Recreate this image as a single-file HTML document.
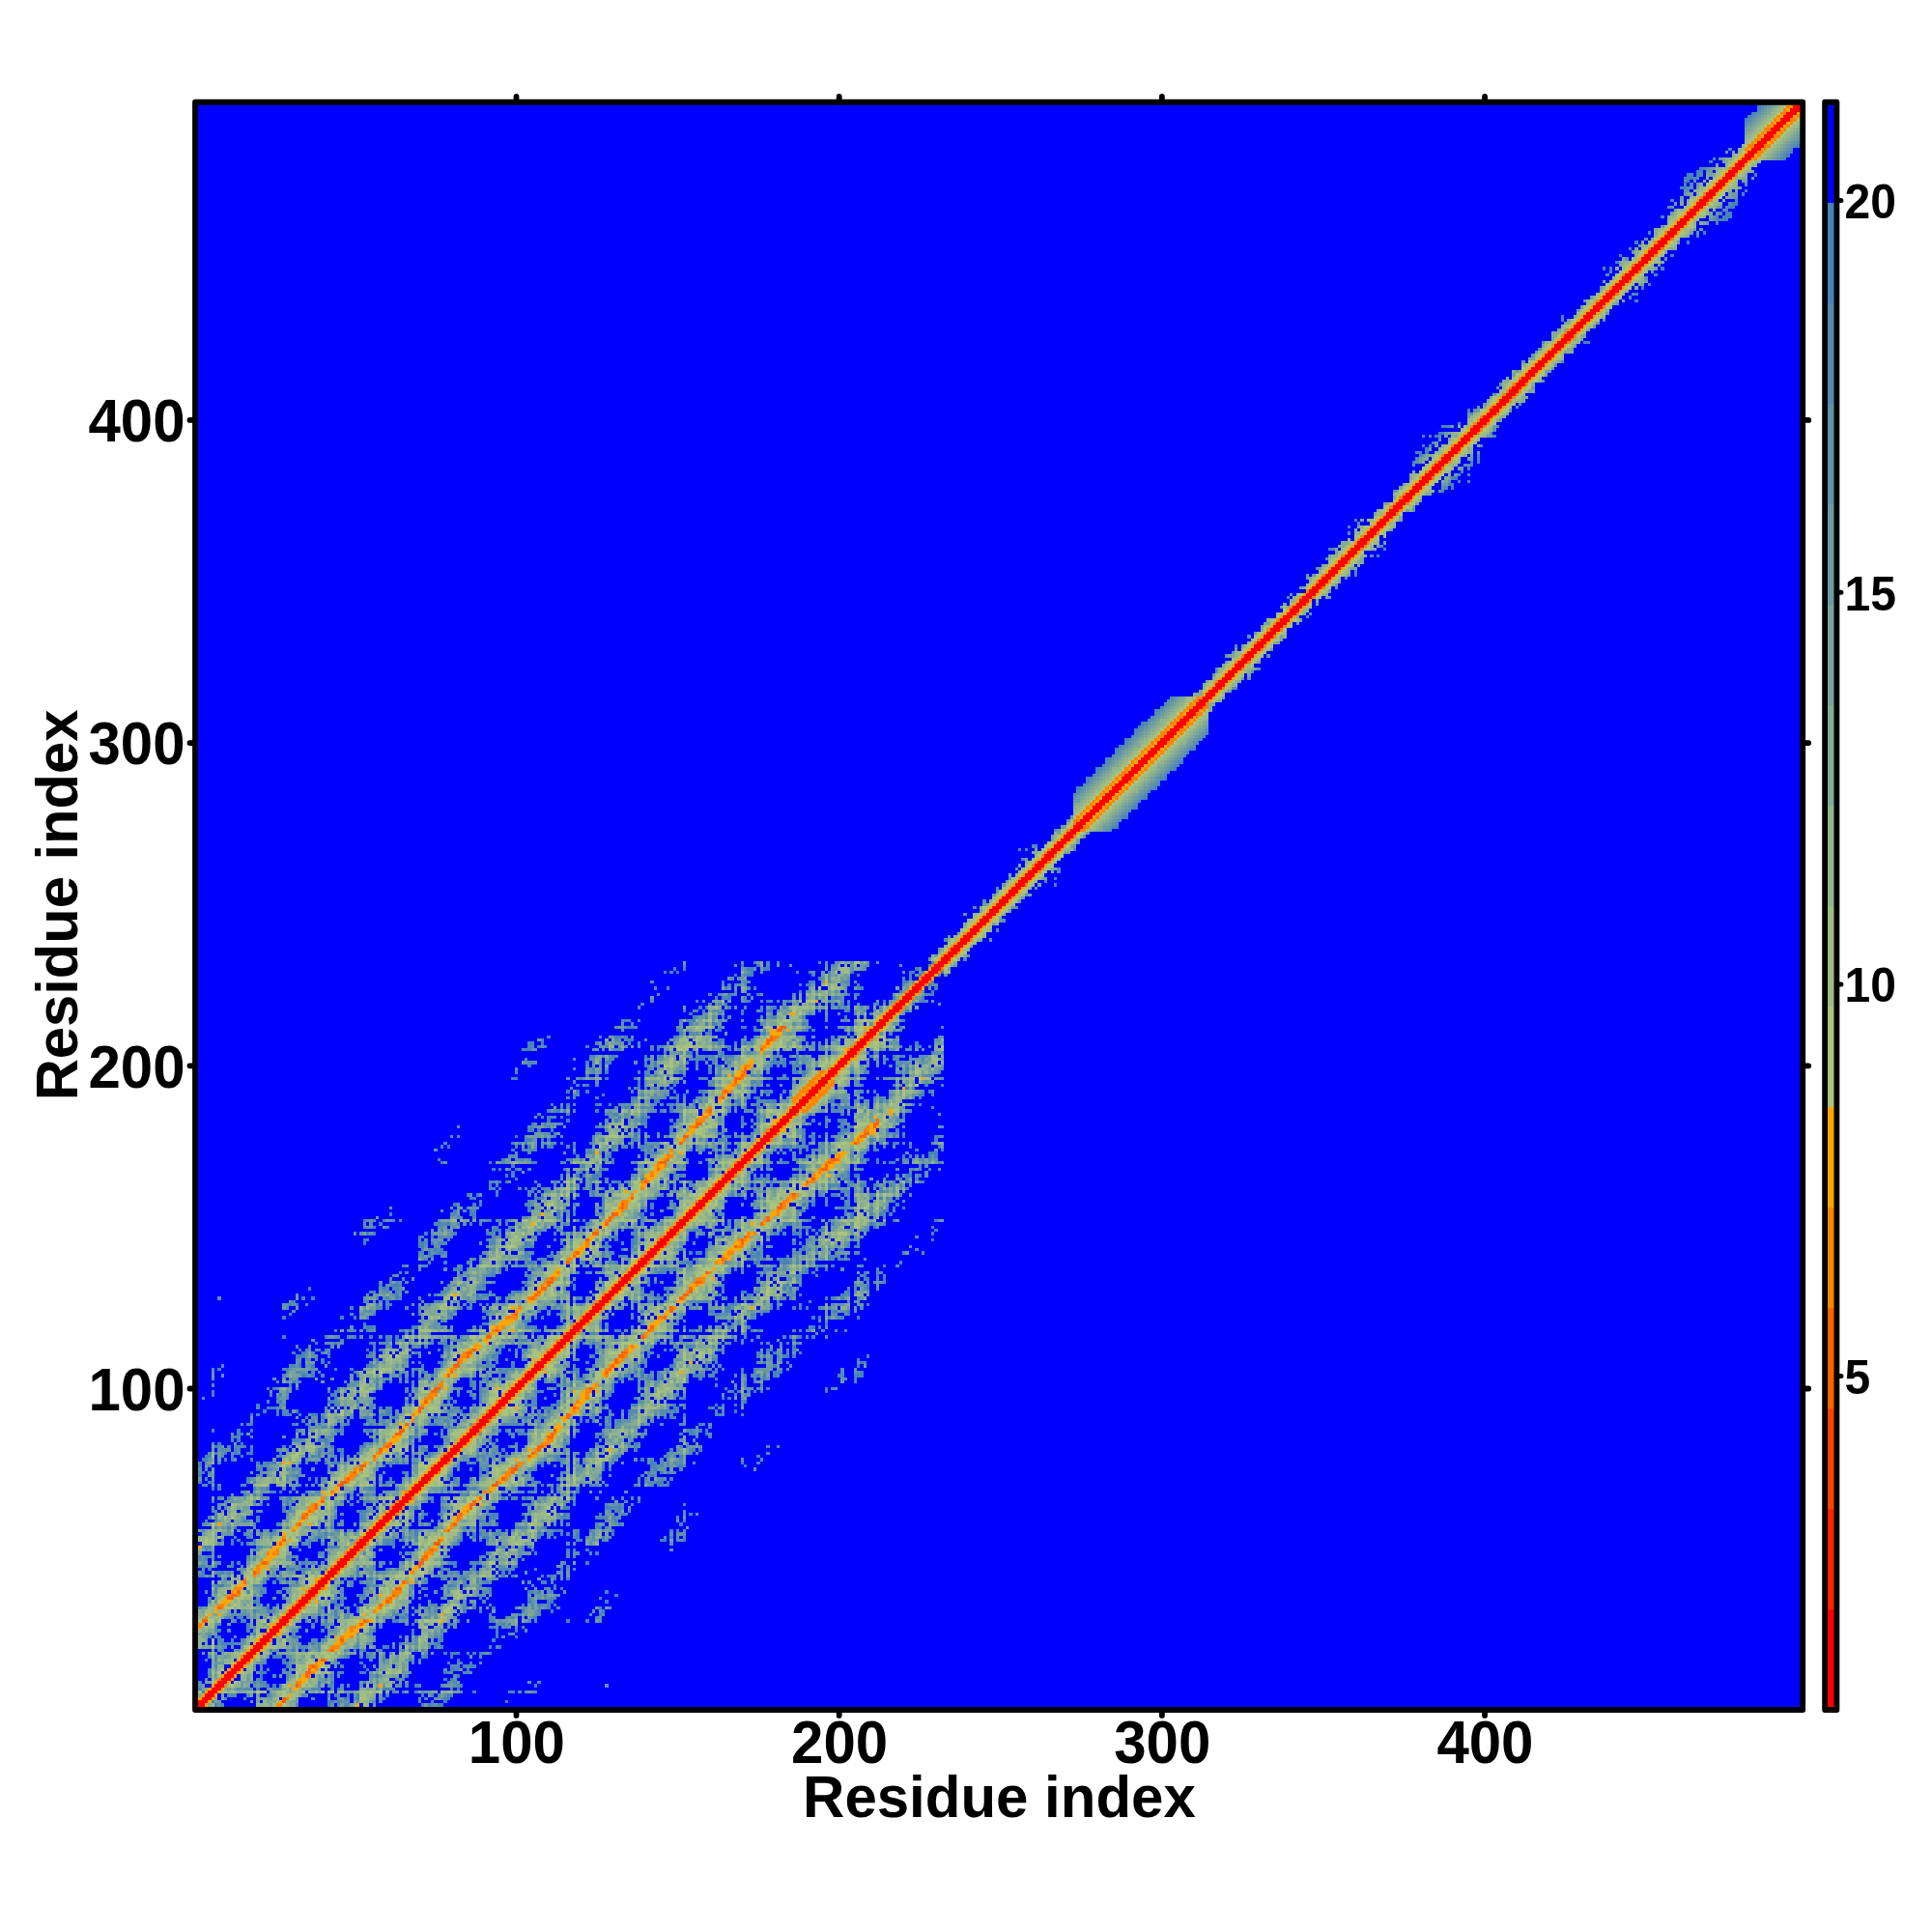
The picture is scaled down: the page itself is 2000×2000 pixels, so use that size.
<!DOCTYPE html><html><head><meta charset="utf-8"><title>Residue contact map</title>
<style>html,body{margin:0;padding:0;background:#fff;width:2000px;height:2000px;overflow:hidden}svg{display:block}text{font-family:"Liberation Sans",sans-serif;font-weight:bold;fill:#000}</style></head><body>
<svg width="2000" height="2000" viewBox="0 0 2000 2000">
<rect x="0" y="0" width="2000" height="2000" fill="#fff"/>
<rect x="202.0" y="105.75" width="1664.20" height="1664.25" fill="#0000ff"/>
<g transform="translate(202.0 1770.0) scale(3.341767 -3.341867)" shape-rendering="crispEdges">
<path fill="#ff0000" d="M0 0h2v1h-2zM0 1h3v1h-3zM1 2h3v1h-3zM2 3h3v1h-3zM3 4h3v1h-3zM4 5h3v1h-3zM5 6h3v1h-3zM6 7h3v1h-3zM7 8h3v1h-3zM8 9h3v1h-3zM9 10h3v1h-3zM10 11h3v1h-3zM11 12h3v1h-3zM12 13h3v1h-3zM13 14h3v1h-3zM14 15h3v1h-3zM15 16h3v1h-3zM16 17h3v1h-3zM17 18h3v1h-3zM18 19h3v1h-3zM19 20h3v1h-3zM20 21h3v1h-3zM21 22h3v1h-3zM22 23h3v1h-3zM23 24h3v1h-3zM24 25h3v1h-3zM25 26h3v1h-3zM26 27h3v1h-3zM27 28h3v1h-3zM28 29h3v1h-3zM29 30h3v1h-3zM30 31h3v1h-3zM31 32h3v1h-3zM32 33h3v1h-3zM33 34h3v1h-3zM34 35h3v1h-3zM35 36h3v1h-3zM36 37h3v1h-3zM37 38h3v1h-3zM38 39h3v1h-3zM39 40h3v1h-3zM40 41h3v1h-3zM41 42h3v1h-3zM42 43h3v1h-3zM43 44h3v1h-3zM44 45h3v1h-3zM45 46h3v1h-3zM46 47h3v1h-3zM47 48h3v1h-3zM48 49h3v1h-3zM49 50h3v1h-3zM50 51h3v1h-3zM51 52h3v1h-3zM52 53h3v1h-3zM53 54h3v1h-3zM54 55h3v1h-3zM55 56h3v1h-3zM56 57h3v1h-3zM57 58h3v1h-3zM58 59h3v1h-3zM59 60h3v1h-3zM60 61h3v1h-3zM61 62h3v1h-3zM62 63h3v1h-3zM63 64h3v1h-3zM64 65h3v1h-3zM65 66h3v1h-3zM66 67h3v1h-3zM67 68h3v1h-3zM68 69h3v1h-3zM69 70h3v1h-3zM70 71h3v1h-3zM71 72h3v1h-3zM72 73h3v1h-3zM73 74h3v1h-3zM74 75h3v1h-3zM75 76h3v1h-3zM76 77h3v1h-3zM77 78h3v1h-3zM78 79h3v1h-3zM79 80h3v1h-3zM80 81h3v1h-3zM81 82h3v1h-3zM82 83h3v1h-3zM83 84h3v1h-3zM84 85h3v1h-3zM85 86h3v1h-3zM86 87h3v1h-3zM87 88h3v1h-3zM88 89h3v1h-3zM89 90h3v1h-3zM90 91h3v1h-3zM91 92h3v1h-3zM92 93h3v1h-3zM93 94h3v1h-3zM94 95h3v1h-3zM95 96h3v1h-3zM96 97h3v1h-3zM97 98h3v1h-3zM98 99h3v1h-3zM99 100h3v1h-3zM100 101h3v1h-3zM101 102h3v1h-3zM102 103h3v1h-3zM103 104h3v1h-3zM104 105h3v1h-3zM105 106h3v1h-3zM106 107h3v1h-3zM107 108h3v1h-3zM108 109h3v1h-3zM109 110h3v1h-3zM110 111h3v1h-3zM111 112h3v1h-3zM112 113h3v1h-3zM113 114h3v1h-3zM114 115h3v1h-3zM115 116h3v1h-3zM116 117h3v1h-3zM117 118h3v1h-3zM118 119h3v1h-3zM119 120h3v1h-3zM120 121h3v1h-3zM121 122h3v1h-3zM122 123h3v1h-3zM123 124h3v1h-3zM124 125h3v1h-3zM125 126h3v1h-3zM126 127h3v1h-3zM127 128h3v1h-3zM128 129h3v1h-3zM129 130h3v1h-3zM130 131h3v1h-3zM131 132h3v1h-3zM132 133h3v1h-3zM133 134h3v1h-3zM134 135h3v1h-3zM135 136h3v1h-3zM136 137h3v1h-3zM137 138h3v1h-3zM138 139h3v1h-3zM139 140h3v1h-3zM140 141h3v1h-3zM141 142h3v1h-3zM142 143h3v1h-3zM143 144h3v1h-3zM144 145h3v1h-3zM145 146h3v1h-3zM146 147h3v1h-3zM147 148h3v1h-3zM148 149h3v1h-3zM149 150h3v1h-3zM150 151h3v1h-3zM151 152h3v1h-3zM152 153h3v1h-3zM153 154h3v1h-3zM154 155h3v1h-3zM155 156h3v1h-3zM156 157h3v1h-3zM157 158h3v1h-3zM158 159h3v1h-3zM159 160h3v1h-3zM160 161h3v1h-3zM161 162h3v1h-3zM162 163h3v1h-3zM163 164h3v1h-3zM164 165h3v1h-3zM165 166h3v1h-3zM166 167h3v1h-3zM167 168h3v1h-3zM168 169h3v1h-3zM169 170h3v1h-3zM170 171h3v1h-3zM171 172h3v1h-3zM172 173h3v1h-3zM173 174h3v1h-3zM174 175h3v1h-3zM175 176h3v1h-3zM176 177h3v1h-3zM177 178h3v1h-3zM178 179h3v1h-3zM179 180h3v1h-3zM180 181h3v1h-3zM181 182h3v1h-3zM182 183h3v1h-3zM183 184h3v1h-3zM184 185h3v1h-3zM185 186h3v1h-3zM186 187h3v1h-3zM187 188h3v1h-3zM188 189h3v1h-3zM189 190h3v1h-3zM190 191h3v1h-3zM191 192h3v1h-3zM192 193h3v1h-3zM193 194h3v1h-3zM194 195h3v1h-3zM195 196h3v1h-3zM196 197h3v1h-3zM197 198h3v1h-3zM198 199h3v1h-3zM199 200h3v1h-3zM200 201h3v1h-3zM201 202h3v1h-3zM202 203h3v1h-3zM203 204h3v1h-3zM204 205h3v1h-3zM205 206h3v1h-3zM206 207h3v1h-3zM207 208h3v1h-3zM208 209h3v1h-3zM209 210h3v1h-3zM210 211h3v1h-3zM211 212h3v1h-3zM212 213h3v1h-3zM213 214h3v1h-3zM214 215h3v1h-3zM215 216h3v1h-3zM216 217h3v1h-3zM217 218h3v1h-3zM218 219h3v1h-3zM219 220h3v1h-3zM220 221h3v1h-3zM221 222h3v1h-3zM222 223h3v1h-3zM223 224h3v1h-3zM224 225h3v1h-3zM225 226h3v1h-3zM226 227h3v1h-3zM227 228h3v1h-3zM228 229h3v1h-3zM229 230h3v1h-3zM230 231h3v1h-3zM231 232h3v1h-3zM232 233h3v1h-3zM233 234h3v1h-3zM234 235h3v1h-3zM235 236h3v1h-3zM236 237h3v1h-3zM237 238h3v1h-3zM238 239h3v1h-3zM239 240h3v1h-3zM240 241h3v1h-3zM241 242h3v1h-3zM242 243h3v1h-3zM243 244h3v1h-3zM244 245h3v1h-3zM245 246h3v1h-3zM246 247h3v1h-3zM247 248h3v1h-3zM248 249h3v1h-3zM249 250h3v1h-3zM250 251h3v1h-3zM251 252h3v1h-3zM252 253h3v1h-3zM253 254h3v1h-3zM254 255h3v1h-3zM255 256h3v1h-3zM256 257h3v1h-3zM257 258h3v1h-3zM258 259h3v1h-3zM259 260h3v1h-3zM260 261h3v1h-3zM261 262h3v1h-3zM262 263h3v1h-3zM263 264h3v1h-3zM264 265h3v1h-3zM265 266h3v1h-3zM266 267h3v1h-3zM267 268h3v1h-3zM268 269h3v1h-3zM269 270h3v1h-3zM270 271h3v1h-3zM271 272h3v1h-3zM272 273h3v1h-3zM273 274h3v1h-3zM274 275h3v1h-3zM275 276h3v1h-3zM276 277h3v1h-3zM277 278h3v1h-3zM278 279h3v1h-3zM279 280h3v1h-3zM280 281h3v1h-3zM281 282h3v1h-3zM282 283h3v1h-3zM283 284h3v1h-3zM284 285h3v1h-3zM285 286h3v1h-3zM286 287h3v1h-3zM287 288h3v1h-3zM288 289h3v1h-3zM289 290h3v1h-3zM290 291h3v1h-3zM291 292h3v1h-3zM292 293h3v1h-3zM293 294h3v1h-3zM294 295h3v1h-3zM295 296h3v1h-3zM296 297h3v1h-3zM297 298h3v1h-3zM298 299h3v1h-3zM299 300h3v1h-3zM300 301h3v1h-3zM301 302h3v1h-3zM302 303h3v1h-3zM303 304h3v1h-3zM304 305h3v1h-3zM305 306h3v1h-3zM306 307h3v1h-3zM307 308h3v1h-3zM308 309h3v1h-3zM309 310h3v1h-3zM310 311h3v1h-3zM311 312h3v1h-3zM312 313h3v1h-3zM313 314h3v1h-3zM314 315h3v1h-3zM315 316h3v1h-3zM316 317h3v1h-3zM317 318h3v1h-3zM318 319h3v1h-3zM319 320h3v1h-3zM320 321h3v1h-3zM321 322h3v1h-3zM322 323h3v1h-3zM323 324h3v1h-3zM324 325h3v1h-3zM325 326h3v1h-3zM326 327h3v1h-3zM327 328h3v1h-3zM328 329h3v1h-3zM329 330h3v1h-3zM330 331h3v1h-3zM331 332h3v1h-3zM332 333h3v1h-3zM333 334h3v1h-3zM334 335h3v1h-3zM335 336h3v1h-3zM336 337h3v1h-3zM337 338h3v1h-3zM338 339h3v1h-3zM339 340h3v1h-3zM340 341h3v1h-3zM341 342h3v1h-3zM342 343h3v1h-3zM343 344h3v1h-3zM344 345h3v1h-3zM345 346h3v1h-3zM346 347h3v1h-3zM347 348h3v1h-3zM348 349h3v1h-3zM349 350h3v1h-3zM350 351h3v1h-3zM351 352h3v1h-3zM352 353h3v1h-3zM353 354h3v1h-3zM354 355h3v1h-3zM355 356h3v1h-3zM356 357h3v1h-3zM357 358h3v1h-3zM358 359h3v1h-3zM359 360h3v1h-3zM360 361h3v1h-3zM361 362h3v1h-3zM362 363h3v1h-3zM363 364h3v1h-3zM364 365h3v1h-3zM365 366h3v1h-3zM366 367h3v1h-3zM367 368h3v1h-3zM368 369h3v1h-3zM369 370h3v1h-3zM370 371h3v1h-3zM371 372h3v1h-3zM372 373h3v1h-3zM373 374h3v1h-3zM374 375h3v1h-3zM375 376h3v1h-3zM376 377h3v1h-3zM377 378h3v1h-3zM378 379h3v1h-3zM379 380h3v1h-3zM380 381h3v1h-3zM381 382h3v1h-3zM382 383h3v1h-3zM383 384h3v1h-3zM384 385h3v1h-3zM385 386h3v1h-3zM386 387h3v1h-3zM387 388h3v1h-3zM388 389h3v1h-3zM389 390h3v1h-3zM390 391h3v1h-3zM391 392h3v1h-3zM392 393h3v1h-3zM393 394h3v1h-3zM394 395h3v1h-3zM395 396h3v1h-3zM396 397h3v1h-3zM397 398h3v1h-3zM398 399h3v1h-3zM399 400h3v1h-3zM400 401h3v1h-3zM401 402h3v1h-3zM402 403h3v1h-3zM403 404h3v1h-3zM404 405h3v1h-3zM405 406h3v1h-3zM406 407h3v1h-3zM407 408h3v1h-3zM408 409h3v1h-3zM409 410h3v1h-3zM410 411h3v1h-3zM411 412h3v1h-3zM412 413h3v1h-3zM413 414h3v1h-3zM414 415h3v1h-3zM415 416h3v1h-3zM416 417h3v1h-3zM417 418h3v1h-3zM418 419h3v1h-3zM419 420h3v1h-3zM420 421h3v1h-3zM421 422h3v1h-3zM422 423h3v1h-3zM423 424h3v1h-3zM424 425h3v1h-3zM425 426h3v1h-3zM426 427h3v1h-3zM427 428h3v1h-3zM428 429h3v1h-3zM429 430h3v1h-3zM430 431h3v1h-3zM431 432h3v1h-3zM432 433h3v1h-3zM433 434h3v1h-3zM434 435h3v1h-3zM435 436h3v1h-3zM436 437h3v1h-3zM437 438h3v1h-3zM438 439h3v1h-3zM439 440h3v1h-3zM440 441h3v1h-3zM441 442h3v1h-3zM442 443h3v1h-3zM443 444h3v1h-3zM444 445h3v1h-3zM445 446h3v1h-3zM446 447h3v1h-3zM447 448h3v1h-3zM448 449h3v1h-3zM449 450h3v1h-3zM450 451h3v1h-3zM451 452h3v1h-3zM452 453h3v1h-3zM453 454h3v1h-3zM454 455h3v1h-3zM455 456h3v1h-3zM456 457h3v1h-3zM457 458h3v1h-3zM458 459h3v1h-3zM459 460h3v1h-3zM460 461h3v1h-3zM461 462h3v1h-3zM462 463h3v1h-3zM463 464h3v1h-3zM464 465h3v1h-3zM465 466h3v1h-3zM466 467h3v1h-3zM467 468h3v1h-3zM468 469h3v1h-3zM469 470h3v1h-3zM470 471h3v1h-3zM471 472h3v1h-3zM472 473h3v1h-3zM473 474h3v1h-3zM474 475h3v1h-3zM475 476h3v1h-3zM476 477h3v1h-3zM477 478h3v1h-3zM478 479h3v1h-3zM479 480h3v1h-3zM480 481h3v1h-3zM481 482h3v1h-3zM482 483h3v1h-3zM483 484h3v1h-3zM484 485h3v1h-3zM485 486h3v1h-3zM486 487h3v1h-3zM487 488h3v1h-3zM488 489h3v1h-3zM489 490h3v1h-3zM490 491h3v1h-3zM491 492h3v1h-3zM492 493h3v1h-3zM493 494h3v1h-3zM494 495h3v1h-3zM495 496h3v1h-3zM496 497h2v1h-2z"/>
<path fill="#ff6300" d="M27 2h1v2h-1zM31 7h1v1h-1zM34 10h1v1h-1zM34 11h2v1h-2zM35 12h1v1h-1zM36 13h1v1h-1zM39 15h1v1h-1zM42 18h1v1h-1zM45 21h1v1h-1zM51 26h1v1h-1zM2 27h2v1h-2zM52 27h1v1h-1zM7 31h1v1h-1zM57 32h1v1h-1zM59 33h1v1h-1zM10 34h2v1h-2zM60 34h1v1h-1zM11 35h2v1h-2zM61 35h1v1h-1zM13 36h1v1h-1zM62 37h2v1h-2zM15 39h1v1h-1zM64 39h1v1h-1zM18 42h1v1h-1zM69 44h1v1h-1zM21 45h1v1h-1zM69 45h2v1h-2zM70 46h1v1h-1zM71 47h1v1h-1zM73 49h1v1h-1zM26 51h1v1h-1zM74 51h2v1h-2zM27 52h1v1h-1zM75 52h1v1h-1zM78 55h1v1h-1zM32 57h1v1h-1zM80 57h1v1h-1zM33 59h1v1h-1zM81 59h1v1h-1zM34 60h1v1h-1zM82 60h1v1h-1zM35 61h1v1h-1zM37 62h1v2h-1zM85 62h1v1h-1zM85 63h2v1h-2zM39 64h1v1h-1zM86 64h1v1h-1zM88 65h1v1h-1zM44 69h2v1h-2zM92 69h2v1h-2zM45 70h2v1h-2zM93 70h1v1h-1zM47 71h1v1h-1zM95 71h1v1h-1zM49 73h1v1h-1zM98 73h1v1h-1zM51 74h1v1h-1zM98 74h2v1h-2zM51 75h2v1h-2zM99 75h1v1h-1zM55 78h1v1h-1zM103 78h1v1h-1zM104 79h1v1h-1zM57 80h1v1h-1zM106 80h1v1h-1zM59 81h1v1h-1zM106 81h2v1h-2zM60 82h1v1h-1zM109 84h2v1h-2zM62 85h2v1h-2zM110 85h1v1h-1zM63 86h2v1h-2zM111 86h1v1h-1zM65 88h1v1h-1zM115 90h1v2h-1zM69 92h1v1h-1zM69 93h2v1h-2zM117 93h1v1h-1zM71 95h1v1h-1zM73 98h2v1h-2zM74 99h2v1h-2zM122 99h1v1h-1zM78 103h1v1h-1zM79 104h1v1h-1zM127 104h1v1h-1zM128 105h1v1h-1zM80 106h2v1h-2zM129 106h1v1h-1zM81 107h1v1h-1zM130 107h1v2h-1zM84 109h1v1h-1zM131 109h2v1h-2zM84 110h2v1h-2zM132 110h2v1h-2zM86 111h1v1h-1zM90 115h2v1h-2zM138 115h1v1h-1zM93 117h1v1h-1zM140 117h1v1h-1zM141 118h1v1h-1zM145 121h1v1h-1zM99 122h1v1h-1zM147 123h1v2h-1zM104 127h1v1h-1zM150 127h1v1h-1zM105 128h1v1h-1zM151 128h2v1h-2zM106 129h1v1h-1zM153 129h1v2h-1zM107 130h2v1h-2zM109 131h1v1h-1zM109 132h2v1h-2zM155 132h2v1h-2zM110 133h1v1h-1zM158 135h1v1h-1zM115 138h1v1h-1zM163 139h1v1h-1zM117 140h1v1h-1zM118 141h1v1h-1zM167 143h1v1h-1zM169 144h1v2h-1zM121 145h1v1h-1zM170 146h1v1h-1zM123 147h2v1h-2zM127 150h1v1h-1zM175 150h1v1h-1zM128 151h1v2h-1zM177 151h1v2h-1zM129 153h2v1h-2zM132 155h1v2h-1zM180 155h2v1h-2zM181 156h1v1h-1zM135 158h1v1h-1zM185 159h1v1h-1zM139 163h1v1h-1zM189 163h1v1h-1zM191 164h1v1h-1zM143 167h1v1h-1zM194 167h2v1h-2zM195 168h1v1h-1zM144 169h2v1h-2zM196 169h1v1h-1zM146 170h1v1h-1zM197 170h2v1h-2zM150 175h1v1h-1zM204 175h1v1h-1zM151 177h2v1h-2zM206 177h2v1h-2zM207 178h2v1h-2zM155 180h1v1h-1zM210 180h1v1h-1zM155 181h2v1h-2zM210 181h2v1h-2zM211 182h1v1h-1zM159 185h1v1h-1zM163 189h1v1h-1zM164 191h1v1h-1zM167 194h1v1h-1zM167 195h2v1h-2zM169 196h1v1h-1zM170 197h1v2h-1zM175 204h1v1h-1zM177 206h1v1h-1zM177 207h2v1h-2zM178 208h1v1h-1zM180 210h2v1h-2zM181 211h2v1h-2z"/>
<path fill="#ff8400" d="M25 0h1v1h-1zM25 1h2v1h-2zM28 3h1v1h-1zM9 7h1v1h-1zM32 7h1v1h-1zM31 8h2v1h-2zM7 9h1v1h-1zM35 10h1v1h-1zM36 11h1v1h-1zM37 12h1v3h-1zM35 13h1v1h-1zM16 14h1v1h-1zM40 15h1v1h-1zM14 16h1v1h-1zM41 18h1v1h-1zM42 19h3v1h-3zM45 20h1v1h-1zM23 21h1v1h-1zM45 22h1v1h-1zM48 22h1v1h-1zM21 23h1v1h-1zM48 24h1v1h-1zM0 25h2v1h-2zM48 25h2v1h-2zM1 26h1v1h-1zM28 26h1v1h-1zM53 27h1v1h-1zM3 28h1v1h-1zM26 28h1v1h-1zM30 28h1v1h-1zM28 30h1v1h-1zM32 30h1v1h-1zM55 30h1v1h-1zM8 31h1v1h-1zM33 31h1v1h-1zM57 31h1v1h-1zM7 32h2v1h-2zM30 32h1v1h-1zM31 33h1v1h-1zM35 33h1v1h-1zM60 33h1v1h-1zM36 34h1v1h-1zM59 34h1v1h-1zM10 35h1v1h-1zM13 35h1v1h-1zM33 35h1v1h-1zM37 35h1v1h-1zM62 35h1v1h-1zM11 36h1v1h-1zM34 36h1v1h-1zM61 36h3v1h-3zM12 37h3v1h-3zM35 37h1v1h-1zM39 37h1v1h-1zM37 39h1v1h-1zM65 39h1v1h-1zM15 40h1v1h-1zM18 41h1v1h-1zM19 42h1v3h-1zM44 42h1v1h-1zM67 42h1v1h-1zM42 44h1v1h-1zM46 44h1v1h-1zM20 45h1v1h-1zM22 45h1v1h-1zM44 46h1v1h-1zM48 46h1v1h-1zM71 46h1v1h-1zM70 47h1v1h-1zM22 48h1v1h-1zM24 48h2v1h-2zM46 48h1v1h-1zM71 48h3v1h-3zM25 49h1v1h-1zM51 49h1v1h-1zM72 49h1v1h-1zM74 49h1v1h-1zM52 50h1v1h-1zM49 51h1v1h-1zM53 51h1v1h-1zM50 52h1v1h-1zM76 52h1v1h-1zM27 53h1v1h-1zM51 53h1v1h-1zM30 55h1v1h-1zM77 55h1v1h-1zM79 56h1v2h-1zM31 57h1v1h-1zM81 58h1v1h-1zM34 59h1v1h-1zM82 59h1v1h-1zM33 60h1v1h-1zM62 60h1v1h-1zM81 60h1v1h-1zM36 61h1v1h-1zM63 61h1v1h-1zM84 61h1v1h-1zM35 62h2v1h-2zM60 62h1v1h-1zM64 62h1v1h-1zM36 63h1v1h-1zM61 63h1v1h-1zM62 64h1v1h-1zM39 65h1v1h-1zM67 65h1v1h-1zM42 67h1v1h-1zM65 67h1v1h-1zM89 67h1v1h-1zM91 67h1v1h-1zM47 70h1v1h-1zM94 70h1v1h-1zM46 71h1v1h-1zM48 71h1v1h-1zM96 71h1v1h-1zM48 72h2v1h-2zM96 72h2v2h-2zM48 73h1v1h-1zM75 73h1v1h-1zM49 74h1v1h-1zM97 74h1v1h-1zM73 75h1v1h-1zM100 75h1v1h-1zM52 76h1v1h-1zM78 76h1v1h-1zM100 76h2v1h-2zM55 77h1v1h-1zM79 77h1v1h-1zM76 78h1v1h-1zM56 79h2v1h-2zM77 79h1v1h-1zM105 79h1v2h-1zM58 81h1v1h-1zM60 81h1v1h-1zM108 81h1v1h-1zM59 82h1v1h-1zM107 82h3v1h-3zM109 83h2v1h-2zM61 84h1v1h-1zM87 85h1v1h-1zM111 85h1v1h-1zM88 86h1v1h-1zM85 87h1v1h-1zM89 87h1v1h-1zM86 88h1v1h-1zM67 89h1v1h-1zM87 89h1v1h-1zM91 89h1v1h-1zM92 90h1v1h-1zM67 91h1v1h-1zM89 91h1v1h-1zM116 91h1v1h-1zM90 92h1v1h-1zM117 92h1v1h-1zM95 93h1v1h-1zM118 93h1v1h-1zM70 94h1v1h-1zM117 94h1v1h-1zM93 95h1v1h-1zM118 95h1v1h-1zM71 96h3v1h-3zM121 96h1v2h-1zM72 97h3v1h-3zM121 98h2v1h-2zM121 99h1v1h-1zM123 99h1v1h-1zM75 100h2v1h-2zM124 100h1v1h-1zM76 101h1v1h-1zM104 102h1v1h-1zM127 103h1v1h-1zM102 104h1v1h-1zM79 105h2v1h-2zM107 105h1v1h-1zM127 105h1v1h-1zM128 106h1v1h-1zM82 107h1v1h-1zM105 107h1v1h-1zM131 107h1v1h-1zM81 108h2v1h-2zM132 108h1v1h-1zM82 109h2v1h-2zM111 109h1v1h-1zM133 109h1v1h-1zM83 110h1v1h-1zM85 111h1v1h-1zM109 111h1v1h-1zM133 111h1v1h-1zM114 112h1v1h-1zM135 112h1v1h-1zM112 114h1v1h-1zM116 114h1v1h-1zM139 115h1v2h-1zM91 116h1v1h-1zM114 116h1v1h-1zM118 116h1v1h-1zM92 117h1v1h-1zM94 117h1v1h-1zM119 117h1v1h-1zM141 117h1v1h-1zM93 118h1v1h-1zM95 118h1v1h-1zM116 118h1v1h-1zM117 119h1v1h-1zM121 119h1v1h-1zM96 121h4v1h-4zM119 121h1v1h-1zM143 121h2v1h-2zM98 122h1v1h-1zM99 123h1v1h-1zM125 123h1v1h-1zM100 124h1v1h-1zM126 124h1v1h-1zM148 124h1v1h-1zM123 125h1v1h-1zM124 126h1v1h-1zM128 126h1v1h-1zM103 127h1v1h-1zM105 127h1v1h-1zM151 127h1v1h-1zM106 128h1v1h-1zM126 128h1v1h-1zM152 129h1v1h-1zM107 131h1v1h-1zM133 131h1v1h-1zM155 131h1v1h-1zM108 132h1v1h-1zM154 132h1v1h-1zM157 132h1v1h-1zM109 133h1v1h-1zM111 133h1v1h-1zM131 133h1v1h-1zM155 133h3v1h-3zM112 135h1v1h-1zM159 135h1v1h-1zM139 137h1v1h-1zM140 138h1v1h-1zM161 138h1v1h-1zM163 138h1v1h-1zM115 139h2v1h-2zM137 139h1v1h-1zM141 139h1v1h-1zM164 139h1v1h-1zM138 140h1v1h-1zM163 140h1v1h-1zM117 141h1v1h-1zM139 141h1v1h-1zM165 141h2v1h-2zM121 143h1v2h-1zM145 143h1v1h-1zM168 143h2v1h-2zM146 144h1v1h-1zM143 145h1v1h-1zM168 145h1v1h-1zM170 145h1v1h-1zM144 146h1v1h-1zM171 146h1v2h-1zM149 147h1v1h-1zM173 147h1v1h-1zM124 148h1v1h-1zM147 149h1v1h-1zM127 151h1v1h-1zM176 151h1v1h-1zM129 152h1v1h-1zM180 153h1v2h-1zM132 154h1v1h-1zM131 155h1v1h-1zM133 155h1v2h-1zM157 155h1v1h-1zM182 155h1v2h-1zM132 157h2v1h-2zM155 157h1v1h-1zM182 157h2v1h-2zM183 158h1v1h-1zM185 158h1v1h-1zM135 159h1v1h-1zM161 159h1v1h-1zM184 159h1v1h-1zM186 159h1v1h-1zM162 160h1v1h-1zM138 161h1v1h-1zM159 161h1v1h-1zM160 162h1v1h-1zM189 162h1v1h-1zM138 163h1v1h-1zM140 163h1v1h-1zM165 163h1v1h-1zM190 163h2v1h-2zM139 164h1v1h-1zM141 165h1v2h-1zM163 165h1v1h-1zM167 165h1v1h-1zM191 165h1v1h-1zM193 166h1v2h-1zM165 167h1v1h-1zM169 167h1v1h-1zM143 168h1v2h-1zM145 168h1v1h-1zM167 169h1v1h-1zM171 169h1v1h-1zM195 169h1v1h-1zM197 169h1v1h-1zM145 170h1v1h-1zM196 170h1v1h-1zM199 170h1v2h-1zM146 171h2v1h-2zM169 171h1v1h-1zM147 173h1v1h-1zM205 175h1v2h-1zM151 176h1v1h-1zM178 176h1v1h-1zM179 177h1v1h-1zM176 178h1v1h-1zM180 178h1v1h-1zM177 179h1v1h-1zM207 179h2v1h-2zM153 180h2v1h-2zM178 180h1v1h-1zM208 180h1v1h-1zM155 182h3v1h-3zM157 183h2v1h-2zM159 184h1v1h-1zM186 184h1v1h-1zM158 185h1v1h-1zM188 185h2v1h-2zM159 186h1v1h-1zM184 186h1v1h-1zM189 186h2v1h-2zM190 187h2v1h-2zM185 188h1v1h-1zM191 188h2v1h-2zM162 189h1v1h-1zM185 189h2v1h-2zM191 189h3v1h-3zM163 190h1v2h-1zM186 190h2v1h-2zM193 190h2v1h-2zM165 191h1v1h-1zM187 191h3v1h-3zM193 191h3v1h-3zM188 192h2v1h-2zM195 192h2v1h-2zM166 193h2v1h-2zM189 193h3v1h-3zM196 193h2v1h-2zM190 194h2v1h-2zM197 194h1v1h-1zM169 195h1v1h-1zM191 195h2v1h-2zM170 196h1v1h-1zM192 196h2v1h-2zM198 196h1v1h-1zM169 197h1v1h-1zM193 197h2v1h-2zM196 198h1v1h-1zM170 199h2v1h-2zM204 202h1v1h-1zM205 203h1v1h-1zM202 204h1v1h-1zM206 204h1v1h-1zM175 205h2v1h-2zM203 205h1v1h-1zM204 206h1v1h-1zM179 207h1v1h-1zM209 207h1v1h-1zM179 208h2v1h-2zM207 209h1v1h-1zM218 216h1v1h-1zM219 217h1v1h-1zM216 218h1v1h-1zM217 219h1v1h-1zM222 220h1v1h-1zM220 222h1v1h-1zM224 222h1v1h-1zM222 224h1v1h-1zM226 224h1v1h-1zM227 225h1v1h-1zM224 226h1v1h-1zM225 227h1v1h-1zM230 228h1v1h-1zM231 229h1v1h-1zM228 230h1v1h-1zM229 231h1v1h-1zM233 231h1v1h-1zM231 233h1v1h-1zM235 233h1v1h-1zM236 234h1v1h-1zM233 235h1v1h-1zM234 236h1v1h-1zM240 238h1v1h-1zM238 240h1v1h-1zM257 255h1v1h-1zM255 257h1v1h-1zM261 259h1v1h-1zM262 260h1v1h-1zM259 261h1v1h-1zM260 262h1v1h-1zM264 262h1v1h-1zM265 263h1v1h-1zM262 264h1v1h-1zM266 264h1v1h-1zM263 265h1v1h-1zM264 266h1v1h-1zM272 270h1v1h-1zM270 272h1v1h-1zM274 272h2v1h-2zM275 273h2v1h-2zM272 274h1v1h-1zM277 274h1v1h-1zM272 275h2v1h-2zM278 275h1v1h-1zM273 276h1v1h-1zM279 276h1v1h-1zM274 277h1v1h-1zM280 277h1v1h-1zM275 278h1v1h-1zM281 278h1v1h-1zM276 279h1v1h-1zM282 279h1v1h-1zM277 280h1v1h-1zM283 280h1v1h-1zM278 281h1v1h-1zM284 281h1v1h-1zM279 282h1v1h-1zM285 282h1v1h-1zM280 283h1v1h-1zM286 283h1v1h-1zM281 284h1v1h-1zM287 284h1v1h-1zM282 285h1v1h-1zM288 285h1v1h-1zM283 286h1v1h-1zM289 286h1v1h-1zM284 287h1v1h-1zM289 287h2v1h-2zM285 288h1v1h-1zM290 288h2v1h-2zM286 289h2v1h-2zM292 289h1v1h-1zM287 290h2v1h-2zM293 290h1v1h-1zM288 291h1v1h-1zM294 291h1v1h-1zM289 292h1v1h-1zM295 292h1v1h-1zM290 293h1v1h-1zM296 293h1v1h-1zM291 294h1v1h-1zM297 294h1v1h-1zM292 295h1v1h-1zM298 295h1v1h-1zM293 296h1v1h-1zM299 296h1v1h-1zM294 297h1v1h-1zM300 297h1v1h-1zM295 298h1v1h-1zM301 298h1v1h-1zM296 299h1v1h-1zM301 299h2v1h-2zM297 300h1v1h-1zM302 300h2v1h-2zM298 301h2v1h-2zM304 301h1v1h-1zM299 302h2v1h-2zM305 302h1v1h-1zM300 303h1v1h-1zM305 303h2v1h-2zM301 304h1v1h-1zM307 304h1v1h-1zM302 305h2v1h-2zM307 305h2v1h-2zM303 306h1v1h-1zM309 306h1v1h-1zM304 307h2v1h-2zM310 307h1v1h-1zM305 308h1v1h-1zM310 308h2v1h-2zM306 309h1v1h-1zM312 309h1v1h-1zM307 310h2v1h-2zM312 310h2v1h-2zM308 311h1v1h-1zM313 311h1v1h-1zM309 312h2v1h-2zM310 313h2v1h-2zM318 316h1v1h-1zM316 318h1v1h-1zM324 322h1v1h-1zM322 324h1v1h-1zM326 324h1v1h-1zM324 326h1v1h-1zM330 328h1v1h-1zM331 329h1v1h-1zM328 330h1v1h-1zM329 331h1v1h-1zM334 332h1v1h-1zM332 334h1v1h-1zM336 334h1v1h-1zM337 335h1v1h-1zM334 336h1v1h-1zM335 337h1v1h-1zM341 339h1v1h-1zM339 341h1v1h-1zM344 342h1v1h-1zM342 344h1v1h-1zM346 344h1v1h-1zM344 346h1v1h-1zM349 347h1v1h-1zM347 349h1v1h-1zM351 349h1v1h-1zM349 351h1v1h-1zM357 355h1v1h-1zM355 357h1v1h-1zM361 359h1v1h-1zM362 360h1v1h-1zM359 361h1v1h-1zM363 361h1v1h-1zM360 362h1v1h-1zM361 363h1v1h-1zM366 364h1v1h-1zM364 366h1v1h-1zM372 370h1v1h-1zM373 371h1v1h-1zM370 372h1v1h-1zM371 373h1v1h-1zM375 373h1v1h-1zM376 374h1v1h-1zM373 375h1v1h-1zM374 376h1v1h-1zM381 379h1v1h-1zM379 381h1v1h-1zM383 381h1v1h-1zM381 383h1v1h-1zM385 383h1v1h-1zM386 384h1v1h-1zM383 385h1v1h-1zM384 386h1v1h-1zM388 386h1v1h-1zM386 388h1v1h-1zM391 389h1v1h-1zM389 391h1v1h-1zM397 395h1v1h-1zM398 396h1v1h-1zM395 397h1v1h-1zM399 397h1v1h-1zM396 398h1v1h-1zM400 398h1v1h-1zM397 399h1v1h-1zM398 400h1v1h-1zM403 401h1v1h-1zM401 403h1v1h-1zM407 405h1v1h-1zM408 406h1v1h-1zM405 407h1v1h-1zM409 407h1v1h-1zM406 408h1v1h-1zM410 408h1v1h-1zM407 409h1v1h-1zM408 410h1v1h-1zM412 410h1v1h-1zM410 412h1v1h-1zM425 423h1v1h-1zM426 424h1v1h-1zM423 425h1v1h-1zM427 425h1v1h-1zM424 426h1v1h-1zM425 427h1v1h-1zM436 434h1v1h-1zM434 436h1v1h-1zM439 437h1v1h-1zM440 438h1v1h-1zM437 439h1v1h-1zM438 440h1v1h-1zM444 442h1v1h-1zM442 444h1v1h-1zM447 445h1v1h-1zM445 447h1v1h-1zM452 450h1v1h-1zM450 452h1v1h-1zM454 452h1v1h-1zM452 454h1v1h-1zM457 455h1v1h-1zM455 457h1v1h-1zM468 466h1v1h-1zM469 467h1v1h-1zM466 468h1v1h-1zM467 469h1v1h-1zM477 475h1v1h-1zM475 477h1v1h-1zM483 480h1v1h-1zM484 481h1v1h-1zM484 482h2v1h-2zM480 483h1v1h-1zM486 483h1v1h-1zM481 484h2v1h-2zM486 484h2v1h-2zM482 485h1v1h-1zM488 485h1v1h-1zM483 486h2v1h-2zM489 486h1v1h-1zM484 487h1v1h-1zM489 487h2v1h-2zM485 488h1v1h-1zM491 488h1v1h-1zM486 489h2v1h-2zM492 489h1v1h-1zM487 490h1v1h-1zM493 490h1v1h-1zM488 491h1v1h-1zM494 491h1v1h-1zM489 492h1v1h-1zM494 492h2v1h-2zM490 493h1v1h-1zM496 493h1v1h-1zM491 494h2v1h-2zM497 494h1v1h-1zM492 495h1v1h-1zM493 496h1v1h-1zM494 497h1v1h-1z"/>
<path fill="#ffa500" d="M2 0h1v1h-1zM24 0h1v1h-1zM3 1h1v1h-1zM50 1h1v1h-1zM0 2h1v1h-1zM4 2h1v1h-1zM26 2h1v1h-1zM1 3h1v1h-1zM5 3h1v1h-1zM2 4h1v1h-1zM6 4h1v1h-1zM29 4h1v1h-1zM3 5h1v1h-1zM7 5h1v1h-1zM4 6h1v1h-1zM8 6h1v1h-1zM30 6h2v1h-2zM5 7h1v1h-1zM29 7h1v1h-1zM57 7h1v1h-1zM6 8h1v1h-1zM10 8h1v1h-1zM33 8h1v1h-1zM11 9h1v1h-1zM32 9h3v1h-3zM8 10h1v1h-1zM12 10h1v1h-1zM33 10h1v1h-1zM9 11h1v1h-1zM13 11h1v1h-1zM10 12h1v1h-1zM14 12h1v1h-1zM36 12h1v1h-1zM11 13h1v1h-1zM15 13h1v1h-1zM38 13h1v1h-1zM12 14h1v1h-1zM38 14h2v1h-2zM13 15h1v1h-1zM17 15h1v1h-1zM38 15h1v1h-1zM18 16h1v1h-1zM15 17h1v1h-1zM19 17h1v1h-1zM16 18h1v1h-1zM20 18h1v1h-1zM43 18h1v1h-1zM17 19h1v1h-1zM21 19h1v1h-1zM18 20h1v1h-1zM22 20h1v1h-1zM43 20h2v1h-2zM19 21h1v1h-1zM44 21h1v1h-1zM46 21h1v1h-1zM20 22h1v1h-1zM24 22h1v1h-1zM43 22h1v1h-1zM46 22h2v1h-2zM25 23h2v1h-2zM46 23h4v1h-4zM0 24h1v1h-1zM22 24h1v1h-1zM26 24h1v1h-1zM47 24h1v1h-1zM49 24h2v1h-2zM23 25h1v1h-1zM27 25h1v1h-1zM50 25h2v1h-2zM2 26h1v1h-1zM23 26h2v1h-2zM50 26h1v1h-1zM52 26h1v1h-1zM25 27h1v1h-1zM29 27h1v1h-1zM51 27h1v1h-1zM54 27h1v1h-1zM76 27h1v1h-1zM4 29h1v1h-1zM7 29h1v1h-1zM27 29h1v1h-1zM31 29h1v1h-1zM52 29h1v1h-1zM76 29h1v1h-1zM6 30h1v2h-1zM56 30h1v2h-1zM29 31h1v1h-1zM9 32h1v1h-1zM34 32h1v1h-1zM58 32h1v2h-1zM8 33h3v1h-3zM37 33h1v1h-1zM9 34h1v1h-1zM32 34h1v1h-1zM61 34h1v1h-1zM57 35h1v1h-1zM60 35h1v1h-1zM12 36h1v1h-1zM38 36h1v1h-1zM33 37h1v1h-1zM40 37h1v2h-1zM13 38h3v1h-3zM36 38h1v1h-1zM63 38h2v1h-2zM14 39h1v1h-1zM41 39h1v1h-1zM67 39h1v1h-1zM37 40h2v1h-2zM42 40h1v1h-1zM66 40h1v1h-1zM39 41h1v1h-1zM43 41h1v1h-1zM40 42h1v1h-1zM66 42h1v1h-1zM18 43h1v1h-1zM20 43h1v1h-1zM22 43h1v1h-1zM41 43h1v1h-1zM45 43h1v1h-1zM67 43h2v1h-2zM20 44h2v1h-2zM68 44h1v1h-1zM43 45h1v1h-1zM47 45h1v1h-1zM21 46h3v1h-3zM22 47h3v1h-3zM45 47h1v1h-1zM49 47h1v1h-1zM72 47h1v1h-1zM23 48h1v1h-1zM50 48h1v1h-1zM23 49h2v1h-2zM47 49h1v1h-1zM1 50h1v1h-1zM24 50h3v1h-3zM48 50h1v1h-1zM73 50h2v1h-2zM25 51h1v1h-1zM27 51h1v1h-1zM26 52h1v1h-1zM29 52h1v1h-1zM54 52h1v1h-1zM55 53h1v1h-1zM76 53h1v1h-1zM27 54h1v1h-1zM52 54h1v1h-1zM56 54h1v1h-1zM53 55h1v1h-1zM57 55h1v1h-1zM30 56h2v1h-2zM54 56h1v1h-1zM58 56h1v1h-1zM78 56h1v1h-1zM7 57h1v1h-1zM35 57h1v1h-1zM55 57h1v1h-1zM59 57h1v1h-1zM32 58h2v1h-2zM56 58h1v1h-1zM60 58h1v1h-1zM80 58h1v2h-1zM57 59h1v1h-1zM61 59h1v1h-1zM35 60h1v1h-1zM58 60h1v1h-1zM83 60h1v1h-1zM34 61h1v1h-1zM59 61h1v1h-1zM82 61h2v1h-2zM83 62h2v1h-2zM38 63h1v2h-1zM65 63h1v1h-1zM84 63h1v1h-1zM88 63h1v1h-1zM66 64h2v1h-2zM87 64h1v2h-1zM63 65h1v1h-1zM40 66h1v1h-1zM42 66h1v1h-1zM64 66h1v2h-1zM68 66h1v1h-1zM39 67h1v1h-1zM43 67h1v1h-1zM69 67h1v1h-1zM90 67h1v1h-1zM43 68h2v1h-2zM66 68h1v1h-1zM70 68h1v1h-1zM91 68h2v1h-2zM67 69h1v1h-1zM71 69h1v1h-1zM68 70h1v1h-1zM72 70h1v1h-1zM95 70h1v1h-1zM69 71h1v1h-1zM73 71h1v1h-1zM94 71h1v1h-1zM47 72h1v1h-1zM70 72h1v1h-1zM74 72h1v1h-1zM95 72h1v1h-1zM50 73h1v2h-1zM71 73h1v1h-1zM72 74h1v1h-1zM76 74h1v1h-1zM77 75h1v1h-1zM27 76h1v1h-1zM29 76h1v1h-1zM53 76h1v1h-1zM74 76h1v1h-1zM75 77h1v1h-1zM99 77h1v1h-1zM103 77h1v1h-1zM56 78h1v1h-1zM80 78h1v1h-1zM104 78h2v1h-2zM81 79h1v1h-1zM58 80h2v1h-2zM78 80h1v1h-1zM82 80h1v1h-1zM103 80h1v1h-1zM128 80h1v1h-1zM79 81h1v1h-1zM83 81h1v1h-1zM61 82h1v1h-1zM80 82h1v1h-1zM84 82h1v1h-1zM60 83h3v1h-3zM81 83h1v1h-1zM85 83h1v1h-1zM108 83h1v1h-1zM62 84h2v1h-2zM82 84h1v1h-1zM86 84h1v1h-1zM111 84h1v1h-1zM83 85h1v1h-1zM109 85h1v1h-1zM84 86h1v1h-1zM112 86h1v1h-1zM64 87h2v1h-2zM111 87h3v1h-3zM63 88h1v1h-1zM90 88h1v1h-1zM112 88h1v1h-1zM114 89h1v1h-1zM67 90h1v1h-1zM88 90h1v1h-1zM113 90h2v1h-2zM68 91h1v2h-1zM93 91h1v1h-1zM94 92h1v1h-1zM116 92h1v2h-1zM118 92h1v1h-1zM91 93h1v1h-1zM99 93h1v1h-1zM71 94h1v1h-1zM92 94h1v1h-1zM96 94h1v1h-1zM118 94h2v1h-2zM70 95h1v1h-1zM72 95h1v1h-1zM97 95h1v1h-1zM119 95h2v3h-2zM94 96h1v1h-1zM98 96h1v1h-1zM95 97h1v1h-1zM99 97h1v1h-1zM96 98h1v1h-1zM100 98h1v1h-1zM117 98h1v1h-1zM120 98h1v1h-1zM124 98h1v1h-1zM77 99h1v1h-1zM93 99h1v1h-1zM97 99h1v1h-1zM101 99h1v1h-1zM98 100h1v1h-1zM102 100h1v1h-1zM123 100h1v1h-1zM99 101h1v1h-1zM103 101h1v1h-1zM100 102h1v1h-1zM77 103h1v1h-1zM80 103h1v1h-1zM101 103h1v1h-1zM105 103h1v1h-1zM126 103h1v2h-1zM78 104h1v2h-1zM106 104h1v1h-1zM108 104h1v1h-1zM128 104h1v1h-1zM150 104h1v1h-1zM103 105h1v1h-1zM129 105h1v1h-1zM104 106h1v1h-1zM108 106h1v1h-1zM130 106h1v1h-1zM109 107h1v1h-1zM129 107h1v1h-1zM153 107h1v1h-1zM83 108h1v1h-1zM104 108h1v1h-1zM106 108h1v1h-1zM110 108h1v1h-1zM131 108h1v1h-1zM85 109h1v1h-1zM107 109h1v1h-1zM108 110h1v1h-1zM112 110h1v1h-1zM134 110h1v1h-1zM84 111h1v1h-1zM87 111h1v1h-1zM113 111h1v1h-1zM134 111h2v1h-2zM86 112h3v1h-3zM110 112h1v1h-1zM134 112h1v1h-1zM136 112h1v1h-1zM87 113h1v1h-1zM90 113h1v1h-1zM111 113h1v1h-1zM115 113h1v1h-1zM89 114h2v1h-2zM113 115h1v1h-1zM117 115h1v1h-1zM92 116h2v1h-2zM140 116h1v1h-1zM98 117h1v1h-1zM115 117h1v1h-1zM92 118h1v1h-1zM94 118h1v1h-1zM120 118h1v1h-1zM140 118h1v1h-1zM142 118h1v1h-1zM94 119h4v1h-4zM141 119h3v1h-3zM95 120h4v1h-4zM118 120h1v1h-1zM122 120h1v1h-1zM142 120h3v1h-3zM123 121h1v1h-1zM120 122h1v1h-1zM124 122h1v1h-1zM145 122h2v1h-2zM100 123h1v1h-1zM121 123h1v1h-1zM146 123h1v1h-1zM98 124h1v1h-1zM122 124h1v1h-1zM172 124h1v1h-1zM127 125h1v1h-1zM103 126h2v1h-2zM149 126h2v1h-2zM125 127h1v1h-1zM129 127h1v1h-1zM80 128h1v1h-1zM104 128h1v1h-1zM130 128h1v1h-1zM105 129h1v1h-1zM107 129h1v1h-1zM127 129h1v1h-1zM131 129h1v1h-1zM106 130h1v1h-1zM128 130h1v1h-1zM132 130h1v1h-1zM154 130h1v1h-1zM108 131h1v1h-1zM129 131h1v1h-1zM153 131h2v1h-2zM156 131h1v1h-1zM130 132h1v1h-1zM134 132h1v1h-1zM135 133h1v1h-1zM160 133h1v1h-1zM110 134h3v1h-3zM132 134h1v1h-1zM136 134h1v1h-1zM157 134h2v1h-2zM111 135h1v1h-1zM133 135h1v1h-1zM137 135h1v1h-1zM112 136h1v1h-1zM134 136h1v1h-1zM138 136h1v1h-1zM160 136h1v1h-1zM135 137h1v1h-1zM136 138h1v1h-1zM162 138h1v2h-1zM165 139h1v1h-1zM116 140h1v1h-1zM118 140h1v1h-1zM142 140h1v1h-1zM164 140h2v1h-2zM119 141h1v1h-1zM143 141h1v1h-1zM164 141h1v1h-1zM118 142h3v1h-3zM140 142h1v1h-1zM144 142h1v1h-1zM165 142h4v1h-4zM119 143h2v1h-2zM141 143h1v1h-1zM166 143h1v1h-1zM120 144h1v1h-1zM142 144h1v1h-1zM167 144h2v1h-2zM170 144h1v1h-1zM122 145h1v1h-1zM147 145h1v1h-1zM171 145h1v1h-1zM122 146h2v1h-2zM148 146h1v1h-1zM145 147h1v1h-1zM172 147h1v1h-1zM146 148h1v1h-1zM150 148h1v1h-1zM126 149h1v2h-1zM151 149h1v1h-1zM104 150h1v1h-1zM148 150h1v1h-1zM152 150h1v1h-1zM172 150h1v1h-1zM176 150h1v1h-1zM149 151h1v1h-1zM153 151h1v1h-1zM150 152h1v1h-1zM154 152h1v1h-1zM178 152h1v1h-1zM107 153h1v1h-1zM131 153h1v1h-1zM151 153h1v1h-1zM155 153h1v1h-1zM178 153h2v1h-2zM130 154h2v1h-2zM152 154h1v1h-1zM156 154h1v1h-1zM179 154h1v1h-1zM181 154h1v1h-1zM153 155h1v1h-1zM131 156h1v1h-1zM154 156h1v1h-1zM158 156h1v1h-1zM183 156h1v1h-1zM134 157h1v2h-1zM159 157h1v1h-1zM184 157h1v2h-1zM156 158h1v1h-1zM160 158h1v1h-1zM157 159h1v1h-1zM133 160h1v1h-1zM136 160h1v1h-1zM158 160h1v1h-1zM163 161h1v1h-1zM138 162h2v1h-2zM164 162h1v1h-1zM188 162h1v1h-1zM161 163h1v1h-1zM140 164h2v1h-2zM162 164h1v1h-1zM166 164h1v1h-1zM190 164h1v1h-1zM192 164h1v1h-1zM139 165h2v1h-2zM142 165h1v1h-1zM192 165h2v1h-2zM196 165h1v1h-1zM142 166h2v1h-2zM164 166h1v1h-1zM168 166h1v1h-1zM192 166h1v1h-1zM194 166h1v1h-1zM142 167h1v2h-1zM144 167h1v2h-1zM196 167h1v1h-1zM166 168h1v1h-1zM170 168h1v1h-1zM194 168h1v1h-1zM196 168h2v1h-2zM198 169h2v1h-2zM144 170h1v1h-1zM168 170h1v1h-1zM172 170h1v1h-1zM145 171h1v1h-1zM173 171h1v1h-1zM198 171h1v1h-1zM200 171h1v1h-1zM124 172h1v1h-1zM147 172h1v1h-1zM150 172h1v1h-1zM170 172h1v1h-1zM174 172h1v1h-1zM199 172h3v1h-3zM171 173h1v1h-1zM175 173h1v1h-1zM172 174h1v1h-1zM176 174h1v1h-1zM173 175h1v1h-1zM177 175h1v1h-1zM203 175h1v1h-1zM150 176h1v1h-1zM174 176h1v1h-1zM204 176h1v1h-1zM206 176h1v1h-1zM175 177h1v1h-1zM205 177h1v1h-1zM152 178h2v1h-2zM206 178h1v1h-1zM209 178h2v2h-2zM153 179h2v1h-2zM181 179h2v1h-2zM182 180h1v1h-1zM209 180h1v2h-1zM211 180h1v1h-1zM154 181h1v1h-1zM179 181h1v1h-1zM183 181h1v1h-1zM179 182h2v1h-2zM184 182h1v1h-1zM156 183h1v1h-1zM181 183h1v1h-1zM185 183h1v1h-1zM210 183h1v1h-1zM157 184h2v1h-2zM182 184h1v1h-1zM215 184h1v2h-1zM183 185h1v1h-1zM187 185h1v1h-1zM188 186h1v1h-1zM185 187h1v1h-1zM189 187h1v1h-1zM162 188h1v1h-1zM186 188h1v1h-1zM190 188h1v1h-1zM187 189h1v1h-1zM164 190h1v1h-1zM188 190h1v1h-1zM192 190h1v1h-1zM164 192h3v1h-3zM190 192h1v1h-1zM194 192h1v1h-1zM219 192h1v1h-1zM165 193h1v1h-1zM195 193h1v1h-1zM166 194h1v1h-1zM168 194h1v1h-1zM192 194h1v1h-1zM196 194h1v1h-1zM193 195h1v1h-1zM197 195h1v1h-1zM225 195h1v1h-1zM165 196h1v1h-1zM167 196h2v1h-2zM194 196h1v1h-1zM168 197h1v1h-1zM195 197h1v1h-1zM199 197h1v1h-1zM169 198h1v2h-1zM171 198h1v1h-1zM200 198h1v1h-1zM172 199h1v1h-1zM197 199h1v1h-1zM201 199h1v1h-1zM171 200h2v1h-2zM198 200h1v1h-1zM202 200h1v1h-1zM172 201h1v1h-1zM199 201h1v1h-1zM203 201h2v1h-2zM200 202h1v1h-1zM175 203h1v1h-1zM201 203h1v2h-1zM176 204h1v1h-1zM177 205h1v1h-1zM207 205h1v1h-1zM176 206h1v1h-1zM178 206h1v1h-1zM208 206h1v1h-1zM205 207h1v1h-1zM211 207h1v1h-1zM206 208h1v1h-1zM210 208h1v1h-1zM178 209h4v1h-4zM211 209h1v1h-1zM178 210h2v1h-2zM183 210h1v1h-1zM208 210h1v1h-1zM212 210h1v1h-1zM180 211h1v1h-1zM207 211h1v1h-1zM209 211h1v1h-1zM213 211h1v1h-1zM210 212h1v1h-1zM214 212h1v1h-1zM211 213h1v1h-1zM215 213h1v1h-1zM212 214h1v1h-1zM216 214h1v1h-1zM184 215h2v1h-2zM213 215h1v1h-1zM217 215h1v1h-1zM214 216h1v1h-1zM215 217h1v1h-1zM220 218h1v1h-1zM192 219h1v1h-1zM221 219h1v1h-1zM218 220h1v1h-1zM219 221h1v1h-1zM223 221h1v1h-1zM221 223h1v1h-1zM225 223h1v1h-1zM195 225h1v1h-1zM223 225h1v1h-1zM228 226h1v1h-1zM229 227h1v1h-1zM226 228h1v1h-1zM227 229h1v1h-1zM232 230h1v1h-1zM230 232h1v1h-1zM234 232h1v1h-1zM232 234h1v1h-1zM237 235h1v1h-1zM238 236h1v1h-1zM235 237h1v1h-1zM239 237h1v1h-1zM236 238h1v1h-1zM237 239h1v1h-1zM241 239h1v1h-1zM242 240h1v1h-1zM239 241h1v1h-1zM243 241h1v1h-1zM240 242h1v1h-1zM244 242h1v1h-1zM241 243h1v1h-1zM245 243h1v1h-1zM242 244h1v1h-1zM246 244h1v1h-1zM243 245h1v1h-1zM247 245h1v1h-1zM244 246h1v1h-1zM248 246h1v1h-1zM245 247h1v1h-1zM249 247h1v1h-1zM246 248h1v1h-1zM250 248h1v1h-1zM247 249h1v1h-1zM251 249h1v1h-1zM248 250h1v1h-1zM252 250h1v1h-1zM249 251h1v1h-1zM253 251h1v1h-1zM250 252h1v1h-1zM254 252h1v1h-1zM251 253h1v1h-1zM255 253h1v1h-1zM252 254h1v1h-1zM256 254h1v1h-1zM253 255h1v1h-1zM254 256h1v1h-1zM258 256h1v1h-1zM259 257h1v1h-1zM256 258h1v1h-1zM260 258h1v1h-1zM257 259h1v1h-1zM258 260h1v1h-1zM263 261h1v1h-1zM261 263h1v1h-1zM267 265h1v1h-1zM268 266h1v1h-1zM265 267h1v1h-1zM269 267h1v1h-1zM266 268h1v1h-1zM270 268h1v1h-1zM267 269h1v1h-1zM271 269h1v1h-1zM268 270h1v1h-1zM269 271h1v1h-1zM273 271h1v1h-1zM271 273h1v1h-1zM276 274h1v1h-1zM277 275h1v1h-1zM274 276h1v1h-1zM278 276h1v1h-1zM275 277h1v1h-1zM279 277h1v1h-1zM276 278h1v1h-1zM280 278h1v1h-1zM277 279h1v1h-1zM281 279h1v1h-1zM278 280h1v1h-1zM282 280h1v1h-1zM279 281h1v1h-1zM283 281h1v1h-1zM280 282h1v1h-1zM284 282h1v1h-1zM281 283h1v1h-1zM285 283h1v1h-1zM282 284h1v1h-1zM286 284h1v1h-1zM283 285h1v1h-1zM287 285h1v1h-1zM284 286h1v1h-1zM288 286h1v1h-1zM285 287h1v1h-1zM286 288h1v1h-1zM291 289h1v1h-1zM292 290h1v1h-1zM289 291h1v1h-1zM293 291h1v1h-1zM290 292h1v1h-1zM294 292h1v1h-1zM291 293h1v1h-1zM295 293h1v1h-1zM292 294h1v1h-1zM296 294h1v1h-1zM293 295h1v1h-1zM297 295h1v1h-1zM294 296h1v1h-1zM298 296h1v1h-1zM295 297h1v1h-1zM299 297h1v1h-1zM296 298h1v1h-1zM300 298h1v1h-1zM297 299h1v1h-1zM298 300h1v1h-1zM303 301h1v1h-1zM304 302h1v1h-1zM301 303h1v1h-1zM302 304h1v1h-1zM306 304h1v1h-1zM304 306h1v1h-1zM308 306h1v1h-1zM309 307h1v1h-1zM306 308h1v1h-1zM307 309h1v1h-1zM311 309h1v1h-1zM309 311h1v1h-1zM314 312h1v1h-1zM315 313h1v1h-1zM312 314h1v1h-1zM316 314h1v1h-1zM313 315h1v1h-1zM317 315h1v1h-1zM314 316h1v1h-1zM315 317h1v1h-1zM319 317h1v1h-1zM320 318h1v1h-1zM317 319h1v1h-1zM321 319h1v1h-1zM318 320h1v1h-1zM322 320h1v1h-1zM319 321h1v1h-1zM323 321h1v1h-1zM320 322h1v1h-1zM321 323h1v1h-1zM325 323h1v1h-1zM323 325h1v1h-1zM327 325h1v1h-1zM328 326h1v1h-1zM325 327h1v1h-1zM329 327h1v1h-1zM326 328h1v1h-1zM327 329h1v1h-1zM332 330h1v1h-1zM333 331h1v1h-1zM330 332h1v1h-1zM331 333h1v1h-1zM335 333h1v1h-1zM333 335h1v1h-1zM338 336h1v1h-1zM339 337h1v1h-1zM336 338h1v1h-1zM340 338h1v1h-1zM337 339h1v1h-1zM338 340h1v1h-1zM342 340h1v1h-1zM343 341h1v1h-1zM340 342h1v1h-1zM341 343h1v1h-1zM345 343h1v1h-1zM343 345h1v1h-1zM347 345h1v1h-1zM348 346h1v1h-1zM345 347h1v1h-1zM346 348h1v1h-1zM350 348h1v1h-1zM348 350h1v1h-1zM352 350h1v1h-1zM353 351h1v1h-1zM350 352h1v1h-1zM354 352h1v1h-1zM351 353h1v1h-1zM355 353h1v1h-1zM352 354h1v1h-1zM356 354h1v1h-1zM353 355h1v1h-1zM354 356h1v1h-1zM358 356h1v1h-1zM359 357h1v1h-1zM356 358h1v1h-1zM360 358h1v1h-1zM357 359h1v1h-1zM358 360h1v1h-1zM364 362h1v1h-1zM365 363h1v1h-1zM362 364h1v1h-1zM363 365h1v1h-1zM367 365h1v1h-1zM368 366h1v1h-1zM365 367h1v1h-1zM369 367h1v1h-1zM366 368h1v1h-1zM370 368h1v1h-1zM367 369h1v1h-1zM371 369h1v1h-1zM368 370h1v1h-1zM369 371h1v1h-1zM374 372h1v1h-1zM372 374h1v1h-1zM377 375h1v1h-1zM378 376h1v1h-1zM375 377h1v1h-1zM379 377h1v1h-1zM376 378h1v1h-1zM380 378h1v1h-1zM377 379h1v1h-1zM378 380h1v1h-1zM382 380h1v1h-1zM380 382h1v1h-1zM384 382h1v1h-1zM382 384h1v1h-1zM387 385h1v1h-1zM385 387h1v1h-1zM389 387h1v1h-1zM390 388h1v1h-1zM387 389h1v1h-1zM388 390h1v1h-1zM392 390h1v1h-1zM393 391h1v1h-1zM390 392h1v1h-1zM394 392h1v1h-1zM391 393h1v1h-1zM395 393h1v1h-1zM392 394h1v1h-1zM396 394h1v1h-1zM393 395h1v1h-1zM394 396h1v1h-1zM401 399h1v1h-1zM402 400h1v1h-1zM399 401h1v1h-1zM400 402h1v1h-1zM404 402h1v1h-1zM405 403h1v1h-1zM402 404h1v1h-1zM406 404h1v1h-1zM403 405h1v1h-1zM404 406h1v1h-1zM411 409h1v1h-1zM409 411h1v1h-1zM413 411h1v1h-1zM414 412h1v1h-1zM411 413h1v1h-1zM415 413h1v1h-1zM412 414h1v1h-1zM416 414h1v1h-1zM413 415h1v1h-1zM417 415h1v1h-1zM414 416h1v1h-1zM418 416h1v1h-1zM415 417h1v1h-1zM419 417h1v1h-1zM416 418h1v1h-1zM420 418h1v1h-1zM417 419h1v1h-1zM421 419h1v1h-1zM418 420h1v1h-1zM422 420h1v1h-1zM419 421h1v1h-1zM423 421h1v1h-1zM420 422h1v1h-1zM424 422h1v1h-1zM421 423h1v1h-1zM422 424h1v1h-1zM428 426h1v1h-1zM429 427h1v1h-1zM426 428h1v1h-1zM430 428h1v1h-1zM427 429h1v1h-1zM431 429h1v1h-1zM428 430h1v1h-1zM432 430h1v1h-1zM429 431h1v1h-1zM433 431h1v1h-1zM430 432h1v1h-1zM434 432h1v1h-1zM431 433h1v1h-1zM435 433h1v1h-1zM432 434h1v1h-1zM433 435h1v1h-1zM437 435h1v1h-1zM438 436h1v1h-1zM435 437h1v1h-1zM436 438h1v1h-1zM441 439h1v1h-1zM442 440h1v1h-1zM439 441h1v1h-1zM443 441h1v1h-1zM440 442h1v1h-1zM441 443h1v1h-1zM445 443h1v1h-1zM446 444h1v1h-1zM443 445h1v1h-1zM444 446h1v1h-1zM448 446h1v1h-1zM449 447h1v1h-1zM446 448h1v1h-1zM450 448h1v1h-1zM447 449h1v1h-1zM451 449h1v1h-1zM448 450h1v1h-1zM449 451h1v1h-1zM453 451h1v1h-1zM451 453h1v1h-1zM455 453h1v1h-1zM456 454h1v1h-1zM453 455h1v1h-1zM454 456h1v1h-1zM458 456h1v1h-1zM459 457h1v1h-1zM456 458h1v1h-1zM460 458h1v1h-1zM457 459h1v1h-1zM461 459h1v1h-1zM458 460h1v1h-1zM462 460h1v1h-1zM459 461h1v1h-1zM463 461h1v1h-1zM460 462h1v1h-1zM464 462h1v1h-1zM461 463h1v1h-1zM465 463h1v1h-1zM462 464h1v1h-1zM466 464h1v1h-1zM463 465h1v1h-1zM467 465h1v1h-1zM464 466h1v1h-1zM465 467h1v1h-1zM470 468h1v1h-1zM471 469h1v1h-1zM468 470h1v1h-1zM472 470h1v1h-1zM469 471h1v1h-1zM473 471h1v1h-1zM470 472h1v1h-1zM474 472h1v1h-1zM471 473h1v1h-1zM475 473h1v1h-1zM472 474h1v1h-1zM476 474h1v1h-1zM473 475h1v1h-1zM474 476h1v1h-1zM478 476h1v1h-1zM479 477h1v1h-1zM476 478h1v1h-1zM480 478h1v1h-1zM477 479h1v1h-1zM481 479h1v1h-1zM478 480h1v1h-1zM482 480h1v1h-1zM479 481h1v1h-1zM483 481h1v1h-1zM480 482h1v1h-1zM481 483h1v1h-1zM485 483h1v1h-1zM483 485h1v1h-1zM487 485h1v1h-1zM488 486h1v1h-1zM485 487h1v1h-1zM486 488h1v1h-1zM490 488h1v1h-1zM491 489h1v1h-1zM488 490h1v1h-1zM492 490h1v1h-1zM489 491h1v1h-1zM493 491h1v1h-1zM490 492h1v1h-1zM491 493h1v1h-1zM495 493h1v1h-1zM496 494h1v1h-1zM493 495h1v1h-1zM497 495h1v1h-1zM494 496h1v1h-1zM495 497h1v1h-1z"/>
<path fill="#aac47d" d="M27 1h1v1h-1zM29 3h1v1h-1zM51 3h2v1h-2zM27 4h1v2h-1zM19 5h1v1h-1zM54 5h1v1h-1zM57 5h1v1h-1zM11 7h1v1h-1zM33 7h1v1h-1zM12 8h1v1h-1zM34 8h1v1h-1zM31 9h1v3h-1zM7 11h1v1h-1zM14 11h1v1h-1zM37 11h2v1h-2zM59 11h1v1h-1zM8 12h1v1h-1zM32 12h1v1h-1zM34 13h1v1h-1zM39 13h1v1h-1zM11 14h1v1h-1zM17 14h1v1h-1zM34 14h3v1h-3zM35 15h1v1h-1zM19 16h1v1h-1zM40 16h2v1h-2zM14 17h1v1h-1zM35 17h2v1h-2zM39 17h2v1h-2zM42 17h1v1h-1zM44 17h1v1h-1zM65 17h1v1h-1zM5 19h1v1h-1zM16 19h1v1h-1zM22 19h1v1h-1zM40 19h1v1h-1zM27 21h1v1h-1zM69 21h1v1h-1zM19 22h1v1h-1zM45 23h1v2h-1zM27 24h1v1h-1zM52 25h1v1h-1zM71 25h1v1h-1zM29 26h1v1h-1zM1 27h1v1h-1zM4 27h2v1h-2zM21 27h1v1h-1zM24 27h1v1h-1zM49 27h2v1h-2zM55 27h1v2h-1zM71 27h1v1h-1zM75 27h1v1h-1zM31 28h1v1h-1zM53 28h1v1h-1zM76 28h1v1h-1zM3 29h1v1h-1zM26 29h1v1h-1zM51 29h1v1h-1zM54 29h2v1h-2zM33 30h1v1h-1zM52 30h2v1h-2zM58 30h1v1h-1zM77 30h2v1h-2zM9 31h3v1h-3zM28 31h1v1h-1zM52 31h1v1h-1zM54 31h2v1h-2zM58 31h3v1h-3zM78 31h2v1h-2zM12 32h1v1h-1zM35 32h1v1h-1zM37 32h1v1h-1zM60 32h2v1h-2zM7 33h1v1h-1zM30 33h1v1h-1zM61 33h1v1h-1zM8 34h1v1h-1zM13 34h2v1h-2zM38 34h1v1h-1zM63 34h1v1h-1zM81 34h1v1h-1zM14 35h2v1h-2zM17 35h1v2h-1zM32 35h1v1h-1zM38 35h4v1h-4zM58 35h2v1h-2zM14 36h1v1h-1zM39 36h3v1h-3zM59 36h1v2h-1zM81 36h1v1h-1zM11 37h1v2h-1zM32 37h1v1h-1zM57 37h1v1h-1zM61 37h1v1h-1zM64 37h1v1h-1zM34 38h2v1h-2zM41 38h1v1h-1zM65 38h1v1h-1zM13 39h1v1h-1zM17 39h1v1h-1zM35 39h2v3h-2zM63 39h1v1h-1zM16 40h2v1h-2zM19 40h1v1h-1zM67 40h1v1h-1zM16 41h1v1h-1zM38 41h1v1h-1zM62 41h3v1h-3zM66 41h2v1h-2zM17 42h1v1h-1zM45 42h1v1h-1zM69 42h2v1h-2zM17 44h1v1h-1zM48 44h1v1h-1zM67 44h1v1h-1zM71 44h1v1h-1zM23 45h2v1h-2zM42 45h1v1h-1zM71 45h2v1h-2zM91 45h2v1h-2zM51 47h1v1h-1zM69 47h1v1h-1zM44 48h1v1h-1zM69 48h2v1h-2zM27 49h1v2h-1zM53 49h1v1h-1zM70 49h1v1h-1zM3 51h1v2h-1zM29 51h1v1h-1zM47 51h1v1h-1zM54 51h1v1h-1zM69 51h1v1h-1zM72 51h1v1h-1zM76 51h1v1h-1zM99 51h1v1h-1zM25 52h1v1h-1zM30 52h2v1h-2zM72 52h3v1h-3zM77 52h1v3h-1zM28 53h1v1h-1zM30 53h1v1h-1zM49 53h1v1h-1zM69 53h1v1h-1zM72 53h1v1h-1zM74 53h2v1h-2zM98 53h1v1h-1zM5 54h1v1h-1zM29 54h1v1h-1zM31 54h1v2h-1zM51 54h1v1h-1zM27 55h3v1h-3zM76 55h1v1h-1zM79 55h2v1h-2zM104 55h1v1h-1zM5 57h1v1h-1zM37 57h1v1h-1zM77 57h2v1h-2zM104 57h1v1h-1zM30 58h2v1h-2zM35 58h1v1h-1zM79 58h1v1h-1zM105 58h1v1h-1zM11 59h1v1h-1zM31 59h1v1h-1zM35 59h3v1h-3zM83 59h1v1h-1zM31 60h2v1h-2zM65 60h1v1h-1zM79 60h1v1h-1zM85 60h1v1h-1zM109 60h1v1h-1zM32 61h2v1h-2zM37 61h1v1h-1zM85 61h2v1h-2zM41 62h1v3h-1zM82 62h1v1h-1zM86 62h1v1h-1zM109 62h1v1h-1zM34 63h1v1h-1zM39 63h1v1h-1zM80 63h1v1h-1zM83 63h1v1h-1zM37 64h1v1h-1zM84 64h2v1h-2zM88 64h1v1h-1zM17 65h1v1h-1zM38 65h1v1h-1zM60 65h1v1h-1zM69 65h1v1h-1zM84 65h1v1h-1zM86 65h1v1h-1zM89 65h1v1h-1zM91 65h1v1h-1zM115 65h1v1h-1zM41 66h1v1h-1zM40 67h2v1h-2zM44 67h1v1h-1zM70 67h2v1h-2zM93 68h1v1h-1zM21 69h1v1h-1zM42 69h1v2h-1zM47 69h2v1h-2zM51 69h1v1h-1zM53 69h1v1h-1zM65 69h1v1h-1zM72 69h2v1h-2zM75 69h1v2h-1zM95 69h2v1h-2zM115 69h1v1h-1zM48 70h2v1h-2zM67 70h1v2h-1zM73 70h1v1h-1zM91 70h1v1h-1zM98 70h1v2h-1zM25 71h1v1h-1zM27 71h1v1h-1zM44 71h2v1h-2zM74 71h2v1h-2zM117 71h1v2h-1zM45 72h1v1h-1zM51 72h3v1h-3zM69 72h1v1h-1zM75 72h2v1h-2zM93 72h1v3h-1zM52 73h1v1h-1zM69 73h2v1h-2zM76 73h2v1h-2zM99 73h1v1h-1zM52 74h2v1h-2zM71 74h1v1h-1zM77 74h1v1h-1zM96 74h1v1h-1zM27 75h1v1h-1zM53 75h1v1h-1zM69 75h4v1h-4zM97 75h1v1h-1zM28 76h1v1h-1zM51 76h1v1h-1zM55 76h1v1h-1zM72 76h2v1h-2zM98 76h1v1h-1zM103 76h1v1h-1zM124 76h1v1h-1zM30 77h1v1h-1zM52 77h3v1h-3zM57 77h1v2h-1zM73 77h2v1h-2zM100 77h1v1h-1zM104 77h1v1h-1zM125 77h1v1h-1zM30 78h2v1h-2zM81 78h1v1h-1zM31 79h1v1h-1zM55 79h1v2h-1zM58 79h1v1h-1zM60 79h1v1h-1zM103 79h1v1h-1zM107 79h1v1h-1zM128 79h1v1h-1zM63 80h1v1h-1zM85 80h1v2h-1zM109 80h1v1h-1zM127 80h1v1h-1zM34 81h1v1h-1zM36 81h1v1h-1zM78 81h1v1h-1zM104 81h2v1h-2zM129 81h1v1h-1zM62 82h1v1h-1zM86 82h1v2h-1zM110 82h1v1h-1zM59 83h1v1h-1zM63 83h1v1h-1zM111 83h1v1h-1zM64 84h2v1h-2zM107 84h1v1h-1zM60 85h2v1h-2zM64 85h1v1h-1zM80 85h2v1h-2zM105 85h1v1h-1zM107 85h2v1h-2zM112 85h1v1h-1zM115 85h1v2h-1zM61 86h2v1h-2zM65 86h1v1h-1zM82 86h2v1h-2zM89 86h1v1h-1zM64 88h1v1h-1zM110 88h1v1h-1zM113 88h1v2h-1zM115 88h1v2h-1zM65 89h1v1h-1zM86 89h1v1h-1zM92 89h2v1h-2zM111 89h1v1h-1zM137 89h1v1h-1zM45 91h1v2h-1zM65 91h1v1h-1zM70 91h1v1h-1zM95 91h2v2h-2zM114 91h1v1h-1zM118 91h1v1h-1zM89 92h1v2h-1zM98 92h1v1h-1zM115 92h1v1h-1zM68 93h1v1h-1zM72 93h3v1h-3zM96 93h3v1h-3zM113 93h1v1h-1zM99 94h1v1h-1zM69 95h1v2h-1zM91 95h2v1h-2zM98 95h1v1h-1zM115 95h1v1h-1zM74 96h1v1h-1zM91 96h3v1h-3zM99 96h2v1h-2zM75 97h1v1h-1zM93 97h1v1h-1zM115 97h1v1h-1zM117 97h1v1h-1zM122 97h1v1h-1zM124 97h1v1h-1zM143 97h1v2h-1zM53 98h1v1h-1zM70 98h2v1h-2zM76 98h1v1h-1zM92 98h2v1h-2zM95 98h1v1h-1zM101 98h1v1h-1zM118 98h1v1h-1zM51 99h1v1h-1zM73 99h1v1h-1zM94 99h1v1h-1zM96 99h1v2h-1zM102 99h1v1h-1zM125 99h1v1h-1zM146 99h1v1h-1zM77 100h1v1h-1zM117 100h1v1h-1zM121 100h1v1h-1zM98 101h1v1h-1zM125 101h1v1h-1zM147 101h1v1h-1zM99 102h1v1h-1zM124 102h1v1h-1zM151 102h1v1h-1zM76 103h1v1h-1zM79 103h1v1h-1zM106 103h1v1h-1zM124 103h2v1h-2zM128 103h1v1h-1zM149 103h1v1h-1zM55 104h1v1h-1zM57 104h1v1h-1zM77 104h1v1h-1zM81 104h1v2h-1zM107 104h1v1h-1zM124 104h1v1h-1zM129 104h1v1h-1zM58 105h1v1h-1zM85 105h1v1h-1zM109 105h3v1h-3zM126 105h1v1h-1zM131 105h1v1h-1zM150 105h1v1h-1zM103 106h1v1h-1zM109 106h2v1h-2zM151 106h1v1h-1zM79 107h1v1h-1zM84 107h2v1h-2zM104 107h1v1h-1zM111 107h1v1h-1zM128 107h1v1h-1zM85 108h1v1h-1zM151 108h1v3h-1zM60 109h1v1h-1zM62 109h1v1h-1zM80 109h1v1h-1zM105 109h2v2h-2zM135 109h1v1h-1zM156 109h1v2h-1zM82 110h1v1h-1zM88 110h1v1h-1zM113 110h1v1h-1zM115 110h1v3h-1zM128 110h4v1h-4zM83 111h1v1h-1zM89 111h1v1h-1zM105 111h1v1h-1zM107 111h1v1h-1zM131 111h1v1h-1zM85 112h1v1h-1zM132 112h1v1h-1zM137 112h1v1h-1zM88 113h2v1h-2zM93 113h1v1h-1zM110 113h1v1h-1zM132 113h3v1h-3zM136 113h1v1h-1zM139 113h1v2h-1zM159 113h1v1h-1zM91 114h1v1h-1zM117 114h1v1h-1zM137 114h1v1h-1zM65 115h1v1h-1zM69 115h1v1h-1zM85 115h2v1h-2zM88 115h2v1h-2zM92 115h1v1h-1zM95 115h1v1h-1zM97 115h1v1h-1zM110 115h3v1h-3zM118 115h1v1h-1zM132 115h1v1h-1zM136 115h1v1h-1zM159 115h1v1h-1zM161 115h1v1h-1zM163 115h1v1h-1zM71 117h2v1h-2zM97 117h1v1h-1zM100 117h1v1h-1zM114 117h1v1h-1zM124 117h1v1h-1zM137 117h3v1h-3zM143 117h2v1h-2zM161 117h1v1h-1zM163 117h1v1h-1zM91 118h1v1h-1zM98 118h1v1h-1zM115 118h1v1h-1zM143 118h1v1h-1zM100 121h1v1h-1zM97 122h1v1h-1zM143 122h1v1h-1zM147 122h1v1h-1zM145 123h1v1h-1zM76 124h1v1h-1zM97 124h1v1h-1zM102 124h3v1h-3zM117 124h1v1h-1zM127 124h2v1h-2zM143 124h1v1h-1zM77 125h1v1h-1zM99 125h1v1h-1zM101 125h1v1h-1zM103 125h1v1h-1zM128 125h1v1h-1zM145 125h1v1h-1zM147 125h1v1h-1zM169 125h1v1h-1zM105 126h1v1h-1zM80 127h1v1h-1zM124 127h1v1h-1zM131 127h2v1h-2zM147 127h1v1h-1zM149 127h1v1h-1zM152 127h2v1h-2zM175 127h1v1h-1zM79 128h1v1h-1zM103 128h1v1h-1zM107 128h1v1h-1zM110 128h1v3h-1zM124 128h2v1h-2zM131 128h1v1h-1zM177 128h1v3h-1zM81 129h1v1h-1zM104 129h1v1h-1zM132 129h1v1h-1zM155 129h1v2h-1zM133 130h1v1h-1zM151 130h1v1h-1zM105 131h1v1h-1zM110 131h2v1h-2zM127 131h2v1h-2zM112 132h2v1h-2zM115 132h1v1h-1zM127 132h1v1h-1zM129 132h1v1h-1zM137 132h1v1h-1zM151 132h2v1h-2zM180 132h1v1h-1zM113 133h1v2h-1zM130 133h1v1h-1zM159 133h1v1h-1zM155 134h1v1h-1zM109 135h1v1h-1zM138 135h2v1h-2zM151 135h1v1h-1zM156 135h2v1h-2zM185 135h1v1h-1zM113 136h1v1h-1zM115 136h1v1h-1zM139 136h1v1h-1zM157 136h3v1h-3zM163 136h1v1h-1zM89 137h1v1h-1zM112 137h1v1h-1zM114 137h1v1h-1zM117 137h1v3h-1zM132 137h1v1h-1zM140 137h2v1h-2zM156 137h1v1h-1zM160 137h3v1h-3zM164 137h1v1h-1zM185 137h1v1h-1zM135 138h1v1h-1zM113 139h2v1h-2zM135 139h2v1h-2zM142 139h1v1h-1zM159 139h1v1h-1zM161 139h1v1h-1zM169 139h1v2h-1zM137 140h1v2h-1zM163 141h1v1h-1zM167 141h1v1h-1zM139 142h1v1h-1zM145 142h1v1h-1zM97 143h2v1h-2zM117 143h2v1h-2zM122 143h1v1h-1zM124 143h1v1h-1zM164 143h1v1h-1zM170 143h1v1h-1zM117 144h1v1h-1zM123 145h1v1h-1zM125 145h1v1h-1zM142 145h1v1h-1zM148 145h2v1h-2zM195 145h1v1h-1zM199 145h1v1h-1zM99 146h1v1h-1zM167 146h1v1h-1zM101 147h1v1h-1zM122 147h1v1h-1zM125 147h1v1h-1zM127 147h1v1h-1zM151 147h1v1h-1zM170 147h1v1h-1zM195 147h1v1h-1zM199 147h3v1h-3zM145 148h1v2h-1zM103 149h1v1h-1zM127 149h1v1h-1zM169 149h1v1h-1zM174 149h1v1h-1zM177 149h1v1h-1zM204 149h2v1h-2zM105 150h1v1h-1zM173 150h1v2h-1zM204 150h1v1h-1zM102 151h1v1h-1zM106 151h1v1h-1zM108 151h3v1h-3zM130 151h1v1h-1zM132 151h1v2h-1zM135 151h1v1h-1zM147 151h1v1h-1zM154 151h1v1h-1zM156 151h1v1h-1zM160 151h1v1h-1zM179 151h1v1h-1zM184 151h2v1h-2zM201 151h1v1h-1zM205 151h1v3h-1zM127 152h1v2h-1zM155 152h1v1h-1zM181 153h1v1h-1zM151 154h1v1h-1zM159 154h1v1h-1zM129 155h2v1h-2zM134 155h1v1h-1zM152 155h1v1h-1zM158 155h1v1h-1zM178 155h2v2h-2zM207 155h1v1h-1zM211 155h1v1h-1zM109 156h2v1h-2zM135 156h1v1h-1zM137 156h1v1h-1zM151 156h1v1h-1zM159 156h1v1h-1zM161 156h1v2h-1zM135 157h2v1h-2zM177 157h1v1h-1zM181 157h1v1h-1zM136 158h1v2h-1zM155 158h1v1h-1zM180 158h1v2h-1zM187 158h1v1h-1zM113 159h1v1h-1zM115 159h1v1h-1zM133 159h1v1h-1zM139 159h1v1h-1zM154 159h1v1h-1zM156 159h1v1h-1zM162 159h1v1h-1zM188 159h1v1h-1zM211 159h1v1h-1zM213 159h1v1h-1zM137 160h1v3h-1zM151 160h1v1h-1zM163 160h1v1h-1zM184 160h4v1h-4zM115 161h1v1h-1zM117 161h1v1h-1zM139 161h1v1h-1zM156 161h2v1h-2zM164 161h1v1h-1zM191 161h1v1h-1zM159 162h1v1h-1zM185 162h1v2h-1zM115 163h1v1h-1zM117 163h1v1h-1zM136 163h1v1h-1zM141 163h1v1h-1zM160 163h1v1h-1zM169 163h1v1h-1zM188 163h1v1h-1zM193 163h1v1h-1zM195 163h1v1h-1zM137 164h1v1h-1zM143 164h1v1h-1zM161 164h1v1h-1zM169 165h1v1h-1zM195 165h1v1h-1zM141 167h1v1h-1zM146 167h1v1h-1zM191 167h1v1h-1zM197 167h2v1h-2zM125 169h1v1h-1zM139 169h2v1h-2zM149 169h1v1h-1zM163 169h1v1h-1zM165 169h1v1h-1zM172 169h1v1h-1zM175 169h1v1h-1zM190 169h1v1h-1zM193 169h1v2h-1zM202 169h1v1h-1zM143 170h1v1h-1zM147 170h1v1h-1zM195 170h1v1h-1zM201 170h1v2h-1zM169 172h1v1h-1zM150 173h2v1h-2zM205 173h1v1h-1zM149 174h1v1h-1zM199 174h1v1h-1zM204 174h1v1h-1zM127 175h1v1h-1zM169 175h1v1h-1zM180 175h1v1h-1zM200 175h2v1h-2zM207 176h1v1h-1zM128 177h3v1h-3zM149 177h1v1h-1zM157 177h1v1h-1zM181 177h1v2h-1zM185 177h1v2h-1zM202 177h1v1h-1zM204 177h1v1h-1zM208 177h1v1h-1zM211 177h1v1h-1zM155 178h2v2h-2zM205 178h1v1h-1zM151 179h1v1h-1zM132 180h1v1h-1zM158 180h2v1h-2zM175 180h1v1h-1zM183 180h2v1h-2zM204 180h2v1h-2zM153 181h1v1h-1zM157 181h1v1h-1zM177 181h2v1h-2zM205 181h3v1h-3zM212 181h1v1h-1zM213 182h1v2h-1zM180 183h1v2h-1zM151 184h1v2h-1zM160 184h1v4h-1zM187 184h1v1h-1zM211 184h1v1h-1zM135 185h1v1h-1zM137 185h1v1h-1zM162 185h2v1h-2zM177 185h2v1h-2zM205 185h1v1h-1zM216 185h2v1h-2zM158 187h1v1h-1zM184 187h1v1h-1zM215 187h1v1h-1zM219 187h1v1h-1zM159 188h1v1h-1zM163 188h1v1h-1zM169 190h1v1h-1zM195 190h1v1h-1zM219 190h1v2h-1zM161 191h1v1h-1zM167 191h1v1h-1zM163 193h1v1h-1zM169 193h2v1h-2zM221 193h1v1h-1zM223 193h1v1h-1zM199 194h1v1h-1zM145 195h1v1h-1zM147 195h1v1h-1zM163 195h1v1h-1zM165 195h1v1h-1zM170 195h1v1h-1zM190 195h1v1h-1zM200 195h2v1h-2zM224 195h1v1h-1zM167 197h1v2h-1zM200 197h2v1h-2zM223 197h1v1h-1zM145 199h1v1h-1zM147 199h1v3h-1zM174 199h1v1h-1zM194 199h1v1h-1zM202 199h1v1h-1zM204 199h1v2h-1zM175 200h1v2h-1zM195 200h1v2h-1zM197 200h1v2h-1zM151 201h1v1h-1zM170 201h2v1h-2zM169 202h1v1h-1zM177 202h1v1h-1zM199 202h1v1h-1zM149 204h2v1h-2zM174 204h1v1h-1zM177 204h1v1h-1zM180 204h1v1h-1zM199 204h2v1h-2zM207 204h1v1h-1zM211 204h1v1h-1zM231 204h1v2h-1zM149 205h1v1h-1zM151 205h3v1h-3zM173 205h1v1h-1zM178 205h1v1h-1zM180 205h2v1h-2zM185 205h1v1h-1zM208 205h1v1h-1zM210 205h1v1h-1zM181 206h1v2h-1zM210 206h2v1h-2zM155 207h1v1h-1zM176 207h1v1h-1zM204 207h1v1h-1zM213 207h1v1h-1zM177 208h1v1h-1zM205 208h1v1h-1zM205 210h2v1h-2zM213 210h1v1h-1zM155 211h1v1h-1zM159 211h1v1h-1zM177 211h1v1h-1zM184 211h1v1h-1zM204 211h1v1h-1zM206 211h1v1h-1zM214 211h1v1h-1zM181 212h1v1h-1zM159 213h1v1h-1zM182 213h2v1h-2zM207 213h1v1h-1zM210 213h1v1h-1zM211 214h1v1h-1zM187 215h1v1h-1zM185 216h1v2h-1zM187 219h1v1h-1zM190 219h2v1h-2zM193 221h1v1h-1zM193 223h1v1h-1zM197 223h1v1h-1zM195 224h1v1h-1zM232 229h1v1h-1zM233 230h1v1h-1zM204 231h2v1h-2zM229 232h1v1h-1zM235 232h1v1h-1zM230 233h1v1h-1zM236 233h1v1h-1zM237 234h2v1h-2zM232 235h1v1h-1zM233 236h1v1h-1zM239 236h1v1h-1zM234 237h1v2h-1zM240 237h1v1h-1zM241 238h1v1h-1zM236 239h1v1h-1zM242 239h2v1h-2zM237 240h1v1h-1zM243 240h1v1h-1zM238 241h1v1h-1zM244 241h1v1h-1zM239 242h1v1h-1zM245 242h1v1h-1zM239 243h2v1h-2zM246 243h1v1h-1zM241 244h1v1h-1zM247 244h2v1h-2zM242 245h1v1h-1zM248 245h1v1h-1zM243 246h1v1h-1zM249 246h1v1h-1zM244 247h1v1h-1zM250 247h1v1h-1zM244 248h2v1h-2zM251 248h1v1h-1zM246 249h1v1h-1zM252 249h1v1h-1zM247 250h1v1h-1zM253 250h1v1h-1zM248 251h1v1h-1zM254 251h1v1h-1zM249 252h1v1h-1zM250 253h1v1h-1zM256 253h1v1h-1zM251 254h1v1h-1zM257 254h1v1h-1zM258 255h1v1h-1zM253 256h1v1h-1zM259 256h1v1h-1zM254 257h1v1h-1zM260 257h1v1h-1zM255 258h1v1h-1zM261 258h1v1h-1zM256 259h1v1h-1zM262 259h1v1h-1zM257 260h1v1h-1zM263 260h1v1h-1zM258 261h1v1h-1zM264 261h1v1h-1zM259 262h1v1h-1zM265 262h1v1h-1zM260 263h1v1h-1zM266 263h1v1h-1zM261 264h1v1h-1zM267 264h2v1h-2zM262 265h1v1h-1zM268 265h1v1h-1zM263 266h1v1h-1zM264 267h1v1h-1zM270 267h1v1h-1zM264 268h2v1h-2zM271 268h1v1h-1zM272 269h1v1h-1zM267 270h1v1h-1zM273 270h1v1h-1zM268 271h1v1h-1zM274 271h1v1h-1zM269 272h1v1h-1zM276 272h1v1h-1zM270 273h1v1h-1zM277 273h1v1h-1zM271 274h1v1h-1zM278 274h1v1h-1zM279 275h1v1h-1zM272 276h1v1h-1zM280 276h1v1h-1zM273 277h1v1h-1zM281 277h1v1h-1zM274 278h1v1h-1zM282 278h1v1h-1zM275 279h1v1h-1zM283 279h1v1h-1zM276 280h1v1h-1zM284 280h1v1h-1zM277 281h1v1h-1zM285 281h1v1h-1zM278 282h1v1h-1zM286 282h1v1h-1zM279 283h1v1h-1zM287 283h1v1h-1zM280 284h1v1h-1zM288 284h1v1h-1zM281 285h1v1h-1zM289 285h1v1h-1zM282 286h1v1h-1zM290 286h1v1h-1zM283 287h1v1h-1zM291 287h1v1h-1zM284 288h1v1h-1zM292 288h1v1h-1zM285 289h1v1h-1zM293 289h1v1h-1zM286 290h1v1h-1zM294 290h1v1h-1zM287 291h1v1h-1zM295 291h1v1h-1zM288 292h1v1h-1zM296 292h1v1h-1zM289 293h1v1h-1zM297 293h1v1h-1zM290 294h1v1h-1zM298 294h1v1h-1zM291 295h1v1h-1zM299 295h1v1h-1zM292 296h1v1h-1zM300 296h1v1h-1zM293 297h1v1h-1zM301 297h1v1h-1zM294 298h1v1h-1zM302 298h1v1h-1zM295 299h1v1h-1zM303 299h1v1h-1zM296 300h1v1h-1zM304 300h1v1h-1zM297 301h1v1h-1zM305 301h1v1h-1zM298 302h1v1h-1zM306 302h1v1h-1zM299 303h1v1h-1zM307 303h1v1h-1zM300 304h1v1h-1zM308 304h1v1h-1zM301 305h1v1h-1zM309 305h1v1h-1zM302 306h1v1h-1zM310 306h1v1h-1zM303 307h1v1h-1zM311 307h1v1h-1zM304 308h1v1h-1zM312 308h1v1h-1zM305 309h1v1h-1zM313 309h1v1h-1zM306 310h1v1h-1zM307 311h1v1h-1zM308 312h1v1h-1zM315 312h1v1h-1zM309 313h1v1h-1zM316 313h1v1h-1zM317 314h1v1h-1zM312 315h1v1h-1zM313 316h1v1h-1zM319 316h1v1h-1zM314 317h1v1h-1zM320 317h1v1h-1zM321 318h1v1h-1zM316 319h1v1h-1zM322 319h1v1h-1zM317 320h1v1h-1zM323 320h1v1h-1zM318 321h1v1h-1zM324 321h1v1h-1zM319 322h1v1h-1zM320 323h1v1h-1zM321 324h1v1h-1zM327 324h1v1h-1zM328 325h1v1h-1zM329 326h1v1h-1zM324 327h1v1h-1zM330 327h1v1h-1zM325 328h1v1h-1zM331 328h1v1h-1zM326 329h1v1h-1zM332 329h1v1h-1zM327 330h1v1h-1zM333 330h1v1h-1zM328 331h1v1h-1zM334 331h1v1h-1zM329 332h1v1h-1zM330 333h1v1h-1zM336 333h1v1h-1zM331 334h1v1h-1zM337 334h1v1h-1zM338 335h1v1h-1zM333 336h1v1h-1zM334 337h1v1h-1zM340 337h1v1h-1zM335 338h1v1h-1zM342 339h1v1h-1zM337 340h1v1h-1zM339 342h1v1h-1zM345 342h1v1h-1zM347 344h1v1h-1zM342 345h1v1h-1zM348 345h1v1h-1zM349 346h1v1h-1zM344 347h1v1h-1zM350 347h2v1h-2zM345 348h1v1h-1zM351 348h1v1h-1zM346 349h1v1h-1zM352 349h1v1h-1zM347 350h1v1h-1zM353 350h1v1h-1zM347 351h2v1h-2zM354 351h1v1h-1zM349 352h1v1h-1zM355 352h1v1h-1zM350 353h1v1h-1zM356 353h1v1h-1zM351 354h1v1h-1zM357 354h1v1h-1zM352 355h1v1h-1zM358 355h1v1h-1zM353 356h1v1h-1zM359 356h1v1h-1zM354 357h1v1h-1zM360 357h1v1h-1zM355 358h1v1h-1zM361 358h1v1h-1zM356 359h1v1h-1zM362 359h2v1h-2zM357 360h1v1h-1zM363 360h1v1h-1zM358 361h1v1h-1zM364 361h1v1h-1zM359 362h1v1h-1zM365 362h2v1h-2zM359 363h2v1h-2zM366 363h1v1h-1zM361 364h1v1h-1zM367 364h1v1h-1zM362 365h1v1h-1zM368 365h1v1h-1zM362 366h2v1h-2zM369 366h1v1h-1zM364 367h1v1h-1zM365 368h1v1h-1zM371 368h1v1h-1zM366 369h1v1h-1zM372 369h1v1h-1zM373 370h1v1h-1zM368 371h1v1h-1zM374 371h1v1h-1zM369 372h1v1h-1zM375 372h1v1h-1zM370 373h1v1h-1zM376 373h2v1h-2zM371 374h1v1h-1zM377 374h1v1h-1zM372 375h1v1h-1zM378 375h1v1h-1zM373 376h1v1h-1zM379 376h1v1h-1zM373 377h2v1h-2zM380 377h1v1h-1zM375 378h1v1h-1zM381 378h1v1h-1zM376 379h1v1h-1zM382 379h2v1h-2zM377 380h1v1h-1zM383 380h2v1h-2zM378 381h1v1h-1zM384 381h1v1h-1zM379 382h1v1h-1zM385 382h2v1h-2zM379 383h2v1h-2zM386 383h1v1h-1zM380 384h2v1h-2zM387 384h2v1h-2zM382 385h1v1h-1zM382 386h2v1h-2zM384 387h1v2h-1zM390 387h1v1h-1zM391 388h1v1h-1zM392 389h1v1h-1zM387 390h1v1h-1zM393 390h1v1h-1zM388 391h1v1h-1zM389 392h1v1h-1zM395 392h1v1h-1zM390 393h1v1h-1zM396 393h1v1h-1zM392 395h1v1h-1zM398 395h1v1h-1zM393 396h1v1h-1zM399 396h1v1h-1zM400 397h1v1h-1zM395 398h1v1h-1zM401 398h2v1h-2zM396 399h1v1h-1zM402 399h1v1h-1zM397 400h1v1h-1zM403 400h1v1h-1zM398 401h1v1h-1zM404 401h1v1h-1zM398 402h2v1h-2zM405 402h2v1h-2zM400 403h1v1h-1zM406 403h1v1h-1zM401 404h1v1h-1zM402 405h1v1h-1zM402 406h2v1h-2zM409 406h1v1h-1zM410 407h1v1h-1zM411 408h1v1h-1zM406 409h1v1h-1zM412 409h2v1h-2zM407 410h1v1h-1zM413 410h1v1h-1zM408 411h1v1h-1zM414 411h2v1h-2zM409 412h1v1h-1zM415 412h1v1h-1zM409 413h2v1h-2zM416 413h2v1h-2zM411 414h1v1h-1zM417 414h1v1h-1zM411 415h2v1h-2zM418 415h1v1h-1zM413 416h1v1h-1zM419 416h1v1h-1zM413 417h2v1h-2zM415 418h1v1h-1zM421 418h1v1h-1zM416 419h1v1h-1zM422 419h1v1h-1zM418 421h1v1h-1zM424 421h1v1h-1zM419 422h1v1h-1zM425 422h1v1h-1zM421 424h1v1h-1zM422 425h1v1h-1zM428 425h1v1h-1zM429 426h1v1h-1zM430 427h1v1h-1zM425 428h1v1h-1zM426 429h1v1h-1zM432 429h1v1h-1zM427 430h1v1h-1zM433 430h2v1h-2zM434 431h1v1h-1zM429 432h1v1h-1zM436 432h1v1h-1zM430 433h1v1h-1zM430 434h2v1h-2zM437 434h1v1h-1zM438 435h1v1h-1zM432 436h1v1h-1zM439 436h1v1h-1zM434 437h1v1h-1zM440 437h2v1h-2zM435 438h1v1h-1zM441 438h1v1h-1zM436 439h1v1h-1zM442 439h1v1h-1zM437 440h1v1h-1zM443 440h2v1h-2zM437 441h2v1h-2zM444 441h1v1h-1zM439 442h1v1h-1zM445 442h1v1h-1zM440 443h1v1h-1zM446 443h1v1h-1zM440 444h2v1h-2zM447 444h1v1h-1zM442 445h1v1h-1zM448 445h1v1h-1zM443 446h1v1h-1zM444 447h1v1h-1zM450 447h1v1h-1zM445 448h1v1h-1zM451 448h1v1h-1zM452 449h1v1h-1zM447 450h1v1h-1zM453 450h1v1h-1zM448 451h1v1h-1zM454 451h1v1h-1zM449 452h1v1h-1zM455 452h1v1h-1zM450 453h1v1h-1zM456 453h1v1h-1zM451 454h1v1h-1zM457 454h1v1h-1zM452 455h1v1h-1zM458 455h1v1h-1zM453 456h1v1h-1zM459 456h1v1h-1zM454 457h1v1h-1zM460 457h1v1h-1zM455 458h1v1h-1zM456 459h1v1h-1zM462 459h2v1h-2zM457 460h1v1h-1zM463 460h1v1h-1zM459 462h1v1h-1zM459 463h2v1h-2zM466 463h2v1h-2zM468 465h1v1h-1zM463 466h1v2h-1zM469 466h1v1h-1zM470 467h1v1h-1zM465 468h1v1h-1zM471 468h2v1h-2zM466 469h1v1h-1zM472 469h2v1h-2zM467 470h1v1h-1zM473 470h1v1h-1zM468 471h1v1h-1zM474 471h1v1h-1zM468 472h2v1h-2zM475 472h1v1h-1zM469 473h2v1h-2zM476 473h1v1h-1zM471 474h1v1h-1zM472 475h1v1h-1zM478 475h1v1h-1zM473 476h1v1h-1zM479 476h1v1h-1zM480 477h1v1h-1zM475 478h1v1h-1zM481 478h1v1h-1zM476 479h1v1h-1zM482 479h1v1h-1zM477 480h1v1h-1zM484 480h1v1h-1zM478 481h1v1h-1zM485 481h1v1h-1zM479 482h1v1h-1zM486 482h1v1h-1zM487 483h1v1h-1zM480 484h1v1h-1zM488 484h1v1h-1zM481 485h1v1h-1zM489 485h1v1h-1zM482 486h1v1h-1zM490 486h1v1h-1zM483 487h1v1h-1zM491 487h1v1h-1zM484 488h1v1h-1zM492 488h1v1h-1zM485 489h1v1h-1zM493 489h1v1h-1zM486 490h1v1h-1zM494 490h1v1h-1zM487 491h1v1h-1zM495 491h1v1h-1zM488 492h1v1h-1zM496 492h1v1h-1zM489 493h1v1h-1zM497 493h1v1h-1zM490 494h1v1h-1zM491 495h1v1h-1zM492 496h1v1h-1zM493 497h1v1h-1z"/>
<path fill="#9ebc84" d="M5 0h1v2h-1zM26 0h1v1h-1zM24 1h1v1h-1zM52 1h1v1h-1zM25 2h1v2h-1zM51 2h1v1h-1zM30 3h1v1h-1zM53 3h1v1h-1zM26 4h1v1h-1zM28 4h1v1h-1zM30 4h2v1h-2zM51 4h2v1h-2zM0 5h2v1h-2zM8 5h2v1h-2zM11 5h1v1h-1zM17 5h1v1h-1zM20 5h2v1h-2zM25 5h2v1h-2zM31 5h1v1h-1zM33 5h1v1h-1zM51 5h3v1h-3zM56 5h1v1h-1zM78 5h1v1h-1zM28 6h1v1h-1zM10 7h1v1h-1zM27 7h2v1h-2zM35 7h1v1h-1zM53 7h1v1h-1zM5 8h1v2h-1zM30 8h1v1h-1zM36 9h1v1h-1zM59 9h1v1h-1zM7 10h1v1h-1zM5 11h1v1h-1zM15 11h1v1h-1zM32 11h2v1h-2zM40 11h2v1h-2zM57 11h1v1h-1zM60 11h1v2h-1zM62 11h2v1h-2zM17 12h1v1h-1zM34 12h1v1h-1zM63 12h1v1h-1zM16 13h2v1h-2zM31 13h3v1h-3zM11 15h1v1h-1zM19 15h1v1h-1zM36 15h1v1h-1zM41 15h1v1h-1zM13 16h1v1h-1zM34 16h2v1h-2zM37 16h2v1h-2zM42 16h2v1h-2zM5 17h1v1h-1zM12 17h2v1h-2zM21 17h2v1h-2zM31 17h1v1h-1zM37 17h1v1h-1zM41 17h1v1h-1zM63 17h1v1h-1zM21 18h1v1h-1zM44 18h1v1h-1zM15 19h1v1h-1zM23 19h2v1h-2zM39 19h1v1h-1zM45 19h1v1h-1zM65 19h1v1h-1zM69 19h1v2h-1zM5 20h1v2h-1zM27 20h1v1h-1zM41 20h2v1h-2zM48 20h1v1h-1zM17 21h2v1h-2zM41 21h3v1h-3zM49 21h1v2h-1zM17 22h1v1h-1zM26 22h1v1h-1zM44 22h1v1h-1zM52 22h1v1h-1zM71 22h1v1h-1zM19 23h1v2h-1zM51 23h1v1h-1zM1 24h1v1h-1zM28 24h1v1h-1zM52 24h1v1h-1zM2 25h2v1h-2zM5 25h1v1h-1zM47 25h1v1h-1zM53 25h1v2h-1zM70 25h1v1h-1zM0 26h1v1h-1zM4 26h2v1h-2zM22 26h1v1h-1zM45 26h1v1h-1zM47 26h3v1h-3zM73 26h1v1h-1zM7 27h1v1h-1zM20 27h1v1h-1zM47 27h2v1h-2zM69 27h1v1h-1zM72 27h3v1h-3zM4 28h1v1h-1zM6 28h2v1h-2zM24 28h1v1h-1zM52 28h1v1h-1zM54 28h1v1h-1zM77 28h1v1h-1zM32 29h1v1h-1zM3 30h2v1h-2zM8 30h1v1h-1zM34 30h2v1h-2zM54 30h1v1h-1zM57 30h1v1h-1zM4 31h2v1h-2zM13 31h1v3h-1zM17 31h1v1h-1zM37 31h1v1h-1zM41 31h1v1h-1zM61 31h1v1h-1zM11 32h1v2h-1zM29 32h1v1h-1zM36 32h1v2h-1zM56 32h1v1h-1zM79 32h2v1h-2zM5 33h1v1h-1zM57 33h1v1h-1zM12 34h1v1h-1zM16 34h1v2h-1zM30 34h1v2h-1zM37 34h1v1h-1zM40 34h1v1h-1zM57 34h2v1h-2zM65 34h1v1h-1zM7 35h1v1h-1zM42 35h1v1h-1zM63 35h2v1h-2zM80 35h3v1h-3zM85 35h1v1h-1zM9 36h1v1h-1zM15 36h1v1h-1zM32 36h2v1h-2zM58 36h1v2h-1zM64 36h2v1h-2zM80 36h1v1h-1zM16 37h2v1h-2zM31 37h1v1h-1zM34 37h1v1h-1zM65 37h1v1h-1zM84 37h1v1h-1zM86 37h1v1h-1zM16 38h1v1h-1zM60 38h1v1h-1zM62 38h1v1h-1zM19 39h1v1h-1zM59 39h1v1h-1zM61 39h1v1h-1zM11 40h1v2h-1zM34 40h1v1h-1zM60 40h1v1h-1zM62 40h1v1h-1zM64 40h1v1h-1zM15 41h1v1h-1zM17 41h1v1h-1zM20 41h2v2h-2zM31 41h1v1h-1zM53 41h1v1h-1zM61 41h1v1h-1zM65 41h1v1h-1zM68 41h1v2h-1zM70 41h1v1h-1zM88 41h2v1h-2zM91 41h1v1h-1zM16 42h1v2h-1zM35 42h1v1h-1zM63 42h2v1h-2zM71 42h1v2h-1zM21 43h1v1h-1zM47 43h1v2h-1zM69 43h1v1h-1zM18 44h1v1h-1zM22 44h1v1h-1zM65 44h1v2h-1zM70 44h1v1h-1zM19 45h1v1h-1zM26 45h1v1h-1zM48 45h1v1h-1zM52 45h1v1h-1zM54 45h1v1h-1zM67 45h1v1h-1zM73 45h3v1h-3zM96 45h1v1h-1zM72 46h2v1h-2zM25 47h3v1h-3zM43 47h2v1h-2zM73 47h2v1h-2zM20 48h1v1h-1zM26 48h2v1h-2zM45 48h1v1h-1zM53 48h1v1h-1zM74 48h2v1h-2zM96 48h1v1h-1zM21 49h2v1h-2zM26 49h1v1h-1zM75 49h2v1h-2zM98 49h1v1h-1zM71 50h1v1h-1zM2 51h1v1h-1zM4 51h2v2h-2zM23 51h1v1h-1zM55 51h1v1h-1zM70 51h2v1h-2zM77 51h2v1h-2zM98 51h1v1h-1zM100 51h1v1h-1zM1 52h1v1h-1zM22 52h1v1h-1zM24 52h1v1h-1zM28 52h1v1h-1zM45 52h1v1h-1zM69 52h2v1h-2zM97 52h2v1h-2zM100 52h3v1h-3zM3 53h1v1h-1zM5 53h1v1h-1zM7 53h1v1h-1zM25 53h2v1h-2zM41 53h1v1h-1zM48 53h1v1h-1zM57 53h1v1h-1zM70 53h1v1h-1zM73 53h1v2h-1zM78 53h2v1h-2zM104 53h1v2h-1zM28 54h1v1h-1zM30 54h1v1h-1zM45 54h1v1h-1zM75 54h1v2h-1zM78 54h3v1h-3zM99 54h1v1h-1zM51 55h1v1h-1zM58 55h2v1h-2zM81 55h1v1h-1zM103 55h1v1h-1zM105 55h1v1h-1zM5 56h1v1h-1zM32 56h1v1h-1zM11 57h1v1h-1zM30 57h1v1h-1zM33 57h2v1h-2zM53 57h1v1h-1zM60 57h4v1h-4zM65 57h1v1h-1zM86 57h1v1h-1zM103 57h1v1h-1zM105 57h1v1h-1zM34 58h1v1h-1zM36 58h2v1h-2zM55 58h1v2h-1zM62 58h1v1h-1zM9 59h1v1h-1zM39 59h1v1h-1zM65 59h1v1h-1zM79 59h1v1h-1zM85 59h1v1h-1zM105 59h1v2h-1zM108 59h1v1h-1zM11 60h2v1h-2zM38 60h1v1h-1zM40 60h1v1h-1zM57 60h1v2h-1zM63 60h1v1h-1zM84 60h1v1h-1zM86 60h1v1h-1zM107 60h2v1h-2zM31 61h1v1h-1zM39 61h1v1h-1zM41 61h1v1h-1zM65 61h1v1h-1zM80 61h1v1h-1zM11 62h1v1h-1zM38 62h1v1h-1zM40 62h1v1h-1zM57 62h2v1h-2zM80 62h2v1h-2zM11 63h2v1h-2zM17 63h1v1h-1zM35 63h1v1h-1zM42 63h1v2h-1zM57 63h1v1h-1zM60 63h1v1h-1zM81 63h2v1h-2zM89 63h1v1h-1zM108 63h1v1h-1zM113 63h1v1h-1zM35 64h2v1h-2zM40 64h1v1h-1zM110 64h1v1h-1zM19 65h1v1h-1zM34 65h1v1h-1zM36 65h2v1h-2zM41 65h1v1h-1zM44 65h2v1h-2zM57 65h1v1h-1zM59 65h1v1h-1zM61 65h1v1h-1zM81 65h1v1h-1zM85 65h1v1h-1zM110 65h2v1h-2zM113 65h1v1h-1zM69 66h1v1h-1zM89 66h1v1h-1zM91 66h1v1h-1zM45 67h1v1h-1zM86 67h1v1h-1zM92 67h2v1h-2zM115 67h1v1h-1zM41 68h2v1h-2zM71 68h1v1h-1zM19 69h2v1h-2zM27 69h1v1h-1zM43 69h1v1h-1zM52 69h1v1h-1zM66 69h1v1h-1zM74 69h1v2h-1zM76 69h1v2h-1zM88 69h4v1h-4zM99 69h1v2h-1zM113 69h1v1h-1zM117 69h1v2h-1zM25 70h1v1h-1zM41 70h1v1h-1zM44 70h1v1h-1zM51 70h3v1h-3zM90 70h1v1h-1zM92 70h1v1h-1zM96 70h1v1h-1zM22 71h1v1h-1zM42 71h2v1h-2zM50 71h2v1h-2zM68 71h1v1h-1zM91 71h1v1h-1zM93 71h1v1h-1zM101 71h1v1h-1zM115 71h1v1h-1zM27 72h1v1h-1zM46 72h1v1h-1zM92 72h1v4h-1zM94 72h1v2h-1zM98 72h1v1h-1zM26 73h2v1h-2zM45 73h3v1h-3zM53 73h2v1h-2zM121 73h1v1h-1zM27 74h1v1h-1zM45 74h1v2h-1zM47 74h2v1h-2zM69 74h2v1h-2zM94 74h2v1h-2zM48 75h2v1h-2zM54 75h2v1h-2zM78 75h1v1h-1zM95 75h2v1h-2zM103 75h1v1h-1zM121 75h1v1h-1zM49 76h1v1h-1zM69 76h2v1h-2zM79 76h1v1h-1zM97 76h1v1h-1zM104 76h1v1h-1zM125 76h1v1h-1zM28 77h1v1h-1zM51 77h1v2h-1zM97 77h2v1h-2zM101 77h2v1h-2zM105 77h1v1h-1zM124 77h1v1h-1zM127 77h1v1h-1zM5 78h1v1h-1zM53 78h2v2h-2zM75 78h1v1h-1zM127 78h2v1h-2zM32 79h1v2h-1zM59 79h1v1h-1zM76 79h1v1h-1zM83 79h1v1h-1zM85 79h1v1h-1zM101 79h2v1h-2zM106 79h1v1h-1zM124 79h1v1h-1zM35 80h2v1h-2zM54 80h1v1h-1zM61 80h2v1h-2zM84 80h1v2h-1zM86 80h1v2h-1zM104 80h1v1h-1zM107 80h1v1h-1zM110 80h1v1h-1zM151 80h1v1h-1zM35 81h1v2h-1zM55 81h1v1h-1zM62 81h2v1h-2zM65 81h1v1h-1zM103 81h1v1h-1zM111 81h1v2h-1zM128 81h1v1h-1zM132 81h1v2h-1zM63 82h1v1h-1zM85 82h1v1h-1zM104 82h1v1h-1zM79 83h1v1h-1zM105 83h1v2h-1zM107 83h1v1h-1zM113 83h1v1h-1zM37 84h1v1h-1zM60 84h1v1h-1zM80 84h2v1h-2zM87 84h1v1h-1zM108 84h1v1h-1zM35 85h1v1h-1zM59 85h1v1h-1zM65 85h1v1h-1zM79 85h1v1h-1zM82 85h1v1h-1zM89 85h1v1h-1zM37 86h1v1h-1zM57 86h1v1h-1zM60 86h1v1h-1zM67 86h1v1h-1zM80 86h2v1h-2zM105 86h1v1h-1zM108 86h3v1h-3zM113 86h2v1h-2zM132 86h1v1h-1zM135 86h1v1h-1zM84 87h1v1h-1zM41 88h1v2h-1zM69 88h1v2h-1zM91 88h2v1h-2zM109 88h1v1h-1zM117 88h1v2h-1zM137 88h1v1h-1zM63 89h1v1h-1zM66 89h1v1h-1zM85 89h1v1h-1zM112 89h1v1h-1zM69 90h2v1h-2zM93 90h2v1h-2zM137 90h1v1h-1zM41 91h1v1h-1zM66 91h1v1h-1zM69 91h1v1h-1zM71 91h1v1h-1zM88 91h1v2h-1zM98 91h1v1h-1zM117 91h1v1h-1zM139 91h1v2h-1zM67 92h1v2h-1zM70 92h1v1h-1zM72 92h4v1h-4zM97 92h1v1h-1zM99 92h1v1h-1zM114 92h1v1h-1zM71 93h1v1h-1zM90 93h1v2h-1zM100 93h1v1h-1zM115 93h1v2h-1zM119 93h1v1h-1zM121 93h2v1h-2zM137 93h1v1h-1zM139 93h4v1h-4zM72 94h3v1h-3zM140 94h1v1h-1zM74 95h2v1h-2zM99 95h1v1h-1zM117 95h1v2h-1zM121 95h1v1h-1zM141 95h1v1h-1zM45 96h1v1h-1zM48 96h1v1h-1zM70 96h1v1h-1zM75 96h1v1h-1zM101 96h1v2h-1zM122 96h2v1h-2zM143 96h1v1h-1zM52 97h1v1h-1zM76 97h2v1h-2zM92 97h1v1h-1zM118 97h1v1h-1zM125 97h1v2h-1zM142 97h1v1h-1zM145 97h1v1h-1zM49 98h1v1h-1zM51 98h2v1h-2zM72 98h1v1h-1zM77 98h1v1h-1zM91 98h1v1h-1zM103 98h1v1h-1zM119 98h1v1h-1zM144 98h2v1h-2zM147 98h1v1h-1zM54 99h1v1h-1zM69 99h2v1h-2zM92 99h1v1h-1zM95 99h1v1h-1zM103 99h2v1h-2zM124 99h1v1h-1zM143 99h1v1h-1zM145 99h1v2h-1zM51 100h2v1h-2zM93 100h1v1h-1zM103 100h1v1h-1zM122 100h1v1h-1zM52 101h1v2h-1zM71 101h1v1h-1zM77 101h1v2h-1zM79 101h1v2h-1zM96 101h2v1h-2zM104 101h1v1h-1zM123 101h1v1h-1zM127 101h1v2h-1zM149 101h1v1h-1zM151 101h1v1h-1zM105 102h1v1h-1zM125 102h1v1h-1zM55 103h1v1h-1zM57 103h1v1h-1zM75 103h1v1h-1zM81 103h1v1h-1zM98 103h3v1h-3zM109 103h1v1h-1zM53 104h2v1h-2zM76 104h1v1h-1zM80 104h1v1h-1zM82 104h1v1h-1zM99 104h1v1h-1zM101 104h1v1h-1zM109 104h3v1h-3zM125 104h1v2h-1zM149 104h1v1h-1zM151 104h2v2h-2zM55 105h1v1h-1zM57 105h1v1h-1zM59 105h2v1h-2zM77 105h1v1h-1zM83 105h2v1h-2zM86 105h1v1h-1zM102 105h1v1h-1zM108 105h1v1h-1zM79 106h1v1h-1zM127 106h1v3h-1zM131 106h2v1h-2zM60 107h1v1h-1zM80 107h1v1h-1zM83 107h1v1h-1zM110 107h1v1h-1zM132 107h1v1h-1zM155 107h1v1h-1zM59 108h2v1h-2zM63 108h1v1h-1zM84 108h1v1h-1zM86 108h1v3h-1zM105 108h1v1h-1zM135 108h1v1h-1zM88 109h1v1h-1zM103 109h2v1h-2zM112 109h2v1h-2zM115 109h1v1h-1zM128 109h3v1h-3zM134 109h1v1h-1zM137 109h1v1h-1zM155 109h1v1h-1zM64 110h2v1h-2zM80 110h1v1h-1zM104 110h1v2h-1zM107 110h1v1h-1zM114 110h1v1h-1zM135 110h3v1h-3zM154 110h1v1h-1zM157 110h1v1h-1zM159 110h1v2h-1zM65 111h1v1h-1zM81 111h2v1h-2zM128 111h1v1h-1zM132 111h1v1h-1zM136 111h2v1h-2zM151 111h1v1h-1zM155 111h1v1h-1zM89 112h1v1h-1zM109 112h1v2h-1zM63 113h1v1h-1zM65 113h1v1h-1zM69 113h1v1h-1zM83 113h1v1h-1zM86 113h1v2h-1zM117 113h1v1h-1zM129 113h1v1h-1zM135 113h1v2h-1zM137 113h1v1h-1zM141 113h1v1h-1zM155 113h1v1h-1zM92 114h1v1h-1zM110 114h1v1h-1zM140 114h1v1h-1zM161 114h1v1h-1zM67 115h1v1h-1zM71 115h1v1h-1zM93 115h2v1h-2zM109 115h1v1h-1zM119 115h1v1h-1zM121 115h1v1h-1zM124 115h2v1h-2zM134 115h2v1h-2zM141 115h1v2h-1zM143 115h1v1h-1zM160 115h1v1h-1zM162 115h1v1h-1zM137 116h1v1h-1zM69 117h2v1h-2zM88 117h2v1h-2zM91 117h1v1h-1zM95 117h2v1h-2zM113 117h1v1h-1zM121 117h1v2h-1zM136 117h1v1h-1zM142 117h1v1h-1zM145 117h1v1h-1zM159 117h1v1h-1zM164 117h1v1h-1zM169 117h1v1h-1zM97 118h1v1h-1zM124 118h1v1h-1zM144 118h2v1h-2zM93 119h1v1h-1zM98 119h1v1h-1zM115 119h1v1h-1zM140 119h1v1h-1zM145 119h1v1h-1zM169 120h1v4h-1zM73 121h1v1h-1zM75 121h1v1h-1zM93 121h1v2h-1zM95 121h1v1h-1zM115 121h1v1h-1zM117 121h2v1h-2zM124 121h2v1h-2zM139 121h1v1h-1zM141 121h1v1h-1zM146 121h2v1h-2zM167 121h1v1h-1zM96 122h1v2h-1zM100 122h1v1h-1zM140 122h1v1h-1zM142 122h1v1h-1zM144 122h1v1h-1zM101 123h1v1h-1zM141 123h1v1h-1zM77 124h1v1h-1zM79 124h1v1h-1zM99 124h1v1h-1zM115 124h1v2h-1zM118 124h1v1h-1zM121 124h1v2h-1zM144 124h1v1h-1zM146 124h1v2h-1zM149 124h3v1h-3zM171 124h1v1h-1zM173 124h1v1h-1zM76 125h1v1h-1zM97 125h2v1h-2zM102 125h1v1h-1zM104 125h2v1h-2zM129 125h1v1h-1zM148 125h1v1h-1zM150 125h1v1h-1zM170 125h1v1h-1zM174 125h2v1h-2zM151 126h1v1h-1zM77 127h2v1h-2zM101 127h2v1h-2zM106 127h3v1h-3zM130 127h1v1h-1zM137 127h1v1h-1zM148 127h1v2h-1zM155 127h2v1h-2zM176 127h2v1h-2zM78 128h1v1h-1zM81 128h1v1h-1zM109 128h1v3h-1zM111 128h1v1h-1zM132 128h1v1h-1zM135 128h1v1h-1zM150 128h1v1h-1zM153 128h2v1h-2zM156 128h1v1h-1zM180 128h1v1h-1zM113 129h1v1h-1zM125 129h1v1h-1zM150 129h2v1h-2zM154 129h1v1h-1zM175 129h1v1h-1zM178 129h1v1h-1zM127 130h1v1h-1zM134 130h1v1h-1zM157 130h1v2h-1zM159 130h1v2h-1zM180 130h1v1h-1zM106 131h1v1h-1zM135 131h1v1h-1zM151 131h1v1h-1zM181 131h1v1h-1zM81 132h2v1h-2zM86 132h1v1h-1zM106 132h2v1h-2zM111 132h1v1h-1zM128 132h1v1h-1zM136 132h1v1h-1zM158 132h4v1h-4zM177 132h2v1h-2zM181 132h2v1h-2zM185 132h1v1h-1zM137 133h1v2h-1zM151 133h1v2h-1zM153 133h1v1h-1zM158 133h1v1h-1zM109 134h1v1h-1zM115 134h1v1h-1zM130 134h1v1h-1zM156 134h1v1h-1zM159 134h2v1h-2zM86 135h1v1h-1zM108 135h1v1h-1zM110 135h1v1h-1zM113 135h3v1h-3zM128 135h1v1h-1zM131 135h1v1h-1zM155 135h1v1h-1zM160 135h2v1h-2zM184 135h1v1h-1zM110 136h2v1h-2zM117 136h1v1h-1zM132 136h1v1h-1zM151 136h1v1h-1zM156 136h1v1h-1zM161 136h2v1h-2zM88 137h1v1h-1zM90 137h1v1h-1zM93 137h1v1h-1zM109 137h3v1h-3zM113 137h1v1h-1zM116 137h1v1h-1zM127 137h1v1h-1zM133 137h2v1h-2zM142 137h1v1h-1zM155 137h1v1h-1zM158 137h2v1h-2zM163 137h1v1h-1zM187 137h1v1h-1zM189 137h1v1h-1zM160 138h1v2h-1zM169 138h1v1h-1zM91 139h3v1h-3zM121 139h1v1h-1zM143 139h2v1h-2zM146 139h1v1h-1zM167 139h1v2h-1zM93 140h2v1h-2zM114 140h1v1h-1zM119 140h1v1h-1zM122 140h1v1h-1zM143 140h3v1h-3zM195 140h1v1h-1zM93 141h1v2h-1zM95 141h1v1h-1zM113 141h1v1h-1zM115 141h2v1h-2zM121 141h1v1h-1zM123 141h1v1h-1zM144 141h1v1h-1zM146 141h2v1h-2zM162 141h1v1h-1zM168 141h2v1h-2zM97 142h1v1h-1zM117 142h1v1h-1zM122 142h1v1h-1zM137 142h1v1h-1zM146 142h1v1h-1zM164 142h1v1h-1zM169 142h2v1h-2zM96 143h1v1h-1zM99 143h1v1h-1zM115 143h1v1h-1zM139 143h2v1h-2zM147 143h1v1h-1zM163 143h1v1h-1zM165 143h1v2h-1zM195 143h1v1h-1zM98 144h1v1h-1zM118 144h1v1h-1zM122 144h1v1h-1zM124 144h1v1h-1zM139 144h3v1h-3zM171 144h1v1h-1zM197 144h1v1h-1zM97 145h4v1h-4zM117 145h3v1h-3zM140 145h1v1h-1zM151 145h1v2h-1zM163 145h2v1h-2zM167 145h1v1h-1zM172 145h1v1h-1zM175 145h1v1h-1zM198 145h1v1h-1zM121 146h1v2h-1zM124 146h2v1h-2zM139 146h1v1h-1zM141 146h2v1h-2zM149 146h1v1h-1zM199 146h1v1h-1zM98 147h1v1h-1zM141 147h1v1h-1zM143 147h1v1h-1zM174 147h1v1h-1zM197 147h1v1h-1zM125 148h1v1h-1zM127 148h2v1h-2zM169 148h1v1h-1zM171 148h1v1h-1zM175 148h1v2h-1zM195 148h1v1h-1zM101 149h1v1h-1zM104 149h1v1h-1zM124 149h1v1h-1zM146 149h1v1h-1zM172 149h2v1h-2zM200 149h1v1h-1zM124 150h2v1h-2zM128 150h2v1h-2zM153 150h1v1h-1zM155 150h1v2h-1zM169 150h1v2h-1zM177 150h2v1h-2zM202 150h1v1h-1zM205 150h1v1h-1zM207 150h1v1h-1zM80 151h1v1h-1zM101 151h1v1h-1zM104 151h2v2h-2zM111 151h1v1h-1zM124 151h1v1h-1zM126 151h1v1h-1zM129 151h1v1h-1zM131 151h1v1h-1zM133 151h2v1h-2zM136 151h1v1h-1zM145 151h2v1h-2zM157 151h1v2h-1zM163 151h1v1h-1zM172 151h1v1h-1zM174 151h2v1h-2zM181 151h3v1h-3zM200 151h1v1h-1zM203 151h2v1h-2zM207 151h2v1h-2zM180 152h2v1h-2zM204 152h1v1h-1zM206 152h2v1h-2zM128 153h1v1h-1zM133 153h1v1h-1zM150 153h1v1h-1zM156 153h2v1h-2zM159 153h1v1h-1zM175 153h1v1h-1zM177 153h1v1h-1zM185 153h1v3h-1zM206 153h1v1h-1zM208 153h1v1h-1zM110 154h1v1h-1zM128 154h2v1h-2zM158 154h1v1h-1zM182 154h1v1h-1zM205 154h1v3h-1zM107 155h1v1h-1zM109 155h1v1h-1zM111 155h1v1h-1zM113 155h1v1h-1zM127 155h1v1h-1zM135 155h1v1h-1zM137 155h1v1h-1zM150 155h2v1h-2zM159 155h2v1h-2zM175 155h1v1h-1zM183 155h1v1h-1zM208 155h1v2h-1zM127 156h2v1h-2zM134 156h1v1h-1zM136 156h1v1h-1zM153 156h1v1h-1zM160 156h1v1h-1zM180 156h1v1h-1zM211 156h1v3h-1zM110 157h1v1h-1zM130 157h2v1h-2zM151 157h3v1h-3zM178 157h3v1h-3zM185 157h1v1h-1zM213 157h1v1h-1zM132 158h2v1h-2zM137 158h1v2h-1zM154 158h1v1h-1zM161 158h1v1h-1zM163 158h1v1h-1zM177 158h1v2h-1zM182 158h1v1h-1zM186 158h1v1h-1zM110 159h2v1h-2zM117 159h1v1h-1zM130 159h3v1h-3zM134 159h1v1h-1zM153 159h1v1h-1zM155 159h1v1h-1zM163 159h2v1h-2zM181 159h3v1h-3zM189 159h1v1h-1zM205 159h1v1h-1zM215 159h1v1h-1zM115 160h1v1h-1zM132 160h1v2h-1zM134 160h2v1h-2zM138 160h2v1h-2zM155 160h2v1h-2zM181 160h2v1h-2zM188 160h1v1h-1zM114 161h1v1h-1zM135 161h2v1h-2zM158 161h1v1h-1zM165 161h1v2h-1zM167 161h1v1h-1zM181 161h1v1h-1zM184 161h1v1h-1zM187 161h1v2h-1zM193 161h1v1h-1zM195 161h1v2h-1zM217 161h1v1h-1zM115 162h1v1h-1zM136 162h1v1h-1zM141 162h1v1h-1zM169 162h1v1h-1zM191 162h1v1h-1zM137 163h1v1h-1zM143 163h1v1h-1zM145 163h1v2h-1zM151 163h1v1h-1zM158 163h2v1h-2zM167 163h2v1h-2zM186 163h2v1h-2zM194 163h1v1h-1zM219 163h1v1h-1zM117 164h1v1h-1zM142 164h1v1h-1zM159 164h1v1h-1zM167 164h1v1h-1zM169 164h1v1h-1zM189 164h1v1h-1zM193 164h1v1h-1zM195 164h1v1h-1zM143 165h2v1h-2zM161 165h2v1h-2zM169 166h2v1h-2zM195 166h1v1h-1zM121 167h1v1h-1zM139 167h2v1h-2zM145 167h1v1h-1zM161 167h1v1h-1zM163 167h2v1h-2zM170 167h1v1h-1zM200 167h1v1h-1zM141 168h1v1h-1zM163 168h1v1h-1zM191 168h1v1h-1zM117 169h1v1h-1zM120 169h4v1h-4zM138 169h1v1h-1zM141 169h2v1h-2zM148 169h1v1h-1zM150 169h2v1h-2zM162 169h1v1h-1zM164 169h1v1h-1zM166 169h1v1h-1zM173 169h2v1h-2zM189 169h1v1h-1zM192 169h1v1h-1zM194 169h1v1h-1zM201 169h1v1h-1zM204 169h2v1h-2zM125 170h1v1h-1zM142 170h1v1h-1zM166 170h2v1h-2zM174 170h2v1h-2zM191 170h1v1h-1zM200 170h1v1h-1zM202 170h1v1h-1zM205 170h1v1h-1zM124 171h1v1h-1zM144 171h1v1h-1zM148 171h1v1h-1zM175 171h1v1h-1zM195 171h1v3h-1zM145 172h1v1h-1zM149 172h1v2h-1zM151 172h1v1h-1zM202 172h1v1h-1zM124 173h1v1h-1zM169 173h1v1h-1zM201 173h1v1h-1zM125 174h1v2h-1zM147 174h1v1h-1zM151 174h1v2h-1zM169 174h2v1h-2zM200 174h3v1h-3zM205 174h3v1h-3zM129 175h1v1h-1zM145 175h1v1h-1zM148 175h2v1h-2zM153 175h1v1h-1zM155 175h1v1h-1zM170 175h2v1h-2zM178 175h2v1h-2zM181 175h1v2h-1zM185 175h1v1h-1zM195 175h1v1h-1zM198 175h2v1h-2zM202 175h1v1h-1zM206 175h1v1h-1zM208 175h1v1h-1zM127 176h1v2h-1zM132 177h1v2h-1zM150 177h1v2h-1zM153 177h1v1h-1zM158 177h2v1h-2zM180 177h1v1h-1zM183 177h2v1h-2zM129 178h1v1h-1zM157 178h1v2h-1zM175 178h1v2h-1zM182 178h1v1h-1zM204 178h1v1h-1zM211 178h1v1h-1zM185 179h1v2h-1zM205 179h2v1h-2zM128 180h1v1h-1zM130 180h1v1h-1zM152 180h1v1h-1zM156 180h2v1h-2zM177 180h1v1h-1zM187 180h1v1h-1zM206 180h1v1h-1zM213 180h1v1h-1zM131 181h2v1h-2zM151 181h2v1h-2zM159 181h3v1h-3zM175 181h2v1h-2zM184 181h4v1h-4zM208 181h1v2h-1zM132 182h1v1h-1zM151 182h1v2h-1zM154 182h1v1h-1zM158 182h3v1h-3zM178 182h1v1h-1zM205 182h1v1h-1zM155 183h1v1h-1zM159 183h1v1h-1zM177 183h1v2h-1zM187 183h1v1h-1zM207 183h1v1h-1zM135 184h1v1h-1zM161 184h1v1h-1zM181 184h1v1h-1zM208 184h1v2h-1zM213 184h1v1h-1zM217 184h1v1h-1zM132 185h1v1h-1zM153 185h3v1h-3zM157 185h1v1h-1zM175 185h1v1h-1zM179 185h3v1h-3zM190 185h1v1h-1zM206 185h1v1h-1zM214 185h1v1h-1zM158 186h1v1h-1zM163 186h1v1h-1zM181 186h1v1h-1zM191 186h1v1h-1zM211 186h1v2h-1zM217 186h1v1h-1zM137 187h1v1h-1zM161 187h3v1h-3zM180 187h2v1h-2zM183 187h1v1h-1zM192 187h1v1h-1zM205 187h1v1h-1zM213 187h1v1h-1zM216 187h1v1h-1zM160 188h1v1h-1zM193 188h1v1h-1zM195 188h1v1h-1zM217 188h1v2h-1zM137 189h1v1h-1zM159 189h1v1h-1zM164 189h1v1h-1zM169 189h1v1h-1zM194 189h2v1h-2zM219 189h1v1h-1zM185 190h1v1h-1zM162 191h1v1h-1zM168 191h1v1h-1zM170 191h1v1h-1zM186 191h1v1h-1zM196 191h2v1h-2zM217 191h1v1h-1zM221 191h1v1h-1zM169 192h1v1h-1zM187 192h1v1h-1zM197 192h1v1h-1zM161 193h1v1h-1zM164 193h1v1h-1zM188 193h1v1h-1zM199 193h1v1h-1zM163 194h1v1h-1zM169 194h1v1h-1zM189 194h1v1h-1zM200 194h1v1h-1zM140 195h1v1h-1zM143 195h1v1h-1zM148 195h1v1h-1zM161 195h2v1h-2zM164 195h1v1h-1zM166 195h1v1h-1zM171 195h3v1h-3zM175 195h1v1h-1zM188 195h2v1h-2zM198 195h2v1h-2zM205 195h1v1h-1zM222 195h1v1h-1zM226 195h2v1h-2zM191 196h1v1h-1zM200 196h1v1h-1zM144 197h1v1h-1zM147 197h1v1h-1zM191 197h2v1h-2zM202 197h1v1h-1zM224 197h1v1h-1zM145 198h1v1h-1zM175 198h1v2h-1zM195 198h1v2h-1zM201 198h1v1h-1zM223 198h1v2h-1zM228 198h1v1h-1zM146 199h1v1h-1zM193 199h1v1h-1zM205 199h1v2h-1zM149 200h1v1h-1zM151 200h1v1h-1zM167 200h1v1h-1zM170 200h1v1h-1zM174 200h1v1h-1zM194 200h1v1h-1zM196 200h1v1h-1zM229 200h1v1h-1zM169 201h1v1h-1zM173 201h2v1h-2zM198 201h1v1h-1zM205 201h2v1h-2zM228 201h2v1h-2zM150 202h1v1h-1zM170 202h1v1h-1zM172 202h1v1h-1zM174 202h2v1h-2zM197 202h1v1h-1zM205 202h3v1h-3zM228 202h1v1h-1zM151 203h1v1h-1zM151 204h2v1h-2zM169 204h1v1h-1zM178 204h1v1h-1zM210 204h1v1h-1zM150 205h1v1h-1zM154 205h3v1h-3zM159 205h1v1h-1zM169 205h2v1h-2zM174 205h1v1h-1zM179 205h1v1h-1zM182 205h1v1h-1zM187 205h1v1h-1zM195 205h1v1h-1zM199 205h4v1h-4zM209 205h1v2h-1zM211 205h1v1h-1zM213 205h1v2h-1zM152 206h2v1h-2zM174 206h2v1h-2zM179 206h2v1h-2zM185 206h1v1h-1zM201 206h2v1h-2zM150 207h3v1h-3zM174 207h1v1h-1zM183 207h1v1h-1zM202 207h1v1h-1zM151 208h1v1h-1zM153 208h1v1h-1zM155 208h2v1h-2zM175 208h1v1h-1zM181 208h2v1h-2zM184 208h2v1h-2zM211 208h3v1h-3zM205 209h2v1h-2zM204 210h1v1h-1zM156 211h3v1h-3zM178 211h1v1h-1zM186 211h2v1h-2zM205 211h1v1h-1zM208 211h1v3h-1zM216 211h1v1h-1zM157 213h1v1h-1zM180 213h1v1h-1zM184 213h1v1h-1zM187 213h1v1h-1zM205 213h2v1h-2zM216 213h2v1h-2zM185 214h1v1h-1zM159 215h1v1h-1zM187 216h1v1h-1zM211 216h1v1h-1zM213 216h1v2h-1zM161 217h1v1h-1zM184 217h1v1h-1zM186 217h1v1h-1zM188 217h2v1h-2zM191 217h1v1h-1zM163 219h1v1h-1zM189 219h1v1h-1zM191 221h1v1h-1zM195 222h1v1h-1zM198 223h2v1h-2zM197 224h1v1h-1zM195 226h1v2h-1zM198 228h1v1h-1zM201 228h2v1h-2zM232 228h1v1h-1zM200 229h2v1h-2zM234 231h1v1h-1zM228 232h1v1h-1zM237 233h1v1h-1zM231 234h1v1h-1zM238 235h1v1h-1zM233 237h1v1h-1zM241 237h1v1h-1zM235 238h1v1h-1zM244 240h1v1h-1zM237 241h1v1h-1zM245 241h1v1h-1zM246 242h1v1h-1zM240 244h1v1h-1zM241 245h1v1h-1zM242 246h1v1h-1zM251 247h1v1h-1zM252 248h1v1h-1zM253 249h1v1h-1zM254 250h1v1h-1zM247 251h1v1h-1zM255 251h1v1h-1zM248 252h1v1h-1zM255 252h2v1h-2zM249 253h1v1h-1zM257 253h1v1h-1zM250 254h1v1h-1zM251 255h2v1h-2zM259 255h1v1h-1zM252 256h1v1h-1zM260 256h1v1h-1zM253 257h1v1h-1zM261 257h1v1h-1zM262 258h1v1h-1zM255 259h1v1h-1zM263 259h1v1h-1zM256 260h1v1h-1zM264 260h1v1h-1zM257 261h1v1h-1zM265 261h1v1h-1zM258 262h1v1h-1zM266 262h1v1h-1zM259 263h1v1h-1zM267 263h1v1h-1zM260 264h1v1h-1zM261 265h1v1h-1zM262 266h1v1h-1zM269 266h1v1h-1zM263 267h1v1h-1zM272 268h1v1h-1zM266 269h1v1h-1zM275 271h1v1h-1zM268 272h1v1h-1zM278 273h1v1h-1zM279 274h1v1h-1zM271 275h1v1h-1zM280 275h1v1h-1zM281 276h1v1h-1zM282 277h1v1h-1zM273 278h1v1h-1zM283 278h1v1h-1zM274 279h1v1h-1zM284 279h1v1h-1zM275 280h1v1h-1zM285 280h1v1h-1zM276 281h1v1h-1zM286 281h1v1h-1zM277 282h1v1h-1zM287 282h1v1h-1zM278 283h1v1h-1zM288 283h1v1h-1zM279 284h1v1h-1zM289 284h1v1h-1zM280 285h1v1h-1zM290 285h1v1h-1zM281 286h1v1h-1zM291 286h1v1h-1zM282 287h1v1h-1zM292 287h1v1h-1zM283 288h1v1h-1zM293 288h1v1h-1zM284 289h1v1h-1zM294 289h1v1h-1zM285 290h1v1h-1zM295 290h1v1h-1zM286 291h1v1h-1zM296 291h1v1h-1zM287 292h1v1h-1zM297 292h1v1h-1zM288 293h1v1h-1zM298 293h1v1h-1zM289 294h1v1h-1zM299 294h1v1h-1zM290 295h1v1h-1zM300 295h1v1h-1zM291 296h1v1h-1zM301 296h1v1h-1zM292 297h1v1h-1zM302 297h1v1h-1zM293 298h1v1h-1zM303 298h1v1h-1zM294 299h1v1h-1zM304 299h1v1h-1zM295 300h1v1h-1zM305 300h1v1h-1zM296 301h1v1h-1zM306 301h1v1h-1zM297 302h1v1h-1zM307 302h1v1h-1zM298 303h1v1h-1zM308 303h1v1h-1zM299 304h1v1h-1zM309 304h1v1h-1zM300 305h1v1h-1zM310 305h1v1h-1zM301 306h1v1h-1zM311 306h1v1h-1zM302 307h1v1h-1zM312 307h2v1h-2zM303 308h1v1h-1zM313 308h1v1h-1zM304 309h1v1h-1zM305 310h1v1h-1zM306 311h1v1h-1zM307 312h1v1h-1zM307 313h2v1h-2zM317 313h1v1h-1zM318 314h1v2h-1zM320 316h1v1h-1zM313 317h1v1h-1zM314 318h2v1h-2zM323 319h1v1h-1zM316 320h1v1h-1zM324 320h1v1h-1zM325 321h1v2h-1zM319 323h1v1h-1zM326 323h2v1h-2zM320 324h1v1h-1zM328 324h1v1h-1zM321 325h2v1h-2zM329 325h1v1h-1zM323 326h1v2h-1zM330 326h1v1h-1zM331 327h1v1h-1zM324 328h1v1h-1zM332 328h1v1h-1zM325 329h1v1h-1zM333 329h1v1h-1zM326 330h1v1h-1zM327 331h1v1h-1zM335 331h1v2h-1zM328 332h1v1h-1zM329 333h1v1h-1zM337 333h1v1h-1zM331 335h2v1h-2zM339 335h1v2h-1zM333 337h1v1h-1zM341 337h1v1h-1zM335 339h2v1h-2zM337 341h1v1h-1zM344 341h2v1h-2zM341 344h1v2h-1zM348 344h1v1h-1zM350 346h1v1h-1zM344 348h1v1h-1zM353 349h1v1h-1zM346 350h1v1h-1zM355 351h1v1h-1zM356 352h1v1h-1zM349 353h1v1h-1zM358 354h1v1h-1zM351 355h1v1h-1zM359 355h1v1h-1zM352 356h1v1h-1zM360 356h1v1h-1zM354 358h1v1h-1zM355 359h1v1h-1zM356 360h1v1h-1zM365 361h1v1h-1zM368 363h1v2h-1zM361 365h1v1h-1zM369 365h1v1h-1zM370 366h1v1h-1zM371 367h1v1h-1zM363 368h2v1h-2zM372 368h1v1h-1zM365 369h1v1h-1zM366 370h1v1h-1zM367 371h1v1h-1zM368 372h1v1h-1zM376 372h1v1h-1zM378 374h1v1h-1zM379 375h1v1h-1zM372 376h1v1h-1zM380 376h1v1h-1zM381 377h1v1h-1zM374 378h1v1h-1zM382 378h1v1h-1zM375 379h1v1h-1zM376 380h1v1h-1zM377 381h1v1h-1zM385 381h1v1h-1zM378 382h1v1h-1zM387 383h1v1h-1zM381 385h1v1h-1zM388 385h1v1h-1zM389 386h2v1h-2zM383 387h1v1h-1zM391 387h1v1h-1zM385 388h1v1h-1zM392 388h1v1h-1zM386 389h1v2h-1zM393 389h1v1h-1zM387 391h1v1h-1zM394 391h2v1h-2zM388 392h1v1h-1zM396 392h1v1h-1zM389 393h1v1h-1zM397 393h1v1h-1zM391 394h1v2h-1zM397 394h2v1h-2zM399 395h1v1h-1zM392 396h1v1h-1zM400 396h1v1h-1zM393 397h2v1h-2zM401 397h1v1h-1zM394 398h1v1h-1zM395 399h1v1h-1zM396 400h1v1h-1zM397 401h1v1h-1zM405 401h1v1h-1zM407 403h1v1h-1zM407 404h2v1h-2zM401 405h1v1h-1zM408 405h1v1h-1zM410 406h1v1h-1zM403 407h2v1h-2zM411 407h1v1h-1zM404 408h2v1h-2zM412 408h1v1h-1zM406 410h1v1h-1zM407 411h1v1h-1zM408 412h1v1h-1zM416 412h1v1h-1zM419 415h1v1h-1zM412 416h1v1h-1zM420 416h1v1h-1zM420 417h2v1h-2zM422 418h1v1h-1zM415 419h1v1h-1zM423 419h1v2h-1zM416 420h2v1h-2zM417 421h1v1h-1zM418 422h1v1h-1zM419 423h2v1h-2zM426 423h2v1h-2zM428 424h1v1h-1zM423 426h1v2h-1zM430 426h1v1h-1zM424 428h1v1h-1zM431 428h2v1h-2zM433 429h1v1h-1zM426 430h1v1h-1zM428 431h1v2h-1zM435 431h1v2h-1zM429 433h1v1h-1zM436 433h1v1h-1zM438 434h1v1h-1zM431 435h2v1h-2zM433 436h1v1h-1zM434 438h1v1h-1zM442 438h1v1h-1zM445 441h1v1h-1zM438 442h1v1h-1zM446 442h1v1h-1zM447 443h1v1h-1zM448 444h1v1h-1zM441 445h1v1h-1zM449 445h1v2h-1zM442 446h1v1h-1zM443 447h1v1h-1zM451 447h1v1h-1zM444 448h1v1h-1zM452 448h1v1h-1zM445 449h2v1h-2zM454 450h1v1h-1zM447 451h1v1h-1zM448 452h1v1h-1zM457 453h1v1h-1zM450 454h1v1h-1zM458 454h1v1h-1zM459 455h1v1h-1zM460 456h1v1h-1zM453 457h1v1h-1zM461 457h1v1h-1zM454 458h1v1h-1zM461 458h2v1h-2zM455 459h1v1h-1zM464 459h1v1h-1zM456 460h1v1h-1zM457 461h2v1h-2zM464 461h2v1h-2zM458 462h1v1h-1zM465 462h2v1h-2zM459 464h1v1h-1zM461 464h1v1h-1zM467 464h2v1h-2zM461 465h2v1h-2zM462 466h1v1h-1zM470 466h1v1h-1zM464 467h1v2h-1zM471 467h1v1h-1zM466 470h1v1h-1zM474 470h1v1h-1zM467 471h1v1h-1zM475 471h1v1h-1zM476 472h1v1h-1zM477 473h1v1h-1zM470 474h1v1h-1zM471 475h1v1h-1zM479 475h1v1h-1zM472 476h1v1h-1zM480 476h1v1h-1zM473 477h1v1h-1zM481 477h1v1h-1zM475 479h1v1h-1zM483 479h1v1h-1zM476 480h1v1h-1zM485 480h1v1h-1zM477 481h1v1h-1zM486 481h1v1h-1zM487 482h1v1h-1zM479 483h1v1h-1zM488 483h1v1h-1zM489 484h1v1h-1zM480 485h1v1h-1zM490 485h1v1h-1zM481 486h1v1h-1zM491 486h1v1h-1zM482 487h1v1h-1zM492 487h1v1h-1zM483 488h1v1h-1zM493 488h1v1h-1zM484 489h1v1h-1zM494 489h1v1h-1zM485 490h1v1h-1zM495 490h1v1h-1zM486 491h1v1h-1zM496 491h1v1h-1zM487 492h1v1h-1zM497 492h1v1h-1zM488 493h1v1h-1zM489 494h1v1h-1zM490 495h1v1h-1zM491 496h1v1h-1zM492 497h1v1h-1z"/>
<path fill="#92b48c" d="M3 0h1v1h-1zM19 0h1v1h-1zM21 0h3v1h-3zM19 1h4v1h-4zM28 1h1v2h-1zM49 1h1v1h-1zM53 1h1v1h-1zM21 2h1v1h-1zM52 2h2v1h-2zM0 3h1v1h-1zM24 3h1v1h-1zM25 4h1v1h-1zM53 4h2v1h-2zM10 5h1v1h-1zM12 5h1v1h-1zM16 5h1v1h-1zM28 5h1v1h-1zM30 5h1v1h-1zM32 5h1v2h-1zM37 5h1v1h-1zM39 5h1v1h-1zM41 5h2v1h-2zM45 5h1v1h-1zM55 5h1v3h-1zM59 5h1v1h-1zM76 5h1v1h-1zM79 5h1v1h-1zM12 7h2v1h-2zM15 7h1v1h-1zM30 7h1v1h-1zM34 7h1v1h-1zM36 7h1v1h-1zM59 7h2v1h-2zM13 8h1v1h-1zM29 8h1v1h-1zM35 8h3v1h-3zM60 8h1v1h-1zM14 9h2v2h-2zM17 9h1v1h-1zM30 9h1v1h-1zM37 9h1v2h-1zM58 9h1v1h-1zM5 10h1v1h-1zM16 11h2v1h-2zM39 11h1v1h-1zM55 11h1v1h-1zM61 11h1v1h-1zM5 12h1v1h-1zM7 12h1v1h-1zM16 12h1v1h-1zM31 12h1v1h-1zM33 12h1v1h-1zM38 12h1v1h-1zM59 12h1v1h-1zM61 12h2v1h-2zM7 13h2v1h-2zM40 13h2v1h-2zM63 13h1v2h-1zM9 14h2v2h-2zM31 14h1v2h-1zM60 14h1v2h-1zM7 15h1v1h-1zM34 15h1v1h-1zM42 15h1v1h-1zM63 15h2v1h-2zM5 16h1v1h-1zM11 16h2v1h-2zM21 16h1v1h-1zM31 16h2v1h-2zM39 16h1v1h-1zM63 16h3v1h-3zM9 17h1v1h-1zM11 17h1v1h-1zM32 17h3v1h-3zM38 17h1v1h-1zM45 17h1v2h-1zM64 17h1v1h-1zM66 17h1v1h-1zM39 18h2v1h-2zM69 18h1v1h-1zM0 19h2v1h-2zM25 19h3v1h-3zM41 19h1v1h-1zM46 19h1v1h-1zM48 19h1v1h-1zM67 19h1v1h-1zM71 19h1v1h-1zM1 20h1v1h-1zM23 20h1v1h-1zM25 20h2v1h-2zM40 20h1v1h-1zM47 20h1v1h-1zM51 20h1v1h-1zM70 20h1v1h-1zM0 21h3v1h-3zM16 21h1v1h-1zM25 21h1v1h-1zM47 21h2v1h-2zM51 21h2v1h-2zM70 21h2v1h-2zM0 22h2v1h-2zM28 22h1v1h-1zM51 22h1v1h-1zM69 22h2v1h-2zM0 23h1v1h-1zM20 23h1v1h-1zM44 23h1v1h-1zM70 23h2v1h-2zM3 24h1v1h-1zM46 24h1v1h-1zM53 24h1v1h-1zM73 24h1v1h-1zM4 25h1v1h-1zM19 25h3v1h-3zM44 25h3v1h-3zM69 25h1v1h-1zM19 26h2v1h-2zM30 26h1v1h-1zM69 26h2v1h-2zM75 26h1v1h-1zM19 27h1v1h-1zM30 27h2v1h-2zM44 27h3v1h-3zM57 27h1v1h-1zM70 27h1v1h-1zM77 27h1v1h-1zM99 27h1v1h-1zM1 28h2v1h-2zM5 28h1v1h-1zM22 28h1v1h-1zM32 28h1v1h-1zM45 28h1v2h-1zM49 28h3v1h-3zM73 28h1v1h-1zM8 29h1v1h-1zM53 29h1v1h-1zM57 29h2v1h-2zM75 29h1v1h-1zM78 29h1v1h-1zM5 30h1v1h-1zM7 30h1v1h-1zM9 30h1v1h-1zM26 30h2v1h-2zM36 30h2v1h-2zM41 30h1v1h-1zM51 30h1v2h-1zM59 30h1v1h-1zM79 30h1v1h-1zM12 31h1v1h-1zM14 31h3v1h-3zM27 31h1v1h-1zM34 31h3v1h-3zM63 31h1v1h-1zM77 31h1v2h-1zM81 31h1v2h-1zM5 32h2v1h-2zM16 32h2v1h-2zM28 32h1v1h-1zM41 32h1v1h-1zM54 32h2v1h-2zM59 32h1v1h-1zM62 32h2v1h-2zM12 33h1v1h-1zM17 33h1v2h-1zM39 33h1v1h-1zM62 33h1v2h-1zM79 33h1v1h-1zM7 34h1v1h-1zM15 34h1v1h-1zM31 34h1v2h-1zM55 34h1v1h-1zM64 34h1v1h-1zM80 34h1v1h-1zM82 34h1v1h-1zM8 35h1v1h-1zM65 35h1v1h-1zM83 35h1v1h-1zM7 36h2v1h-2zM30 36h2v1h-2zM57 36h1v1h-1zM60 36h1v2h-1zM79 36h1v1h-1zM84 36h1v1h-1zM5 37h1v1h-1zM8 37h3v1h-3zM30 37h1v1h-1zM41 37h2v1h-2zM81 37h1v1h-1zM85 37h1v1h-1zM12 38h1v1h-1zM17 38h1v1h-1zM59 38h1v1h-1zM61 38h1v1h-1zM5 39h1v1h-1zM11 39h1v1h-1zM16 39h1v1h-1zM18 39h1v2h-1zM33 39h1v1h-1zM58 39h1v1h-1zM60 39h1v1h-1zM66 39h1v1h-1zM69 39h1v1h-1zM86 39h1v2h-1zM13 40h1v2h-1zM20 40h1v1h-1zM57 40h1v2h-1zM63 40h1v1h-1zM5 41h1v2h-1zM19 41h1v1h-1zM30 41h1v1h-1zM32 41h1v1h-1zM37 41h1v2h-1zM44 41h3v1h-3zM55 41h1v1h-1zM59 41h2v1h-2zM69 41h1v1h-1zM90 41h1v1h-1zM15 42h1v1h-1zM46 42h2v1h-2zM89 42h3v1h-3zM46 43h1v1h-1zM65 43h1v1h-1zM73 43h1v1h-1zM23 44h1v1h-1zM25 44h1v2h-1zM27 44h1v1h-1zM41 44h1v2h-1zM51 44h1v1h-1zM72 44h2v1h-2zM91 44h1v1h-1zM5 45h1v1h-1zM17 45h2v1h-2zM27 45h3v1h-3zM49 45h3v1h-3zM53 45h1v1h-1zM98 45h1v1h-1zM19 46h1v1h-1zM24 46h2v1h-2zM27 46h1v1h-1zM41 46h3v1h-3zM51 46h2v1h-2zM69 46h1v1h-1zM20 47h2v1h-2zM42 47h1v1h-1zM52 47h1v1h-1zM75 47h1v1h-1zM97 47h1v1h-1zM19 48h1v1h-1zM21 48h1v1h-1zM54 48h1v1h-1zM92 48h2v1h-2zM1 49h1v1h-1zM28 49h1v3h-1zM45 49h1v2h-1zM71 49h1v1h-1zM93 49h2v1h-2zM99 49h1v1h-1zM53 50h1v1h-1zM69 50h1v1h-1zM20 51h3v1h-3zM30 51h2v1h-2zM44 51h3v1h-3zM73 51h1v1h-1zM93 51h1v2h-1zM97 51h1v1h-1zM101 51h1v1h-1zM124 51h1v1h-1zM2 52h1v1h-1zM21 52h1v1h-1zM46 52h2v1h-2zM57 52h1v1h-1zM67 52h1v1h-1zM71 52h1v1h-1zM78 52h2v1h-2zM99 52h1v1h-1zM103 52h1v1h-1zM1 53h2v1h-2zM4 53h1v2h-1zM24 53h1v1h-1zM29 53h1v1h-1zM45 53h1v1h-1zM50 53h1v1h-1zM100 53h1v1h-1zM124 53h1v1h-1zM32 54h1v2h-1zM48 54h1v1h-1zM57 54h1v1h-1zM60 54h1v1h-1zM69 54h1v1h-1zM71 54h1v1h-1zM74 54h1v1h-1zM101 54h1v1h-1zM125 54h1v1h-1zM5 55h3v1h-3zM11 55h1v1h-1zM34 55h1v1h-1zM41 55h1v1h-1zM99 55h1v1h-1zM77 56h1v1h-1zM80 56h2v1h-2zM27 57h1v1h-1zM29 57h1v2h-1zM36 57h1v1h-1zM40 57h2v1h-2zM52 57h1v1h-1zM54 57h1v1h-1zM81 57h5v1h-5zM106 57h1v1h-1zM109 57h1v2h-1zM9 58h1v1h-1zM39 58h1v1h-1zM64 58h2v1h-2zM78 58h1v1h-1zM85 58h2v1h-2zM104 58h1v1h-1zM5 59h1v1h-1zM7 59h1v1h-1zM12 59h1v1h-1zM30 59h1v1h-1zM32 59h1v1h-1zM38 59h1v1h-1zM41 59h1v2h-1zM63 59h1v1h-1zM77 59h1v1h-1zM84 59h1v1h-1zM86 59h1v1h-1zM106 59h2v1h-2zM109 59h3v1h-3zM7 60h2v1h-2zM14 60h2v1h-2zM36 60h2v1h-2zM39 60h1v1h-1zM54 60h1v1h-1zM78 60h1v1h-1zM88 60h1v1h-1zM104 60h1v1h-1zM106 60h1v1h-1zM111 60h1v1h-1zM11 61h2v1h-2zM38 61h1v1h-1zM107 61h2v1h-2zM110 61h2v1h-2zM12 62h1v1h-1zM32 62h3v1h-3zM87 62h1v1h-1zM108 62h1v1h-1zM13 63h4v1h-4zM31 63h2v1h-2zM40 63h1v1h-1zM59 63h1v1h-1zM66 63h2v1h-2zM79 63h1v1h-1zM90 63h1v2h-1zM105 63h1v1h-1zM107 63h1v1h-1zM109 63h2v1h-2zM15 64h3v1h-3zM34 64h1v1h-1zM58 64h1v2h-1zM81 64h1v1h-1zM16 65h1v1h-1zM35 65h1v1h-1zM43 65h1v1h-1zM68 65h1v1h-1zM70 65h1v1h-1zM80 65h1v1h-1zM82 65h1v1h-1zM93 65h1v1h-1zM17 66h1v1h-1zM39 66h1v1h-1zM63 66h1v2h-1zM85 66h1v2h-1zM88 66h1v1h-1zM19 67h1v1h-1zM52 67h1v1h-1zM94 67h1v1h-1zM65 68h1v1h-1zM18 69h1v1h-1zM22 69h1v1h-1zM25 69h2v1h-2zM39 69h1v1h-1zM41 69h1v1h-1zM46 69h1v1h-1zM50 69h1v1h-1zM54 69h1v1h-1zM94 69h1v1h-1zM97 69h1v3h-1zM101 69h1v2h-1zM118 69h1v1h-1zM20 70h4v1h-4zM26 70h2v1h-2zM65 70h1v1h-1zM88 70h2v1h-2zM115 70h1v1h-1zM19 71h1v1h-1zM21 71h1v1h-1zM23 71h1v1h-1zM49 71h1v1h-1zM52 71h1v1h-1zM54 71h1v1h-1zM90 71h1v1h-1zM92 71h1v1h-1zM100 71h1v1h-1zM118 71h1v1h-1zM122 71h1v1h-1zM44 72h1v1h-1zM77 72h1v1h-1zM115 72h1v1h-1zM121 72h1v1h-1zM24 73h1v1h-1zM28 73h1v1h-1zM43 73h2v1h-2zM51 73h1v1h-1zM91 73h1v1h-1zM100 73h1v1h-1zM117 73h1v2h-1zM54 74h1v1h-1zM101 74h1v1h-1zM121 74h1v1h-1zM26 75h1v1h-1zM29 75h1v1h-1zM47 75h1v1h-1zM93 75h2v1h-2zM101 75h2v1h-2zM124 75h2v1h-2zM5 76h1v1h-1zM102 76h1v1h-1zM117 76h1v1h-1zM122 76h1v2h-1zM27 77h1v1h-1zM31 77h2v1h-2zM56 77h1v1h-1zM59 77h1v1h-1zM72 77h1v1h-1zM96 77h1v1h-1zM126 77h1v1h-1zM29 78h1v1h-1zM52 78h1v2h-1zM58 78h1v1h-1zM60 78h1v1h-1zM100 78h1v1h-1zM102 78h1v1h-1zM106 78h2v1h-2zM124 78h1v1h-1zM5 79h1v1h-1zM30 79h1v1h-1zM33 79h1v1h-1zM36 79h1v1h-1zM63 79h1v1h-1zM84 79h1v1h-1zM110 79h1v1h-1zM129 79h1v1h-1zM151 79h1v1h-1zM34 80h1v1h-1zM56 80h1v1h-1zM65 80h1v1h-1zM83 80h1v1h-1zM129 80h2v1h-2zM31 81h2v1h-2zM37 81h1v1h-1zM56 81h2v1h-2zM64 81h1v1h-1zM110 81h1v1h-1zM112 81h1v1h-1zM131 81h1v1h-1zM34 82h1v1h-1zM57 82h1v3h-1zM65 82h1v1h-1zM105 82h2v1h-2zM151 82h1v1h-1zM35 83h1v1h-1zM80 83h1v1h-1zM88 83h1v1h-1zM106 83h1v1h-1zM130 83h1v1h-1zM36 84h1v1h-1zM59 84h1v1h-1zM79 84h1v1h-1zM88 84h2v1h-2zM104 84h1v2h-1zM112 84h2v1h-2zM128 84h1v1h-1zM131 84h2v1h-2zM37 85h1v1h-1zM57 85h2v1h-2zM66 85h2v1h-2zM113 85h1v1h-1zM128 85h4v1h-4zM133 85h1v2h-1zM39 86h2v1h-2zM58 86h2v1h-2zM90 86h2v1h-2zM131 86h1v1h-1zM62 87h1v1h-1zM90 87h1v1h-1zM114 87h2v1h-2zM132 87h1v1h-1zM60 88h1v1h-1zM66 88h1v1h-1zM70 88h1v2h-1zM83 88h2v1h-2zM111 88h1v1h-1zM42 89h1v1h-1zM84 89h1v1h-1zM110 89h1v2h-1zM41 90h2v1h-2zM63 90h2v1h-2zM71 90h1v1h-1zM86 90h2v1h-2zM112 90h1v2h-1zM42 91h1v1h-1zM44 91h1v1h-1zM73 91h1v1h-1zM86 91h1v1h-1zM94 91h1v1h-1zM97 91h1v1h-1zM137 91h2v1h-2zM141 91h1v1h-1zM48 92h1v1h-1zM71 92h1v1h-1zM124 92h1v2h-1zM137 92h1v1h-1zM48 93h2v1h-2zM51 93h2v1h-2zM65 93h1v1h-1zM75 93h1v2h-1zM143 93h1v3h-1zM49 94h1v1h-1zM67 94h1v1h-1zM69 94h1v1h-1zM91 94h1v1h-1zM113 94h2v1h-2zM120 94h1v1h-1zM122 94h1v1h-1zM139 94h1v1h-1zM145 94h1v1h-1zM100 95h1v1h-1zM124 95h1v2h-1zM77 96h1v1h-1zM115 96h1v1h-1zM118 96h1v1h-1zM144 96h1v1h-1zM47 97h1v1h-1zM51 97h1v1h-1zM69 97h3v1h-3zM91 97h1v1h-1zM100 97h1v1h-1zM141 97h1v1h-1zM45 98h1v1h-1zM115 98h1v2h-1zM146 98h1v1h-1zM169 98h1v2h-1zM27 99h1v1h-1zM49 99h1v1h-1zM52 99h1v1h-1zM55 99h1v1h-1zM119 99h2v1h-2zM139 99h1v1h-1zM144 99h1v2h-1zM147 99h3v1h-3zM53 100h1v1h-1zM71 100h1v1h-1zM73 100h1v1h-1zM78 100h1v1h-1zM95 100h1v1h-1zM97 100h1v1h-1zM141 100h1v1h-1zM146 100h2v1h-2zM51 101h1v1h-1zM54 101h1v1h-1zM69 101h2v1h-2zM74 101h2v1h-2zM117 101h1v1h-1zM124 101h1v1h-1zM128 101h1v1h-1zM75 102h2v1h-2zM78 102h1v1h-1zM123 102h1v1h-1zM149 102h2v1h-2zM52 103h1v1h-1zM107 103h1v1h-1zM117 103h1v1h-1zM129 103h2v1h-2zM145 103h1v1h-1zM147 103h2v2h-2zM150 103h2v1h-2zM58 104h1v1h-1zM60 104h1v1h-1zM84 104h2v1h-2zM130 104h1v1h-1zM63 105h1v1h-1zM82 105h1v1h-1zM57 106h1v1h-1zM59 106h2v1h-2zM78 106h1v2h-1zM82 106h2v1h-2zM149 106h1v1h-1zM59 107h1v1h-1zM61 107h1v1h-1zM63 107h1v1h-1zM103 107h1v1h-1zM112 107h1v1h-1zM133 107h1v1h-1zM150 107h1v1h-1zM157 107h1v1h-1zM61 108h2v1h-2zM111 108h3v1h-3zM129 108h1v1h-1zM134 108h1v1h-1zM137 108h1v1h-1zM152 108h2v1h-2zM156 108h1v1h-1zM159 108h1v1h-1zM57 109h3v1h-3zM63 109h1v2h-1zM114 109h1v1h-1zM127 109h1v3h-1zM136 109h1v1h-1zM153 109h1v2h-1zM157 109h1v1h-1zM59 110h1v1h-1zM61 110h1v1h-1zM79 110h1v1h-1zM81 110h1v1h-1zM89 110h2v1h-2zM59 111h3v1h-3zM88 111h1v1h-1zM108 111h1v1h-1zM114 111h1v1h-1zM117 111h1v2h-1zM129 111h1v1h-1zM154 111h1v1h-1zM156 111h2v1h-2zM81 112h1v1h-1zM84 112h1v1h-1zM90 112h2v1h-2zM107 112h2v1h-2zM131 112h1v1h-1zM84 113h2v1h-2zM94 113h1v2h-1zM108 113h1v1h-1zM130 113h2v1h-2zM157 113h1v1h-1zM160 113h2v1h-2zM87 114h1v2h-1zM109 114h1v1h-1zM111 114h1v1h-1zM134 114h1v1h-1zM136 114h1v1h-1zM138 114h1v1h-1zM141 114h1v1h-1zM70 115h1v1h-1zM72 115h1v1h-1zM96 115h1v1h-1zM98 115h2v1h-2zM122 115h2v1h-2zM127 115h1v1h-1zM140 115h1v1h-1zM142 115h1v1h-1zM144 115h2v1h-2zM151 115h1v1h-1zM73 117h2v1h-2zM76 117h1v1h-1zM101 117h1v1h-1zM103 117h1v1h-1zM111 117h2v1h-2zM122 117h1v1h-1zM125 117h1v1h-1zM147 117h1v1h-1zM162 117h1v1h-1zM69 118h1v1h-1zM71 118h1v1h-1zM96 118h1v1h-1zM122 118h2v1h-2zM137 118h1v1h-1zM169 118h1v2h-1zM99 119h1v2h-1zM124 119h1v1h-1zM144 119h1v1h-1zM94 120h1v1h-1zM123 120h2v1h-2zM139 120h3v1h-3zM145 120h1v1h-1zM72 121h1v1h-1zM74 121h1v1h-1zM71 122h1v1h-1zM76 122h2v1h-2zM94 122h1v1h-1zM115 122h1v2h-1zM117 122h2v1h-2zM125 122h1v1h-1zM139 122h1v1h-1zM102 123h1v1h-1zM118 123h1v1h-1zM120 123h1v1h-1zM142 123h2v1h-2zM148 123h2v1h-2zM151 123h1v1h-1zM170 123h1v2h-1zM51 124h1v1h-1zM53 124h1v1h-1zM75 124h1v2h-1zM78 124h1v1h-1zM92 124h2v1h-2zM95 124h2v1h-2zM101 124h1v1h-1zM119 124h2v1h-2zM137 124h1v1h-1zM140 124h3v1h-3zM163 124h1v1h-1zM167 124h2v1h-2zM200 124h1v1h-1zM54 125h1v1h-1zM117 125h1v1h-1zM122 125h1v1h-1zM77 126h1v1h-1zM147 126h1v1h-1zM175 126h1v1h-1zM109 127h3v1h-3zM115 127h1v1h-1zM135 127h1v1h-1zM157 127h1v1h-1zM159 127h1v1h-1zM84 128h2v1h-2zM101 128h1v1h-1zM133 128h1v2h-1zM149 128h1v2h-1zM155 128h1v1h-1zM158 128h1v1h-1zM174 128h1v1h-1zM178 128h2v1h-2zM205 128h1v2h-1zM79 129h2v1h-2zM85 129h1v2h-1zM103 129h1v1h-1zM108 129h1v1h-1zM111 129h1v1h-1zM135 129h1v1h-1zM156 129h1v2h-1zM159 129h1v1h-1zM161 129h1v1h-1zM179 129h1v1h-1zM181 129h1v2h-1zM80 130h1v1h-1zM83 130h1v1h-1zM103 130h2v1h-2zM113 130h1v1h-1zM150 130h1v1h-1zM152 130h1v2h-1zM178 130h1v1h-1zM81 131h1v1h-1zM84 131h3v1h-3zM112 131h2v1h-2zM177 131h1v1h-1zM84 132h1v1h-1zM87 132h1v1h-1zM135 132h1v1h-1zM149 132h1v1h-1zM153 132h1v1h-1zM85 133h2v1h-2zM107 133h1v1h-1zM128 133h2v1h-2zM180 133h1v1h-1zM185 133h1v1h-1zM108 134h1v1h-1zM114 134h1v1h-1zM127 135h1v1h-1zM129 135h1v1h-1zM132 135h1v1h-1zM140 135h1v1h-1zM150 135h1v1h-1zM154 135h1v1h-1zM163 135h1v1h-1zM109 136h1v1h-1zM114 136h1v1h-1zM155 136h1v1h-1zM185 136h1v1h-1zM187 136h1v1h-1zM91 137h2v1h-2zM108 137h1v1h-1zM118 137h1v1h-1zM124 137h1v1h-1zM143 137h1v1h-1zM147 137h1v1h-1zM154 137h1v1h-1zM167 137h1v1h-1zM169 137h1v1h-1zM181 137h1v1h-1zM184 137h1v1h-1zM91 138h1v1h-1zM114 138h1v1h-1zM141 138h1v1h-1zM159 138h1v1h-1zM94 139h1v1h-1zM99 139h1v1h-1zM120 139h1v3h-1zM122 139h1v1h-1zM147 139h1v1h-1zM170 139h1v1h-1zM189 139h1v1h-1zM191 139h1v1h-1zM195 139h1v1h-1zM115 140h1v1h-1zM124 140h1v2h-1zM135 140h1v1h-1zM146 140h2v1h-2zM159 140h2v1h-2zM166 140h1v1h-1zM91 141h1v1h-1zM97 141h1v1h-1zM100 141h1v1h-1zM114 141h1v1h-1zM138 141h1v1h-1zM148 141h1v1h-1zM159 141h1v1h-1zM191 141h1v1h-1zM193 141h1v1h-1zM195 141h1v2h-1zM115 142h1v1h-1zM123 142h2v1h-2zM147 142h1v1h-1zM163 142h1v1h-1zM93 143h3v1h-3zM123 143h1v1h-1zM137 143h1v1h-1zM146 143h1v1h-1zM149 143h1v1h-1zM161 143h2v1h-2zM171 143h1v1h-1zM96 144h1v1h-1zM99 144h2v1h-2zM115 144h1v2h-1zM119 144h1v1h-1zM147 144h1v1h-1zM161 144h1v1h-1zM166 144h1v1h-1zM194 144h1v2h-1zM94 145h1v1h-1zM103 145h1v1h-1zM120 145h1v1h-1zM150 145h1v1h-1zM161 145h2v1h-2zM173 145h1v2h-1zM196 145h1v1h-1zM200 145h1v2h-1zM202 145h1v1h-1zM98 146h1v1h-1zM100 146h1v1h-1zM140 146h1v1h-1zM143 146h1v1h-1zM169 146h1v1h-1zM175 146h1v1h-1zM197 146h1v1h-1zM99 147h2v1h-2zM103 147h2v2h-2zM117 147h1v1h-1zM126 147h1v1h-1zM137 147h1v1h-1zM139 147h2v1h-2zM142 147h1v1h-1zM144 147h1v1h-1zM150 147h1v1h-1zM167 147h3v1h-3zM198 147h1v1h-1zM202 147h1v1h-1zM204 147h2v1h-2zM99 148h1v2h-1zM123 148h1v2h-1zM141 148h1v1h-1zM151 148h1v1h-1zM170 148h1v3h-1zM173 148h1v1h-1zM199 148h1v1h-1zM102 149h1v1h-1zM106 149h1v1h-1zM128 149h2v1h-2zM132 149h1v1h-1zM143 149h1v1h-1zM152 149h2v1h-2zM159 149h1v2h-1zM176 149h1v1h-1zM178 149h1v1h-1zM180 149h1v1h-1zM195 149h1v1h-1zM102 150h2v1h-2zM107 150h1v1h-1zM130 150h1v1h-1zM135 150h1v1h-1zM145 150h1v1h-1zM147 150h1v1h-1zM156 150h2v1h-2zM174 150h1v1h-1zM206 150h1v2h-1zM79 151h1v1h-1zM82 151h1v1h-1zM103 151h1v1h-1zM115 151h1v1h-1zM123 151h1v1h-1zM148 151h1v1h-1zM158 151h2v1h-2zM162 151h1v1h-1zM178 151h1v1h-1zM202 151h1v1h-1zM210 151h1v1h-1zM213 151h1v1h-1zM108 152h1v1h-1zM130 152h2v1h-2zM149 152h1v2h-1zM156 152h1v1h-1zM158 152h1v1h-1zM175 152h1v1h-1zM185 152h1v1h-1zM211 152h1v2h-1zM108 153h3v1h-3zM132 153h1v1h-1zM176 153h1v1h-1zM182 153h1v1h-1zM111 154h1v1h-1zM135 154h1v1h-1zM137 154h1v1h-1zM157 154h1v1h-1zM178 154h1v1h-1zM184 154h1v2h-1zM210 154h2v1h-2zM128 155h1v1h-1zM136 155h1v1h-1zM176 155h2v1h-2zM204 155h1v1h-1zM206 155h1v1h-1zM210 155h1v2h-1zM213 155h1v1h-1zM108 156h1v1h-1zM111 156h1v2h-1zM129 156h2v1h-2zM150 156h1v2h-1zM152 156h1v1h-1zM175 156h1v2h-1zM177 156h1v1h-1zM186 156h1v2h-1zM207 156h1v1h-1zM107 157h1v1h-1zM109 157h1v1h-1zM113 157h1v1h-1zM127 157h1v1h-1zM154 157h1v1h-1zM160 157h1v1h-1zM205 157h3v1h-3zM128 158h1v1h-1zM151 158h2v1h-2zM162 158h1v1h-1zM179 158h1v1h-1zM205 158h1v1h-1zM208 158h1v1h-1zM213 158h1v1h-1zM108 159h1v1h-1zM127 159h1v1h-1zM129 159h1v1h-1zM138 159h1v1h-1zM140 159h2v1h-2zM149 159h3v1h-3zM175 159h1v1h-1zM187 159h1v1h-1zM191 159h1v1h-1zM204 159h1v1h-1zM207 159h1v1h-1zM214 159h1v1h-1zM217 159h1v2h-1zM113 160h1v2h-1zM140 160h1v1h-1zM157 160h1v1h-1zM164 160h1v1h-1zM177 160h1v2h-1zM180 160h1v2h-1zM189 160h1v1h-1zM211 160h1v1h-1zM129 161h1v1h-1zM143 161h3v1h-3zM183 161h1v1h-1zM185 161h1v1h-1zM190 161h1v2h-1zM205 161h1v1h-1zM213 161h1v1h-1zM117 162h1v1h-1zM143 162h1v1h-1zM145 162h1v1h-1zM151 162h1v1h-1zM158 162h1v1h-1zM167 162h1v1h-1zM193 162h1v1h-1zM124 163h1v1h-1zM135 163h1v1h-1zM142 163h1v1h-1zM170 163h1v1h-1zM184 163h1v1h-1zM197 163h1v3h-1zM199 163h1v1h-1zM160 164h1v1h-1zM187 164h1v1h-1zM194 164h1v1h-1zM168 165h1v1h-1zM170 165h1v1h-1zM140 166h1v1h-1zM144 166h1v1h-1zM124 167h1v2h-1zM137 167h1v1h-1zM147 167h1v2h-1zM162 167h1v1h-1zM189 167h2v1h-2zM192 167h1v1h-1zM199 167h1v1h-1zM165 168h1v1h-1zM198 168h2v1h-2zM98 169h2v1h-2zM118 169h2v1h-2zM137 169h1v1h-1zM146 169h2v1h-2zM187 169h2v1h-2zM191 169h1v1h-1zM200 169h1v1h-1zM223 169h1v1h-1zM228 169h1v1h-1zM123 170h2v1h-2zM139 170h1v1h-1zM148 170h3v1h-3zM163 170h1v1h-1zM165 170h1v1h-1zM194 170h1v1h-1zM143 171h1v1h-1zM174 171h1v1h-1zM193 171h2v1h-2zM202 171h1v1h-1zM204 171h1v1h-1zM145 173h2v1h-2zM148 173h1v1h-1zM177 173h1v1h-1zM197 173h2v1h-2zM200 173h1v1h-1zM202 173h1v1h-1zM204 173h1v1h-1zM128 174h1v1h-1zM150 174h1v1h-1zM171 174h1v1h-1zM195 174h1v1h-1zM198 174h1v1h-1zM126 175h1v1h-1zM146 175h1v1h-1zM152 175h1v1h-1zM156 175h2v1h-2zM159 175h1v1h-1zM197 175h1v1h-1zM207 175h1v1h-1zM210 175h1v1h-1zM213 175h1v1h-1zM149 176h1v1h-1zM153 176h1v1h-1zM155 176h1v1h-1zM180 176h1v1h-1zM211 176h1v1h-1zM131 177h1v1h-1zM155 177h2v1h-2zM160 177h2v1h-2zM173 177h1v1h-1zM187 177h1v1h-1zM210 177h1v1h-1zM128 178h1v1h-1zM130 178h1v1h-1zM149 178h1v1h-1zM151 178h1v1h-1zM154 178h1v1h-1zM183 178h1v1h-1zM128 179h2v1h-2zM158 179h1v1h-1zM184 179h1v1h-1zM133 180h1v1h-1zM149 180h1v1h-1zM160 180h2v1h-2zM176 180h1v1h-1zM207 180h1v1h-1zM212 180h1v1h-1zM215 180h1v2h-1zM129 181h2v1h-2zM137 181h1v1h-1zM213 181h1v1h-1zM153 182h1v1h-1zM185 182h1v1h-1zM187 182h1v1h-1zM206 182h2v1h-2zM212 182h1v1h-1zM214 182h1v1h-1zM161 183h1v1h-1zM178 183h1v1h-1zM186 183h1v1h-1zM204 183h1v1h-1zM208 183h1v1h-1zM211 183h2v1h-2zM137 184h1v1h-1zM154 184h2v1h-2zM163 184h1v1h-1zM179 184h1v1h-1zM188 184h1v1h-1zM205 184h1v1h-1zM210 184h1v1h-1zM212 184h1v1h-1zM214 184h1v1h-1zM133 185h1v1h-1zM136 185h1v1h-1zM152 185h1v1h-1zM161 185h1v1h-1zM182 185h1v1h-1zM191 185h1v1h-1zM195 185h1v1h-1zM213 185h1v1h-1zM156 186h2v1h-2zM183 186h1v1h-1zM192 186h1v1h-1zM207 186h1v1h-1zM213 186h4v1h-4zM136 187h1v1h-1zM159 187h1v1h-1zM164 187h1v1h-1zM169 187h1v2h-1zM177 187h1v1h-1zM182 187h1v1h-1zM193 187h1v1h-1zM217 187h1v1h-1zM184 188h1v1h-1zM194 188h1v1h-1zM215 188h1v1h-1zM139 189h1v1h-1zM160 189h1v1h-1zM167 189h1v2h-1zM218 189h1v1h-1zM221 189h1v1h-1zM161 190h2v1h-2zM196 190h1v1h-1zM217 190h1v1h-1zM139 191h1v1h-1zM141 191h1v1h-1zM159 191h1v1h-1zM169 191h1v1h-1zM185 191h1v1h-1zM199 191h2v1h-2zM220 191h1v1h-1zM222 191h1v1h-1zM167 192h1v1h-1zM186 192h1v1h-1zM141 193h1v1h-1zM162 193h1v1h-1zM171 193h1v1h-1zM187 193h1v1h-1zM200 193h2v1h-2zM144 194h2v1h-2zM164 194h1v1h-1zM170 194h2v1h-2zM188 194h1v1h-1zM198 194h1v1h-1zM221 194h1v1h-1zM224 194h1v1h-1zM139 195h1v1h-1zM141 195h2v1h-2zM149 195h1v1h-1zM174 195h1v1h-1zM185 195h1v1h-1zM202 195h1v1h-1zM217 195h1v1h-1zM219 195h3v1h-3zM145 196h1v1h-1zM190 196h1v1h-1zM199 196h1v1h-1zM223 196h1v1h-1zM146 197h1v1h-1zM163 197h3v1h-3zM173 197h1v1h-1zM175 197h1v1h-1zM205 197h1v1h-1zM221 197h1v1h-1zM226 197h1v1h-1zM147 198h1v1h-1zM168 198h1v1h-1zM173 198h2v1h-2zM194 198h1v1h-1zM202 198h1v1h-1zM204 198h2v1h-2zM224 198h2v1h-2zM148 199h1v1h-1zM163 199h1v1h-1zM167 199h2v1h-2zM191 199h1v2h-1zM196 199h1v1h-1zM226 199h1v1h-1zM229 199h1v1h-1zM124 200h1v1h-1zM145 200h2v1h-2zM169 200h1v1h-1zM173 200h1v1h-1zM193 200h1v2h-1zM203 200h1v1h-1zM228 200h1v1h-1zM231 200h1v1h-1zM207 201h1v1h-1zM145 202h1v1h-1zM147 202h1v1h-1zM151 202h1v1h-1zM171 202h1v1h-1zM173 202h1v1h-1zM195 202h1v1h-1zM198 202h1v1h-1zM229 202h1v1h-1zM200 203h1v1h-1zM206 203h1v1h-1zM147 204h1v2h-1zM155 204h1v1h-1zM159 204h1v1h-1zM171 204h1v1h-1zM173 204h1v1h-1zM183 204h1v1h-1zM198 204h1v1h-1zM230 204h1v1h-1zM128 205h2v1h-2zM157 205h2v1h-2zM161 205h1v1h-1zM184 205h1v1h-1zM197 205h2v1h-2zM215 205h1v1h-1zM150 206h2v1h-2zM155 206h1v1h-1zM157 206h1v1h-1zM182 206h1v2h-1zM203 206h1v1h-1zM212 206h1v1h-1zM156 207h2v1h-2zM159 207h1v1h-1zM175 207h1v1h-1zM180 207h1v1h-1zM186 207h1v1h-1zM201 207h1v1h-1zM210 207h1v1h-1zM215 207h1v1h-1zM231 207h1v1h-1zM158 208h1v1h-1zM183 208h1v1h-1zM213 209h1v1h-1zM151 210h1v1h-1zM154 210h3v1h-3zM175 210h1v1h-1zM177 210h1v1h-1zM184 210h1v1h-1zM207 210h1v1h-1zM215 210h1v1h-1zM152 211h3v1h-3zM160 211h1v1h-1zM176 211h1v1h-1zM183 211h1v1h-1zM180 212h1v1h-1zM182 212h3v1h-3zM206 212h1v1h-1zM215 212h1v1h-1zM151 213h1v1h-1zM155 213h1v1h-1zM158 213h1v1h-1zM161 213h1v1h-1zM175 213h1v1h-1zM181 213h1v1h-1zM185 213h2v1h-2zM209 213h1v1h-1zM159 214h1v1h-1zM182 214h1v1h-1zM184 214h1v1h-1zM186 214h1v3h-1zM180 215h2v1h-2zM188 215h1v1h-1zM205 215h1v1h-1zM207 215h1v1h-1zM210 215h1v1h-1zM212 215h1v1h-1zM159 217h2v1h-2zM187 217h1v1h-1zM190 217h1v1h-1zM195 217h1v1h-1zM221 217h1v1h-1zM189 218h1v1h-1zM195 219h1v2h-1zM191 220h1v1h-1zM189 221h1v1h-1zM194 221h2v1h-2zM197 221h1v1h-1zM217 221h1v1h-1zM191 222h1v1h-1zM169 223h1v1h-1zM196 223h1v1h-1zM194 224h1v1h-1zM198 224h1v2h-1zM197 226h1v1h-1zM199 226h1v1h-1zM169 228h1v1h-1zM200 228h1v1h-1zM233 228h1v1h-1zM199 229h1v1h-1zM202 229h1v1h-1zM204 230h1v1h-1zM200 231h1v1h-1zM207 231h1v1h-1zM228 233h1v1h-1zM239 235h1v1h-1zM242 238h1v1h-1zM235 239h1v1h-1zM244 239h1v1h-1zM246 241h1v1h-1zM238 242h1v1h-1zM248 243h1v1h-1zM239 244h1v1h-1zM241 246h1v1h-1zM250 246h1v1h-1zM243 248h1v1h-1zM246 250h1v1h-1zM258 254h1v1h-1zM254 258h1v1h-1zM270 266h2v1h-2zM266 270h1v2h-1zM274 270h1v1h-1zM277 272h2v1h-2zM279 273h1v1h-1zM270 274h1v1h-1zM280 274h1v1h-1zM281 275h1v1h-1zM282 276h1v1h-1zM272 277h1v2h-1zM283 277h1v1h-1zM284 278h1v1h-1zM273 279h1v1h-1zM285 279h1v1h-1zM274 280h1v1h-1zM286 280h1v1h-1zM275 281h1v1h-1zM287 281h1v1h-1zM276 282h1v1h-1zM288 282h1v1h-1zM277 283h1v1h-1zM289 283h1v1h-1zM278 284h1v1h-1zM290 284h2v1h-2zM279 285h1v1h-1zM291 285h1v1h-1zM280 286h1v1h-1zM292 286h1v1h-1zM281 287h1v1h-1zM293 287h1v1h-1zM282 288h1v1h-1zM294 288h1v1h-1zM283 289h1v1h-1zM295 289h1v1h-1zM284 290h1v1h-1zM296 290h1v1h-1zM284 291h2v1h-2zM297 291h1v1h-1zM286 292h1v1h-1zM287 293h1v1h-1zM299 293h1v1h-1zM288 294h1v1h-1zM300 294h1v1h-1zM289 295h1v1h-1zM301 295h1v1h-1zM290 296h1v1h-1zM302 296h1v1h-1zM291 297h1v1h-1zM303 297h1v1h-1zM304 298h1v1h-1zM293 299h1v1h-1zM305 299h2v1h-2zM294 300h1v1h-1zM306 300h1v1h-1zM295 301h1v1h-1zM307 301h1v1h-1zM296 302h1v1h-1zM308 302h1v1h-1zM297 303h1v1h-1zM309 303h1v1h-1zM298 304h1v1h-1zM310 304h1v1h-1zM299 305h1v1h-1zM311 305h1v1h-1zM299 306h2v1h-2zM312 306h1v1h-1zM301 307h1v1h-1zM302 308h1v1h-1zM303 309h1v1h-1zM304 310h1v1h-1zM305 311h1v1h-1zM306 312h1v1h-1zM316 312h1v1h-1zM319 315h1v1h-1zM312 316h1v1h-1zM321 317h2v1h-2zM322 318h1v1h-1zM315 319h1v1h-1zM317 321h1v1h-1zM317 322h2v1h-2zM326 322h2v1h-2zM322 326h1v2h-1zM337 332h1v1h-1zM332 337h1v1h-1zM343 340h2v1h-2zM340 343h1v2h-1zM349 345h1v1h-1zM352 348h1v1h-1zM345 349h1v1h-1zM354 350h1v1h-1zM356 351h1v1h-1zM348 352h1v1h-1zM357 352h1v2h-1zM350 354h1v1h-1zM351 356h1v1h-1zM352 357h2v1h-2zM361 357h2v1h-2zM364 359h1v2h-1zM357 361h1v2h-1zM366 361h1v1h-1zM359 364h2v1h-2zM361 366h1v1h-1zM370 367h1v1h-1zM367 370h1v1h-1zM376 371h1v1h-1zM371 376h1v1h-1zM382 377h1v1h-1zM377 382h1v1h-1zM388 383h1v1h-1zM389 384h1v1h-1zM389 385h2v1h-2zM391 386h1v1h-1zM383 388h1v1h-1zM384 389h2v1h-2zM394 389h1v1h-1zM385 390h1v1h-1zM395 390h1v1h-1zM386 391h1v1h-1zM389 394h1v1h-1zM399 394h1v1h-1zM390 395h1v1h-1zM400 395h1v1h-1zM401 396h1v1h-1zM394 399h1v1h-1zM395 400h1v1h-1zM404 400h1v1h-1zM396 401h1v1h-1zM400 404h1v1h-1zM409 405h2v1h-2zM405 409h1v2h-1zM416 411h1v1h-1zM411 416h1v1h-1zM423 418h1v1h-1zM426 422h1v1h-1zM418 423h1v1h-1zM428 423h1v1h-1zM422 426h1v1h-1zM423 428h1v1h-1zM436 431h1v1h-1zM437 433h1v1h-1zM431 436h1v1h-1zM440 436h1v1h-1zM433 437h1v1h-1zM443 439h1v1h-1zM436 440h1v1h-1zM447 442h2v1h-2zM439 443h1v1h-1zM448 443h1v1h-1zM450 446h2v1h-2zM442 447h1v1h-1zM442 448h2v1h-2zM453 448h1v2h-1zM446 450h1v2h-1zM456 452h1v1h-1zM448 453h2v1h-2zM458 453h1v1h-1zM452 456h1v1h-1zM461 456h1v1h-1zM462 457h1v1h-1zM453 458h1v1h-1zM463 458h1v1h-1zM464 460h1v1h-1zM456 461h1v1h-1zM457 462h1v1h-1zM458 463h1v1h-1zM468 463h1v1h-1zM460 464h1v1h-1zM469 465h2v1h-2zM471 466h1v1h-1zM463 468h1v1h-1zM465 469h1v2h-1zM466 471h1v1h-1zM476 471h2v1h-2zM477 472h1v1h-1zM477 474h2v1h-2zM471 476h1v1h-1zM481 476h1v1h-1zM471 477h2v1h-2zM474 477h1v2h-1zM482 478h2v1h-2zM484 479h1v1h-1zM486 480h1v1h-1zM476 481h1v1h-1zM487 481h1v1h-1zM478 482h1v2h-1zM488 482h1v1h-1zM489 483h1v1h-1zM479 484h1v1h-1zM490 484h1v1h-1zM491 485h1v1h-1zM480 486h1v1h-1zM492 486h1v1h-1zM481 487h1v1h-1zM493 487h1v1h-1zM482 488h1v1h-1zM494 488h1v1h-1zM483 489h1v1h-1zM495 489h1v1h-1zM484 490h1v1h-1zM496 490h1v1h-1zM485 491h1v1h-1zM497 491h1v1h-1zM486 492h1v1h-1zM487 493h1v1h-1zM488 494h1v1h-1zM489 495h1v1h-1zM490 496h1v1h-1zM491 497h1v1h-1z"/>
<path fill="#85ab94" d="M4 0h1v2h-1zM51 0h1v1h-1zM29 1h2v1h-2zM23 2h2v1h-2zM29 2h1v1h-1zM6 3h1v1h-1zM19 3h1v1h-1zM54 3h1v1h-1zM0 4h2v1h-2zM32 4h1v1h-1zM55 4h1v1h-1zM13 5h3v1h-3zM24 5h1v1h-1zM29 5h1v1h-1zM35 5h1v1h-1zM44 5h1v1h-1zM50 5h1v1h-1zM77 5h1v1h-1zM3 6h1v1h-1zM9 6h1v1h-1zM11 6h1v1h-1zM27 6h1v1h-1zM51 6h2v1h-2zM57 6h1v1h-1zM37 7h1v1h-1zM39 7h1v1h-1zM28 8h1v1h-1zM41 8h1v1h-1zM53 8h1v1h-1zM55 8h1v2h-1zM57 8h3v1h-3zM6 9h1v1h-1zM29 9h1v1h-1zM35 9h1v1h-1zM57 9h1v1h-1zM17 10h1v1h-1zM32 10h1v1h-1zM39 10h1v1h-1zM58 10h3v1h-3zM6 11h1v1h-1zM40 12h1v1h-1zM65 12h1v1h-1zM5 13h1v3h-1zM59 13h2v1h-2zM18 14h1v2h-1zM32 14h2v1h-2zM62 14h1v1h-1zM65 14h1v1h-1zM33 15h1v1h-1zM20 16h1v1h-1zM44 16h1v1h-1zM60 16h2v1h-2zM10 17h1v1h-1zM27 17h1v1h-1zM29 17h2v1h-2zM43 17h1v1h-1zM47 17h1v1h-1zM57 17h1v1h-1zM61 17h1v1h-1zM70 17h1v1h-1zM14 18h2v1h-2zM22 18h1v1h-1zM31 18h1v1h-1zM65 18h1v1h-1zM3 19h1v1h-1zM29 19h1v1h-1zM47 19h1v1h-1zM51 19h2v1h-2zM70 19h1v1h-1zM16 20h1v1h-1zM49 20h1v1h-1zM52 20h1v1h-1zM71 20h1v1h-1zM53 21h1v2h-1zM18 22h1v1h-1zM25 22h1v1h-1zM2 23h1v2h-1zM27 23h2v1h-2zM52 23h1v1h-1zM73 23h1v1h-1zM5 24h1v1h-1zM70 24h3v1h-3zM22 25h1v1h-1zM28 25h2v1h-2zM76 25h1v1h-1zM46 26h1v1h-1zM55 26h1v1h-1zM72 26h1v1h-1zM99 26h1v1h-1zM6 27h1v1h-1zM17 27h1v1h-1zM23 27h1v2h-1zM32 27h1v1h-1zM41 27h2v1h-2zM101 27h1v1h-1zM8 28h1v1h-1zM25 28h1v2h-1zM41 28h1v1h-1zM48 28h1v1h-1zM57 28h1v1h-1zM75 28h1v1h-1zM78 28h2v1h-2zM1 29h2v1h-2zM5 29h1v1h-1zM9 29h1v1h-1zM17 29h1v2h-1zM19 29h1v1h-1zM56 29h1v1h-1zM60 29h1v1h-1zM77 29h1v1h-1zM79 29h1v1h-1zM103 29h1v1h-1zM1 30h1v1h-1zM76 30h1v2h-1zM80 30h1v1h-1zM18 31h1v1h-1zM62 31h1v1h-1zM85 31h1v1h-1zM4 32h1v1h-1zM10 32h1v1h-1zM14 32h1v1h-1zM27 32h1v1h-1zM39 32h1v1h-1zM64 32h2v1h-2zM78 32h1v1h-1zM14 33h2v1h-2zM38 33h1v1h-1zM40 33h2v1h-2zM54 33h3v1h-3zM63 33h3v1h-3zM80 33h1v1h-1zM42 34h1v1h-1zM54 34h1v1h-1zM83 34h1v1h-1zM5 35h1v1h-1zM9 35h1v1h-1zM55 35h1v2h-1zM84 35h1v1h-1zM43 36h1v1h-1zM82 36h1v1h-1zM7 37h1v1h-1zM33 38h1v1h-1zM42 38h1v1h-1zM81 38h1v1h-1zM7 39h1v1h-1zM10 39h1v1h-1zM32 39h1v1h-1zM43 39h2v1h-2zM55 39h1v1h-1zM82 39h1v1h-1zM85 39h1v2h-1zM12 40h1v1h-1zM33 40h1v2h-1zM44 40h1v1h-1zM61 40h1v1h-1zM65 40h1v1h-1zM8 41h1v1h-1zM27 41h2v1h-2zM47 41h1v1h-1zM58 41h1v1h-1zM85 41h3v1h-3zM27 42h1v1h-1zM34 42h1v1h-1zM38 42h1v1h-1zM48 42h1v1h-1zM51 42h2v1h-2zM55 42h1v1h-1zM60 42h1v1h-1zM62 42h1v1h-1zM88 42h1v1h-1zM93 42h1v1h-1zM17 43h1v1h-1zM36 43h1v1h-1zM39 43h1v1h-1zM48 43h2v1h-2zM72 43h1v1h-1zM89 43h1v1h-1zM91 43h2v1h-2zM5 44h1v1h-1zM16 44h1v1h-1zM39 44h2v1h-2zM49 44h1v1h-1zM53 44h1v1h-1zM66 44h1v1h-1zM93 44h1v1h-1zM55 45h1v1h-1zM90 45h1v1h-1zM94 45h2v1h-2zM26 46h1v1h-1zM49 46h1v1h-1zM53 46h1v1h-1zM67 46h1v1h-1zM96 46h1v1h-1zM17 47h1v1h-1zM19 47h1v1h-1zM41 47h1v1h-1zM50 47h1v1h-1zM53 47h2v1h-2zM76 47h1v1h-1zM91 47h1v1h-1zM94 47h3v1h-3zM99 47h1v1h-1zM28 48h1v1h-1zM42 48h2v1h-2zM51 48h1v1h-1zM68 48h1v1h-1zM95 48h1v1h-1zM97 48h3v1h-3zM20 49h1v1h-1zM43 49h2v1h-2zM46 49h1v1h-1zM52 49h1v1h-1zM69 49h1v1h-1zM77 49h1v2h-1zM97 49h1v1h-1zM5 50h1v1h-1zM47 50h1v1h-1zM72 50h1v1h-1zM75 50h1v1h-1zM0 51h1v1h-1zM6 51h1v2h-1zM19 51h1v1h-1zM42 51h1v2h-1zM48 51h1v1h-1zM57 51h1v1h-1zM103 51h2v1h-2zM19 52h2v1h-2zM23 52h1v1h-1zM49 52h1v1h-1zM56 52h1v2h-1zM65 52h1v1h-1zM96 52h1v1h-1zM8 53h1v1h-1zM21 53h2v1h-2zM44 53h1v1h-1zM46 53h2v1h-2zM94 53h1v1h-1zM97 53h1v1h-1zM99 53h1v1h-1zM103 53h1v2h-1zM105 53h1v2h-1zM125 53h1v1h-1zM3 54h1v1h-1zM33 54h2v1h-2zM47 54h1v1h-1zM58 54h1v1h-1zM65 54h1v2h-1zM72 54h1v1h-1zM76 54h1v1h-1zM91 54h1v1h-1zM98 54h1v1h-1zM4 55h1v1h-1zM8 55h2v1h-2zM26 55h1v1h-1zM33 55h1v2h-1zM35 55h2v1h-2zM39 55h1v1h-1zM42 55h1v1h-1zM45 55h1v1h-1zM63 55h1v1h-1zM71 55h1v1h-1zM82 55h1v1h-1zM100 55h1v1h-1zM107 55h1v1h-1zM125 55h1v1h-1zM29 56h1v1h-1zM52 56h2v1h-2zM60 56h1v1h-1zM105 56h1v1h-1zM6 57h1v1h-1zM8 57h2v1h-2zM17 57h1v1h-1zM28 57h1v1h-1zM51 57h1v1h-1zM76 57h1v1h-1zM101 57h1v1h-1zM107 57h1v1h-1zM8 58h1v2h-1zM10 58h1v3h-1zM41 58h1v1h-1zM54 58h1v1h-1zM84 58h1v1h-1zM106 58h1v1h-1zM13 59h1v2h-1zM104 59h1v1h-1zM128 59h1v1h-1zM16 60h1v1h-1zM29 60h1v1h-1zM42 60h1v1h-1zM56 60h1v1h-1zM64 60h1v1h-1zM66 60h1v1h-1zM77 60h1v1h-1zM113 60h1v1h-1zM16 61h2v1h-2zM40 61h1v1h-1zM87 61h1v1h-1zM106 61h1v1h-1zM14 62h1v1h-1zM31 62h1v1h-1zM42 62h1v1h-1zM88 62h1v1h-1zM105 62h1v1h-1zM107 62h1v1h-1zM111 62h1v1h-1zM113 62h1v1h-1zM33 63h1v1h-1zM55 63h1v1h-1zM69 63h1v2h-1zM106 63h1v1h-1zM112 63h1v1h-1zM32 64h2v2h-2zM60 64h1v1h-1zM79 64h1v1h-1zM82 64h1v1h-1zM89 64h1v1h-1zM91 64h1v1h-1zM105 64h1v1h-1zM109 64h1v2h-1zM113 64h1v1h-1zM12 65h1v1h-1zM14 65h1v1h-1zM18 65h1v1h-1zM40 65h1v1h-1zM52 65h1v1h-1zM54 65h2v1h-2zM83 65h1v1h-1zM92 65h1v1h-1zM112 65h1v1h-1zM44 66h1v1h-1zM60 66h1v1h-1zM86 66h1v1h-1zM92 66h2v1h-2zM115 66h1v1h-1zM46 67h1v1h-1zM73 67h1v1h-1zM87 67h1v1h-1zM113 67h1v1h-1zM48 68h1v1h-1zM72 68h1v1h-1zM89 68h2v1h-2zM49 69h1v1h-1zM63 69h2v1h-2zM77 69h1v1h-1zM79 69h1v1h-1zM85 69h3v1h-3zM98 69h1v1h-1zM100 69h1v2h-1zM114 69h1v1h-1zM116 69h1v1h-1zM139 69h1v1h-1zM17 70h1v1h-1zM19 70h1v1h-1zM24 70h1v3h-1zM20 71h1v1h-1zM55 71h1v1h-1zM77 71h1v1h-1zM113 71h1v1h-1zM119 71h1v2h-1zM123 71h1v1h-1zM26 72h1v1h-1zM43 72h1v1h-1zM50 72h1v1h-1zM54 72h1v1h-1zM68 72h1v1h-1zM100 72h1v1h-1zM122 72h1v1h-1zM23 73h1v1h-1zM67 73h1v1h-1zM95 73h1v1h-1zM101 73h1v1h-1zM120 73h1v1h-1zM123 73h2v1h-2zM78 74h1v1h-1zM100 74h1v1h-1zM102 74h1v1h-1zM115 74h1v1h-1zM122 74h1v2h-1zM124 74h2v1h-2zM28 75h1v1h-1zM50 75h1v1h-1zM79 75h1v1h-1zM98 75h1v1h-1zM104 75h1v1h-1zM25 76h1v1h-1zM30 76h2v1h-2zM47 76h1v1h-1zM54 76h1v1h-1zM57 76h1v1h-1zM80 76h1v1h-1zM92 76h1v1h-1zM96 76h1v1h-1zM99 76h1v1h-1zM105 76h1v1h-1zM123 76h1v2h-1zM5 77h1v1h-1zM29 77h1v1h-1zM49 77h2v1h-2zM60 77h1v1h-1zM69 77h1v1h-1zM71 77h1v1h-1zM81 77h1v1h-1zM93 77h1v1h-1zM109 77h1v1h-1zM115 77h1v1h-1zM117 77h1v1h-1zM121 77h1v1h-1zM147 77h1v1h-1zM28 78h1v1h-1zM32 78h1v1h-1zM74 78h1v1h-1zM98 78h2v1h-2zM101 78h1v1h-1zM28 79h2v1h-2zM64 79h1v1h-1zM69 79h1v1h-1zM75 79h1v1h-1zM86 79h1v1h-1zM99 79h1v1h-1zM108 79h2v1h-2zM113 79h1v1h-1zM115 79h1v1h-1zM126 79h1v1h-1zM30 80h1v1h-1zM33 80h1v1h-1zM76 80h1v1h-1zM124 80h1v1h-1zM132 80h1v1h-1zM38 81h1v1h-1zM77 81h1v1h-1zM87 81h1v1h-1zM113 81h1v1h-1zM36 82h1v1h-1zM39 82h1v1h-1zM55 82h1v1h-1zM64 82h1v1h-1zM88 82h1v1h-1zM103 82h1v1h-1zM112 82h1v2h-1zM127 82h2v1h-2zM34 83h1v1h-1zM65 83h1v1h-1zM104 83h1v1h-1zM35 84h1v1h-1zM58 84h1v1h-1zM106 84h1v2h-1zM151 84h1v1h-1zM31 85h1v1h-1zM39 85h3v1h-3zM69 85h1v3h-1zM90 85h1v1h-1zM103 85h1v1h-1zM135 85h1v1h-1zM41 86h1v2h-1zM66 86h1v1h-1zM79 86h1v1h-1zM106 86h2v1h-2zM117 86h1v1h-1zM129 86h2v1h-2zM61 87h1v1h-1zM67 87h1v1h-1zM81 87h1v1h-1zM91 87h1v1h-1zM108 87h2v1h-2zM42 88h1v1h-1zM62 88h1v1h-1zM82 88h1v1h-1zM93 88h1v1h-1zM104 88h2v1h-2zM108 88h1v1h-1zM134 88h3v1h-3zM43 89h1v1h-1zM64 89h1v1h-1zM68 89h1v2h-1zM109 89h1v1h-1zM136 89h1v1h-1zM138 89h1v2h-1zM45 90h1v1h-1zM85 90h1v1h-1zM95 90h2v1h-2zM111 90h1v2h-1zM43 91h1v2h-1zM47 91h1v1h-1zM54 91h1v1h-1zM64 91h1v1h-1zM87 91h1v1h-1zM100 91h1v2h-1zM119 91h1v2h-1zM140 91h1v2h-1zM65 92h2v1h-2zM76 92h1v1h-1zM113 92h1v1h-1zM42 93h1v1h-1zM44 93h1v1h-1zM66 93h1v1h-1zM77 93h1v1h-1zM88 93h1v1h-1zM101 93h2v1h-2zM114 93h1v1h-1zM120 93h1v1h-1zM138 93h1v1h-1zM145 93h1v1h-1zM45 94h1v2h-1zM47 94h1v1h-1zM53 94h1v1h-1zM100 94h2v1h-2zM137 94h1v1h-1zM141 94h1v1h-1zM144 94h1v1h-1zM47 95h2v1h-2zM73 95h1v1h-1zM90 95h1v2h-1zM113 95h1v1h-1zM116 95h1v2h-1zM122 95h1v1h-1zM139 95h1v1h-1zM46 96h2v1h-2zM52 96h1v1h-1zM76 96h1v1h-1zM139 96h2v1h-2zM142 96h1v1h-1zM147 96h1v2h-1zM48 97h2v1h-2zM53 97h1v1h-1zM113 97h1v1h-1zM144 97h1v1h-1zM48 98h1v1h-1zM54 98h1v1h-1zM69 98h1v1h-1zM75 98h1v1h-1zM78 98h1v1h-1zM102 98h1v1h-1zM127 98h1v1h-1zM139 98h1v1h-1zM26 99h1v1h-1zM47 99h2v1h-2zM53 99h1v1h-1zM76 99h1v1h-1zM78 99h2v1h-2zM113 99h1v1h-1zM117 99h2v1h-2zM127 99h2v1h-2zM142 99h1v1h-1zM151 99h1v1h-1zM55 100h1v1h-1zM69 100h2v1h-2zM72 100h1v1h-1zM74 100h1v1h-1zM91 100h2v1h-2zM94 100h1v1h-1zM120 100h1v1h-1zM125 100h1v1h-1zM127 100h1v1h-1zM148 100h1v1h-1zM27 101h1v1h-1zM57 101h1v1h-1zM73 101h1v1h-1zM78 101h1v1h-1zM93 101h2v1h-2zM115 101h1v2h-1zM141 101h1v1h-1zM144 101h1v1h-1zM150 101h1v1h-1zM74 102h1v1h-1zM93 102h1v1h-1zM98 102h1v1h-1zM117 102h1v1h-1zM122 102h1v2h-1zM126 102h1v1h-1zM128 102h2v1h-2zM145 102h1v1h-1zM147 102h1v1h-1zM29 103h1v1h-1zM51 103h1v2h-1zM53 103h2v1h-2zM82 103h1v1h-1zM85 103h1v1h-1zM111 103h1v1h-1zM113 103h1v2h-1zM59 104h1v1h-1zM75 104h1v1h-1zM83 104h1v1h-1zM88 104h1v2h-1zM131 104h2v1h-2zM153 104h1v1h-1zM174 104h2v1h-2zM53 105h2v1h-2zM56 105h1v1h-1zM62 105h1v1h-1zM64 105h1v1h-1zM76 105h1v1h-1zM112 105h2v1h-2zM133 105h1v1h-1zM137 105h1v1h-1zM153 105h2v1h-2zM156 105h1v1h-1zM58 106h1v1h-1zM61 106h1v1h-1zM63 106h1v1h-1zM84 106h3v1h-3zM111 106h1v1h-1zM125 106h1v1h-1zM135 106h1v1h-1zM153 106h1v1h-1zM55 107h1v1h-1zM57 107h1v1h-1zM62 107h1v1h-1zM86 107h1v1h-1zM134 107h2v1h-2zM137 107h1v1h-1zM149 107h1v1h-1zM151 107h1v1h-1zM79 108h1v2h-1zM87 108h2v1h-2zM128 108h1v1h-1zM133 108h1v1h-1zM64 109h2v1h-2zM77 109h1v1h-1zM87 109h1v1h-1zM89 109h1v1h-1zM149 109h1v1h-1zM152 109h1v2h-1zM159 109h1v1h-1zM117 110h1v1h-1zM125 110h1v1h-1zM158 110h1v2h-1zM62 111h1v1h-1zM90 111h2v1h-2zM103 111h1v1h-1zM106 111h1v1h-1zM130 111h1v1h-1zM138 111h1v1h-1zM160 111h1v1h-1zM63 112h1v1h-1zM65 112h1v1h-1zM82 112h2v1h-2zM105 112h1v1h-1zM128 112h1v1h-1zM133 112h1v1h-1zM155 112h1v1h-1zM158 112h2v1h-2zM161 112h1v1h-1zM60 113h1v1h-1zM62 113h1v1h-1zM64 113h1v1h-1zM67 113h1v1h-1zM71 113h1v1h-1zM79 113h1v1h-1zM81 113h1v1h-1zM92 113h1v1h-1zM95 113h1v1h-1zM97 113h1v1h-1zM99 113h1v1h-1zM103 113h3v1h-3zM127 113h2v1h-2zM149 113h1v1h-1zM156 113h1v1h-1zM69 114h1v1h-1zM93 114h1v1h-1zM118 114h1v1h-1zM124 114h1v1h-1zM132 114h1v1h-1zM159 114h1v1h-1zM66 115h1v1h-1zM74 115h1v1h-1zM77 115h1v1h-1zM79 115h1v1h-1zM101 115h2v1h-2zM120 115h1v1h-1zM128 115h1v1h-1zM131 115h1v1h-1zM133 115h1v1h-1zM146 115h1v1h-1zM156 115h1v1h-1zM158 115h1v1h-1zM164 115h2v1h-2zM185 115h1v1h-1zM69 116h1v1h-1zM95 116h2v1h-2zM163 116h1v1h-1zM77 117h1v1h-1zM86 117h1v1h-1zM99 117h1v2h-1zM102 117h1v1h-1zM110 117h1v1h-1zM123 117h1v1h-1zM127 117h1v1h-1zM135 117h1v1h-1zM146 117h1v1h-1zM149 117h1v1h-1zM151 117h1v1h-1zM167 117h1v2h-1zM191 117h1v1h-1zM114 118h1v1h-1zM164 118h1v1h-1zM71 119h2v1h-2zM91 119h2v1h-2zM122 119h2v1h-2zM139 119h1v1h-1zM146 119h1v1h-1zM73 120h1v1h-1zM93 120h1v1h-1zM100 120h1v1h-1zM115 120h1v1h-1zM77 121h1v1h-1zM168 121h1v1h-1zM195 121h1v1h-1zM72 122h1v1h-1zM74 122h2v1h-2zM95 122h1v1h-1zM102 122h2v1h-2zM119 122h1v2h-1zM170 122h1v1h-1zM71 123h1v1h-1zM73 123h1v1h-1zM76 123h2v1h-2zM117 123h1v1h-1zM126 123h1v1h-1zM139 123h1v1h-1zM73 124h2v1h-2zM80 124h1v1h-1zM114 124h1v1h-1zM130 124h1v1h-1zM175 124h2v1h-2zM195 124h1v2h-1zM201 124h1v1h-1zM53 125h1v1h-1zM55 125h1v1h-1zM74 125h1v1h-1zM100 125h1v1h-1zM106 125h1v1h-1zM110 125h1v1h-1zM132 125h1v1h-1zM137 125h1v1h-1zM139 125h1v1h-1zM141 125h1v1h-1zM143 125h1v1h-1zM152 125h1v1h-1zM171 125h1v1h-1zM173 125h1v1h-1zM177 125h1v2h-1zM202 125h1v1h-1zM79 126h1v1h-1zM102 126h1v1h-1zM123 126h1v1h-1zM129 126h1v1h-1zM146 126h1v1h-1zM174 126h1v1h-1zM82 127h1v2h-1zM98 127h3v1h-3zM113 127h1v1h-1zM117 127h1v1h-1zM154 127h1v1h-1zM158 127h1v1h-1zM173 127h1v1h-1zM180 127h1v1h-1zM202 127h1v1h-1zM207 127h1v1h-1zM59 128h1v1h-1zM99 128h1v1h-1zM102 128h1v2h-1zM108 128h1v1h-1zM112 128h2v1h-2zM115 128h1v1h-1zM137 128h1v1h-1zM147 128h1v1h-1zM157 128h1v2h-1zM176 128h1v2h-1zM181 128h1v1h-1zM204 128h1v1h-1zM206 128h1v1h-1zM86 129h1v2h-1zM126 129h1v1h-1zM134 129h1v1h-1zM136 129h2v1h-2zM207 129h1v1h-1zM111 130h1v1h-1zM124 130h1v1h-1zM137 130h1v1h-1zM149 130h1v1h-1zM160 130h1v1h-1zM175 130h2v1h-2zM179 130h1v2h-1zM104 131h1v2h-1zM115 131h1v1h-1zM136 131h1v1h-1zM158 131h1v1h-1zM80 132h1v1h-1zM114 132h1v1h-1zM125 132h1v1h-1zM139 132h1v1h-1zM175 132h1v1h-1zM184 132h1v1h-1zM205 132h1v1h-1zM105 133h1v1h-1zM108 133h1v1h-1zM112 133h1v1h-1zM115 133h1v1h-1zM136 133h1v1h-1zM152 133h1v1h-1zM154 133h1v1h-1zM88 134h1v2h-1zM107 134h1v1h-1zM129 134h1v1h-1zM152 134h3v1h-3zM85 135h1v1h-1zM106 135h2v1h-2zM117 135h1v1h-1zM149 135h1v1h-1zM153 135h1v1h-1zM162 135h1v1h-1zM178 135h1v1h-1zM181 135h1v1h-1zM88 136h2v1h-2zM129 136h1v1h-1zM131 136h1v1h-1zM133 136h1v1h-1zM184 136h1v1h-1zM94 137h1v1h-1zM105 137h1v1h-1zM107 137h1v1h-1zM125 137h1v1h-1zM128 137h3v1h-3zM146 137h1v1h-1zM148 137h2v1h-2zM157 137h1v1h-1zM165 137h1v1h-1zM186 137h1v1h-1zM191 137h1v1h-1zM89 138h2v1h-2zM93 138h1v1h-1zM111 138h1v1h-1zM144 138h1v1h-1zM158 138h1v1h-1zM167 138h1v1h-1zM69 139h1v1h-1zM95 139h2v1h-2zM98 139h1v1h-1zM119 139h1v1h-1zM123 139h1v1h-1zM125 139h1v1h-1zM132 139h1v1h-1zM149 139h1v1h-1zM156 139h3v1h-3zM166 139h1v1h-1zM185 139h1v1h-1zM187 139h1v2h-1zM190 139h1v1h-1zM91 140h2v1h-2zM96 140h1v1h-1zM151 140h1v2h-1zM161 140h1v1h-1zM189 140h1v1h-1zM191 140h1v1h-1zM193 140h1v1h-1zM94 141h1v1h-1zM101 141h1v1h-1zM125 141h1v1h-1zM160 141h2v1h-2zM190 141h1v1h-1zM96 142h1v1h-1zM99 142h1v1h-1zM161 142h2v1h-2zM125 143h1v1h-1zM148 143h1v1h-1zM193 143h1v1h-1zM197 143h1v1h-1zM200 143h1v2h-1zM94 144h1v1h-1zM97 144h1v1h-1zM101 144h1v1h-1zM138 144h1v1h-1zM148 144h2v1h-2zM173 144h1v1h-1zM175 144h1v1h-1zM195 144h1v1h-1zM93 145h1v1h-1zM102 145h1v1h-1zM165 145h2v1h-2zM193 145h1v1h-1zM115 146h1v1h-1zM117 146h1v1h-1zM119 146h1v1h-1zM126 146h1v1h-1zM137 146h1v1h-1zM164 146h1v1h-1zM166 146h1v1h-1zM168 146h1v1h-1zM172 146h1v1h-1zM174 146h1v1h-1zM198 146h1v1h-1zM201 146h1v1h-1zM77 147h1v1h-1zM96 147h2v1h-2zM102 147h1v1h-1zM128 147h1v1h-1zM159 147h1v1h-1zM163 147h1v1h-1zM177 147h1v1h-1zM100 148h1v1h-1zM137 148h1v2h-1zM143 148h2v1h-2zM167 148h1v1h-1zM172 148h1v1h-1zM176 148h1v1h-1zM198 148h1v1h-1zM200 148h2v1h-2zM107 149h1v1h-1zM109 149h1v1h-1zM113 149h1v1h-1zM117 149h1v1h-1zM130 149h1v1h-1zM135 149h1v1h-1zM139 149h1v1h-1zM144 149h1v1h-1zM171 149h1v3h-1zM199 149h1v1h-1zM206 149h1v1h-1zM101 150h1v1h-1zM154 150h1v1h-1zM179 150h1v1h-1zM181 150h1v1h-1zM201 150h1v1h-1zM84 151h1v1h-1zM99 151h1v1h-1zM107 151h1v1h-1zM117 151h1v1h-1zM140 151h2v1h-2zM161 151h1v1h-1zM187 151h1v1h-1zM199 151h1v1h-1zM109 152h2v1h-2zM125 152h1v1h-1zM133 152h2v1h-2zM159 152h1v1h-1zM176 152h1v1h-1zM179 152h1v1h-1zM184 152h1v1h-1zM104 153h3v1h-3zM134 153h2v1h-2zM158 153h1v1h-1zM174 153h1v1h-1zM183 153h2v1h-2zM105 154h1v1h-1zM127 154h1v1h-1zM133 154h2v1h-2zM150 154h1v1h-1zM183 154h1v1h-1zM207 154h1v1h-1zM112 155h1v1h-1zM162 155h2v1h-2zM105 156h1v1h-1zM113 156h1v1h-1zM115 156h1v1h-1zM139 156h1v2h-1zM162 156h1v1h-1zM187 156h1v1h-1zM206 156h1v1h-1zM212 156h1v2h-1zM128 157h2v1h-2zM137 157h1v1h-1zM208 157h1v1h-1zM110 158h3v1h-3zM115 158h1v1h-1zM127 158h1v1h-1zM131 158h1v1h-1zM138 158h2v1h-2zM153 158h1v1h-1zM178 158h1v3h-1zM206 158h1v2h-1zM109 159h1v1h-1zM112 159h1v1h-1zM114 159h1v1h-1zM147 159h1v1h-1zM152 159h1v1h-1zM170 159h1v1h-1zM190 159h1v1h-1zM208 159h1v1h-1zM212 159h1v1h-1zM111 160h1v1h-1zM130 160h1v1h-1zM141 160h1v1h-1zM169 160h1v1h-1zM190 160h2v1h-2zM195 160h1v1h-1zM112 161h1v1h-1zM140 161h3v1h-3zM151 161h1v1h-1zM166 161h1v1h-1zM168 161h1v1h-1zM175 161h1v1h-1zM182 161h1v1h-1zM194 161h1v1h-1zM208 161h1v1h-1zM215 161h1v1h-1zM219 161h1v1h-1zM135 162h1v1h-1zM142 162h1v1h-1zM155 162h2v1h-2zM217 162h1v1h-1zM116 163h1v1h-1zM147 163h1v1h-1zM155 163h1v1h-1zM174 163h2v1h-2zM192 163h1v1h-1zM201 163h1v1h-1zM205 163h1v1h-1zM115 164h1v2h-1zM118 164h1v1h-1zM146 164h1v1h-1zM168 164h1v1h-1zM170 164h1v1h-1zM185 164h1v1h-1zM188 164h1v1h-1zM137 165h1v1h-1zM145 165h1v1h-1zM187 165h1v1h-1zM189 165h1v1h-1zM194 165h1v1h-1zM139 166h1v1h-1zM145 166h2v1h-2zM161 166h1v1h-1zM191 166h1v1h-1zM117 167h2v1h-2zM138 167h1v1h-1zM148 167h1v1h-1zM172 167h1v1h-1zM121 168h1v1h-1zM146 168h1v1h-1zM161 168h1v1h-1zM164 168h1v1h-1zM171 168h1v1h-1zM200 168h1v1h-1zM160 169h1v1h-1zM203 169h1v1h-1zM222 169h1v1h-1zM122 170h1v1h-1zM159 170h1v1h-1zM164 170h1v1h-1zM223 170h1v1h-1zM125 171h1v1h-1zM149 171h3v1h-3zM168 171h1v1h-1zM191 171h1v1h-1zM196 171h1v1h-1zM205 171h1v2h-1zM146 172h1v1h-1zM148 172h1v1h-1zM167 172h1v1h-1zM175 172h1v1h-1zM125 173h1v1h-1zM127 173h1v1h-1zM144 173h1v1h-1zM176 173h1v1h-1zM104 174h1v2h-1zM126 174h1v1h-1zM146 174h1v1h-1zM153 174h1v1h-1zM163 174h1v2h-1zM203 174h1v1h-1zM124 175h1v2h-1zM130 175h1v1h-1zM132 175h1v1h-1zM144 175h1v1h-1zM161 175h1v1h-1zM172 175h1v1h-1zM182 175h1v1h-1zM230 175h2v1h-2zM128 176h3v1h-3zM148 176h1v1h-1zM152 176h1v1h-1zM173 176h1v1h-1zM179 176h1v1h-1zM200 176h3v1h-3zM208 176h1v1h-1zM125 177h2v1h-2zM147 177h1v1h-1zM212 177h2v1h-2zM135 178h1v1h-1zM158 178h3v1h-3zM184 178h1v1h-1zM213 178h1v2h-1zM130 179h2v1h-2zM150 179h1v1h-1zM152 179h1v1h-1zM176 179h1v1h-1zM204 179h1v1h-1zM127 180h1v1h-1zM214 180h1v2h-1zM128 181h1v1h-1zM135 181h1v1h-1zM150 181h1v1h-1zM161 182h1v1h-1zM175 182h1v1h-1zM186 182h1v1h-1zM210 182h1v1h-1zM153 183h2v1h-2zM215 183h1v1h-1zM132 184h1v1h-1zM136 184h1v1h-1zM152 184h2v1h-2zM178 184h1v1h-1zM207 184h1v1h-1zM115 185h1v1h-1zM139 185h1v1h-1zM164 185h1v1h-1zM192 185h1v1h-1zM210 185h2v1h-2zM219 185h1v1h-1zM137 186h1v1h-1zM182 186h1v1h-1zM193 186h1v1h-1zM195 186h1v1h-1zM205 186h1v1h-1zM210 186h1v1h-1zM139 187h2v1h-2zM151 187h1v1h-1zM156 187h1v1h-1zM165 187h1v1h-1zM194 187h2v1h-2zM200 187h1v1h-1zM164 188h1v1h-1zM211 188h1v1h-1zM216 188h1v2h-1zM218 188h1v1h-1zM140 189h1v1h-1zM165 189h1v1h-1zM196 189h1v1h-1zM139 190h1v1h-1zM141 190h1v1h-1zM159 190h2v1h-2zM197 190h1v1h-1zM220 190h2v1h-2zM117 191h1v1h-1zM137 191h1v1h-1zM140 191h1v1h-1zM160 191h1v1h-1zM166 191h1v1h-1zM171 191h1v1h-1zM198 191h1v1h-1zM223 191h1v1h-1zM163 192h1v1h-1zM185 192h1v1h-1zM221 192h1v1h-1zM140 193h1v1h-1zM143 193h1v1h-1zM145 193h1v1h-1zM186 193h1v1h-1zM217 193h1v1h-1zM220 193h1v1h-1zM161 194h1v1h-1zM165 194h1v1h-1zM187 194h1v1h-1zM201 194h2v1h-2zM219 194h1v1h-1zM222 194h1v1h-1zM121 195h1v1h-1zM124 195h2v1h-2zM144 195h1v1h-1zM160 195h1v1h-1zM186 195h2v1h-2zM171 196h1v1h-1zM189 196h1v1h-1zM201 196h1v1h-1zM224 196h1v1h-1zM143 197h1v1h-1zM190 197h1v1h-1zM204 197h1v1h-1zM222 197h1v1h-1zM146 198h1v1h-1zM148 198h1v1h-1zM191 198h1v1h-1zM226 198h1v1h-1zM149 199h1v1h-1zM151 199h1v1h-1zM207 199h1v1h-1zM219 199h1v1h-1zM221 199h1v1h-1zM225 199h1v1h-1zM227 199h1v2h-1zM230 199h1v1h-1zM143 200h2v1h-2zM148 200h1v2h-1zM168 200h1v1h-1zM176 200h1v3h-1zM187 200h1v1h-1zM223 200h1v1h-1zM124 201h1v1h-1zM146 201h1v1h-1zM150 201h1v1h-1zM163 201h1v1h-1zM194 201h1v2h-1zM196 201h1v1h-1zM230 201h1v1h-1zM125 202h1v1h-1zM127 202h1v1h-1zM210 202h2v1h-2zM231 202h1v1h-1zM169 203h1v1h-1zM174 203h1v1h-1zM207 203h1v1h-1zM128 204h1v1h-1zM179 204h1v1h-1zM197 204h1v1h-1zM217 204h1v1h-1zM229 204h1v2h-1zM132 205h1v1h-1zM163 205h1v1h-1zM171 205h2v1h-2zM186 205h1v1h-1zM212 205h1v1h-1zM128 206h1v1h-1zM149 206h1v1h-1zM156 206h1v1h-1zM158 206h2v1h-2zM127 207h1v1h-1zM129 207h1v1h-1zM154 207h1v1h-1zM184 207h1v1h-1zM199 207h1v1h-1zM203 207h1v1h-1zM157 208h1v1h-1zM159 208h1v1h-1zM161 208h1v1h-1zM176 208h1v1h-1zM182 210h1v1h-1zM185 210h2v1h-2zM202 210h1v2h-1zM214 210h1v1h-1zM185 211h1v1h-1zM188 211h1v1h-1zM215 211h1v1h-1zM156 212h2v1h-2zM159 212h1v1h-1zM177 212h1v1h-1zM205 212h1v1h-1zM177 213h3v1h-3zM180 214h2v1h-2zM210 214h1v1h-1zM217 214h1v1h-1zM161 215h1v1h-1zM183 215h1v1h-1zM211 215h1v1h-1zM188 216h2v1h-2zM162 217h1v1h-1zM193 217h1v1h-1zM204 217h1v1h-1zM214 217h1v1h-1zM188 218h1v1h-1zM221 218h1v1h-1zM161 219h1v1h-1zM185 219h1v1h-1zM194 219h1v1h-1zM199 219h1v1h-1zM223 219h1v1h-1zM190 220h1v2h-1zM193 220h1v1h-1zM192 221h1v1h-1zM199 221h1v1h-1zM218 221h1v1h-1zM224 221h1v1h-1zM169 222h1v1h-1zM194 222h1v1h-1zM197 222h1v1h-1zM170 223h1v1h-1zM191 223h1v1h-1zM200 223h1v1h-1zM219 223h1v1h-1zM196 224h1v1h-1zM221 224h1v1h-1zM199 225h1v1h-1zM198 226h1v1h-1zM199 227h2v1h-2zM204 229h2v1h-2zM175 230h1v2h-1zM199 230h1v1h-1zM201 230h1v1h-1zM234 230h1v1h-1zM202 231h1v1h-1zM235 231h1v1h-1zM236 232h1v1h-1zM238 233h1v1h-1zM230 234h1v1h-1zM231 235h1v1h-1zM232 236h1v1h-1zM240 236h1v1h-1zM233 238h1v1h-1zM243 238h1v1h-1zM236 240h1v1h-1zM238 243h1v1h-1zM249 245h1v1h-1zM245 249h1v1h-1zM262 257h1v1h-1zM265 259h1v2h-1zM257 262h1v1h-1zM259 265h2v1h-2zM279 272h1v1h-1zM280 273h1v1h-1zM281 274h1v1h-1zM282 275h1v1h-1zM283 276h1v1h-1zM284 277h1v1h-1zM285 278h1v1h-1zM272 279h1v1h-1zM286 279h1v1h-1zM273 280h1v1h-1zM287 280h1v1h-1zM274 281h1v1h-1zM288 281h1v1h-1zM275 282h1v1h-1zM289 282h1v1h-1zM276 283h1v1h-1zM290 283h1v1h-1zM277 284h1v1h-1zM278 285h1v1h-1zM292 285h1v1h-1zM279 286h1v1h-1zM293 286h1v1h-1zM280 287h1v1h-1zM294 287h1v1h-1zM281 288h1v1h-1zM295 288h1v1h-1zM282 289h1v1h-1zM296 289h1v1h-1zM283 290h1v1h-1zM297 290h1v1h-1zM298 291h1v1h-1zM285 292h1v1h-1zM298 292h2v1h-2zM286 293h1v1h-1zM300 293h1v1h-1zM287 294h1v1h-1zM301 294h1v1h-1zM288 295h1v1h-1zM302 295h1v1h-1zM289 296h1v1h-1zM303 296h1v1h-1zM290 297h1v1h-1zM304 297h1v1h-1zM291 298h2v1h-2zM305 298h1v1h-1zM292 299h1v1h-1zM293 300h1v1h-1zM307 300h1v1h-1zM294 301h1v1h-1zM308 301h1v1h-1zM295 302h1v1h-1zM309 302h1v1h-1zM296 303h1v1h-1zM310 303h1v1h-1zM297 304h1v1h-1zM311 304h1v1h-1zM298 305h1v1h-1zM312 305h1v1h-1zM313 306h1v1h-1zM300 307h1v1h-1zM301 308h1v1h-1zM302 309h1v1h-1zM314 309h1v2h-1zM303 310h1v1h-1zM304 311h1v1h-1zM314 311h2v1h-2zM305 312h1v1h-1zM317 312h1v1h-1zM306 313h1v1h-1zM309 314h3v1h-3zM311 315h1v1h-1zM312 317h1v1h-1zM323 318h1v1h-1zM326 321h1v1h-1zM318 323h1v1h-1zM321 326h1v1h-1zM334 330h1v1h-1zM330 334h1v1h-1zM341 338h1v1h-1zM343 339h1v1h-1zM338 341h1v1h-1zM339 343h1v1h-1zM347 343h1v1h-1zM350 345h1v1h-1zM343 347h1v1h-1zM354 349h1v1h-1zM345 350h1v1h-1zM359 353h1v1h-1zM349 354h1v1h-1zM360 354h1v1h-1zM360 355h2v1h-2zM361 356h1v1h-1zM353 359h1v1h-1zM365 359h1v1h-1zM354 360h2v1h-2zM355 361h2v1h-2zM359 365h1v1h-1zM371 366h1v1h-1zM373 369h1v1h-1zM366 371h1v1h-1zM369 373h1v1h-1zM381 376h2v1h-2zM383 377h1v1h-1zM386 380h1v1h-1zM376 381h1v2h-1zM387 381h1v1h-1zM388 382h1v1h-1zM377 383h1v1h-1zM380 386h1v1h-1zM381 387h1v1h-1zM382 388h1v1h-1zM393 388h1v1h-1zM395 389h1v1h-1zM394 390h1v1h-1zM397 391h1v1h-1zM388 393h1v1h-1zM390 394h1v1h-1zM389 395h1v1h-1zM391 397h1v1h-1zM403 399h1v1h-1zM405 400h1v1h-1zM406 401h1v1h-1zM399 403h1v1h-1zM400 405h1v1h-1zM411 405h1v1h-1zM401 406h1v1h-1zM411 406h2v1h-2zM414 408h1v1h-1zM414 410h1v1h-1zM405 411h2v1h-2zM406 412h1v1h-1zM408 414h1v1h-1zM410 414h1v1h-1zM422 417h1v1h-1zM424 420h3v1h-3zM425 421h1v1h-1zM417 422h1v1h-1zM420 424h1v1h-1zM427 424h1v1h-1zM420 425h2v1h-2zM429 425h1v1h-1zM420 426h1v1h-1zM424 427h1v1h-1zM431 427h1v1h-1zM425 429h1v1h-1zM427 431h1v1h-1zM439 435h1v1h-1zM435 439h1v1h-1zM446 440h1v1h-1zM447 441h1v1h-1zM440 446h1v1h-1zM441 447h1v1h-1zM454 448h1v1h-1zM455 451h1v1h-1zM457 452h2v1h-2zM448 454h1v1h-1zM451 455h1v1h-1zM462 456h1v1h-1zM452 457h1v2h-1zM466 460h1v1h-1zM456 462h1v1h-1zM467 462h1v1h-1zM470 464h1v1h-1zM460 466h1v1h-1zM472 466h1v1h-1zM462 467h1v1h-1zM473 467h1v1h-1zM474 468h1v1h-1zM464 470h1v1h-1zM475 470h1v1h-1zM466 472h1v1h-1zM467 473h1v1h-1zM468 474h1v1h-1zM479 474h2v1h-2zM470 475h1v1h-1zM480 475h1v1h-1zM474 479h1v1h-1zM474 480h2v1h-2zM487 480h1v1h-1zM488 481h1v1h-1zM489 482h1v1h-1zM490 483h1v1h-1zM491 484h1v1h-1zM492 485h1v1h-1zM493 486h1v1h-1zM480 487h1v1h-1zM494 487h1v1h-1zM481 488h1v1h-1zM495 488h1v1h-1zM482 489h1v1h-1zM496 489h1v1h-1zM483 490h1v1h-1zM497 490h1v1h-1zM484 491h1v1h-1zM485 492h1v1h-1zM486 493h1v1h-1zM487 494h1v1h-1zM488 495h1v1h-1zM489 496h1v1h-1zM490 497h1v1h-1z"/>
<path fill="#79a39b" d="M20 0h1v1h-1zM45 0h1v2h-1zM47 0h1v1h-1zM23 1h1v1h-1zM48 1h1v1h-1zM6 2h1v1h-1zM19 2h1v1h-1zM22 2h1v1h-1zM30 2h1v1h-1zM49 2h1v1h-1zM8 3h1v2h-1zM20 3h3v1h-3zM55 3h1v1h-1zM17 4h1v1h-1zM19 4h1v1h-1zM24 4h1v1h-1zM76 4h1v1h-1zM23 5h1v1h-1zM36 5h1v1h-1zM49 5h1v1h-1zM69 5h1v1h-1zM73 5h2v1h-2zM81 5h1v1h-1zM2 6h1v1h-1zM29 6h1v1h-1zM34 6h1v1h-1zM53 6h2v1h-2zM16 7h1v1h-1zM56 7h1v1h-1zM3 8h2v1h-2zM15 8h2v1h-2zM61 8h1v1h-1zM41 9h1v1h-1zM16 10h1v1h-1zM30 10h1v1h-1zM61 10h2v1h-2zM56 11h1v1h-1zM57 12h2v2h-2zM62 13h1v1h-1zM65 13h1v1h-1zM57 14h1v3h-1zM64 14h1v1h-1zM8 15h1v1h-1zM61 15h1v1h-1zM7 16h2v1h-2zM10 16h1v1h-1zM30 16h1v1h-1zM33 16h1v1h-1zM67 16h1v1h-1zM4 17h1v1h-1zM25 17h2v1h-2zM28 17h1v1h-1zM46 17h1v1h-1zM48 17h2v1h-2zM55 17h1v1h-1zM36 18h1v1h-1zM67 18h1v1h-1zM2 19h1v1h-1zM4 19h1v1h-1zM28 19h1v1h-1zM31 19h1v1h-1zM35 19h1v1h-1zM54 19h1v1h-1zM63 19h1v1h-1zM0 20h1v1h-1zM3 20h1v2h-1zM39 20h1v1h-1zM46 20h1v1h-1zM26 21h1v1h-1zM29 21h1v1h-1zM54 21h1v1h-1zM2 22h2v1h-2zM50 22h1v1h-1zM67 22h1v1h-1zM1 23h1v1h-1zM5 23h1v1h-1zM42 23h1v1h-1zM4 24h1v1h-1zM29 24h1v1h-1zM44 24h1v1h-1zM75 24h1v1h-1zM17 25h1v2h-1zM30 25h2v1h-2zM41 25h1v1h-1zM54 25h2v1h-2zM74 25h2v1h-2zM21 26h1v1h-1zM76 26h1v1h-1zM98 26h1v1h-1zM35 27h1v1h-1zM39 27h1v1h-1zM56 27h1v1h-1zM78 27h1v1h-1zM80 27h1v1h-1zM93 27h1v1h-1zM97 27h2v1h-2zM17 28h1v1h-1zM19 28h1v1h-1zM34 28h1v1h-1zM42 28h1v1h-1zM6 29h1v1h-1zM21 29h1v1h-1zM24 29h1v1h-1zM33 29h3v1h-3zM39 29h1v1h-1zM41 29h1v1h-1zM48 29h1v1h-1zM59 29h1v1h-1zM69 29h3v1h-3zM101 29h1v1h-1zM104 29h1v1h-1zM2 30h1v1h-1zM10 30h1v1h-1zM16 30h1v1h-1zM25 30h1v2h-1zM45 30h1v1h-1zM60 30h1v1h-1zM62 30h1v1h-1zM65 30h1v2h-1zM82 30h1v2h-1zM103 30h2v1h-2zM19 31h1v1h-1zM53 31h1v2h-1zM73 31h1v1h-1zM100 31h1v1h-1zM103 31h1v1h-1zM105 31h1v2h-1zM40 32h1v1h-1zM16 33h1v1h-1zM29 33h1v1h-1zM81 33h1v1h-1zM6 34h1v1h-1zM28 34h2v1h-2zM105 34h1v1h-1zM107 34h1v1h-1zM19 35h1v1h-1zM27 35h1v1h-1zM29 35h1v1h-1zM53 35h1v1h-1zM56 35h1v1h-1zM78 35h2v1h-2zM86 35h1v2h-1zM109 35h2v1h-2zM5 36h1v1h-1zM18 36h1v1h-1zM42 36h1v1h-1zM44 36h1v1h-1zM67 36h1v1h-1zM77 36h1v1h-1zM107 36h1v1h-1zM43 37h1v2h-1zM54 37h2v1h-2zM80 37h1v1h-1zM83 37h1v1h-1zM57 38h1v1h-1zM85 38h2v1h-2zM20 39h1v1h-1zM27 39h1v1h-1zM29 39h1v1h-1zM78 39h1v1h-1zM81 39h1v1h-1zM32 40h1v1h-1zM91 40h1v1h-1zM9 41h1v1h-1zM25 41h1v1h-1zM29 41h1v1h-1zM49 41h1v2h-1zM56 41h1v1h-1zM73 41h1v1h-1zM92 41h1v1h-1zM23 42h1v1h-1zM28 42h1v1h-1zM36 42h1v1h-1zM53 42h1v1h-1zM61 42h1v1h-1zM72 42h1v1h-1zM75 42h1v1h-1zM86 42h1v1h-1zM37 43h2v1h-2zM24 44h1v1h-1zM36 44h1v1h-1zM64 44h1v1h-1zM75 44h1v1h-1zM90 44h1v1h-1zM96 44h1v1h-1zM0 45h2v1h-2zM30 45h1v1h-1zM66 45h1v1h-1zM76 45h2v1h-2zM89 45h1v1h-1zM97 45h1v1h-1zM99 45h1v1h-1zM117 45h1v1h-1zM17 46h1v1h-1zM20 46h1v1h-1zM50 46h1v1h-1zM68 46h1v1h-1zM74 46h2v1h-2zM92 46h1v2h-1zM95 46h1v1h-1zM0 47h1v1h-1zM67 47h2v1h-2zM1 48h1v1h-1zM17 48h1v2h-1zM29 48h1v1h-1zM77 48h1v1h-1zM94 48h1v1h-1zM2 49h1v1h-1zM5 49h1v1h-1zM41 49h2v1h-2zM95 49h1v1h-1zM22 50h1v1h-1zM46 50h1v1h-1zM54 50h1v1h-1zM70 50h1v1h-1zM67 51h2v1h-2zM91 51h2v1h-2zM95 51h2v1h-2zM102 51h1v1h-1zM121 51h1v2h-1zM123 51h1v1h-1zM80 52h1v1h-1zM91 52h1v1h-1zM95 52h1v1h-1zM105 52h1v1h-1zM147 52h1v1h-1zM6 53h1v2h-1zM31 53h2v1h-2zM35 53h1v1h-1zM42 53h1v1h-1zM58 53h3v1h-3zM80 53h2v1h-2zM95 53h2v1h-2zM122 53h1v1h-1zM19 54h1v1h-1zM21 54h1v1h-1zM25 54h1v2h-1zM37 54h1v2h-1zM50 54h1v1h-1zM81 54h1v1h-1zM100 54h1v1h-1zM102 54h1v2h-1zM124 54h1v2h-1zM127 54h1v2h-1zM3 55h1v1h-1zM17 55h1v1h-1zM70 55h1v1h-1zM72 55h2v1h-2zM84 55h1v1h-1zM86 55h1v1h-1zM7 56h1v1h-1zM11 56h1v1h-1zM27 56h1v1h-1zM35 56h1v1h-1zM41 56h1v1h-1zM59 56h1v1h-1zM103 56h1v1h-1zM12 57h5v1h-5zM38 57h1v1h-1zM75 57h1v1h-1zM100 57h1v1h-1zM128 57h1v1h-1zM12 58h2v1h-2zM53 58h1v3h-1zM61 58h1v1h-1zM77 58h1v1h-1zM82 58h1v1h-1zM108 58h1v1h-1zM29 59h1v1h-1zM56 59h1v1h-1zM30 60h1v1h-1zM67 60h1v2h-1zM69 60h1v1h-1zM87 60h1v1h-1zM8 61h1v1h-1zM10 61h1v2h-1zM15 61h1v1h-1zM42 61h1v1h-1zM58 61h1v1h-1zM79 61h1v1h-1zM88 61h1v1h-1zM105 61h1v1h-1zM132 61h1v1h-1zM13 62h1v1h-1zM30 62h1v1h-1zM69 62h1v1h-1zM78 62h1v1h-1zM89 62h1v1h-1zM19 63h1v1h-1zM68 63h1v2h-1zM77 63h2v1h-2zM91 63h1v1h-1zM14 64h1v1h-1zM44 64h1v1h-1zM83 64h1v1h-1zM93 64h1v1h-1zM107 64h1v1h-1zM111 64h2v1h-2zM13 65h1v1h-1zM30 65h2v1h-2zM71 65h1v1h-1zM77 65h2v1h-2zM45 66h1v1h-1zM87 66h1v1h-1zM16 67h1v1h-1zM18 67h1v1h-1zM22 67h1v1h-1zM36 67h1v1h-1zM47 67h1v1h-1zM51 67h1v2h-1zM60 67h2v1h-2zM75 67h1v1h-1zM80 67h1v1h-1zM83 67h1v1h-1zM96 67h1v1h-1zM98 67h1v1h-1zM114 67h1v1h-1zM117 67h1v1h-1zM46 68h2v1h-2zM63 68h2v1h-2zM88 68h1v1h-1zM97 68h1v1h-1zM113 68h1v1h-1zM115 68h1v1h-1zM5 69h1v1h-1zM29 69h1v3h-1zM60 69h1v1h-1zM62 69h1v1h-1zM104 69h1v1h-1zM50 70h1v1h-1zM55 70h1v1h-1zM86 70h1v2h-1zM116 70h1v2h-1zM118 70h1v1h-1zM121 70h2v1h-2zM124 70h1v1h-1zM65 71h1v1h-1zM88 71h2v1h-2zM120 71h1v2h-1zM142 71h1v1h-1zM42 72h1v1h-1zM55 72h1v2h-1zM123 72h2v1h-2zM5 73h1v2h-1zM31 73h1v1h-1zM41 73h1v1h-1zM115 73h1v1h-1zM122 73h1v1h-1zM125 73h1v1h-1zM25 74h1v1h-1zM46 74h1v2h-1zM123 74h1v1h-1zM24 75h2v1h-2zM42 75h1v1h-1zM44 75h1v1h-1zM57 75h1v1h-1zM67 75h1v1h-1zM91 75h1v1h-1zM115 75h1v2h-1zM117 75h1v1h-1zM4 76h1v1h-1zM26 76h1v1h-1zM45 76h1v2h-1zM95 76h1v1h-1zM147 76h1v1h-1zM151 76h1v3h-1zM36 77h1v1h-1zM48 77h1v1h-1zM58 77h1v1h-1zM63 77h1v1h-1zM65 77h1v2h-1zM88 77h1v1h-1zM106 77h1v1h-1zM110 77h1v1h-1zM128 77h1v1h-1zM148 77h1v1h-1zM27 78h1v1h-1zM35 78h1v2h-1zM39 78h1v1h-1zM62 78h2v1h-2zM85 78h2v1h-2zM108 78h1v1h-1zM61 79h1v1h-1zM88 79h1v1h-1zM91 79h1v2h-1zM100 79h1v1h-1zM111 79h2v1h-2zM125 79h1v1h-1zM130 79h1v1h-1zM132 79h1v1h-1zM27 80h1v1h-1zM37 80h1v1h-1zM52 80h2v1h-2zM67 80h1v1h-1zM101 80h2v1h-2zM115 80h1v1h-1zM5 81h1v1h-1zM33 81h1v1h-1zM39 81h1v1h-1zM53 81h2v1h-2zM133 81h1v1h-1zM149 81h1v1h-1zM30 82h2v1h-2zM58 82h1v1h-1zM87 82h1v2h-1zM89 82h1v1h-1zM113 82h1v1h-1zM129 82h2v1h-2zM37 83h1v1h-1zM64 83h1v1h-1zM67 83h1v1h-1zM129 83h1v1h-1zM132 83h1v1h-1zM151 83h1v1h-1zM55 84h1v1h-1zM91 84h1v2h-1zM114 84h1v2h-1zM129 84h2v1h-2zM135 84h1v1h-1zM38 85h1v2h-1zM78 85h1v2h-1zM93 85h1v1h-1zM117 85h1v1h-1zM127 85h1v2h-1zM136 85h2v1h-2zM35 86h2v1h-2zM42 86h1v1h-1zM55 86h1v1h-1zM70 86h2v1h-2zM134 86h1v1h-1zM136 86h1v1h-1zM151 86h1v1h-1zM60 87h1v1h-1zM66 87h1v1h-1zM82 87h2v1h-2zM92 87h2v1h-2zM135 87h1v1h-1zM137 87h1v1h-1zM61 88h1v1h-1zM68 88h1v1h-1zM71 88h1v2h-1zM77 88h1v1h-1zM79 88h1v1h-1zM94 88h1v1h-1zM103 88h1v2h-1zM107 88h1v1h-1zM133 88h1v1h-1zM45 89h1v1h-1zM62 89h1v1h-1zM82 89h1v1h-1zM95 89h2v1h-2zM124 89h1v1h-1zM135 89h1v1h-1zM139 89h1v2h-1zM44 90h1v1h-1zM97 90h1v1h-1zM116 90h1v1h-1zM40 91h1v1h-1zM51 91h2v1h-2zM63 91h1v1h-1zM75 91h1v1h-1zM79 91h2v1h-2zM84 91h2v1h-2zM101 91h1v1h-1zM103 91h1v1h-1zM105 91h1v1h-1zM108 91h1v1h-1zM121 91h1v1h-1zM124 91h1v1h-1zM143 91h1v1h-1zM41 92h1v1h-1zM46 92h2v1h-2zM51 92h1v1h-1zM87 92h1v2h-1zM111 92h2v1h-2zM120 92h1v1h-1zM125 92h1v2h-1zM141 92h1v1h-1zM27 93h1v1h-1zM64 93h1v1h-1zM85 93h1v1h-1zM105 93h1v1h-1zM112 93h1v1h-1zM135 93h2v1h-2zM144 93h1v1h-1zM169 93h1v1h-1zM48 94h1v1h-1zM88 94h1v1h-1zM123 94h1v2h-1zM138 94h1v1h-1zM46 95h1v1h-1zM49 95h1v1h-1zM51 95h3v1h-3zM76 95h1v1h-1zM89 95h1v2h-1zM140 95h1v1h-1zM145 95h1v1h-1zM44 96h1v1h-1zM51 96h1v1h-1zM53 96h1v1h-1zM67 96h1v1h-1zM113 96h1v1h-1zM146 96h1v2h-1zM167 96h1v1h-1zM170 96h1v1h-1zM27 97h1v1h-1zM45 97h1v1h-1zM68 97h1v1h-1zM90 97h1v1h-1zM139 97h2v1h-2zM169 97h1v1h-1zM26 98h2v1h-2zM67 98h1v1h-1zM140 98h1v2h-1zM142 98h1v1h-1zM151 98h1v1h-1zM45 99h1v1h-1zM105 99h1v1h-1zM116 99h1v1h-1zM126 99h1v1h-1zM150 99h1v2h-1zM31 100h1v1h-1zM54 100h1v1h-1zM57 100h1v1h-1zM79 100h1v1h-1zM104 100h1v1h-1zM119 100h1v1h-1zM128 100h1v1h-1zM143 100h1v1h-1zM169 100h1v3h-1zM29 101h1v1h-1zM80 101h1v2h-1zM91 101h1v1h-1zM105 101h1v1h-1zM113 101h1v2h-1zM118 101h2v1h-2zM146 101h1v2h-1zM148 101h1v2h-1zM175 101h1v1h-1zM51 102h1v1h-1zM54 102h2v1h-2zM106 102h1v1h-1zM109 102h2v1h-2zM121 102h1v1h-1zM30 103h2v1h-2zM56 103h1v1h-1zM88 103h2v1h-2zM91 103h1v1h-1zM110 103h1v1h-1zM132 103h1v1h-1zM137 103h1v1h-1zM175 103h1v1h-1zM177 103h1v1h-1zM29 104h2v1h-2zM69 104h1v1h-1zM100 104h1v1h-1zM112 104h1v1h-1zM115 104h1v1h-1zM122 104h1v1h-1zM133 104h1v1h-1zM135 104h1v2h-1zM145 104h1v1h-1zM154 104h1v1h-1zM31 105h2v1h-2zM34 105h1v1h-1zM52 105h1v1h-1zM61 105h1v1h-1zM91 105h1v1h-1zM93 105h1v1h-1zM99 105h1v1h-1zM101 105h1v1h-1zM114 105h1v1h-1zM122 105h2v1h-2zM148 105h2v1h-2zM155 105h1v1h-1zM77 106h1v1h-1zM102 106h1v1h-1zM112 106h2v1h-2zM134 106h1v1h-1zM150 106h1v1h-1zM154 106h3v1h-3zM34 107h1v1h-1zM36 107h1v1h-1zM64 107h1v1h-1zM88 107h1v1h-1zM114 107h1v1h-1zM125 107h2v1h-2zM177 107h1v1h-1zM180 107h1v1h-1zM58 108h1v1h-1zM78 108h1v1h-1zM91 108h1v1h-1zM126 108h1v2h-1zM154 108h1v1h-1zM157 108h2v1h-2zM35 109h1v2h-1zM102 109h1v1h-1zM117 109h1v1h-1zM138 109h1v1h-1zM150 109h1v3h-1zM175 109h1v1h-1zM177 109h1v1h-1zM77 110h1v1h-1zM102 110h2v1h-2zM160 110h1v1h-1zM64 111h1v2h-1zM79 111h1v2h-1zM92 111h1v1h-1zM152 111h1v1h-1zM161 111h1v1h-1zM92 112h2v1h-2zM104 112h1v1h-1zM106 112h1v2h-1zM129 112h1v1h-1zM138 112h1v1h-1zM140 112h1v2h-1zM151 112h1v1h-1zM156 112h2v1h-2zM68 113h1v1h-1zM82 113h1v1h-1zM96 113h1v1h-1zM101 113h2v1h-2zM121 113h1v1h-1zM147 113h1v1h-1zM153 113h2v1h-2zM185 113h1v1h-1zM67 114h1v1h-1zM84 114h2v1h-2zM105 114h1v1h-1zM107 114h1v1h-1zM125 114h1v1h-1zM127 114h2v1h-2zM131 114h1v1h-1zM145 114h1v1h-1zM163 114h1v1h-1zM68 115h1v1h-1zM73 115h1v1h-1zM75 115h2v1h-2zM80 115h1v1h-1zM104 115h1v1h-1zM126 115h1v1h-1zM147 115h1v1h-1zM157 115h1v1h-1zM167 115h1v1h-1zM70 116h2v1h-2zM90 116h1v1h-1zM99 116h1v1h-1zM119 116h1v1h-1zM136 116h1v1h-1zM138 116h1v1h-1zM161 116h1v1h-1zM45 117h1v1h-1zM67 117h1v1h-1zM75 117h1v1h-1zM85 117h1v1h-1zM109 117h1v1h-1zM165 117h1v1h-1zM170 117h1v2h-1zM70 118h1v1h-1zM101 118h1v1h-1zM146 118h2v1h-2zM100 119h2v1h-2zM116 119h1v1h-1zM147 119h1v2h-1zM167 119h1v2h-1zM71 120h2v1h-2zM92 120h1v1h-1zM170 120h1v1h-1zM51 121h2v1h-2zM70 121h1v2h-1zM91 121h1v1h-1zM102 121h1v1h-1zM113 121h1v1h-1zM137 121h1v1h-1zM148 121h2v1h-2zM165 121h1v1h-1zM171 121h1v2h-1zM197 121h1v1h-1zM53 122h1v1h-1zM73 122h1v1h-1zM104 122h2v1h-2zM127 122h1v1h-1zM138 122h1v1h-1zM149 122h1v1h-1zM168 122h1v1h-1zM51 123h1v1h-1zM72 123h1v2h-1zM74 123h1v1h-1zM94 123h2v1h-2zM105 123h1v1h-1zM137 123h1v1h-1zM150 123h1v1h-1zM163 123h1v1h-1zM167 123h1v1h-1zM54 124h2v1h-2zM70 124h1v1h-1zM89 124h1v1h-1zM91 124h1v1h-1zM138 124h1v1h-1zM156 124h1v1h-1zM161 124h1v2h-1zM177 124h1v1h-1zM198 124h1v1h-1zM73 125h1v1h-1zM79 125h1v1h-1zM92 125h2v1h-2zM107 125h1v1h-1zM114 125h1v1h-1zM130 125h1v2h-1zM140 125h1v1h-1zM144 125h1v1h-1zM163 125h1v1h-1zM201 125h1v1h-1zM99 126h1v1h-1zM107 126h3v1h-3zM115 126h1v1h-1zM148 126h1v1h-1zM54 127h2v1h-2zM85 127h2v1h-2zM114 127h1v2h-1zM122 127h1v1h-1zM136 127h1v1h-1zM160 127h1v2h-1zM174 127h1v1h-1zM199 127h1v1h-1zM57 128h1v1h-1zM77 128h1v1h-1zM100 128h1v1h-1zM134 128h1v1h-1zM169 128h1v1h-1zM82 129h3v1h-3zM112 129h1v1h-1zM158 129h1v2h-1zM182 129h1v1h-1zM206 129h1v1h-1zM79 130h1v1h-1zM82 130h1v1h-1zM84 130h1v1h-1zM125 130h2v1h-2zM136 130h1v1h-1zM148 130h1v1h-1zM185 130h1v1h-1zM114 131h1v1h-1zM137 131h1v1h-1zM161 131h1v1h-1zM176 131h1v1h-1zM184 131h1v1h-1zM61 132h1v1h-1zM79 132h1v1h-1zM83 132h1v1h-1zM103 132h1v1h-1zM138 132h1v1h-1zM162 132h1v1h-1zM183 132h1v1h-1zM81 133h1v1h-1zM88 133h1v1h-1zM104 133h1v1h-1zM150 133h1v1h-1zM161 133h1v1h-1zM177 133h1v1h-1zM179 133h1v1h-1zM86 134h1v1h-1zM106 134h1v1h-1zM128 134h1v1h-1zM178 134h1v1h-1zM180 134h1v1h-1zM84 135h1v1h-1zM87 135h1v1h-1zM89 135h1v1h-1zM93 135h1v2h-1zM104 135h2v1h-2zM152 135h1v1h-1zM164 135h1v1h-1zM177 135h1v1h-1zM179 135h2v1h-2zM182 135h1v1h-1zM85 136h2v1h-2zM116 136h1v1h-1zM127 136h1v1h-1zM130 136h1v1h-1zM141 136h1v1h-1zM154 136h1v1h-1zM186 136h1v1h-1zM85 137h1v1h-1zM87 137h1v1h-1zM103 137h1v1h-1zM121 137h1v1h-1zM123 137h1v1h-1zM131 137h1v1h-1zM144 137h2v1h-2zM152 137h1v1h-1zM166 137h1v2h-1zM175 137h1v1h-1zM177 137h1v1h-1zM183 137h1v1h-1zM188 137h1v1h-1zM195 137h1v1h-1zM94 138h1v1h-1zM109 138h1v1h-1zM112 138h1v1h-1zM116 138h1v1h-1zM122 138h1v1h-1zM124 138h1v1h-1zM132 138h1v1h-1zM149 138h1v1h-1zM185 138h1v1h-1zM187 138h1v1h-1zM189 138h1v1h-1zM89 139h2v1h-2zM97 139h1v1h-1zM145 139h1v1h-1zM148 139h1v1h-1zM151 139h1v1h-1zM177 139h1v1h-1zM188 139h1v1h-1zM95 140h1v1h-1zM97 140h3v1h-3zM112 140h2v1h-2zM125 140h1v1h-1zM168 140h1v1h-1zM170 140h1v1h-1zM194 140h1v2h-1zM92 141h1v1h-1zM136 141h1v1h-1zM149 141h1v1h-1zM71 142h1v1h-1zM98 142h1v1h-1zM160 142h1v1h-1zM171 142h1v1h-1zM191 142h1v1h-1zM91 143h1v1h-1zM100 143h1v1h-1zM173 143h1v1h-1zM190 143h2v1h-2zM194 143h1v1h-1zM93 144h1v1h-1zM125 144h1v1h-1zM137 144h1v2h-1zM172 144h1v1h-1zM193 144h1v1h-1zM196 144h1v1h-1zM198 144h1v1h-1zM95 145h1v1h-1zM104 145h1v1h-1zM114 145h1v1h-1zM139 145h1v1h-1zM174 145h1v1h-1zM201 145h1v1h-1zM96 146h2v1h-2zM101 146h2v1h-2zM118 146h1v1h-1zM150 146h1v1h-1zM165 146h1v1h-1zM193 146h2v1h-2zM205 146h1v1h-1zM52 147h1v1h-1zM76 147h1v1h-1zM113 147h1v1h-1zM115 147h1v1h-1zM118 147h3v1h-3zM166 147h1v1h-1zM194 147h1v1h-1zM196 147h1v1h-1zM77 148h1v1h-1zM101 148h2v1h-2zM105 148h1v2h-1zM121 148h1v1h-1zM126 148h1v1h-1zM130 148h1v1h-1zM139 148h1v1h-1zM163 148h1v1h-1zM177 148h1v1h-1zM202 148h1v1h-1zM205 148h1v1h-1zM81 149h1v1h-1zM121 149h2v1h-2zM138 149h1v1h-1zM141 149h1v1h-1zM154 149h2v1h-2zM167 149h1v1h-1zM99 150h2v1h-2zM106 150h1v1h-1zM109 150h3v1h-3zM123 150h1v1h-1zM133 150h1v1h-1zM146 150h1v1h-1zM160 150h2v1h-2zM200 150h1v1h-1zM208 150h1v1h-1zM76 151h3v1h-3zM83 151h1v1h-1zM86 151h1v1h-1zM98 151h1v1h-1zM112 151h1v1h-1zM139 151h1v1h-1zM167 151h1v1h-1zM186 151h1v1h-1zM198 151h1v1h-1zM209 151h1v1h-1zM111 152h1v1h-1zM135 152h1v1h-1zM137 152h1v1h-1zM182 152h2v1h-2zM202 152h1v1h-1zM208 152h1v1h-1zM113 153h1v2h-1zM160 153h1v1h-1zM187 153h1v1h-1zM210 153h1v1h-1zM104 154h1v1h-1zM106 154h1v1h-1zM108 154h1v1h-1zM136 154h1v1h-1zM149 154h1v2h-1zM175 154h1v1h-1zM177 154h1v1h-1zM208 154h1v1h-1zM105 155h2v1h-2zM161 155h1v1h-1zM188 155h1v1h-1zM106 156h1v1h-1zM112 156h1v2h-1zM124 156h1v1h-1zM163 156h1v1h-1zM213 156h1v1h-1zM108 157h1v2h-1zM115 157h1v1h-1zM162 157h2v1h-2zM174 157h1v1h-1zM176 157h1v1h-1zM187 157h1v1h-1zM210 157h1v1h-1zM129 158h2v1h-2zM175 158h1v1h-1zM181 158h1v1h-1zM207 158h1v1h-1zM167 159h1v2h-1zM174 159h1v1h-1zM179 159h1v1h-1zM216 159h1v1h-1zM110 160h1v1h-1zM127 160h2v1h-2zM142 160h1v1h-1zM150 160h1v2h-1zM153 160h1v1h-1zM165 160h1v1h-1zM205 160h1v1h-1zM215 160h1v1h-1zM111 161h1v1h-1zM116 161h1v1h-1zM124 161h2v1h-2zM131 161h1v1h-1zM133 161h1v1h-1zM155 161h1v1h-1zM170 161h2v1h-2zM197 161h2v1h-2zM202 161h1v1h-1zM132 162h1v1h-1zM157 162h1v1h-1zM175 162h1v1h-1zM205 162h1v1h-1zM114 163h1v1h-1zM123 163h1v1h-1zM125 163h1v1h-1zM148 163h1v1h-1zM156 163h2v1h-2zM171 163h1v2h-1zM173 163h1v1h-1zM177 163h1v1h-1zM181 163h1v1h-1zM183 163h1v1h-1zM196 163h1v1h-1zM213 163h1v1h-1zM218 163h1v1h-1zM223 163h1v1h-1zM135 164h1v1h-1zM221 164h1v1h-1zM117 165h1v1h-1zM121 165h1v1h-1zM146 165h1v1h-1zM160 165h1v1h-1zM137 166h2v1h-2zM147 166h1v1h-1zM189 166h1v1h-1zM197 166h1v1h-1zM199 166h2v1h-2zM96 167h1v1h-1zM115 167h1v1h-1zM119 167h2v1h-2zM123 167h1v1h-1zM149 167h1v1h-1zM151 167h1v1h-1zM159 167h2v1h-2zM173 167h1v1h-1zM175 167h1v1h-1zM201 167h1v1h-1zM204 167h1v1h-1zM122 168h1v1h-1zM140 168h1v1h-1zM190 168h1v1h-1zM193 168h1v1h-1zM201 168h2v1h-2zM93 169h1v1h-1zM97 169h1v1h-1zM100 169h3v1h-3zM128 169h1v1h-1zM177 169h1v1h-1zM224 169h1v1h-1zM96 170h1v1h-1zM117 170h2v1h-2zM120 170h1v1h-1zM140 170h1v1h-1zM161 170h1v2h-1zM187 170h1v1h-1zM204 170h1v1h-1zM226 170h1v1h-1zM121 171h2v1h-2zM142 171h1v1h-1zM163 171h2v1h-2zM144 172h1v1h-1zM197 172h2v1h-2zM143 173h1v1h-1zM163 173h1v1h-1zM167 173h1v1h-1zM178 173h1v1h-1zM206 173h1v1h-1zM127 174h1v1h-1zM145 174h1v1h-1zM157 174h1v1h-1zM159 174h1v1h-1zM180 174h1v1h-1zM197 174h1v1h-1zM101 175h1v1h-1zM103 175h1v1h-1zM109 175h1v1h-1zM137 175h1v1h-1zM154 175h1v1h-1zM158 175h1v1h-1zM162 175h1v1h-1zM167 175h1v1h-1zM184 175h1v1h-1zM191 175h1v1h-1zM131 176h1v1h-1zM157 176h1v1h-1zM185 176h1v1h-1zM195 176h1v1h-1zM203 176h1v2h-1zM103 177h1v1h-1zM107 177h1v1h-1zM109 177h1v1h-1zM124 177h1v1h-1zM133 177h1v1h-1zM135 177h1v1h-1zM137 177h1v1h-1zM139 177h1v1h-1zM148 177h1v1h-1zM154 177h1v1h-1zM163 177h1v1h-1zM169 177h1v1h-1zM186 177h1v1h-1zM200 177h1v1h-1zM209 177h1v1h-1zM215 177h1v1h-1zM134 178h1v1h-1zM173 178h1v1h-1zM201 178h3v1h-3zM212 178h1v2h-1zM133 179h1v1h-1zM135 179h1v1h-1zM159 179h1v1h-1zM107 180h1v1h-1zM134 180h2v1h-2zM174 180h1v1h-1zM158 181h1v1h-1zM163 181h1v1h-1zM189 181h1v1h-1zM217 181h1v1h-1zM129 182h1v1h-1zM135 182h1v1h-1zM152 182h1v2h-1zM204 182h1v1h-1zM209 182h1v1h-1zM216 182h1v1h-1zM132 183h1v1h-1zM137 183h1v1h-1zM163 183h1v1h-1zM205 183h2v1h-2zM131 184h1v1h-1zM175 184h1v1h-1zM189 184h1v1h-1zM204 184h1v1h-1zM206 184h1v1h-1zM216 184h1v1h-1zM113 185h1v1h-1zM130 185h1v1h-1zM138 185h1v1h-1zM176 185h1v1h-1zM193 185h1v1h-1zM202 185h1v1h-1zM209 185h1v1h-1zM136 186h1v1h-1zM151 186h1v1h-1zM177 186h1v1h-1zM204 186h1v2h-1zM206 186h1v1h-1zM212 186h1v2h-1zM218 186h1v1h-1zM138 187h1v1h-1zM153 187h1v1h-1zM157 187h1v1h-1zM170 187h1v1h-1zM202 187h1v1h-1zM207 187h1v1h-1zM210 187h1v1h-1zM214 187h1v1h-1zM220 187h2v1h-2zM137 188h1v1h-1zM139 188h1v1h-1zM155 188h1v1h-1zM138 189h1v1h-1zM166 189h1v1h-1zM181 189h1v1h-1zM184 189h1v1h-1zM199 189h1v2h-1zM202 189h1v1h-1zM205 189h1v1h-1zM143 190h1v1h-1zM168 190h1v1h-1zM218 190h1v2h-1zM142 191h2v1h-2zM175 191h1v1h-1zM201 191h1v1h-1zM216 191h1v1h-1zM144 193h1v1h-1zM146 193h1v1h-1zM168 193h1v1h-1zM185 193h1v1h-1zM222 193h1v1h-1zM140 194h2v1h-2zM143 194h1v1h-1zM146 194h2v1h-2zM137 195h1v1h-1zM176 195h1v1h-1zM203 195h2v1h-2zM144 196h1v1h-1zM147 196h1v1h-1zM163 196h1v1h-1zM121 197h1v1h-1zM161 197h1v2h-1zM166 197h1v1h-1zM172 197h1v2h-1zM174 197h1v1h-1zM206 197h1v1h-1zM225 197h1v1h-1zM227 197h2v1h-2zM124 198h1v1h-1zM144 198h1v1h-1zM151 198h1v1h-1zM219 198h1v1h-1zM221 198h1v1h-1zM127 199h1v1h-1zM166 199h1v2h-1zM189 199h2v1h-2zM203 199h1v1h-1zM150 200h1v1h-1zM177 200h1v1h-1zM125 201h1v1h-1zM145 201h1v1h-1zM167 201h2v1h-2zM178 201h1v2h-1zM191 201h1v1h-1zM226 201h1v1h-1zM231 201h1v1h-1zM148 202h1v1h-1zM152 202h1v1h-1zM161 202h1v1h-1zM168 202h1v1h-1zM185 202h1v1h-1zM187 202h1v1h-1zM189 202h1v1h-1zM227 202h1v1h-1zM176 203h3v1h-3zM195 203h1v2h-1zM199 203h1v1h-1zM167 204h1v1h-1zM170 204h1v1h-1zM182 204h1v1h-1zM184 204h1v1h-1zM186 204h2v1h-2zM213 204h1v1h-1zM146 205h1v1h-1zM148 205h1v1h-1zM160 205h1v1h-1zM162 205h1v1h-1zM183 205h1v1h-1zM189 205h1v1h-1zM214 205h1v1h-1zM216 205h2v1h-2zM129 206h1v1h-1zM173 206h1v1h-1zM183 206h2v1h-2zM186 206h1v1h-1zM197 206h1v1h-1zM231 206h1v1h-1zM158 207h1v1h-1zM187 207h1v1h-1zM214 207h1v1h-1zM217 207h1v1h-1zM150 208h1v1h-1zM152 208h1v1h-1zM154 208h1v1h-1zM151 209h1v1h-1zM177 209h1v1h-1zM182 209h1v1h-1zM185 209h1v1h-1zM153 210h1v1h-1zM157 210h1v1h-1zM187 210h1v1h-1zM217 210h1v1h-1zM178 212h2v1h-2zM186 212h2v1h-2zM156 213h1v1h-1zM163 213h1v1h-1zM204 213h1v1h-1zM187 214h1v1h-1zM205 214h1v1h-1zM207 214h1v1h-1zM160 215h1v1h-1zM177 215h1v1h-1zM218 215h1v1h-1zM159 216h1v1h-1zM182 216h1v1h-1zM184 216h1v1h-1zM191 216h1v1h-1zM205 216h1v2h-1zM219 216h1v1h-1zM181 217h1v1h-1zM207 217h1v1h-1zM210 217h1v1h-1zM220 217h1v1h-1zM223 217h1v1h-1zM163 218h1v1h-1zM186 218h1v1h-1zM190 218h2v1h-2zM215 218h1v1h-1zM198 219h1v1h-1zM216 219h1v1h-1zM187 220h1v2h-1zM217 220h1v1h-1zM164 221h1v1h-1zM198 221h1v1h-1zM225 221h1v1h-1zM193 222h1v1h-1zM163 223h1v1h-1zM217 223h1v1h-1zM169 224h1v1h-1zM197 225h1v1h-1zM221 225h1v1h-1zM170 226h1v1h-1zM201 226h1v1h-1zM197 227h1v2h-1zM202 227h1v1h-1zM233 229h1v1h-1zM201 231h1v1h-1zM206 231h1v1h-1zM229 233h1v1h-1zM247 243h1v1h-1zM243 247h1v1h-1zM258 252h1v1h-1zM261 255h1v1h-1zM263 257h1v1h-1zM252 258h1v1h-1zM266 260h1v1h-1zM255 261h1v1h-1zM257 263h1v1h-1zM269 265h2v1h-2zM260 266h1v1h-1zM271 267h1v1h-1zM265 269h1v2h-1zM273 269h1v1h-1zM267 271h1v1h-1zM280 272h1v1h-1zM269 273h1v1h-1zM282 274h1v1h-1zM283 275h1v1h-1zM284 276h1v1h-1zM285 277h1v1h-1zM286 278h1v1h-1zM287 279h1v1h-1zM272 280h1v1h-1zM288 280h1v1h-1zM289 281h1v1h-1zM274 282h1v1h-1zM290 282h1v1h-1zM275 283h1v1h-1zM291 283h1v1h-1zM276 284h1v1h-1zM292 284h1v1h-1zM277 285h1v1h-1zM293 285h1v1h-1zM278 286h1v1h-1zM294 286h1v1h-1zM279 287h1v1h-1zM295 287h1v1h-1zM280 288h1v1h-1zM296 288h1v1h-1zM281 289h1v1h-1zM297 289h1v1h-1zM282 290h1v1h-1zM298 290h1v1h-1zM283 291h1v1h-1zM299 291h1v1h-1zM284 292h1v1h-1zM300 292h1v1h-1zM285 293h1v1h-1zM301 293h1v1h-1zM286 294h1v1h-1zM302 294h1v1h-1zM287 295h1v1h-1zM303 295h1v1h-1zM288 296h1v1h-1zM304 296h1v1h-1zM289 297h1v1h-1zM305 297h1v1h-1zM290 298h1v1h-1zM306 298h1v1h-1zM291 299h1v1h-1zM307 299h1v1h-1zM292 300h1v1h-1zM308 300h1v1h-1zM293 301h1v1h-1zM309 301h1v1h-1zM294 302h1v1h-1zM310 302h1v1h-1zM295 303h1v1h-1zM311 303h1v1h-1zM296 304h1v1h-1zM312 304h1v1h-1zM297 305h1v1h-1zM313 305h1v1h-1zM298 306h1v1h-1zM299 307h1v1h-1zM300 308h1v1h-1zM301 309h1v1h-1zM302 310h1v1h-1zM303 311h1v1h-1zM304 312h1v1h-1zM305 313h1v1h-1zM318 313h1v1h-1zM313 318h1v1h-1zM326 320h1v1h-1zM328 322h1v1h-1zM329 324h1v1h-1zM320 326h1v1h-1zM322 328h1v1h-1zM324 329h1v1h-1zM335 330h1v1h-1zM336 331h1v2h-1zM330 335h1v1h-1zM331 336h2v1h-2zM342 337h1v1h-1zM337 342h1v1h-1zM350 344h1v1h-1zM344 350h1v1h-1zM357 351h1v1h-1zM358 353h1v1h-1zM351 357h1v1h-1zM353 358h1v1h-1zM366 360h1v1h-1zM368 361h1v1h-1zM370 365h1v1h-1zM360 366h1v1h-1zM361 368h1v1h-1zM373 368h1v1h-1zM365 370h1v1h-1zM375 371h1v1h-1zM377 372h1v1h-1zM368 373h1v1h-1zM378 373h1v1h-1zM379 374h1v1h-1zM371 375h1v1h-1zM372 377h1v1h-1zM373 378h1v1h-1zM374 379h1v1h-1zM387 380h1v1h-1zM388 381h1v1h-1zM391 384h1v1h-1zM380 387h1v1h-1zM381 388h1v1h-1zM395 388h1v1h-1zM384 391h1v1h-1zM388 395h1v1h-1zM413 408h1v1h-1zM408 413h1v1h-1zM418 413h1v2h-1zM413 418h2v1h-2zM426 421h1v1h-1zM427 422h1v1h-1zM429 424h1v1h-1zM430 425h1v1h-1zM421 426h1v1h-1zM422 427h1v1h-1zM424 429h1v1h-1zM425 430h1v1h-1zM442 436h1v1h-1zM448 441h1v1h-1zM436 442h1v1h-1zM449 442h1v1h-1zM452 446h1v1h-1zM441 448h1v1h-1zM442 449h1v1h-1zM446 452h1v1h-1zM463 457h1v1h-1zM464 458h1v1h-1zM467 460h1v1h-1zM469 462h1v2h-1zM457 463h1v1h-1zM458 464h1v1h-1zM471 465h1v1h-1zM460 467h1v1h-1zM475 468h1v2h-1zM462 469h2v1h-2zM477 470h1v1h-1zM465 471h1v1h-1zM478 471h1v1h-1zM479 473h2v1h-2zM468 475h2v1h-2zM482 476h1v1h-1zM470 477h1v1h-1zM471 478h1v1h-1zM473 479h1v2h-1zM488 480h1v1h-1zM489 481h1v1h-1zM476 482h1v1h-1zM490 482h1v1h-1zM491 483h1v1h-1zM492 484h1v1h-1zM493 485h1v1h-1zM494 486h1v1h-1zM495 487h1v1h-1zM480 488h1v1h-1zM496 488h1v1h-1zM481 489h1v1h-1zM497 489h1v1h-1zM482 490h1v1h-1zM483 491h1v1h-1zM484 492h1v1h-1zM485 493h1v1h-1zM486 494h1v1h-1zM487 495h1v1h-1zM488 496h1v1h-1zM489 497h1v1h-1z"/>
<path fill="#6d9ba2" d="M17 0h1v1h-1zM28 0h1v1h-1zM48 0h2v1h-2zM55 1h1v1h-1zM71 1h1v1h-1zM7 2h1v1h-1zM17 2h1v1h-1zM31 2h1v2h-1zM54 2h1v1h-1zM23 3h1v1h-1zM41 3h1v1h-1zM45 3h1v1h-1zM75 3h1v1h-1zM57 4h1v1h-1zM72 4h1v1h-1zM18 5h1v1h-1zM38 5h1v1h-1zM47 5h1v1h-1zM65 5h1v1h-1zM71 5h2v1h-2zM80 5h1v1h-1zM103 5h1v1h-1zM10 6h1v1h-1zM12 6h1v1h-1zM23 6h1v1h-1zM33 6h1v1h-1zM35 6h1v1h-1zM2 7h1v1h-1zM14 7h1v2h-1zM19 7h1v1h-1zM58 7h1v1h-1zM77 7h3v1h-3zM17 8h1v1h-1zM39 8h2v1h-2zM51 8h1v1h-1zM54 8h1v2h-1zM63 8h1v2h-1zM81 8h1v1h-1zM16 9h1v1h-1zM38 9h2v1h-2zM56 9h1v1h-1zM6 10h1v1h-1zM26 10h1v1h-1zM29 10h1v1h-1zM38 10h1v1h-1zM57 10h1v1h-1zM64 10h1v1h-1zM42 11h1v1h-1zM54 11h1v1h-1zM65 11h1v1h-1zM6 12h1v1h-1zM18 12h1v1h-1zM30 12h1v1h-1zM64 12h1v2h-1zM82 12h1v1h-1zM43 13h1v1h-1zM7 14h2v1h-2zM19 14h1v1h-1zM30 14h1v1h-1zM42 14h1v1h-1zM59 14h1v2h-1zM61 14h1v1h-1zM20 15h1v1h-1zM32 15h1v1h-1zM62 15h1v2h-1zM65 15h1v1h-1zM9 16h1v1h-1zM22 16h1v1h-1zM45 16h1v1h-1zM85 16h1v1h-1zM0 17h1v1h-1zM2 17h1v1h-1zM8 17h1v1h-1zM23 17h1v1h-1zM51 17h1v1h-1zM58 17h1v1h-1zM73 17h1v1h-1zM90 17h1v1h-1zM5 18h1v1h-1zM12 18h1v1h-1zM24 18h1v1h-1zM37 18h1v1h-1zM71 18h1v1h-1zM7 19h1v1h-1zM14 19h1v1h-1zM36 19h2v1h-2zM55 19h1v1h-1zM66 19h1v1h-1zM68 19h1v1h-1zM15 20h1v1h-1zM29 20h3v1h-3zM65 20h1v2h-1zM67 20h1v2h-1zM28 21h1v1h-1zM30 21h1v1h-1zM50 21h1v1h-1zM73 21h1v1h-1zM16 22h1v1h-1zM29 22h1v1h-1zM41 22h1v2h-1zM54 22h1v1h-1zM72 22h2v1h-2zM3 23h1v1h-1zM6 23h1v1h-1zM17 23h1v1h-1zM43 23h1v3h-1zM50 23h1v1h-1zM72 23h1v1h-1zM75 23h1v1h-1zM18 24h1v1h-1zM74 24h1v1h-1zM77 24h1v1h-1zM97 25h1v1h-1zM10 26h1v1h-1zM96 26h1v1h-1zM58 27h1v1h-1zM63 27h1v1h-1zM65 27h1v1h-1zM95 27h2v1h-2zM102 27h1v1h-1zM124 27h1v1h-1zM0 28h1v1h-1zM21 28h1v1h-1zM33 28h1v1h-1zM59 28h1v1h-1zM61 28h1v1h-1zM70 28h1v1h-1zM99 28h1v1h-1zM103 28h1v1h-1zM10 29h1v1h-1zM20 29h1v1h-1zM22 29h1v1h-1zM36 29h2v1h-2zM42 29h1v2h-1zM44 29h1v2h-1zM73 29h2v1h-2zM98 29h2v1h-2zM12 30h1v1h-1zM14 30h1v1h-1zM20 30h2v1h-2zM39 30h1v1h-1zM69 30h1v1h-1zM71 30h1v1h-1zM73 30h1v1h-1zM92 30h1v1h-1zM102 30h1v1h-1zM105 30h1v1h-1zM2 31h2v1h-2zM20 31h1v1h-1zM43 31h1v1h-1zM69 31h2v1h-2zM75 31h1v1h-1zM84 31h1v1h-1zM90 31h1v1h-1zM107 31h1v1h-1zM124 31h1v1h-1zM127 31h1v1h-1zM15 32h1v1h-1zM38 32h1v1h-1zM52 32h1v1h-1zM82 32h1v1h-1zM103 32h1v1h-1zM6 33h1v1h-1zM28 33h1v1h-1zM66 33h1v1h-1zM78 33h1v1h-1zM85 33h2v1h-2zM105 33h1v1h-1zM56 34h1v1h-1zM6 35h1v1h-1zM67 35h1v1h-1zM77 35h1v1h-1zM89 35h1v1h-1zM105 35h1v1h-1zM107 35h1v1h-1zM19 36h1v1h-1zM29 36h1v2h-1zM53 36h2v1h-2zM87 36h1v1h-1zM18 37h2v1h-2zM66 37h1v1h-1zM77 37h1v2h-1zM79 37h1v1h-1zM88 37h2v1h-2zM102 37h1v1h-1zM105 37h1v1h-1zM5 38h1v1h-1zM9 38h2v1h-2zM32 38h1v1h-1zM47 38h1v1h-1zM58 38h1v1h-1zM87 38h1v1h-1zM8 39h2v1h-2zM30 39h1v1h-1zM52 39h1v1h-1zM79 39h1v1h-1zM88 39h1v2h-1zM101 39h1v1h-1zM8 40h1v1h-1zM55 40h1v1h-1zM68 40h1v1h-1zM70 40h1v1h-1zM84 40h1v1h-1zM90 40h1v1h-1zM106 40h1v1h-1zM110 40h1v1h-1zM3 41h1v1h-1zM22 41h2v1h-2zM51 41h1v1h-1zM54 41h1v1h-1zM76 41h1v1h-1zM78 41h1v1h-1zM80 41h2v1h-2zM94 41h1v1h-1zM96 41h1v1h-1zM99 41h1v1h-1zM115 41h1v2h-1zM11 42h1v1h-1zM14 42h1v1h-1zM29 42h2v1h-2zM59 42h1v1h-1zM73 42h1v1h-1zM83 42h1v1h-1zM13 43h1v1h-1zM23 43h3v1h-3zM31 43h1v1h-1zM52 43h1v1h-1zM54 43h1v2h-1zM61 43h1v1h-1zM63 43h2v1h-2zM88 43h1v1h-1zM90 43h1v1h-1zM29 44h2v1h-2zM63 44h1v2h-1zM74 44h1v1h-1zM112 44h1v1h-1zM3 45h1v1h-1zM16 45h1v1h-1zM91 46h1v1h-1zM93 46h2v1h-2zM98 46h1v1h-1zM5 47h1v1h-1zM38 47h1v1h-1zM0 48h1v2h-1zM67 48h1v1h-1zM101 48h3v1h-3zM54 49h1v1h-1zM78 49h1v1h-1zM21 50h1v1h-1zM23 50h1v1h-1zM94 50h1v1h-1zM96 50h1v1h-1zM98 50h1v1h-1zM100 50h1v1h-1zM104 50h1v1h-1zM8 51h1v1h-1zM17 51h1v1h-1zM41 51h1v1h-1zM79 51h1v1h-1zM32 52h1v1h-1zM39 52h1v1h-1zM43 52h1v1h-1zM63 52h1v1h-1zM92 52h1v1h-1zM94 52h1v1h-1zM122 52h1v1h-1zM124 52h1v1h-1zM36 53h1v2h-1zM62 53h1v1h-1zM65 53h1v1h-1zM67 53h1v2h-1zM85 53h1v1h-1zM88 53h1v1h-1zM91 53h2v1h-2zM127 53h1v1h-1zM2 54h1v1h-1zM8 54h2v1h-2zM11 54h1v1h-1zM22 54h1v1h-1zM41 54h1v1h-1zM43 54h2v1h-2zM49 54h1v1h-1zM61 54h2v1h-2zM95 54h2v1h-2zM122 54h1v1h-1zM1 55h1v1h-1zM19 55h1v1h-1zM40 55h1v1h-1zM61 55h1v1h-1zM64 55h1v1h-1zM69 55h1v1h-1zM74 55h1v1h-1zM85 55h1v1h-1zM101 55h1v1h-1zM108 55h1v1h-1zM128 55h1v2h-1zM9 56h1v1h-1zM34 56h1v1h-1zM75 56h1v1h-1zM82 56h1v1h-1zM106 56h1v1h-1zM152 56h1v1h-1zM4 57h1v1h-1zM10 57h1v1h-1zM69 57h1v1h-1zM71 57h1v1h-1zM88 57h1v1h-1zM92 57h1v2h-1zM102 57h1v1h-1zM125 57h1v1h-1zM129 57h1v1h-1zM7 58h1v1h-1zM17 58h1v1h-1zM27 58h1v1h-1zM38 58h1v1h-1zM67 58h1v1h-1zM83 58h1v1h-1zM107 58h1v1h-1zM110 58h2v1h-2zM128 58h1v1h-1zM149 58h1v1h-1zM14 59h2v1h-2zM28 59h1v1h-1zM42 59h1v1h-1zM66 59h2v1h-2zM87 59h1v1h-1zM89 59h1v2h-1zM151 59h1v1h-1zM102 60h2v1h-2zM127 60h3v1h-3zM14 61h1v1h-1zM28 61h1v1h-1zM43 61h1v1h-1zM54 61h2v1h-2zM66 61h1v1h-1zM104 61h1v1h-1zM127 61h1v1h-1zM15 62h2v1h-2zM53 62h2v1h-2zM66 62h2v1h-2zM103 62h1v1h-1zM106 62h1v1h-1zM8 63h2v1h-2zM27 63h1v1h-1zM43 63h3v1h-3zM52 63h1v1h-1zM76 63h1v1h-1zM104 63h1v1h-1zM128 63h1v1h-1zM10 64h1v1h-1zM12 64h2v1h-2zM43 64h1v1h-1zM55 64h1v1h-1zM70 64h1v1h-1zM92 64h1v1h-1zM108 64h1v1h-1zM115 64h1v1h-1zM130 64h1v1h-1zM5 65h1v1h-1zM11 65h1v1h-1zM15 65h1v1h-1zM20 65h2v1h-2zM27 65h1v1h-1zM53 65h1v1h-1zM94 65h1v1h-1zM96 65h1v1h-1zM104 65h1v1h-1zM106 65h2v1h-2zM117 65h1v1h-1zM19 66h1v1h-1zM33 66h1v1h-1zM37 66h1v1h-1zM59 66h1v1h-1zM61 66h2v1h-2zM70 66h1v1h-1zM111 66h1v1h-1zM113 66h2v1h-2zM20 67h2v1h-2zM35 67h1v1h-1zM48 67h1v1h-1zM53 67h2v1h-2zM58 67h2v1h-2zM62 67h1v1h-1zM72 67h1v1h-1zM74 67h1v1h-1zM77 67h1v1h-1zM79 67h1v1h-1zM81 67h1v1h-1zM99 67h1v1h-1zM110 67h1v1h-1zM122 67h1v1h-1zM19 68h1v1h-1zM40 68h1v1h-1zM73 68h3v1h-3zM96 68h1v1h-1zM30 69h2v1h-2zM55 69h1v1h-1zM57 69h1v1h-1zM78 69h1v1h-1zM80 69h1v1h-1zM84 69h1v1h-1zM103 69h1v1h-1zM105 69h1v1h-1zM120 69h1v1h-1zM125 69h1v1h-1zM137 69h1v1h-1zM28 70h1v1h-1zM31 70h1v1h-1zM40 70h1v1h-1zM64 70h1v1h-1zM66 70h1v1h-1zM79 70h1v1h-1zM113 70h1v1h-1zM119 70h2v1h-2zM1 71h1v1h-1zM5 71h1v1h-1zM18 71h1v1h-1zM30 71h1v1h-1zM57 71h1v1h-1zM81 71h1v1h-1zM102 71h2v2h-2zM114 71h1v1h-1zM124 71h2v1h-2zM140 71h1v1h-1zM4 72h2v1h-2zM22 72h2v1h-2zM67 72h1v1h-1zM89 72h2v1h-2zM110 72h1v1h-1zM118 72h1v1h-1zM17 73h1v1h-1zM21 73h2v1h-2zM29 73h2v1h-2zM42 73h1v1h-1zM68 73h1v1h-1zM78 73h1v1h-1zM118 73h2v1h-2zM139 73h1v1h-1zM145 73h1v1h-1zM24 74h1v1h-1zM29 74h1v1h-1zM44 74h1v1h-1zM55 74h1v1h-1zM67 74h2v1h-2zM79 74h1v1h-1zM120 74h1v1h-1zM144 74h1v1h-1zM147 74h1v1h-1zM3 75h1v1h-1zM23 75h1v1h-1zM31 75h1v1h-1zM56 75h1v1h-1zM68 75h1v1h-1zM80 75h1v1h-1zM105 75h1v1h-1zM118 75h1v1h-1zM145 75h1v2h-1zM147 75h2v1h-2zM41 76h1v1h-1zM63 76h1v1h-1zM89 76h1v1h-1zM94 76h1v1h-1zM114 76h1v1h-1zM121 76h1v1h-1zM7 77h1v3h-1zM24 77h1v1h-1zM35 77h1v1h-1zM37 77h2v1h-2zM67 77h1v1h-1zM82 77h1v2h-1zM90 77h1v1h-1zM92 77h1v1h-1zM107 77h1v1h-1zM118 77h1v1h-1zM149 77h1v1h-1zM33 78h1v1h-1zM41 78h1v1h-1zM49 78h1v1h-1zM69 78h1v1h-1zM73 78h1v1h-1zM84 78h1v1h-1zM115 78h1v1h-1zM117 78h1v2h-1zM129 78h1v1h-1zM147 78h1v1h-1zM37 79h1v1h-1zM39 79h1v1h-1zM51 79h1v1h-1zM67 79h1v1h-1zM70 79h1v1h-1zM74 79h1v1h-1zM89 79h1v1h-1zM93 79h1v1h-1zM98 79h1v1h-1zM123 79h1v1h-1zM131 79h1v1h-1zM148 79h3v1h-3zM152 79h1v2h-1zM5 80h1v1h-1zM41 80h1v2h-1zM69 80h1v1h-1zM75 80h1v1h-1zM112 80h1v1h-1zM122 80h1v1h-1zM133 80h1v1h-1zM150 80h1v1h-1zM8 81h1v1h-1zM67 81h1v1h-1zM71 81h1v1h-1zM88 81h1v1h-1zM102 81h1v1h-1zM124 81h3v1h-3zM135 81h1v1h-1zM153 81h3v1h-3zM12 82h1v1h-1zM32 82h1v1h-1zM56 82h1v1h-1zM77 82h2v1h-2zM91 82h1v1h-1zM131 82h1v2h-1zM155 82h1v1h-1zM42 83h1v1h-1zM58 83h1v1h-1zM89 83h2v1h-2zM103 83h1v2h-1zM115 83h1v2h-1zM127 83h2v1h-2zM134 83h1v1h-1zM31 84h1v1h-1zM40 84h1v1h-1zM69 84h1v1h-1zM78 84h1v1h-1zM133 84h1v1h-1zM16 85h1v1h-1zM33 85h1v2h-1zM53 85h1v1h-1zM55 85h1v1h-1zM92 85h1v1h-1zM134 85h1v1h-1zM155 85h1v1h-1zM93 86h1v1h-1zM104 86h1v1h-1zM128 86h1v1h-1zM36 87h1v1h-1zM38 87h1v1h-1zM59 87h1v1h-1zM105 87h1v1h-1zM107 87h1v1h-1zM133 87h2v1h-2zM136 87h1v1h-1zM37 88h1v2h-1zM39 88h2v1h-2zM43 88h1v1h-1zM53 88h1v1h-1zM57 88h1v1h-1zM81 88h1v1h-1zM132 88h1v1h-1zM139 88h1v1h-1zM35 89h1v1h-1zM59 89h2v1h-2zM72 89h1v2h-1zM76 89h1v1h-1zM79 89h1v1h-1zM83 89h1v2h-1zM97 89h1v1h-1zM99 89h1v1h-1zM101 89h1v1h-1zM105 89h1v1h-1zM108 89h1v1h-1zM116 89h1v1h-1zM17 90h1v1h-1zM31 90h1v1h-1zM40 90h1v1h-1zM43 90h1v1h-1zM77 90h1v1h-1zM98 90h3v1h-3zM104 90h1v1h-1zM135 90h1v1h-1zM141 90h1v1h-1zM46 91h1v1h-1zM53 91h1v1h-1zM82 91h1v1h-1zM110 91h1v2h-1zM122 91h1v1h-1zM132 91h1v1h-1zM136 91h1v1h-1zM30 92h1v1h-1zM52 92h2v1h-2zM57 92h2v1h-2zM64 92h1v1h-1zM77 92h1v1h-1zM85 92h1v1h-1zM101 92h2v1h-2zM104 92h1v2h-1zM122 92h2v1h-2zM143 92h1v1h-1zM46 93h1v2h-1zM79 93h1v1h-1zM86 93h1v1h-1zM127 93h1v1h-1zM41 94h1v1h-1zM50 94h1v1h-1zM52 94h1v1h-1zM65 94h1v1h-1zM76 94h1v1h-1zM125 94h1v1h-1zM142 94h1v1h-1zM169 94h1v1h-1zM27 95h1v1h-1zM54 95h1v2h-1zM26 96h2v1h-2zM41 96h1v1h-1zM50 96h1v1h-1zM65 96h1v1h-1zM68 96h1v1h-1zM102 96h2v1h-2zM114 96h1v1h-1zM125 96h1v1h-1zM137 96h1v1h-1zM169 96h1v1h-1zM25 97h1v1h-1zM89 97h1v1h-1zM102 97h3v1h-3zM138 97h1v1h-1zM29 98h1v1h-1zM46 98h1v1h-1zM50 98h1v1h-1zM79 98h1v1h-1zM90 98h1v1h-1zM104 98h1v1h-1zM114 98h1v1h-1zM116 98h1v1h-1zM137 98h1v2h-1zM28 99h2v1h-2zM41 99h1v1h-1zM67 99h1v1h-1zM89 99h2v1h-2zM175 99h1v1h-1zM50 100h1v1h-1zM90 100h1v1h-1zM105 100h1v1h-1zM113 100h1v1h-1zM115 100h1v1h-1zM118 100h1v1h-1zM126 100h1v1h-1zM139 100h2v1h-2zM39 101h1v1h-1zM48 101h1v3h-1zM55 101h1v1h-1zM89 101h1v1h-1zM92 101h1v2h-1zM109 101h1v1h-1zM129 101h1v1h-1zM139 101h1v1h-1zM166 101h1v1h-1zM174 101h1v1h-1zM200 101h1v1h-1zM27 102h1v1h-1zM30 102h1v1h-1zM37 102h1v1h-1zM57 102h1v1h-1zM60 102h1v2h-1zM71 102h2v2h-2zM81 102h1v1h-1zM96 102h2v2h-2zM170 102h1v1h-1zM5 103h1v1h-1zM28 103h1v1h-1zM32 103h1v1h-1zM62 103h1v1h-1zM69 103h1v1h-1zM83 103h2v1h-2zM121 103h1v1h-1zM139 103h1v1h-1zM152 103h1v1h-1zM169 103h1v1h-1zM50 104h1v1h-1zM61 104h1v1h-1zM63 104h1v1h-1zM65 104h1v1h-1zM86 104h1v1h-1zM90 104h1v1h-1zM92 104h2v1h-2zM97 104h2v1h-2zM117 104h1v1h-1zM123 104h1v1h-1zM137 104h1v1h-1zM144 104h1v1h-1zM177 104h1v1h-1zM30 105h1v1h-1zM33 105h1v1h-1zM35 105h1v1h-1zM37 105h1v1h-1zM69 105h1v1h-1zM75 105h1v1h-1zM87 105h1v1h-1zM89 105h1v1h-1zM100 105h1v1h-1zM134 105h1v1h-1zM157 105h1v1h-1zM175 105h4v1h-4zM40 106h1v1h-1zM56 106h1v1h-1zM62 106h1v1h-1zM65 106h1v2h-1zM124 106h1v2h-1zM126 106h1v1h-1zM136 106h1v1h-1zM152 106h1v1h-1zM177 106h2v1h-2zM180 106h1v1h-1zM207 106h1v1h-1zM31 107h1v1h-1zM35 107h1v1h-1zM58 107h1v1h-1zM77 107h1v1h-1zM87 107h1v1h-1zM115 107h1v1h-1zM175 107h1v1h-1zM178 107h1v1h-1zM181 107h1v1h-1zM55 108h1v1h-1zM64 108h1v1h-1zM89 108h1v1h-1zM114 108h1v1h-1zM117 108h1v1h-1zM125 108h1v2h-1zM150 108h1v1h-1zM101 109h1v1h-1zM154 109h1v1h-1zM181 109h1v1h-1zM40 110h1v1h-1zM58 110h1v2h-1zM67 110h1v1h-1zM72 110h1v1h-1zM91 110h2v1h-2zM180 110h1v1h-1zM185 110h1v1h-1zM66 111h1v1h-1zM125 111h1v1h-1zM139 111h2v1h-2zM175 111h1v1h-1zM180 111h2v1h-2zM186 111h1v1h-1zM44 112h1v1h-1zM80 112h1v1h-1zM124 112h1v1h-1zM139 112h1v1h-1zM178 112h1v1h-1zM66 113h1v2h-1zM70 113h1v1h-1zM100 113h1v1h-1zM118 113h1v1h-1zM125 113h2v1h-2zM150 113h3v1h-3zM71 114h1v1h-1zM76 114h1v1h-1zM96 114h1v1h-1zM98 114h1v1h-1zM108 114h1v1h-1zM122 114h1v1h-1zM129 114h1v2h-1zM142 114h1v1h-1zM155 114h2v1h-2zM160 114h1v1h-1zM41 115h2v1h-2zM64 115h1v1h-1zM78 115h1v1h-1zM83 115h2v1h-2zM100 115h1v1h-1zM107 115h1v1h-1zM152 115h1v1h-1zM89 116h1v1h-1zM98 116h1v1h-1zM120 116h1v1h-1zM135 116h1v1h-1zM143 116h1v1h-1zM169 116h1v1h-1zM65 117h1v1h-1zM78 117h2v1h-2zM104 117h1v1h-1zM108 117h1v1h-1zM148 117h1v1h-1zM155 117h1v1h-1zM158 117h1v1h-1zM173 117h1v1h-1zM72 118h2v1h-2zM75 118h1v1h-1zM77 118h1v1h-1zM100 118h1v1h-1zM113 118h1v1h-1zM161 118h1v1h-1zM70 119h1v1h-1zM73 119h1v1h-1zM163 119h1v1h-1zM69 120h2v1h-2zM74 120h1v1h-1zM116 120h1v1h-1zM125 120h1v1h-1zM76 121h1v1h-1zM103 121h1v1h-1zM126 121h2v1h-2zM161 121h4v1h-4zM52 122h1v1h-1zM54 122h1v1h-1zM67 122h1v1h-1zM80 122h1v1h-1zM91 122h2v1h-2zM114 122h1v1h-1zM129 122h1v1h-1zM165 122h1v1h-1zM195 122h1v2h-1zM79 123h1v1h-1zM92 123h1v1h-1zM104 123h1v1h-1zM140 123h1v1h-1zM171 123h1v1h-1zM173 123h2v1h-2zM199 123h1v1h-1zM27 124h1v1h-1zM31 124h1v1h-1zM52 124h1v1h-1zM71 124h1v2h-1zM81 124h1v3h-1zM106 124h2v1h-2zM112 124h1v1h-1zM131 124h1v1h-1zM135 124h1v3h-1zM154 124h1v1h-1zM159 124h2v1h-2zM162 124h1v1h-1zM169 124h1v1h-1zM197 124h1v1h-1zM202 124h1v1h-1zM204 124h1v1h-1zM57 125h1v1h-1zM69 125h1v1h-1zM94 125h1v1h-1zM96 125h1v1h-1zM108 125h2v1h-2zM111 125h1v1h-1zM113 125h1v2h-1zM120 125h1v1h-1zM138 125h1v1h-1zM159 125h1v1h-1zM168 125h1v1h-1zM172 125h1v1h-1zM176 125h1v1h-1zM181 125h1v1h-1zM198 125h1v1h-1zM206 125h1v1h-1zM100 126h1v1h-1zM106 126h1v1h-1zM121 126h1v2h-1zM137 126h1v1h-1zM152 126h1v1h-1zM173 126h1v1h-1zM205 126h1v1h-1zM31 127h1v1h-1zM53 127h1v1h-1zM60 127h2v1h-2zM83 127h1v2h-1zM93 127h1v1h-1zM134 127h1v1h-1zM138 127h1v1h-1zM140 127h2v1h-2zM146 127h1v1h-1zM169 127h2v1h-2zM172 127h1v1h-1zM185 127h1v1h-1zM201 127h1v1h-1zM206 127h1v1h-1zM55 128h2v1h-2zM58 128h1v1h-1zM60 128h1v2h-1zM63 128h1v1h-1zM86 128h1v1h-1zM136 128h1v1h-1zM139 128h1v1h-1zM145 128h1v1h-1zM161 128h1v1h-1zM208 128h1v2h-1zM57 129h1v1h-1zM78 129h1v1h-1zM101 129h1v1h-1zM114 129h2v1h-2zM122 129h1v1h-1zM160 129h1v1h-1zM185 129h1v1h-1zM64 130h1v1h-1zM147 130h1v1h-1zM173 130h1v1h-1zM183 130h1v1h-1zM206 130h1v1h-1zM79 131h1v1h-1zM82 131h2v1h-2zM124 131h1v1h-1zM149 131h2v1h-2zM160 131h1v1h-1zM175 131h1v1h-1zM205 131h1v1h-1zM211 131h1v2h-1zM88 132h1v1h-1zM91 132h1v1h-1zM176 132h1v1h-1zM204 132h1v1h-1zM206 132h1v1h-1zM80 133h1v1h-1zM84 133h1v1h-1zM87 133h1v2h-1zM139 133h1v1h-1zM142 133h1v1h-1zM149 133h1v1h-1zM83 134h1v1h-1zM85 134h1v1h-1zM105 134h1v1h-1zM127 134h1v1h-1zM138 134h1v1h-1zM177 134h1v1h-1zM181 134h5v1h-5zM81 135h1v1h-1zM90 135h1v1h-1zM116 135h1v1h-1zM124 135h3v1h-3zM141 135h1v1h-1zM175 135h1v1h-1zM187 135h1v1h-1zM205 135h1v1h-1zM87 136h1v1h-1zM91 136h1v1h-1zM106 136h1v1h-1zM128 136h1v1h-1zM143 136h1v1h-1zM149 136h1v1h-1zM152 136h2v1h-2zM164 136h1v1h-1zM180 136h2v1h-2zM183 136h1v1h-1zM69 137h1v1h-1zM96 137h1v1h-1zM98 137h2v1h-2zM104 137h1v1h-1zM126 137h1v1h-1zM174 137h1v1h-1zM190 137h1v1h-1zM97 138h1v1h-1zM125 138h1v1h-1zM127 138h1v1h-1zM134 138h1v1h-1zM147 138h1v1h-1zM156 138h2v1h-2zM165 138h1v1h-1zM191 138h1v1h-1zM73 139h1v1h-1zM88 139h1v1h-1zM100 139h2v1h-2zM103 139h1v1h-1zM111 139h2v1h-2zM128 139h1v1h-1zM133 139h1v1h-1zM152 139h1v1h-1zM173 139h1v1h-1zM178 139h1v1h-1zM193 139h1v1h-1zM71 140h1v1h-1zM100 140h1v1h-1zM111 140h1v1h-1zM123 140h1v1h-1zM127 140h1v2h-1zM148 140h1v1h-1zM185 140h1v1h-1zM188 140h1v1h-1zM190 140h1v1h-1zM90 141h1v1h-1zM135 141h1v1h-1zM171 141h1v1h-1zM196 141h1v1h-1zM199 141h4v1h-4zM220 141h1v1h-1zM94 142h1v1h-1zM114 142h1v1h-1zM133 142h1v1h-1zM148 142h2v1h-2zM151 142h1v1h-1zM159 142h1v1h-1zM174 142h1v1h-1zM194 142h1v1h-1zM197 142h1v1h-1zM92 143h1v1h-1zM116 143h1v1h-1zM136 143h1v1h-1zM150 143h1v1h-1zM159 143h2v1h-2zM177 143h1v1h-1zM192 143h1v1h-1zM196 143h1v1h-1zM198 143h2v1h-2zM74 144h1v1h-1zM104 144h1v1h-1zM151 144h1v1h-1zM190 144h2v1h-2zM73 145h1v1h-1zM75 145h2v1h-2zM128 145h1v1h-1zM177 145h1v1h-1zM191 145h1v2h-1zM204 145h2v1h-2zM127 146h1v1h-1zM161 146h1v1h-1zM202 146h1v1h-1zM74 147h2v1h-2zM78 147h1v1h-1zM130 147h1v1h-1zM138 147h1v1h-1zM152 147h1v1h-1zM155 147h1v1h-1zM160 147h1v1h-1zM203 147h1v3h-1zM207 147h1v1h-1zM75 148h1v1h-1zM79 148h1v2h-1zM117 148h1v1h-1zM140 148h1v1h-1zM142 148h1v2h-1zM161 148h1v1h-1zM178 148h1v1h-1zM180 148h1v1h-1zM197 148h1v1h-1zM206 148h1v1h-1zM58 149h1v1h-1zM77 149h1v1h-1zM131 149h1v2h-1zM133 149h1v1h-1zM136 149h1v1h-1zM158 149h1v1h-1zM179 149h1v1h-1zM185 149h3v1h-3zM197 149h2v1h-2zM207 149h1v1h-1zM79 150h2v1h-2zM108 150h1v1h-1zM113 150h1v3h-1zM143 150h1v1h-1zM163 150h1v1h-1zM167 150h2v1h-2zM180 150h1v1h-1zM185 150h1v1h-1zM187 150h1v1h-1zM195 150h1v1h-1zM198 150h2v1h-2zM211 150h1v1h-1zM59 151h1v1h-1zM142 151h1v1h-1zM144 151h1v1h-1zM194 151h1v1h-1zM197 151h1v1h-1zM217 151h1v1h-1zM231 151h1v1h-1zM56 152h1v1h-1zM79 152h2v1h-2zM103 152h1v1h-1zM106 152h1v1h-1zM115 152h1v1h-1zM126 152h1v1h-1zM136 152h1v2h-1zM139 152h1v1h-1zM147 152h1v1h-1zM160 152h1v1h-1zM163 152h1v1h-1zM169 152h1v1h-1zM173 152h2v1h-2zM210 152h1v1h-1zM81 153h1v2h-1zM202 153h1v1h-1zM109 154h1v1h-1zM124 154h1v1h-1zM204 154h1v1h-1zM212 154h1v1h-1zM81 155h2v1h-2zM85 155h1v1h-1zM114 155h1v2h-1zM117 155h1v1h-1zM147 155h1v1h-1zM173 155h1v1h-1zM138 156h1v2h-1zM172 156h1v1h-1zM174 156h1v1h-1zM209 156h1v1h-1zM214 156h1v2h-1zM105 157h1v1h-1zM188 157h2v1h-2zM117 158h1v1h-1zM149 158h1v1h-1zM189 158h1v1h-1zM124 159h2v1h-2zM142 159h2v1h-2zM169 159h1v1h-1zM172 159h1v1h-1zM114 160h1v1h-1zM124 160h1v1h-1zM129 160h1v1h-1zM131 160h1v1h-1zM143 160h1v1h-1zM147 160h1v1h-1zM152 160h1v1h-1zM174 160h2v1h-2zM179 160h1v1h-1zM208 160h1v1h-1zM219 160h1v1h-1zM118 161h1v1h-1zM121 161h1v4h-1zM128 161h1v1h-1zM146 161h1v1h-1zM148 161h1v1h-1zM173 161h1v1h-1zM178 161h2v1h-2zM200 161h1v1h-1zM204 161h1v2h-1zM206 161h1v1h-1zM214 161h1v1h-1zM124 162h1v1h-1zM170 162h1v1h-1zM181 162h1v1h-1zM192 162h1v1h-1zM194 162h1v1h-1zM212 162h1v1h-1zM219 162h1v1h-1zM119 163h1v1h-1zM150 163h1v1h-1zM152 163h1v1h-1zM180 163h1v1h-1zM182 163h1v1h-1zM198 163h1v2h-1zM211 163h1v1h-1zM215 163h1v1h-1zM221 163h1v1h-1zM136 164h1v1h-1zM179 164h1v1h-1zM209 164h1v1h-1zM217 164h1v1h-1zM122 165h1v1h-1zM138 165h1v1h-1zM171 165h1v2h-1zM188 165h1v1h-1zM198 165h2v1h-2zM219 165h1v1h-1zM101 166h1v1h-1zM190 166h1v1h-1zM196 166h1v1h-1zM150 167h1v2h-1zM178 167h1v1h-1zM187 167h1v1h-1zM202 167h1v1h-1zM223 167h1v1h-1zM125 168h1v1h-1zM172 168h1v1h-1zM189 168h1v1h-1zM192 168h1v1h-1zM94 169h1v1h-1zM96 169h1v1h-1zM103 169h1v1h-1zM116 169h1v1h-1zM124 169h1v1h-1zM127 169h1v2h-1zM152 169h1v1h-1zM159 169h1v1h-1zM176 169h1v1h-1zM186 169h1v1h-1zM220 169h1v1h-1zM226 169h2v1h-2zM229 169h1v1h-1zM102 170h1v1h-1zM162 170h1v1h-1zM177 170h1v1h-1zM189 170h1v1h-1zM192 170h1v1h-1zM203 170h1v1h-1zM222 170h1v1h-1zM228 170h1v1h-1zM123 171h1v1h-1zM141 171h1v1h-1zM165 171h2v1h-2zM125 172h1v1h-1zM127 172h1v1h-1zM156 172h1v1h-1zM159 172h1v1h-1zM168 172h1v1h-1zM176 172h1v1h-1zM117 173h1v1h-1zM123 173h1v2h-1zM126 173h1v1h-1zM130 173h1v1h-1zM139 173h1v1h-1zM152 173h1v2h-1zM155 173h1v1h-1zM161 173h1v1h-1zM193 173h1v1h-1zM203 173h1v1h-1zM207 173h1v1h-1zM101 174h1v1h-1zM137 174h1v1h-1zM142 174h1v1h-1zM156 174h1v1h-1zM160 174h1v2h-1zM178 174h2v1h-2zM181 174h1v1h-1zM185 174h1v1h-1zM208 174h1v1h-1zM231 174h1v1h-1zM99 175h1v1h-1zM105 175h1v2h-1zM107 175h1v1h-1zM111 175h1v1h-1zM131 175h1v1h-1zM135 175h1v1h-1zM183 175h1v1h-1zM190 175h1v1h-1zM193 175h1v1h-1zM229 175h1v1h-1zM125 176h1v1h-1zM132 176h1v1h-1zM169 176h1v1h-1zM172 176h1v1h-1zM184 176h1v1h-1zM187 176h1v1h-1zM199 176h1v1h-1zM104 177h3v1h-3zM134 177h1v1h-1zM143 177h1v1h-1zM145 177h1v1h-1zM170 177h1v1h-1zM195 177h1v1h-1zM198 177h1v1h-1zM217 177h1v1h-1zM105 178h3v1h-3zM112 178h1v1h-1zM139 178h1v1h-1zM148 178h1v1h-1zM161 178h1v1h-1zM167 178h1v1h-1zM174 178h1v2h-1zM186 178h2v1h-2zM149 179h1v1h-1zM160 179h2v1h-2zM164 179h1v1h-1zM187 179h1v1h-1zM106 180h1v1h-1zM110 180h2v1h-2zM136 180h1v2h-1zM148 180h1v1h-1zM150 180h1v1h-1zM163 180h1v1h-1zM107 181h1v1h-1zM109 181h1v1h-1zM111 181h1v1h-1zM125 181h1v1h-1zM134 181h1v5h-1zM162 181h1v1h-1zM174 181h1v1h-1zM216 181h1v1h-1zM163 182h1v1h-1zM188 182h1v1h-1zM215 182h1v1h-1zM130 183h1v1h-1zM136 183h1v1h-1zM175 183h1v1h-1zM209 183h1v2h-1zM216 183h2v1h-2zM176 184h1v1h-1zM191 184h1v1h-1zM110 185h1v1h-1zM127 185h1v1h-1zM129 185h1v1h-1zM140 185h1v1h-1zM149 185h2v1h-2zM174 185h1v1h-1zM218 185h1v1h-1zM111 186h1v1h-1zM149 186h1v1h-1zM169 186h1v1h-1zM178 186h1v1h-1zM135 187h1v1h-1zM149 187h2v1h-2zM167 187h1v1h-1zM176 187h1v1h-1zM178 187h2v1h-2zM197 187h1v1h-1zM208 187h1v1h-1zM140 188h1v1h-1zM157 188h1v1h-1zM165 188h1v1h-1zM182 188h1v1h-1zM213 188h1v1h-1zM157 189h2v1h-2zM168 189h1v1h-1zM170 189h1v1h-1zM200 189h1v1h-1zM211 189h1v1h-1zM215 189h1v1h-1zM220 189h1v1h-1zM137 190h1v1h-1zM140 190h1v1h-1zM144 190h1v1h-1zM166 190h1v1h-1zM175 190h1v1h-1zM198 190h1v1h-1zM200 190h3v1h-3zM204 190h2v1h-2zM216 190h1v1h-1zM223 190h1v1h-1zM138 191h1v1h-1zM144 191h3v1h-3zM184 191h1v1h-1zM204 191h1v1h-1zM215 191h1v1h-1zM224 191h1v1h-1zM143 192h1v1h-1zM162 192h1v1h-1zM168 192h1v1h-1zM170 192h1v1h-1zM139 193h1v1h-1zM173 193h1v1h-1zM175 193h1v1h-1zM202 193h1v1h-1zM142 194h1v1h-1zM151 194h1v1h-1zM162 194h1v1h-1zM217 194h1v1h-1zM220 194h1v1h-1zM225 194h1v1h-1zM227 194h2v1h-2zM122 195h2v1h-2zM150 195h1v1h-1zM177 195h1v1h-1zM206 195h1v1h-1zM215 195h1v1h-1zM218 195h1v1h-1zM229 195h1v1h-1zM141 196h1v1h-1zM143 196h1v1h-1zM166 196h1v1h-1zM202 196h1v1h-1zM205 196h1v1h-1zM221 196h2v1h-2zM124 197h1v1h-1zM142 197h1v1h-1zM148 197h2v1h-2zM151 197h1v1h-1zM187 197h1v1h-1zM219 197h1v1h-1zM229 197h1v2h-1zM125 198h1v1h-1zM143 198h1v2h-1zM149 198h2v1h-2zM163 198h3v1h-3zM177 198h1v1h-1zM190 198h1v1h-1zM206 198h1v1h-1zM217 198h1v1h-1zM227 198h1v1h-1zM123 199h1v1h-1zM141 199h1v4h-1zM150 199h1v1h-1zM165 199h1v1h-1zM176 199h1v1h-1zM222 199h1v1h-1zM231 199h1v1h-1zM101 200h1v1h-1zM161 200h1v1h-1zM189 200h2v1h-2zM208 200h1v2h-1zM211 200h1v1h-1zM221 200h1v1h-1zM224 200h1v1h-1zM226 200h1v1h-1zM127 201h1v1h-1zM190 201h1v2h-1zM210 201h1v1h-1zM223 201h2v1h-2zM227 201h1v1h-1zM124 202h1v1h-1zM146 202h1v1h-1zM153 202h1v1h-1zM167 202h1v1h-1zM193 202h1v1h-1zM196 202h1v1h-1zM213 202h1v1h-1zM217 202h1v1h-1zM147 203h3v1h-3zM170 203h1v1h-1zM173 203h1v1h-1zM230 203h1v1h-1zM124 204h1v1h-1zM132 204h1v1h-1zM145 204h1v2h-1zM154 204h1v1h-1zM161 204h2v1h-2zM190 204h2v1h-2zM209 204h1v1h-1zM223 204h1v1h-1zM126 205h1v1h-1zM131 205h1v1h-1zM135 205h1v1h-1zM190 205h1v1h-1zM196 205h1v1h-1zM125 206h1v1h-1zM127 206h1v1h-1zM130 206h1v1h-1zM132 206h1v1h-1zM148 206h1v1h-1zM161 206h1v1h-1zM195 206h1v1h-1zM198 206h1v1h-1zM216 206h1v1h-1zM229 206h2v1h-2zM106 207h1v1h-1zM147 207h1v1h-1zM149 207h1v1h-1zM173 207h1v1h-1zM128 208h2v1h-2zM160 208h1v1h-1zM174 208h1v1h-1zM187 208h1v1h-1zM200 208h2v1h-2zM156 209h1v1h-1zM164 209h1v1h-1zM183 209h2v1h-2zM204 209h1v1h-1zM152 210h1v1h-1zM201 210h1v1h-1zM131 211h2v1h-2zM150 211h1v1h-1zM163 211h1v1h-1zM189 211h1v1h-1zM200 211h1v1h-1zM219 211h1v1h-1zM154 212h1v1h-1zM162 212h1v1h-1zM188 213h1v1h-1zM202 213h1v1h-1zM156 214h2v1h-2zM161 214h1v1h-1zM163 215h1v1h-1zM182 215h1v1h-1zM189 215h1v1h-1zM191 215h1v1h-1zM195 215h1v1h-1zM219 215h1v1h-1zM181 216h1v1h-1zM183 216h1v2h-1zM190 216h1v1h-1zM206 216h1v1h-1zM221 216h1v1h-1zM151 217h1v1h-1zM164 217h1v1h-1zM177 217h1v1h-1zM194 217h1v1h-1zM198 217h1v1h-1zM202 217h1v1h-1zM185 218h1v1h-1zM195 218h1v1h-1zM160 219h1v1h-1zM162 219h1v1h-1zM165 219h1v1h-1zM197 219h1v1h-1zM211 219h1v1h-1zM215 219h1v1h-1zM222 219h1v1h-1zM141 220h1v1h-1zM169 220h1v1h-1zM189 220h1v1h-1zM194 220h1v1h-1zM223 220h2v1h-2zM163 221h1v1h-1zM196 221h1v2h-1zM200 221h1v1h-1zM216 221h1v1h-1zM170 222h1v1h-1zM199 222h1v1h-1zM219 222h1v1h-1zM167 223h1v1h-1zM190 223h1v1h-1zM201 223h1v1h-1zM204 223h1v1h-1zM220 223h1v2h-1zM227 223h1v1h-1zM191 224h1v1h-1zM200 224h2v1h-2zM194 225h1v1h-1zM169 226h1v2h-1zM200 226h1v1h-1zM194 227h1v2h-1zM198 227h1v1h-1zM201 227h1v1h-1zM223 227h1v1h-1zM170 228h1v1h-1zM169 229h1v1h-1zM175 229h1v1h-1zM195 229h1v1h-1zM197 229h2v1h-2zM206 229h1v2h-1zM203 230h1v1h-1zM235 230h1v1h-1zM151 231h1v1h-1zM174 231h1v1h-1zM199 231h1v1h-1zM230 235h1v1h-1zM249 244h1v1h-1zM252 247h1v1h-1zM253 248h1v1h-1zM244 249h1v1h-1zM255 250h1v1h-1zM256 251h1v1h-1zM247 252h1v1h-1zM248 253h1v1h-1zM250 255h1v1h-1zM251 256h1v1h-1zM272 267h1v1h-1zM273 268h1v1h-1zM276 271h1v1h-1zM267 272h1v1h-1zM281 272h1v1h-1zM268 273h1v1h-1zM281 273h2v1h-2zM283 274h1v1h-1zM284 275h1v1h-1zM271 276h1v1h-1zM285 276h1v1h-1zM286 277h1v1h-1zM287 278h1v1h-1zM288 279h1v1h-1zM289 280h1v1h-1zM272 281h2v1h-2zM290 281h1v1h-1zM273 282h1v1h-1zM291 282h1v1h-1zM274 283h1v1h-1zM292 283h1v1h-1zM275 284h1v1h-1zM293 284h1v1h-1zM276 285h1v1h-1zM294 285h1v1h-1zM277 286h1v1h-1zM295 286h1v1h-1zM278 287h1v1h-1zM296 287h1v1h-1zM279 288h1v1h-1zM297 288h1v1h-1zM280 289h1v1h-1zM298 289h1v1h-1zM281 290h1v1h-1zM299 290h1v1h-1zM282 291h1v1h-1zM300 291h1v1h-1zM283 292h1v1h-1zM301 292h1v1h-1zM284 293h1v1h-1zM302 293h1v1h-1zM285 294h1v1h-1zM303 294h1v1h-1zM286 295h1v1h-1zM304 295h1v1h-1zM287 296h1v1h-1zM305 296h1v1h-1zM288 297h1v1h-1zM306 297h1v1h-1zM289 298h1v1h-1zM307 298h1v1h-1zM290 299h1v1h-1zM308 299h1v1h-1zM291 300h1v1h-1zM309 300h1v1h-1zM292 301h1v1h-1zM310 301h1v1h-1zM293 302h1v1h-1zM311 302h1v1h-1zM294 303h1v1h-1zM312 303h1v1h-1zM295 304h1v1h-1zM313 304h1v1h-1zM296 305h1v1h-1zM297 306h1v1h-1zM298 307h1v1h-1zM299 308h1v1h-1zM300 309h1v1h-1zM301 310h1v1h-1zM302 311h1v1h-1zM303 312h1v1h-1zM304 313h1v1h-1zM320 315h1v1h-1zM324 319h1v1h-1zM315 320h1v1h-1zM319 324h1v1h-1zM333 328h1v1h-1zM328 333h1v1h-1zM341 336h1v1h-1zM336 341h1v1h-1zM347 342h1v1h-1zM351 344h1v1h-1zM351 346h1v1h-1zM342 347h1v1h-1zM353 348h1v1h-1zM344 351h1v1h-1zM346 351h1v1h-1zM348 353h1v1h-1zM386 379h2v1h-2zM390 382h1v1h-1zM392 384h1v1h-1zM379 386h1v2h-1zM394 387h2v1h-2zM397 389h1v1h-1zM382 390h1v1h-1zM384 392h1v1h-1zM387 394h1v2h-1zM400 394h2v1h-2zM389 397h1v1h-1zM402 397h1v1h-1zM404 399h1v1h-1zM394 400h1v2h-1zM397 402h1v1h-1zM407 402h1v1h-1zM399 404h1v1h-1zM402 407h1v1h-1zM414 409h1v1h-1zM409 414h1v1h-1zM419 414h1v1h-1zM420 415h1v1h-1zM414 419h1v1h-1zM415 420h1v1h-1zM433 428h1v1h-1zM434 429h1v1h-1zM437 432h1v1h-1zM428 433h1v1h-1zM429 434h1v1h-1zM440 435h1v1h-1zM432 437h1v1h-1zM435 440h1v1h-1zM451 445h1v1h-1zM453 447h1v1h-1zM445 451h1v1h-1zM447 453h1v1h-1zM459 454h1v1h-1zM466 458h1v1h-1zM454 459h1v1h-1zM468 460h1v1h-1zM469 461h1v1h-1zM472 465h1v1h-1zM458 466h1v1h-1zM460 468h1v1h-1zM476 468h1v1h-1zM461 469h1v1h-1zM476 469h2v1h-2zM465 472h1v1h-1zM482 474h1v1h-1zM468 476h2v1h-2zM469 477h1v1h-1zM489 480h1v1h-1zM490 481h1v1h-1zM474 482h1v1h-1zM491 482h1v1h-1zM492 483h1v1h-1zM493 484h1v1h-1zM494 485h1v1h-1zM495 486h1v1h-1zM496 487h1v1h-1zM497 488h1v1h-1zM480 489h1v1h-1zM481 490h1v1h-1zM482 491h1v1h-1zM483 492h1v1h-1zM484 493h1v1h-1zM485 494h1v1h-1zM486 495h1v1h-1zM487 496h1v1h-1zM488 497h1v1h-1z"/>
<path fill="#6092aa" d="M32 0h1v1h-1zM53 0h1v1h-1zM7 1h1v1h-1zM42 1h1v1h-1zM74 1h1v1h-1zM43 2h1v1h-1zM45 2h3v1h-3zM50 2h1v1h-1zM44 3h1v1h-1zM57 3h1v1h-1zM74 3h1v1h-1zM76 3h1v1h-1zM23 4h1v1h-1zM34 4h1v1h-1zM49 4h1v1h-1zM77 4h1v1h-1zM46 5h1v1h-1zM48 5h1v1h-1zM62 5h1v1h-1zM102 5h1v1h-1zM104 5h1v1h-1zM14 6h1v1h-1zM17 6h1v1h-1zM22 6h1v1h-1zM26 6h1v1h-1zM45 6h1v1h-1zM1 7h1v1h-1zM18 7h1v1h-1zM20 7h1v1h-1zM51 7h1v1h-1zM62 7h2v1h-2zM80 7h1v1h-1zM127 7h1v1h-1zM19 8h1v1h-1zM56 8h1v1h-1zM65 8h1v1h-1zM79 8h1v1h-1zM103 8h1v1h-1zM42 9h1v1h-1zM80 9h1v2h-1zM41 10h1v1h-1zM54 10h2v1h-2zM19 11h1v1h-1zM27 11h3v1h-3zM64 11h1v1h-1zM66 11h1v1h-1zM79 11h1v1h-1zM85 11h1v1h-1zM29 12h1v3h-1zM77 12h1v1h-1zM18 13h1v1h-1zM55 13h1v1h-1zM6 14h1v1h-1zM20 14h1v1h-1zM43 14h1v2h-1zM58 14h1v1h-1zM21 15h1v1h-1zM30 15h1v1h-1zM67 15h1v1h-1zM28 16h2v1h-2zM54 16h2v1h-2zM66 16h1v1h-1zM6 17h1v1h-1zM53 17h1v1h-1zM60 17h1v1h-1zM71 17h1v1h-1zM89 17h1v1h-1zM7 18h1v1h-1zM13 18h1v1h-1zM28 18h2v1h-2zM35 18h1v1h-1zM47 18h1v1h-1zM56 18h1v1h-1zM63 18h1v1h-1zM8 19h1v1h-1zM11 19h1v1h-1zM30 19h1v1h-1zM49 19h1v1h-1zM75 19h1v1h-1zM7 20h1v1h-1zM14 20h1v1h-1zM32 20h1v1h-1zM35 20h1v1h-1zM37 20h1v1h-1zM53 20h1v1h-1zM61 20h1v1h-1zM64 20h1v1h-1zM66 20h1v1h-1zM68 20h1v2h-1zM72 20h2v1h-2zM15 21h1v1h-1zM31 21h1v1h-1zM40 21h1v1h-1zM55 21h1v2h-1zM6 22h1v1h-1zM65 22h1v1h-1zM75 22h1v1h-1zM4 23h1v1h-1zM53 23h1v1h-1zM74 23h1v1h-1zM98 23h1v1h-1zM30 24h2v1h-2zM34 24h1v1h-1zM41 24h2v1h-2zM54 24h1v1h-1zM102 24h1v1h-1zM78 25h1v1h-1zM80 25h1v2h-1zM93 25h1v1h-1zM95 25h1v1h-1zM99 25h1v1h-1zM6 26h1v1h-1zM39 26h1v1h-1zM41 26h2v1h-2zM71 26h1v1h-1zM94 26h1v2h-1zM11 27h1v2h-1zM64 27h1v1h-1zM68 27h1v1h-1zM84 27h1v1h-1zM125 27h1v2h-1zM16 28h1v2h-1zM18 28h1v2h-1zM36 28h2v1h-2zM46 28h2v2h-2zM58 28h1v1h-1zM72 28h1v2h-1zM74 28h1v1h-1zM80 28h1v1h-1zM97 28h1v1h-1zM101 28h1v1h-1zM11 29h4v1h-4zM40 29h1v1h-1zM63 29h2v1h-2zM102 29h1v1h-1zM105 29h1v1h-1zM126 29h1v1h-1zM15 30h1v1h-1zM19 30h1v1h-1zM24 30h1v2h-1zM38 30h1v2h-1zM61 30h1v1h-1zM123 30h1v1h-1zM125 30h1v1h-1zM21 31h1v1h-1zM44 31h1v1h-1zM47 31h1v1h-1zM67 31h1v1h-1zM71 31h1v1h-1zM74 31h1v1h-1zM88 31h1v1h-1zM101 31h2v1h-2zM106 31h1v1h-1zM108 31h1v2h-1zM128 31h1v1h-1zM0 32h1v1h-1zM20 32h1v1h-1zM45 32h1v1h-1zM72 32h1v2h-1zM83 32h1v2h-1zM86 32h1v1h-1zM104 33h1v2h-1zM4 34h1v1h-1zM24 34h1v1h-1zM44 34h1v1h-1zM51 34h1v1h-1zM77 34h1v1h-1zM106 34h1v2h-1zM108 34h2v1h-2zM18 35h1v1h-1zM20 35h1v1h-1zM45 35h1v1h-1zM66 35h1v1h-1zM87 35h1v1h-1zM91 35h1v1h-1zM103 35h1v1h-1zM111 35h2v1h-2zM28 36h1v2h-1zM52 36h1v1h-1zM69 36h1v1h-1zM74 36h1v1h-1zM90 36h1v2h-1zM105 36h1v1h-1zM109 36h1v2h-1zM114 36h1v1h-1zM20 37h1v1h-1zM45 37h1v1h-1zM78 37h1v1h-1zM87 37h1v1h-1zM30 38h2v1h-2zM54 38h1v1h-1zM66 38h1v1h-1zM69 38h1v1h-1zM84 38h1v1h-1zM26 39h1v1h-1zM45 39h1v1h-1zM47 39h1v1h-1zM53 39h2v1h-2zM68 39h1v1h-1zM70 39h1v1h-1zM80 39h1v1h-1zM91 39h1v1h-1zM21 40h1v1h-1zM29 40h1v1h-1zM43 40h1v1h-1zM49 40h1v1h-1zM58 40h1v1h-1zM71 40h1v1h-1zM77 40h1v2h-1zM79 40h1v2h-1zM81 40h1v1h-1zM92 40h2v1h-2zM113 40h1v2h-1zM10 41h1v1h-1zM24 41h1v2h-1zM26 41h1v2h-1zM48 41h1v1h-1zM83 41h2v1h-2zM111 41h1v1h-1zM1 42h1v1h-1zM9 42h1v1h-1zM54 42h1v1h-1zM57 42h2v1h-2zM78 42h1v1h-1zM80 42h1v1h-1zM84 42h2v1h-2zM102 42h1v1h-1zM112 42h2v1h-2zM2 43h1v1h-1zM14 43h2v1h-2zM40 43h1v1h-1zM53 43h1v1h-1zM77 43h1v1h-1zM85 43h1v1h-1zM115 43h1v1h-1zM3 44h1v1h-1zM31 44h1v1h-1zM34 44h1v1h-1zM52 44h1v1h-1zM57 44h1v2h-1zM95 44h1v1h-1zM113 44h1v2h-1zM2 45h1v3h-1zM6 45h1v1h-1zM32 45h1v1h-1zM35 45h1v1h-1zM37 45h1v1h-1zM39 45h1v1h-1zM88 45h1v1h-1zM5 46h1v1h-1zM28 46h2v2h-2zM65 46h1v1h-1zM99 46h1v1h-1zM18 47h1v1h-1zM31 47h1v1h-1zM39 47h1v1h-1zM55 47h1v2h-1zM64 47h1v1h-1zM77 47h1v1h-1zM5 48h1v1h-1zM41 48h1v1h-1zM65 48h1v1h-1zM91 48h1v1h-1zM100 48h1v2h-1zM117 48h2v1h-2zM4 49h1v1h-1zM19 49h1v1h-1zM40 49h1v1h-1zM57 49h1v1h-1zM68 49h1v1h-1zM147 49h1v1h-1zM2 50h1v1h-1zM7 51h1v1h-1zM34 51h1v1h-1zM56 51h1v1h-1zM65 51h1v1h-1zM80 51h1v1h-1zM90 51h1v1h-1zM115 51h1v1h-1zM117 51h1v1h-1zM122 51h1v1h-1zM147 51h1v1h-1zM36 52h1v1h-1zM44 52h1v1h-1zM86 52h1v1h-1zM123 52h1v2h-1zM127 52h1v1h-1zM150 52h1v1h-1zM0 53h1v1h-1zM17 53h1v1h-1zM20 53h1v1h-1zM23 53h1v1h-1zM39 53h1v1h-1zM43 53h1v1h-1zM71 53h1v1h-1zM82 53h1v1h-1zM128 53h1v1h-1zM149 53h1v1h-1zM10 54h1v2h-1zM16 54h1v2h-1zM24 54h1v1h-1zM38 54h2v1h-2zM42 54h1v1h-1zM66 54h1v1h-1zM84 54h1v1h-1zM89 54h1v1h-1zM92 54h1v1h-1zM117 54h1v2h-1zM147 54h1v1h-1zM149 54h3v1h-3zM13 55h1v1h-1zM21 55h2v1h-2zM47 55h2v1h-2zM67 55h1v1h-1zM83 55h1v1h-1zM88 55h2v1h-2zM93 55h1v1h-1zM106 55h1v1h-1zM109 55h2v1h-2zM123 55h1v1h-1zM126 55h1v1h-1zM8 56h1v1h-1zM18 56h1v1h-1zM51 56h1v1h-1zM64 56h2v1h-2zM76 56h1v1h-1zM85 56h1v1h-1zM3 57h1v1h-1zM42 57h1v2h-1zM44 57h2v1h-2zM49 57h1v1h-1zM66 57h1v1h-1zM89 57h2v1h-2zM99 57h1v1h-1zM113 57h1v2h-1zM126 57h1v1h-1zM130 57h1v1h-1zM132 57h1v1h-1zM14 58h1v1h-1zM28 58h1v1h-1zM40 58h1v1h-1zM73 58h1v1h-1zM102 58h1v1h-1zM127 58h1v1h-1zM129 58h1v1h-1zM69 59h1v1h-1zM76 59h1v1h-1zM88 59h1v1h-1zM112 59h1v2h-1zM131 59h1v2h-1zM17 60h1v1h-1zM90 60h1v1h-1zM151 60h1v1h-1zM155 60h1v1h-1zM20 61h1v1h-1zM30 61h1v1h-1zM76 61h2v1h-2zM103 61h1v1h-1zM128 61h1v1h-1zM5 62h1v1h-1zM7 62h1v2h-1zM77 62h1v1h-1zM79 62h1v1h-1zM91 62h2v1h-2zM134 62h1v1h-1zM18 63h1v1h-1zM29 63h1v2h-1zM102 63h1v1h-1zM114 63h1v2h-1zM129 63h2v1h-2zM132 63h1v1h-1zM11 64h1v1h-1zM20 64h1v1h-1zM27 64h1v1h-1zM47 64h1v1h-1zM56 64h1v2h-1zM71 64h1v1h-1zM8 65h1v1h-1zM22 65h1v1h-1zM46 65h1v1h-1zM48 65h1v1h-1zM51 65h1v1h-1zM76 65h1v1h-1zM101 65h1v1h-1zM103 65h1v1h-1zM108 65h1v1h-1zM137 65h1v1h-1zM11 66h1v1h-1zM16 66h1v1h-1zM20 66h1v1h-1zM35 66h1v1h-1zM38 66h1v1h-1zM54 66h1v1h-1zM57 66h1v1h-1zM71 66h1v1h-1zM15 67h1v1h-1zM31 67h1v1h-1zM55 67h1v1h-1zM82 67h1v1h-1zM84 67h1v1h-1zM95 67h1v1h-1zM105 67h1v1h-1zM125 67h1v1h-1zM133 67h1v1h-1zM20 68h2v1h-2zM27 68h1v1h-1zM39 68h1v1h-1zM49 68h1v1h-1zM77 68h1v1h-1zM79 68h1v1h-1zM87 68h1v1h-1zM98 68h1v1h-1zM112 68h1v1h-1zM36 69h1v1h-1zM38 69h1v1h-1zM59 69h1v1h-1zM81 69h1v1h-1zM109 69h2v1h-2zM123 69h1v1h-1zM140 69h1v1h-1zM39 70h1v1h-1zM85 70h1v1h-1zM105 70h1v1h-1zM126 70h1v1h-1zM139 70h1v1h-1zM17 71h1v1h-1zM26 71h1v1h-1zM31 71h1v1h-1zM40 71h1v1h-1zM53 71h1v1h-1zM64 71h1v1h-1zM66 71h1v1h-1zM78 71h1v1h-1zM143 71h1v1h-1zM145 71h1v1h-1zM20 72h1v2h-1zM28 72h2v1h-2zM32 72h2v1h-2zM113 72h1v1h-1zM116 72h1v1h-1zM128 72h1v1h-1zM58 73h1v1h-1zM141 73h2v1h-2zM147 73h2v1h-2zM1 74h1v1h-1zM3 74h1v1h-1zM23 74h1v1h-1zM28 74h1v1h-1zM31 74h1v1h-1zM36 74h1v1h-1zM89 74h1v1h-1zM103 74h2v1h-2zM118 74h2v1h-2zM143 74h1v2h-1zM145 74h1v1h-1zM173 74h1v1h-1zM19 75h1v1h-1zM22 75h1v1h-1zM88 75h3v1h-3zM119 75h1v1h-1zM128 75h1v2h-1zM3 76h1v1h-1zM56 76h1v1h-1zM59 76h1v1h-1zM61 76h1v1h-1zM65 76h1v1h-1zM81 76h1v1h-1zM88 76h1v1h-1zM90 76h1v1h-1zM109 76h1v1h-1zM132 76h1v1h-1zM140 76h1v2h-1zM149 76h1v1h-1zM4 77h1v1h-1zM12 77h1v1h-1zM34 77h1v1h-1zM40 77h2v1h-2zM43 77h1v1h-1zM47 77h1v1h-1zM61 77h2v1h-2zM68 77h1v1h-1zM83 77h2v1h-2zM94 77h1v2h-1zM111 77h1v1h-1zM120 77h1v1h-1zM130 77h1v1h-1zM136 77h1v1h-1zM146 77h1v1h-1zM169 77h1v1h-1zM25 78h1v1h-1zM37 78h1v1h-1zM42 78h1v1h-1zM71 78h1v1h-1zM83 78h1v1h-1zM90 78h2v1h-2zM97 78h1v1h-1zM109 78h2v1h-2zM121 78h1v1h-1zM123 78h1v1h-1zM8 79h1v1h-1zM11 79h1v1h-1zM40 79h2v1h-2zM62 79h1v1h-1zM68 79h1v1h-1zM87 79h1v1h-1zM114 79h1v2h-1zM118 79h1v1h-1zM147 79h1v1h-1zM155 79h1v1h-1zM7 80h1v1h-1zM9 80h2v1h-2zM25 80h2v1h-2zM28 80h1v1h-1zM39 80h1v1h-1zM42 80h1v1h-1zM51 80h1v1h-1zM89 80h1v1h-1zM92 80h1v1h-1zM99 80h1v1h-1zM126 80h1v1h-1zM131 80h1v1h-1zM149 80h1v1h-1zM40 81h1v1h-1zM69 81h1v1h-1zM76 81h1v1h-1zM92 81h2v1h-2zM98 81h2v1h-2zM134 81h1v1h-1zM137 81h1v1h-1zM156 81h1v1h-1zM53 82h1v1h-1zM67 82h1v1h-1zM133 82h1v1h-1zM152 82h1v1h-1zM32 83h2v1h-2zM41 83h1v1h-1zM55 83h1v1h-1zM77 83h2v1h-2zM135 83h1v1h-1zM150 83h1v1h-1zM27 84h1v1h-1zM38 84h1v1h-1zM41 84h2v1h-2zM54 84h1v1h-1zM67 84h1v1h-1zM77 84h1v1h-1zM127 84h1v1h-1zM136 84h1v1h-1zM11 85h1v1h-1zM42 85h2v1h-2zM56 85h1v1h-1zM70 85h1v1h-1zM88 85h1v1h-1zM138 85h2v1h-2zM159 85h1v1h-1zM32 86h1v1h-1zM52 86h1v1h-1zM92 86h1v1h-1zM97 86h1v1h-1zM103 86h1v1h-1zM126 86h1v1h-1zM155 86h1v2h-1zM35 87h1v1h-1zM37 87h1v1h-1zM68 87h1v1h-1zM79 87h1v1h-1zM117 87h1v1h-1zM130 87h2v1h-2zM31 88h1v1h-1zM45 88h1v1h-1zM55 88h1v1h-1zM59 88h1v1h-1zM75 88h2v1h-2zM85 88h1v1h-1zM101 88h1v1h-1zM106 88h1v2h-1zM114 88h1v1h-1zM116 88h1v1h-1zM128 88h1v1h-1zM131 88h1v1h-1zM151 88h1v2h-1zM159 88h1v1h-1zM17 89h1v1h-1zM54 89h2v1h-2zM57 89h1v2h-1zM74 89h2v1h-2zM80 89h1v1h-1zM98 89h1v1h-1zM127 89h1v2h-1zM132 89h3v1h-3zM141 89h1v1h-1zM36 90h2v1h-2zM51 90h1v1h-1zM60 90h1v1h-1zM75 90h2v1h-2zM78 90h1v2h-1zM109 90h1v2h-1zM132 90h1v1h-1zM136 90h1v1h-1zM143 90h1v1h-1zM35 91h1v1h-1zM39 91h1v1h-1zM48 91h1v1h-1zM62 91h1v2h-1zM104 91h1v1h-1zM107 91h1v1h-1zM120 91h1v1h-1zM128 91h1v1h-1zM135 91h1v1h-1zM145 91h1v1h-1zM40 92h1v2h-1zM54 92h1v1h-1zM80 92h2v1h-2zM86 92h1v1h-1zM108 92h1v1h-1zM142 92h1v1h-1zM25 93h1v1h-1zM55 93h1v1h-1zM81 93h1v1h-1zM123 93h1v1h-1zM146 93h1v2h-1zM163 93h1v1h-1zM26 94h2v1h-2zM77 94h2v1h-2zM150 94h1v1h-1zM25 95h1v1h-1zM44 95h1v1h-1zM67 95h1v1h-1zM102 95h1v1h-1zM114 95h1v1h-1zM125 95h1v1h-1zM137 95h2v1h-2zM127 96h1v2h-1zM148 96h1v1h-1zM28 97h1v1h-1zM78 97h1v1h-1zM86 97h1v1h-1zM105 97h1v1h-1zM151 97h1v1h-1zM163 97h1v1h-1zM170 97h2v1h-2zM23 98h1v1h-1zM68 98h1v1h-1zM81 98h1v1h-1zM89 98h1v1h-1zM113 98h1v1h-1zM25 99h1v1h-1zM46 99h1v1h-1zM57 99h1v1h-1zM80 99h2v1h-2zM109 99h2v1h-2zM170 99h3v1h-3zM198 99h1v1h-1zM48 100h2v1h-2zM142 100h1v1h-1zM149 100h1v1h-1zM167 100h1v1h-1zM28 101h1v1h-1zM31 101h1v2h-1zM65 101h1v1h-1zM88 101h1v1h-1zM111 101h1v1h-1zM122 101h1v1h-1zM132 101h1v1h-1zM137 101h1v1h-1zM140 101h1v1h-1zM142 101h2v1h-2zM5 102h1v1h-1zM24 102h1v1h-1zM29 102h1v1h-1zM42 102h1v1h-1zM58 102h1v1h-1zM63 102h1v1h-1zM95 102h1v1h-1zM134 102h1v1h-1zM138 102h2v1h-2zM177 102h1v1h-1zM200 102h1v1h-1zM8 103h1v1h-1zM35 103h1v1h-1zM61 103h1v1h-1zM65 103h1v1h-1zM74 103h1v2h-1zM86 103h1v1h-1zM114 103h1v1h-1zM131 103h1v1h-1zM136 103h1v1h-1zM141 103h1v1h-1zM173 103h1v1h-1zM5 104h1v1h-1zM33 104h2v1h-2zM91 104h1v1h-1zM134 104h1v1h-1zM156 104h2v1h-2zM176 104h1v1h-1zM204 104h1v2h-1zM29 105h1v1h-1zM36 105h1v1h-1zM67 105h1v1h-1zM70 105h1v1h-1zM97 105h1v1h-1zM136 105h1v1h-1zM146 105h1v1h-1zM159 105h1v1h-1zM174 105h1v1h-1zM180 105h2v1h-2zM183 105h1v1h-1zM31 106h1v1h-1zM34 106h2v1h-2zM55 106h1v1h-1zM88 106h2v1h-2zM114 106h2v1h-2zM160 106h1v1h-1zM91 107h1v1h-1zM136 107h1v1h-1zM148 107h1v1h-1zM159 107h1v1h-1zM174 107h1v1h-1zM205 107h1v1h-1zM31 108h2v1h-2zM34 108h1v2h-1zM65 108h1v1h-1zM92 108h1v1h-1zM124 108h1v1h-1zM138 108h1v1h-1zM148 108h2v1h-2zM177 108h2v1h-2zM180 108h1v1h-1zM36 109h2v1h-2zM55 109h1v2h-1zM69 109h1v2h-1zM76 109h1v1h-1zM78 109h1v2h-1zM90 109h2v1h-2zM99 109h1v2h-1zM160 109h2v1h-2zM178 109h1v1h-1zM124 110h1v1h-1zM126 110h1v2h-1zM138 110h1v1h-1zM163 110h1v1h-1zM177 110h1v1h-1zM181 110h1v1h-1zM35 111h1v2h-1zM41 111h1v1h-1zM77 111h1v1h-1zM101 111h1v1h-1zM149 111h1v1h-1zM42 112h1v1h-1zM59 112h2v1h-2zM68 112h1v1h-1zM127 112h1v1h-1zM141 112h1v1h-1zM148 112h1v1h-1zM160 112h1v1h-1zM163 112h1v1h-1zM181 112h1v1h-1zM40 113h3v1h-3zM44 113h2v1h-2zM57 113h2v1h-2zM72 113h1v1h-1zM98 113h1v1h-1zM122 113h1v1h-1zM124 113h1v1h-1zM145 113h1v1h-1zM162 113h1v1h-1zM164 113h1v1h-1zM187 113h1v1h-1zM36 114h1v1h-1zM63 114h2v1h-2zM79 114h2v1h-2zM88 114h1v1h-1zM95 114h1v1h-1zM103 114h1v1h-1zM106 114h1v2h-1zM121 114h1v1h-1zM123 114h1v1h-1zM130 114h1v1h-1zM133 114h1v1h-1zM158 114h1v1h-1zM172 114h1v1h-1zM180 114h1v1h-1zM43 115h1v1h-1zM51 115h1v1h-1zM150 115h1v1h-1zM153 115h2v1h-2zM195 115h1v1h-1zM72 116h1v1h-1zM88 116h1v1h-1zM124 116h1v1h-1zM142 116h1v1h-1zM144 116h1v1h-1zM164 116h1v1h-1zM192 116h1v1h-1zM48 117h1v2h-1zM51 117h1v1h-1zM54 117h2v1h-2zM87 117h1v1h-1zM133 117h1v1h-1zM160 117h1v1h-1zM175 117h1v1h-1zM74 118h1v1h-1zM79 118h1v1h-1zM125 118h1v1h-1zM156 118h1v1h-1zM159 118h1v1h-1zM162 118h1v1h-1zM166 118h1v1h-1zM195 118h1v1h-1zM74 119h2v1h-2zM148 119h1v1h-1zM164 119h1v1h-1zM77 120h1v1h-1zM91 120h1v1h-1zM137 120h1v1h-1zM193 120h1v1h-1zM195 120h1v1h-1zM78 121h1v1h-1zM114 121h1v1h-1zM166 121h1v1h-1zM198 121h1v1h-1zM51 122h1v1h-1zM101 122h1v1h-1zM113 122h1v1h-1zM150 122h2v1h-2zM159 122h1v1h-1zM163 122h1v1h-1zM197 122h2v1h-2zM201 122h1v1h-1zM30 123h1v1h-1zM52 123h2v1h-2zM55 123h1v1h-1zM69 123h1v1h-1zM78 123h1v1h-1zM93 123h1v1h-1zM114 123h1v1h-1zM172 123h1v1h-1zM175 123h1v1h-1zM200 123h2v1h-2zM204 123h1v1h-1zM108 124h1v1h-1zM110 124h1v1h-1zM113 124h1v1h-1zM116 124h1v1h-1zM132 124h1v1h-1zM145 124h1v1h-1zM153 124h1v2h-1zM155 124h1v2h-1zM166 124h1v1h-1zM194 124h1v1h-1zM27 125h2v1h-2zM30 125h1v1h-1zM67 125h1v1h-1zM95 125h1v1h-1zM118 125h1v1h-1zM133 125h1v1h-1zM197 125h1v1h-1zM199 125h2v1h-2zM205 125h1v1h-1zM29 126h1v1h-1zM55 126h1v1h-1zM57 126h1v1h-1zM70 126h1v1h-1zM80 126h1v1h-1zM86 126h1v1h-1zM110 126h2v1h-2zM131 126h1v1h-1zM159 126h1v1h-1zM204 126h1v1h-1zM7 127h1v1h-1zM52 127h1v1h-1zM58 127h1v1h-1zM84 127h1v1h-1zM89 127h2v1h-2zM96 127h2v1h-2zM112 127h1v1h-1zM163 127h1v1h-1zM167 127h1v1h-1zM171 127h1v1h-1zM179 127h1v1h-1zM181 127h2v1h-2zM198 127h1v1h-1zM31 128h1v1h-1zM53 128h1v1h-1zM61 128h1v1h-1zM72 128h1v1h-1zM75 128h2v1h-2zM88 128h1v1h-1zM91 128h1v1h-1zM140 128h1v1h-1zM183 128h3v1h-3zM58 129h1v1h-1zM63 129h1v2h-1zM138 129h1v1h-1zM148 129h1v1h-1zM183 129h1v1h-1zM204 129h1v1h-1zM57 130h1v1h-1zM77 130h1v1h-1zM87 130h1v1h-1zM114 130h1v1h-1zM174 130h1v1h-1zM211 130h1v1h-1zM59 131h2v1h-2zM80 131h1v1h-1zM87 131h2v1h-2zM103 131h1v1h-1zM126 131h1v1h-1zM162 131h1v1h-1zM182 131h1v1h-1zM206 131h2v1h-2zM57 132h1v1h-1zM63 132h1v1h-1zM76 132h1v1h-1zM89 132h2v1h-2zM101 132h1v1h-1zM124 132h1v1h-1zM186 132h2v1h-2zM208 132h1v1h-1zM210 132h1v1h-1zM212 132h1v1h-1zM67 133h1v1h-1zM82 133h1v1h-1zM89 133h1v2h-1zM114 133h1v1h-1zM117 133h1v1h-1zM125 133h1v1h-1zM183 133h2v1h-2zM187 133h1v1h-1zM205 133h1v1h-1zM62 134h1v1h-1zM81 134h1v1h-1zM102 134h1v1h-1zM104 134h1v1h-1zM139 134h1v1h-1zM149 134h1v1h-1zM163 134h1v1h-1zM83 135h1v1h-1zM91 135h1v1h-1zM142 135h1v1h-1zM147 135h1v1h-1zM169 135h1v1h-1zM208 135h1v1h-1zM77 136h1v1h-1zM84 136h1v1h-1zM90 136h1v1h-1zM103 136h1v1h-1zM105 136h1v1h-1zM107 136h1v1h-1zM150 136h1v1h-1zM165 136h1v1h-1zM182 136h1v2h-1zM188 136h1v1h-1zM200 136h1v1h-1zM65 137h1v1h-1zM81 137h1v1h-1zM95 137h1v2h-1zM101 137h1v1h-1zM120 137h1v1h-1zM168 137h1v2h-1zM171 137h1v1h-1zM176 137h1v1h-1zM178 137h1v1h-1zM205 137h1v1h-1zM85 138h1v2h-1zM102 138h1v2h-1zM108 138h1v1h-1zM110 138h1v1h-1zM129 138h1v1h-1zM146 138h1v1h-1zM70 139h1v1h-1zM134 139h1v1h-1zM155 139h1v1h-1zM175 139h1v5h-1zM184 139h1v1h-1zM186 139h1v2h-1zM194 139h1v1h-1zM201 139h1v1h-1zM69 140h1v1h-1zM76 140h2v1h-2zM101 140h1v1h-1zM128 140h1v1h-1zM158 140h1v2h-1zM177 140h1v1h-1zM73 141h1v2h-1zM89 141h1v1h-1zM103 141h1v1h-1zM112 141h1v1h-1zM173 141h1v1h-1zM185 141h1v2h-1zM187 141h1v1h-1zM189 141h1v4h-1zM192 141h1v1h-1zM198 141h1v1h-1zM92 142h1v1h-1zM100 142h2v1h-2zM116 142h1v1h-1zM135 142h1v1h-1zM71 143h1v1h-1zM74 143h2v1h-2zM90 143h1v1h-1zM101 143h1v1h-1zM172 143h1v1h-1zM201 143h1v2h-1zM221 143h1v1h-1zM116 144h1v1h-1zM150 144h1v1h-1zM162 144h1v1h-1zM164 144h1v1h-1zM71 145h1v1h-1zM74 145h1v1h-1zM91 145h1v1h-1zM113 145h1v1h-1zM124 145h1v1h-1zM185 145h1v1h-1zM77 146h1v1h-1zM93 146h2v1h-2zM105 146h1v1h-1zM138 146h1v1h-1zM159 146h1v1h-1zM162 146h1v1h-1zM190 146h1v1h-1zM196 146h1v1h-1zM204 146h1v1h-1zM206 146h1v1h-1zM49 147h1v1h-1zM51 147h1v1h-1zM54 147h1v1h-1zM73 147h1v2h-1zM79 147h1v1h-1zM135 147h1v1h-1zM156 147h1v1h-1zM178 147h1v1h-1zM189 147h1v1h-1zM96 148h1v1h-1zM107 148h2v1h-2zM112 148h1v1h-1zM119 148h1v1h-1zM129 148h1v1h-1zM152 148h2v1h-2zM160 148h1v2h-1zM162 148h1v1h-1zM164 148h1v1h-1zM185 148h1v1h-1zM207 148h1v1h-1zM53 149h2v1h-2zM76 149h1v1h-1zM80 149h1v1h-1zM100 149h1v1h-1zM108 149h1v1h-1zM111 149h1v1h-1zM134 149h1v1h-1zM164 149h2v1h-2zM168 149h1v1h-1zM181 149h2v1h-2zM194 149h1v1h-1zM208 149h1v1h-1zM211 149h1v1h-1zM52 150h1v1h-1zM54 150h1v2h-1zM83 150h1v1h-1zM94 150h1v1h-1zM115 150h1v1h-1zM122 150h1v2h-1zM136 150h1v1h-1zM144 150h1v1h-1zM203 150h1v1h-1zM212 150h1v1h-1zM60 151h1v1h-1zM88 151h2v1h-2zM97 151h1v1h-1zM168 151h1v1h-1zM188 151h2v1h-2zM230 151h1v1h-1zM82 152h1v1h-1zM148 152h1v2h-1zM161 152h1v1h-1zM191 152h1v1h-1zM198 152h1v1h-1zM115 153h1v2h-1zM124 153h2v1h-2zM186 153h1v2h-1zM161 154h2v1h-2zM209 154h1v1h-1zM60 155h1v1h-1zM79 155h1v1h-1zM86 155h2v1h-2zM124 155h2v1h-2zM139 155h1v1h-1zM198 155h1v1h-1zM203 155h1v1h-1zM212 155h1v1h-1zM81 156h1v1h-1zM104 156h1v2h-1zM118 156h1v1h-1zM147 156h1v1h-1zM173 156h1v1h-1zM176 156h1v1h-1zM189 156h1v1h-1zM204 157h1v2h-1zM215 157h1v2h-1zM114 158h1v1h-1zM140 158h2v1h-2zM188 158h1v1h-1zM191 158h1v1h-1zM200 158h1v1h-1zM85 159h1v1h-1zM88 159h1v1h-1zM105 159h1v1h-1zM107 159h1v1h-1zM118 159h1v1h-1zM122 159h1v1h-1zM126 159h1v1h-1zM146 159h1v1h-1zM165 159h1v1h-1zM194 159h1v1h-1zM199 159h1v1h-1zM201 159h1v1h-1zM106 160h1v1h-1zM109 160h1v2h-1zM112 160h1v1h-1zM117 160h1v1h-1zM148 160h2v1h-2zM193 160h1v1h-1zM204 160h1v1h-1zM206 160h1v1h-1zM213 160h2v1h-2zM216 160h1v3h-1zM152 161h1v1h-1zM154 161h1v2h-1zM174 161h1v1h-1zM192 161h1v1h-1zM199 161h1v1h-1zM201 161h1v1h-1zM210 161h1v1h-1zM218 161h1v1h-1zM113 162h1v1h-1zM118 162h1v1h-1zM131 162h1v1h-1zM144 162h1v1h-1zM146 162h1v1h-1zM148 162h1v1h-1zM166 162h1v1h-1zM168 162h1v1h-1zM182 162h2v1h-2zM203 162h1v1h-1zM213 162h1v1h-1zM93 163h1v1h-1zM97 163h1v1h-1zM110 163h1v1h-1zM112 163h1v1h-1zM122 163h1v1h-1zM127 163h1v1h-1zM134 163h1v1h-1zM172 163h1v1h-1zM179 163h1v1h-1zM202 163h1v1h-1zM206 163h1v1h-1zM113 164h1v1h-1zM116 164h1v1h-1zM119 164h1v1h-1zM144 164h1v1h-1zM148 164h2v1h-2zM176 164h1v1h-1zM184 164h1v1h-1zM186 164h1v1h-1zM196 164h1v1h-1zM200 164h1v1h-1zM205 164h1v1h-1zM213 164h1v1h-1zM136 165h1v1h-1zM149 165h1v1h-1zM159 165h1v1h-1zM201 165h1v2h-1zM223 165h1v1h-1zM226 165h1v2h-1zM118 166h1v1h-1zM121 166h1v1h-1zM124 166h1v1h-1zM162 166h1v1h-1zM187 166h1v1h-1zM100 167h1v1h-1zM127 167h1v1h-1zM177 167h1v1h-1zM185 167h1v1h-1zM205 167h1v1h-1zM217 167h1v1h-1zM221 167h1v1h-1zM230 167h1v1h-1zM137 168h2v1h-2zM149 168h1v1h-1zM151 168h1v1h-1zM162 168h1v1h-1zM174 168h2v1h-2zM226 168h1v1h-1zM77 169h1v1h-1zM135 169h1v1h-1zM178 169h1v1h-1zM180 169h1v1h-1zM206 169h2v1h-2zM213 169h1v1h-1zM219 169h1v2h-1zM225 169h1v1h-1zM231 169h1v1h-1zM97 170h1v2h-1zM99 170h1v3h-1zM176 170h1v1h-1zM185 170h1v1h-1zM207 170h1v1h-1zM224 170h1v1h-1zM229 170h1v1h-1zM127 171h1v1h-1zM137 171h1v1h-1zM177 171h1v1h-1zM190 171h1v1h-1zM206 171h1v1h-1zM228 171h1v1h-1zM114 172h1v1h-1zM123 172h1v1h-1zM143 172h1v1h-1zM163 172h1v1h-1zM178 172h1v1h-1zM185 172h1v1h-1zM191 172h1v1h-1zM193 172h1v1h-1zM203 172h1v1h-1zM220 172h1v1h-1zM74 173h1v1h-1zM103 173h1v1h-1zM141 173h1v1h-1zM156 173h1v1h-1zM181 173h1v1h-1zM229 173h1v1h-1zM105 174h1v1h-1zM107 174h1v1h-1zM130 174h1v1h-1zM161 174h1v1h-1zM168 174h1v2h-1zM193 174h2v1h-2zM196 174h1v1h-1zM216 174h1v1h-1zM117 175h1v1h-1zM123 175h1v1h-1zM139 175h5v1h-5zM186 175h1v1h-1zM221 175h1v1h-1zM228 175h1v1h-1zM104 176h1v1h-1zM137 176h1v1h-1zM156 176h1v1h-1zM164 176h1v1h-1zM170 176h1v1h-1zM182 176h2v1h-2zM212 176h2v1h-2zM102 177h1v1h-1zM108 177h1v1h-1zM110 177h1v1h-1zM140 177h1v1h-1zM167 177h1v1h-1zM171 177h1v1h-1zM199 177h1v1h-1zM214 177h1v1h-1zM108 178h2v1h-2zM137 178h1v1h-1zM147 178h1v1h-1zM169 178h1v1h-1zM172 178h1v1h-1zM215 178h1v1h-1zM127 179h1v1h-1zM163 179h1v1h-1zM186 179h1v1h-1zM105 180h1v2h-1zM108 180h1v1h-1zM114 180h1v1h-1zM169 180h1v1h-1zM202 180h1v1h-1zM216 180h1v1h-1zM230 180h1v1h-1zM110 181h1v1h-1zM112 181h1v1h-1zM127 181h1v2h-1zM149 181h1v2h-1zM173 181h1v1h-1zM188 181h1v1h-1zM193 181h1v1h-1zM201 181h2v1h-2zM131 182h1v1h-1zM136 182h2v1h-2zM162 182h1v2h-1zM176 182h1v2h-1zM218 182h2v1h-2zM105 183h1v1h-1zM128 183h2v1h-2zM133 183h1v2h-1zM188 183h2v1h-2zM128 184h1v2h-1zM139 184h1v1h-1zM164 184h1v1h-1zM202 184h1v1h-1zM230 184h1v1h-1zM141 185h2v1h-2zM145 185h1v1h-1zM148 185h1v1h-1zM167 185h1v1h-1zM170 185h1v1h-1zM172 185h1v1h-1zM194 185h1v1h-1zM200 185h1v1h-1zM207 185h1v1h-1zM212 185h1v1h-1zM220 185h1v1h-1zM132 186h1v1h-1zM139 186h2v1h-2zM153 186h2v1h-2zM164 186h1v1h-1zM175 186h1v1h-1zM179 186h1v1h-1zM208 186h1v1h-1zM219 186h1v1h-1zM113 187h1v1h-1zM132 187h2v1h-2zM141 187h1v1h-1zM166 187h1v1h-1zM198 187h1v1h-1zM201 187h1v1h-1zM136 188h1v1h-1zM151 188h1v2h-1zM158 188h1v1h-1zM181 188h1v1h-1zM183 188h1v2h-1zM201 188h2v1h-2zM204 188h2v1h-2zM207 188h2v1h-2zM141 189h4v1h-4zM147 189h1v1h-1zM156 189h1v1h-1zM197 189h2v1h-2zM201 189h1v1h-1zM213 189h1v1h-1zM222 189h1v2h-1zM146 190h1v1h-1zM171 190h1v1h-1zM152 191h1v1h-1zM158 191h1v1h-1zM172 191h1v1h-1zM205 191h2v1h-2zM208 191h1v1h-1zM228 191h1v1h-1zM116 192h1v1h-1zM141 192h1v1h-1zM161 192h1v1h-1zM199 192h2v1h-2zM120 193h1v1h-1zM160 193h1v1h-1zM172 193h1v1h-1zM174 193h1v2h-1zM181 193h1v1h-1zM204 193h2v1h-2zM218 193h1v1h-1zM124 194h1v1h-1zM139 194h1v1h-1zM149 194h1v1h-1zM159 194h1v1h-1zM185 194h1v1h-1zM204 194h1v1h-1zM226 194h1v1h-1zM115 195h1v1h-1zM118 195h1v1h-1zM120 195h1v1h-1zM207 195h1v1h-1zM211 195h1v1h-1zM213 195h2v1h-2zM216 195h1v1h-1zM230 195h2v1h-2zM146 196h1v1h-1zM164 196h1v1h-1zM174 196h1v1h-1zM219 196h1v1h-1zM225 196h1v1h-1zM122 197h1v1h-1zM125 197h1v1h-1zM189 197h1v2h-1zM217 197h1v1h-1zM99 198h1v1h-1zM121 198h2v1h-2zM127 198h1v1h-1zM141 198h1v1h-1zM152 198h1v1h-1zM155 198h1v1h-1zM187 198h1v1h-1zM203 198h1v1h-1zM207 198h1v1h-1zM222 198h1v1h-1zM230 198h2v1h-2zM125 199h1v2h-1zM159 199h1v1h-1zM161 199h1v1h-1zM177 199h1v1h-1zM192 199h1v2h-1zM206 199h1v1h-1zM208 199h1v1h-1zM211 199h1v1h-1zM218 199h1v1h-1zM102 200h1v1h-1zM123 200h1v1h-1zM136 200h1v1h-1zM158 200h1v1h-1zM164 200h1v1h-1zM185 200h1v1h-1zM213 200h1v1h-1zM217 200h1v1h-1zM219 200h2v1h-2zM225 200h1v1h-1zM122 201h2v1h-2zM139 201h1v1h-1zM143 201h2v1h-2zM159 201h1v1h-1zM161 201h1v1h-1zM165 201h2v1h-2zM181 201h1v1h-1zM187 201h3v1h-3zM211 201h1v1h-1zM221 201h2v1h-2zM163 202h1v1h-1zM180 202h2v1h-2zM184 202h1v1h-1zM188 202h1v1h-1zM226 202h1v1h-1zM150 203h1v1h-1zM155 203h1v1h-1zM162 203h1v1h-1zM172 203h1v1h-1zM198 203h1v1h-1zM229 203h1v1h-1zM231 203h1v1h-1zM104 204h2v1h-2zM123 204h1v1h-1zM126 204h1v1h-1zM129 204h1v1h-1zM146 204h1v1h-1zM157 204h2v1h-2zM160 204h1v1h-1zM188 204h1v2h-1zM193 204h2v1h-2zM212 204h1v1h-1zM215 204h2v1h-2zM220 204h1v1h-1zM225 204h1v1h-1zM107 205h1v1h-1zM125 205h1v1h-1zM133 205h1v1h-1zM137 205h1v1h-1zM164 205h1v1h-1zM167 205h1v1h-1zM191 205h1v2h-1zM193 205h1v1h-1zM131 206h1v2h-1zM146 206h1v1h-1zM160 206h1v1h-1zM163 206h1v1h-1zM169 206h1v1h-1zM171 206h1v1h-1zM199 206h1v1h-1zM215 206h1v1h-1zM217 206h1v1h-1zM148 207h1v1h-1zM169 207h2v1h-2zM185 207h1v1h-1zM188 207h1v2h-1zM195 207h1v1h-1zM198 207h1v1h-1zM216 207h1v1h-1zM229 207h2v1h-2zM132 208h1v1h-1zM135 208h1v1h-1zM149 208h1v1h-1zM186 208h1v1h-1zM191 208h1v1h-1zM199 208h1v1h-1zM217 208h1v1h-1zM230 208h2v1h-2zM154 209h1v1h-1zM212 209h1v1h-1zM132 210h1v1h-1zM161 210h1v1h-1zM216 210h1v1h-1zM218 210h1v1h-1zM130 211h1v1h-1zM149 211h1v1h-1zM195 211h1v1h-1zM199 211h1v1h-1zM201 211h1v1h-1zM132 212h1v1h-1zM150 212h1v1h-1zM155 212h1v1h-1zM176 212h1v2h-1zM185 212h1v1h-1zM204 212h1v1h-1zM209 212h1v1h-1zM216 212h2v1h-2zM160 213h1v2h-1zM162 213h1v1h-1zM164 213h1v1h-1zM169 213h1v1h-1zM189 213h1v1h-1zM195 213h1v2h-1zM200 213h1v1h-1zM218 213h1v1h-1zM177 214h1v1h-1zM157 215h2v1h-2zM178 215h1v1h-1zM204 215h1v2h-1zM206 215h1v1h-1zM160 216h3v1h-3zM174 216h1v1h-1zM180 216h1v1h-1zM195 216h1v1h-1zM207 216h1v1h-1zM210 216h1v1h-1zM212 216h1v2h-1zM167 217h1v1h-1zM197 217h1v1h-1zM200 217h1v1h-1zM206 217h1v1h-1zM208 217h1v1h-1zM161 218h1v1h-1zM182 218h1v2h-1zM193 218h1v1h-1zM199 218h1v1h-1zM210 218h1v1h-1zM213 218h1v1h-1zM230 218h1v1h-1zM169 219h2v1h-2zM186 219h1v1h-1zM196 219h1v1h-1zM200 219h1v2h-1zM228 219h1v1h-1zM172 220h1v1h-1zM185 220h1v1h-1zM204 220h1v1h-1zM143 221h1v1h-1zM167 221h1v1h-1zM175 221h1v1h-1zM201 221h1v2h-1zM189 222h2v1h-2zM198 222h1v1h-1zM225 222h1v1h-1zM165 223h1v1h-1zM170 224h1v1h-1zM228 224h2v1h-2zM169 225h1v1h-1zM196 225h1v1h-1zM200 225h1v1h-1zM204 225h1v1h-1zM222 225h1v1h-1zM165 226h2v1h-2zM168 226h1v1h-1zM194 226h1v1h-1zM202 226h1v1h-1zM232 227h1v1h-1zM171 228h1v1h-1zM175 228h1v1h-1zM191 228h1v1h-1zM219 228h1v1h-1zM224 228h1v2h-1zM170 229h1v1h-1zM173 229h1v1h-1zM203 229h1v1h-1zM207 229h1v1h-1zM151 230h1v1h-1zM167 230h1v1h-1zM180 230h1v1h-1zM184 230h1v1h-1zM195 230h1v2h-1zM198 230h1v2h-1zM207 230h2v1h-2zM218 230h1v1h-1zM169 231h1v1h-1zM203 231h1v1h-1zM208 231h1v1h-1zM227 232h1v1h-1zM239 233h1v1h-1zM246 238h1v1h-1zM233 239h1v1h-1zM250 244h1v1h-1zM238 246h1v1h-1zM244 250h1v1h-1zM257 252h1v1h-1zM260 254h1v1h-1zM252 257h1v1h-1zM254 260h1v1h-1zM275 270h1v1h-1zM282 272h1v1h-1zM283 273h1v1h-1zM284 274h1v1h-1zM270 275h1v1h-1zM285 275h1v1h-1zM286 276h1v1h-1zM287 277h1v1h-1zM288 278h1v1h-1zM289 279h1v1h-1zM290 280h1v1h-1zM291 281h1v1h-1zM272 282h1v1h-1zM292 282h1v1h-1zM273 283h1v1h-1zM293 283h1v1h-1zM274 284h1v1h-1zM294 284h1v1h-1zM275 285h1v1h-1zM295 285h1v1h-1zM276 286h1v1h-1zM296 286h1v1h-1zM277 287h1v1h-1zM297 287h1v1h-1zM278 288h1v1h-1zM298 288h1v1h-1zM279 289h1v1h-1zM299 289h1v1h-1zM280 290h1v1h-1zM300 290h1v1h-1zM281 291h1v1h-1zM301 291h1v1h-1zM282 292h1v1h-1zM302 292h1v1h-1zM283 293h1v1h-1zM303 293h1v1h-1zM284 294h1v1h-1zM304 294h1v1h-1zM285 295h1v1h-1zM305 295h1v1h-1zM286 296h1v1h-1zM306 296h1v1h-1zM287 297h1v1h-1zM307 297h1v1h-1zM288 298h1v1h-1zM308 298h1v1h-1zM289 299h1v1h-1zM309 299h1v1h-1zM290 300h1v1h-1zM310 300h1v1h-1zM291 301h1v1h-1zM311 301h1v1h-1zM292 302h1v1h-1zM312 302h1v1h-1zM293 303h1v1h-1zM313 303h1v1h-1zM294 304h1v1h-1zM295 305h1v1h-1zM296 306h1v1h-1zM297 307h1v1h-1zM298 308h1v1h-1zM299 309h1v1h-1zM300 310h1v1h-1zM301 311h1v1h-1zM302 312h1v1h-1zM303 313h1v1h-1zM321 316h1v1h-1zM326 319h1v1h-1zM316 321h1v1h-1zM327 321h1v1h-1zM319 326h1v1h-1zM332 326h1v1h-1zM321 327h1v1h-1zM326 332h1v1h-1zM345 339h1v1h-1zM339 345h1v1h-1zM353 347h1v1h-1zM347 353h1v1h-1zM377 371h1v1h-1zM371 377h1v1h-1zM385 377h1v1h-1zM386 378h1v1h-1zM388 380h1v1h-1zM377 385h1v1h-1zM393 385h1v1h-1zM378 386h1v1h-1zM380 388h1v1h-1zM385 393h1v1h-1zM401 395h1v1h-1zM402 396h1v1h-1zM403 397h1v1h-1zM395 401h1v1h-1zM396 402h1v1h-1zM397 403h1v1h-1zM409 403h1v1h-1zM410 404h1v1h-1zM403 409h1v1h-1zM404 410h1v1h-1zM417 411h1v1h-1zM421 416h1v1h-1zM411 417h1v1h-1zM416 421h1v1h-1zM436 430h1v1h-1zM430 436h1v1h-1zM449 443h1v1h-1zM443 449h1v1h-1zM455 449h1v1h-1zM449 455h1v1h-1zM465 457h1v1h-1zM470 461h1v2h-1zM471 463h1v1h-1zM473 464h1v1h-1zM457 465h1v1h-1zM477 468h1v1h-1zM461 470h2v1h-2zM463 471h1v1h-1zM480 472h1v1h-1zM464 473h1v1h-1zM468 477h1v1h-1zM472 480h1v1h-1zM490 480h1v1h-1zM491 481h1v1h-1zM492 482h1v1h-1zM493 483h1v1h-1zM494 484h1v1h-1zM495 485h1v1h-1zM496 486h1v1h-1zM497 487h1v1h-1zM480 490h1v1h-1zM481 491h1v1h-1zM482 492h1v1h-1zM483 493h1v1h-1zM484 494h1v1h-1zM485 495h1v1h-1zM486 496h1v1h-1zM487 497h1v1h-1z"/>
<path fill="#548ab2" d="M18 0h1v1h-1zM29 0h1v1h-1zM31 0h1v2h-1zM42 0h1v1h-1zM44 0h1v2h-1zM50 0h1v1h-1zM74 0h1v1h-1zM77 0h1v1h-1zM8 1h1v1h-1zM46 1h2v1h-2zM73 1h1v1h-1zM55 2h1v1h-1zM57 2h1v1h-1zM69 2h1v2h-1zM96 2h1v1h-1zM9 3h1v1h-1zM36 3h1v1h-1zM47 3h1v1h-1zM49 3h1v1h-1zM10 4h3v1h-3zM16 4h1v1h-1zM33 4h1v1h-1zM41 4h1v1h-1zM44 4h1v1h-1zM73 4h1v1h-1zM75 4h1v1h-1zM79 4h1v1h-1zM61 5h1v1h-1zM70 5h1v1h-1zM82 5h1v1h-1zM100 5h1v1h-1zM105 5h1v1h-1zM13 6h1v1h-1zM15 6h2v1h-2zM19 6h1v1h-1zM24 6h2v1h-2zM36 6h3v1h-3zM42 6h1v1h-1zM56 6h1v1h-1zM60 6h2v1h-2zM21 7h1v2h-1zM26 7h1v1h-1zM41 7h2v1h-2zM45 7h1v1h-1zM47 7h1v1h-1zM65 7h1v1h-1zM69 7h1v1h-1zM76 7h1v1h-1zM81 7h1v1h-1zM1 8h1v1h-1zM78 8h1v1h-1zM80 8h1v1h-1zM106 8h1v1h-1zM3 9h1v1h-1zM19 9h1v1h-1zM28 9h1v2h-1zM40 9h1v1h-1zM64 9h1v1h-1zM4 10h1v3h-1zM24 10h1v1h-1zM42 10h1v1h-1zM44 10h1v1h-1zM45 11h1v1h-1zM78 11h1v1h-1zM83 11h2v1h-2zM20 12h1v2h-1zM22 12h1v1h-1zM27 12h1v1h-1zM56 12h1v1h-1zM81 12h1v1h-1zM6 13h1v1h-1zM79 13h3v1h-3zM84 13h1v1h-1zM21 14h1v1h-1zM44 14h1v1h-1zM67 14h1v1h-1zM69 14h1v2h-1zM81 14h1v1h-1zM88 14h1v1h-1zM6 15h1v2h-1zM29 15h1v1h-1zM54 15h1v1h-1zM4 16h1v1h-1zM36 16h1v1h-1zM46 16h1v1h-1zM51 16h1v1h-1zM58 16h1v1h-1zM70 16h1v1h-1zM88 16h1v1h-1zM54 17h1v1h-1zM81 17h1v1h-1zM84 17h1v1h-1zM0 18h1v1h-1zM25 18h1v1h-1zM38 18h1v3h-1zM46 18h1v1h-1zM51 18h1v1h-1zM57 18h1v1h-1zM70 18h1v1h-1zM6 19h1v1h-1zM9 19h1v1h-1zM32 19h3v1h-3zM50 19h1v2h-1zM61 19h1v1h-1zM72 19h1v1h-1zM93 19h1v1h-1zM12 20h2v1h-2zM54 20h1v1h-1zM74 20h1v1h-1zM7 21h2v1h-2zM14 21h1v1h-1zM36 21h2v1h-2zM39 21h1v1h-1zM75 21h2v1h-2zM12 22h1v1h-1zM32 22h1v1h-1zM74 22h1v1h-1zM95 22h1v1h-1zM30 23h1v1h-1zM54 23h1v1h-1zM76 23h1v1h-1zM97 23h1v1h-1zM6 24h1v2h-1zM10 24h1v1h-1zM18 25h1v1h-1zM32 25h1v1h-1zM36 25h1v1h-1zM96 25h1v1h-1zM101 25h1v1h-1zM7 26h1v1h-1zM40 26h1v1h-1zM57 26h1v1h-1zM65 26h1v1h-1zM93 26h1v1h-1zM12 27h1v1h-1zM34 27h1v1h-1zM37 27h1v1h-1zM92 27h1v1h-1zM103 27h1v1h-1zM105 27h1v1h-1zM9 28h2v1h-2zM39 28h1v1h-1zM43 28h2v1h-2zM56 28h1v1h-1zM60 28h1v1h-1zM65 28h1v1h-1zM71 28h1v1h-1zM91 28h2v1h-2zM96 28h1v1h-1zM98 28h1v1h-1zM104 28h1v1h-1zM124 28h1v1h-1zM0 29h1v1h-1zM15 29h1v1h-1zM61 29h1v1h-1zM67 29h1v1h-1zM81 29h1v1h-1zM106 29h1v2h-1zM122 29h1v1h-1zM23 30h1v1h-1zM47 30h1v1h-1zM50 30h1v1h-1zM64 30h1v1h-1zM68 30h1v1h-1zM72 30h1v1h-1zM74 30h1v1h-1zM0 31h2v1h-2zM83 31h1v1h-1zM99 31h1v1h-1zM104 31h1v2h-1zM112 31h1v1h-1zM19 32h1v3h-1zM22 32h1v1h-1zM25 32h1v1h-1zM44 32h1v1h-1zM73 32h2v1h-2zM76 32h1v1h-1zM107 32h1v1h-1zM4 33h1v1h-1zM42 33h1v1h-1zM51 33h1v1h-1zM89 33h1v1h-1zM27 34h1v1h-1zM43 34h1v2h-1zM45 34h2v1h-2zM52 34h1v2h-1zM69 34h1v1h-1zM76 34h1v1h-1zM90 34h1v1h-1zM103 34h1v1h-1zM110 34h2v1h-2zM125 34h1v1h-1zM50 35h1v1h-1zM88 35h1v1h-1zM108 35h1v1h-1zM3 36h1v1h-1zM6 36h1v3h-1zM16 36h1v1h-1zM21 36h1v2h-1zM25 36h1v1h-1zM45 36h1v1h-1zM66 36h1v1h-1zM89 36h1v1h-1zM104 36h1v1h-1zM110 36h1v1h-1zM27 37h1v1h-1zM52 37h2v1h-2zM67 37h1v2h-1zM108 37h1v1h-1zM111 37h1v1h-1zM18 38h3v1h-3zM44 38h1v1h-1zM55 38h1v1h-1zM80 38h1v1h-1zM104 38h1v1h-1zM21 39h1v1h-1zM28 39h1v1h-1zM48 39h1v1h-1zM51 39h1v1h-1zM71 39h1v1h-1zM83 39h1v1h-1zM87 39h1v2h-1zM89 39h1v1h-1zM103 39h1v1h-1zM110 39h1v1h-1zM9 40h1v1h-1zM26 40h1v1h-1zM53 40h1v1h-1zM82 40h1v2h-1zM4 41h1v1h-1zM7 41h1v1h-1zM74 41h2v1h-2zM0 42h1v1h-1zM6 42h2v1h-2zM10 42h1v1h-1zM33 42h1v1h-1zM76 42h1v1h-1zM79 42h1v1h-1zM28 43h1v2h-1zM34 43h2v1h-2zM55 43h1v2h-1zM60 43h1v1h-1zM86 43h1v1h-1zM94 43h2v1h-2zM97 43h2v1h-2zM117 43h1v1h-1zM0 44h2v1h-2zM4 44h1v1h-1zM10 44h1v1h-1zM14 44h1v1h-1zM32 44h1v1h-1zM38 44h1v1h-1zM50 44h1v1h-1zM89 44h1v1h-1zM94 44h1v1h-1zM98 44h1v1h-1zM115 44h1v1h-1zM7 45h1v1h-1zM11 45h1v1h-1zM34 45h1v2h-1zM36 45h1v1h-1zM58 45h1v1h-1zM60 45h1v1h-1zM64 45h1v1h-1zM78 45h1v1h-1zM85 45h2v1h-2zM114 45h1v1h-1zM1 46h1v2h-1zM16 46h1v1h-1zM18 46h1v1h-1zM76 46h1v1h-1zM88 46h1v1h-1zM90 46h1v1h-1zM101 46h1v1h-1zM3 47h1v1h-1zM7 47h1v1h-1zM30 47h1v1h-1zM78 47h1v1h-1zM89 47h1v1h-1zM100 47h1v1h-1zM115 47h1v2h-1zM117 47h1v1h-1zM39 48h1v1h-1zM52 48h1v1h-1zM90 48h1v1h-1zM122 48h1v1h-1zM3 49h1v1h-1zM101 49h1v2h-1zM0 50h1v1h-1zM19 50h2v1h-2zM30 50h1v1h-1zM35 50h1v1h-1zM44 50h1v1h-1zM55 50h1v1h-1zM61 50h1v1h-1zM64 50h1v1h-1zM66 50h1v1h-1zM95 50h1v1h-1zM16 51h1v1h-1zM18 51h1v1h-1zM33 51h1v1h-1zM39 51h1v1h-1zM58 51h1v1h-1zM60 51h1v1h-1zM34 52h2v1h-2zM37 52h1v2h-1zM48 52h1v1h-1zM58 52h3v1h-3zM66 52h1v2h-1zM68 52h1v2h-1zM81 52h1v1h-1zM118 52h1v1h-1zM126 52h1v1h-1zM149 52h1v1h-1zM40 53h1v1h-1zM61 53h1v1h-1zM109 53h1v2h-1zM117 53h1v1h-1zM121 53h1v1h-1zM145 53h1v1h-1zM151 53h1v1h-1zM15 54h1v1h-1zM17 54h1v1h-1zM20 54h1v1h-1zM23 54h1v1h-1zM64 54h1v1h-1zM82 54h1v1h-1zM90 54h1v1h-1zM93 54h2v1h-2zM107 54h1v1h-1zM123 54h1v1h-1zM2 55h1v1h-1zM38 55h1v1h-1zM43 55h2v1h-2zM50 55h1v1h-1zM91 55h1v1h-1zM94 55h1v1h-1zM98 55h1v1h-1zM113 55h1v1h-1zM118 55h1v1h-1zM151 55h1v1h-1zM6 56h1v1h-1zM12 56h1v1h-1zM28 56h1v1h-1zM62 56h1v1h-1zM74 56h1v1h-1zM86 56h1v1h-1zM101 56h2v1h-2zM107 56h1v1h-1zM124 56h1v2h-1zM127 56h1v1h-1zM2 57h1v1h-1zM18 57h1v1h-1zM26 57h1v1h-1zM70 57h1v1h-1zM72 57h1v1h-1zM91 57h1v2h-1zM111 57h1v1h-1zM115 57h1v1h-1zM16 58h1v1h-1zM45 58h1v1h-1zM51 58h2v1h-2zM63 58h1v1h-1zM69 58h1v1h-1zM88 58h2v1h-2zM52 59h1v1h-1zM93 59h1v1h-1zM102 59h1v1h-1zM113 59h1v1h-1zM115 59h1v2h-1zM125 59h1v1h-1zM127 59h1v1h-1zM129 59h2v1h-2zM149 59h1v1h-1zM6 60h1v1h-1zM28 60h1v1h-1zM43 60h1v1h-1zM45 60h1v1h-1zM51 60h2v1h-2zM70 60h1v1h-1zM76 60h1v1h-1zM91 60h1v1h-1zM132 60h2v1h-2zM5 61h2v1h-2zM19 61h1v1h-1zM29 61h1v1h-1zM50 61h1v1h-1zM53 61h1v1h-1zM90 61h1v2h-1zM130 61h1v1h-1zM134 61h1v1h-1zM151 61h1v1h-1zM56 62h1v1h-1zM129 62h2v1h-2zM132 62h1v1h-1zM58 63h1v1h-1zM101 63h1v1h-1zM117 63h1v1h-1zM127 63h1v1h-1zM131 63h1v1h-1zM135 63h1v1h-1zM151 63h1v1h-1zM9 64h1v1h-1zM30 64h1v1h-1zM45 64h1v1h-1zM50 64h1v1h-1zM54 64h1v1h-1zM77 64h1v1h-1zM104 64h1v1h-1zM106 64h1v1h-1zM133 64h1v1h-1zM7 65h1v1h-1zM26 65h1v1h-1zM28 65h1v1h-1zM72 65h2v1h-2zM98 65h2v1h-2zM124 65h1v1h-1zM129 65h1v1h-1zM132 65h1v1h-1zM135 65h1v1h-1zM36 66h1v1h-1zM50 66h1v1h-1zM52 66h2v1h-2zM82 66h2v1h-2zM97 66h1v1h-1zM14 67h1v1h-1zM29 67h1v1h-1zM37 67h2v1h-2zM76 67h1v2h-1zM78 67h1v1h-1zM100 67h2v1h-2zM104 67h1v1h-1zM107 67h1v1h-1zM112 67h1v1h-1zM116 67h1v1h-1zM30 68h1v1h-1zM52 68h2v1h-2zM85 68h1v1h-1zM99 68h1v1h-1zM2 69h2v1h-2zM7 69h1v1h-1zM14 69h2v1h-2zM34 69h1v1h-1zM58 69h1v1h-1zM83 69h1v1h-1zM112 69h1v1h-1zM122 69h1v1h-1zM124 69h1v1h-1zM127 69h1v1h-1zM136 69h1v1h-1zM141 69h1v1h-1zM144 69h2v1h-2zM5 70h1v1h-1zM16 70h1v1h-1zM18 70h1v1h-1zM57 70h1v1h-1zM60 70h1v1h-1zM80 70h2v1h-2zM87 70h1v1h-1zM102 70h1v1h-1zM137 70h1v2h-1zM140 70h3v1h-3zM28 71h1v1h-1zM39 71h1v1h-1zM104 71h1v1h-1zM112 71h1v1h-1zM139 71h1v1h-1zM144 71h1v1h-1zM19 72h1v1h-1zM30 72h1v1h-1zM57 72h1v1h-1zM65 72h1v2h-1zM88 72h1v1h-1zM99 72h1v1h-1zM101 72h1v1h-1zM140 72h1v1h-1zM142 72h1v1h-1zM1 73h1v1h-1zM4 73h1v1h-1zM32 73h1v2h-1zM79 73h1v1h-1zM90 73h1v1h-1zM103 73h1v1h-1zM113 73h2v1h-2zM0 74h1v1h-1zM20 74h1v1h-1zM22 74h1v1h-1zM30 74h1v1h-1zM41 74h1v2h-1zM56 74h1v1h-1zM81 74h1v1h-1zM105 74h1v1h-1zM141 74h1v1h-1zM150 74h1v1h-1zM4 75h1v1h-1zM21 75h1v2h-1zM113 75h1v2h-1zM142 75h1v1h-1zM144 75h1v3h-1zM146 75h1v2h-1zM149 75h1v1h-1zM151 75h1v1h-1zM7 76h1v1h-1zM23 76h1v1h-1zM32 76h1v1h-1zM34 76h1v1h-1zM42 76h1v1h-1zM46 76h1v1h-1zM60 76h1v1h-1zM67 76h2v1h-2zM85 76h1v1h-1zM118 76h1v1h-1zM120 76h1v1h-1zM126 76h1v1h-1zM129 76h1v2h-1zM148 76h1v1h-1zM150 76h1v2h-1zM154 76h1v1h-1zM0 77h1v1h-1zM64 77h1v1h-1zM87 77h1v1h-1zM89 77h1v1h-1zM108 77h1v1h-1zM113 77h2v1h-2zM141 77h1v1h-1zM175 77h1v1h-1zM8 78h1v1h-1zM11 78h1v1h-1zM45 78h1v1h-1zM47 78h1v1h-1zM67 78h1v1h-1zM88 78h2v1h-2zM92 78h1v2h-1zM96 78h1v1h-1zM111 78h1v1h-1zM122 78h1v1h-1zM130 78h2v1h-2zM145 78h2v1h-2zM148 78h1v1h-1zM4 79h1v1h-1zM13 79h1v2h-1zM42 79h1v1h-1zM73 79h1v1h-1zM94 79h1v1h-1zM121 79h1v1h-1zM146 79h1v1h-1zM153 79h1v2h-1zM177 79h1v1h-1zM8 80h1v1h-1zM38 80h1v1h-1zM70 80h1v2h-1zM87 80h1v1h-1zM93 80h1v1h-1zM7 81h1v1h-1zM12 81h3v1h-3zM17 81h1v1h-1zM29 81h1v1h-1zM52 81h1v1h-1zM74 81h1v1h-1zM90 81h1v1h-1zM114 81h1v1h-1zM136 81h1v1h-1zM150 81h1v1h-1zM152 81h1v1h-1zM177 81h1v1h-1zM180 81h1v1h-1zM5 82h1v1h-1zM40 82h2v1h-2zM54 82h1v1h-1zM66 82h1v2h-1zM99 82h1v1h-1zM114 82h2v1h-2zM134 82h1v1h-1zM137 82h1v1h-1zM11 83h1v2h-1zM31 83h1v1h-1zM39 83h1v1h-1zM69 83h1v1h-1zM91 83h1v1h-1zM114 83h1v1h-1zM125 83h1v1h-1zM154 83h1v1h-1zM13 84h1v1h-1zM17 84h1v1h-1zM98 84h1v2h-1zM126 84h1v1h-1zM134 84h1v1h-1zM138 84h1v1h-1zM155 84h1v1h-1zM45 85h1v2h-1zM68 85h1v1h-1zM76 85h1v1h-1zM124 85h3v1h-3zM43 86h1v1h-1zM56 86h1v1h-1zM99 86h3v1h-3zM118 86h1v1h-1zM139 86h1v1h-1zM152 86h1v1h-1zM154 86h1v1h-1zM39 87h2v1h-2zM70 87h1v1h-1zM77 87h1v1h-1zM80 87h1v1h-1zM106 87h1v1h-1zM14 88h1v1h-1zM16 88h1v1h-1zM35 88h1v1h-1zM46 88h1v1h-1zM58 88h1v2h-1zM72 88h1v1h-1zM78 88h1v1h-1zM95 88h6v1h-6zM125 88h1v1h-1zM127 88h1v1h-1zM130 88h1v2h-1zM138 88h1v1h-1zM140 88h1v1h-1zM144 88h1v1h-1zM150 88h1v1h-1zM157 88h1v1h-1zM33 89h1v1h-1zM36 89h1v1h-1zM39 89h1v1h-1zM44 89h1v1h-1zM47 89h1v1h-1zM77 89h2v1h-2zM102 89h1v1h-1zM34 90h1v1h-1zM46 90h1v1h-1zM48 90h1v1h-1zM54 90h1v1h-1zM61 90h2v1h-2zM73 90h1v1h-1zM81 90h1v1h-1zM101 90h1v1h-1zM103 90h1v1h-1zM106 90h1v3h-1zM122 90h1v1h-1zM134 90h1v2h-1zM140 90h1v1h-1zM148 90h1v1h-1zM151 90h1v1h-1zM28 91h1v1h-1zM55 91h1v1h-1zM57 91h2v1h-2zM60 91h1v1h-1zM83 91h1v1h-1zM123 91h1v1h-1zM129 91h1v1h-1zM142 91h1v1h-1zM144 91h1v1h-1zM147 91h1v1h-1zM161 91h1v2h-1zM163 91h1v2h-1zM27 92h2v1h-2zM78 92h2v1h-2zM128 92h1v1h-1zM132 92h1v1h-1zM135 92h2v1h-2zM144 92h4v1h-4zM149 92h1v1h-1zM19 93h1v1h-1zM26 93h1v1h-1zM54 93h1v1h-1zM59 93h1v1h-1zM80 93h1v1h-1zM107 93h1v1h-1zM109 93h2v1h-2zM151 93h1v2h-1zM160 93h1v1h-1zM162 93h1v1h-1zM43 94h2v1h-2zM54 94h2v1h-2zM79 94h1v1h-1zM103 94h2v1h-2zM111 94h1v1h-1zM135 94h1v1h-1zM147 94h1v1h-1zM22 95h1v1h-1zM43 95h1v1h-1zM50 95h1v1h-1zM88 95h1v6h-1zM104 95h2v2h-2zM169 95h1v1h-1zM2 96h1v1h-1zM25 96h1v1h-1zM28 96h1v1h-1zM78 96h1v1h-1zM126 96h1v1h-1zM23 97h1v1h-1zM43 97h1v1h-1zM66 97h1v1h-1zM114 97h1v1h-1zM128 97h1v1h-1zM148 97h2v1h-2zM167 97h1v1h-1zM28 98h1v1h-1zM43 98h2v1h-2zM55 98h1v1h-1zM65 98h1v2h-1zM84 98h2v1h-2zM105 98h1v1h-1zM107 98h1v1h-1zM128 98h2v1h-2zM149 98h1v1h-1zM165 98h1v1h-1zM171 98h1v1h-1zM31 99h1v1h-1zM68 99h1v1h-1zM72 99h1v1h-1zM82 99h1v1h-1zM86 99h1v3h-1zM111 99h1v1h-1zM174 99h1v1h-1zM197 99h1v1h-1zM5 100h1v1h-1zM47 100h1v1h-1zM67 100h1v2h-1zM112 100h1v1h-1zM114 100h1v1h-1zM137 100h1v1h-1zM161 100h1v1h-1zM170 100h1v2h-1zM175 100h1v1h-1zM25 101h1v1h-1zM46 101h1v1h-1zM49 101h2v1h-2zM56 101h1v2h-1zM63 101h1v1h-1zM72 101h1v1h-1zM90 101h1v1h-1zM108 101h1v1h-1zM110 101h1v1h-1zM152 101h1v2h-1zM173 101h1v2h-1zM204 101h1v1h-1zM59 102h1v1h-1zM70 102h1v1h-1zM89 102h1v1h-1zM118 102h1v1h-1zM120 102h1v2h-1zM137 102h1v1h-1zM140 102h1v1h-1zM143 102h1v1h-1zM175 102h1v1h-1zM201 102h1v1h-1zM27 103h1v1h-1zM34 103h1v1h-1zM39 103h1v1h-1zM73 103h1v1h-1zM90 103h1v1h-1zM94 103h1v1h-1zM112 103h1v1h-1zM123 103h1v1h-1zM143 103h2v1h-2zM156 103h2v1h-2zM159 103h2v1h-2zM167 103h1v1h-1zM170 103h1v1h-1zM172 103h1v1h-1zM180 103h1v2h-1zM200 103h1v3h-1zM28 104h1v1h-1zM31 104h2v1h-2zM36 104h1v1h-1zM38 104h1v1h-1zM64 104h1v1h-1zM67 104h1v1h-1zM71 104h1v1h-1zM94 104h3v1h-3zM118 104h1v1h-1zM141 104h1v1h-1zM146 104h1v1h-1zM161 104h1v2h-1zM173 104h1v2h-1zM205 104h1v1h-1zM5 105h1v1h-1zM27 105h1v1h-1zM74 105h1v1h-1zM95 105h2v1h-2zM98 105h1v1h-1zM117 105h1v2h-1zM121 105h1v1h-1zM138 105h1v1h-1zM145 105h1v1h-1zM163 105h1v1h-1zM8 106h1v1h-1zM29 106h2v1h-2zM64 106h1v1h-1zM87 106h1v1h-1zM90 106h3v1h-3zM139 106h1v1h-1zM148 106h1v1h-1zM162 106h1v1h-1zM184 106h1v1h-1zM32 107h1v1h-1zM54 107h1v1h-1zM56 107h1v1h-1zM67 107h1v1h-1zM93 107h1v1h-1zM98 107h1v1h-1zM138 107h2v1h-2zM158 107h1v1h-1zM161 107h1v2h-1zM183 107h1v1h-1zM207 107h1v1h-1zM35 108h1v1h-1zM37 108h1v1h-1zM77 108h1v1h-1zM101 108h1v1h-1zM118 108h1v1h-1zM139 108h1v1h-1zM175 108h1v1h-1zM181 108h1v1h-1zM53 109h2v1h-2zM93 109h1v2h-1zM122 109h1v1h-1zM143 109h1v1h-1zM180 109h1v1h-1zM34 110h1v2h-1zM36 110h1v1h-1zM39 110h1v1h-1zM101 110h1v1h-1zM141 110h1v1h-1zM175 110h1v1h-1zM183 110h1v2h-1zM37 111h1v1h-1zM57 111h1v1h-1zM78 111h1v1h-1zM94 111h1v1h-1zM99 111h1v1h-1zM124 111h1v1h-1zM162 111h2v1h-2zM178 111h1v1h-1zM185 111h1v1h-1zM31 112h1v1h-1zM67 112h1v1h-1zM69 112h1v1h-1zM71 112h1v1h-1zM100 112h1v1h-1zM103 112h1v1h-1zM125 112h1v1h-1zM149 112h1v1h-1zM154 112h1v1h-1zM55 113h1v1h-1zM59 113h1v1h-1zM73 113h1v2h-1zM75 113h3v1h-3zM120 113h1v1h-1zM142 113h1v1h-1zM144 113h1v1h-1zM148 113h1v1h-1zM165 113h1v1h-1zM169 113h1v2h-1zM175 113h1v1h-1zM177 113h1v1h-1zM181 113h1v1h-1zM45 114h1v1h-1zM77 114h1v1h-1zM81 114h3v1h-3zM97 114h1v1h-1zM100 114h1v1h-1zM119 114h1v1h-1zM143 114h1v1h-1zM44 115h1v1h-1zM47 115h2v1h-2zM57 115h1v1h-1zM59 115h2v1h-2zM82 115h1v1h-1zM166 115h1v1h-1zM170 115h1v2h-1zM174 115h1v1h-1zM186 115h1v1h-1zM189 115h1v1h-1zM67 116h1v1h-1zM123 116h1v1h-1zM145 116h1v1h-1zM162 116h1v1h-1zM43 117h1v1h-1zM47 117h1v1h-1zM53 117h1v1h-1zM63 117h1v1h-1zM105 117h2v1h-2zM126 117h1v1h-1zM185 117h1v1h-1zM187 117h1v1h-1zM189 117h2v1h-2zM194 117h1v1h-1zM198 117h1v1h-1zM201 117h1v1h-1zM52 118h1v1h-1zM55 118h1v1h-1zM76 118h1v1h-1zM86 118h1v1h-1zM102 118h1v1h-1zM104 118h1v1h-1zM108 118h1v1h-1zM135 118h1v1h-1zM151 118h1v1h-1zM190 118h1v1h-1zM114 119h1v1h-1zM125 119h1v1h-1zM127 119h1v1h-1zM138 119h1v1h-1zM166 119h1v1h-1zM168 119h1v2h-1zM170 119h1v1h-1zM76 120h1v1h-1zM102 120h2v1h-2zM113 120h1v1h-1zM149 120h1v1h-1zM151 120h1v1h-1zM53 121h1v1h-1zM79 121h1v1h-1zM105 121h1v1h-1zM135 121h1v2h-1zM150 121h1v1h-1zM172 121h2v2h-2zM199 121h1v1h-1zM29 122h1v1h-1zM48 122h1v1h-1zM69 122h1v1h-1zM78 122h1v1h-1zM90 122h1v1h-1zM109 122h1v1h-1zM160 122h1v1h-1zM162 122h1v1h-1zM164 122h1v1h-1zM54 123h1v1h-1zM91 123h1v1h-1zM103 123h1v1h-1zM116 123h1v1h-1zM128 123h1v1h-1zM176 123h2v1h-2zM197 123h1v1h-1zM28 124h1v1h-1zM56 124h2v1h-2zM65 124h1v1h-1zM69 124h1v1h-1zM85 124h1v2h-1zM111 124h1v1h-1zM178 124h1v2h-1zM193 124h1v1h-1zM196 124h1v1h-1zM206 124h1v1h-1zM34 125h1v1h-1zM59 125h1v1h-1zM83 125h1v1h-1zM88 125h1v1h-1zM112 125h1v1h-1zM119 125h1v1h-1zM165 125h1v1h-1zM167 125h1v1h-1zM180 125h1v1h-1zM187 125h1v1h-1zM52 126h1v1h-1zM76 126h1v1h-1zM84 126h2v1h-2zM96 126h1v1h-1zM117 126h1v1h-1zM132 126h1v1h-1zM153 126h4v1h-4zM161 126h1v1h-1zM170 126h1v1h-1zM176 126h1v1h-1zM202 126h1v1h-1zM56 127h1v1h-1zM59 127h1v1h-1zM63 127h1v1h-1zM69 127h1v1h-1zM88 127h1v1h-1zM119 127h1v1h-1zM142 127h2v1h-2zM164 127h1v1h-1zM184 127h1v1h-1zM205 127h1v1h-1zM92 128h1v1h-1zM97 128h2v1h-2zM123 128h1v1h-1zM138 128h1v1h-1zM141 128h1v2h-1zM146 128h1v2h-1zM172 128h1v1h-1zM201 128h2v1h-2zM59 129h1v2h-1zM62 129h1v1h-1zM65 129h1v1h-1zM76 129h2v1h-2zM91 129h1v1h-1zM98 129h1v1h-1zM163 129h1v1h-1zM173 129h2v1h-2zM184 129h1v1h-1zM201 129h1v1h-1zM61 130h2v1h-2zM78 130h1v2h-1zM88 130h2v1h-2zM186 130h1v1h-1zM202 130h1v1h-1zM204 130h1v2h-1zM207 130h1v1h-1zM63 131h1v1h-1zM187 131h1v1h-1zM60 132h1v2h-1zM62 132h1v1h-1zM65 132h1v1h-1zM92 132h1v1h-1zM126 132h1v1h-1zM144 132h1v1h-1zM150 132h1v1h-1zM174 132h1v2h-1zM213 132h1v1h-1zM64 133h1v1h-1zM140 133h1v1h-1zM163 133h1v1h-1zM211 133h1v1h-1zM61 134h1v1h-1zM82 134h1v1h-1zM84 134h1v1h-1zM90 134h2v1h-2zM162 134h1v1h-1zM175 134h1v1h-1zM186 134h2v1h-2zM192 134h1v1h-1zM206 134h1v1h-1zM213 134h1v1h-1zM63 135h1v1h-1zM65 135h1v1h-1zM92 135h1v2h-1zM94 135h1v1h-1zM118 135h1v1h-1zM121 135h2v1h-2zM165 135h1v1h-1zM188 135h1v1h-1zM211 135h2v1h-2zM69 136h1v1h-1zM81 136h1v1h-1zM142 136h1v1h-1zM144 136h2v1h-2zM147 136h1v1h-1zM169 136h1v1h-1zM176 136h1v1h-1zM192 136h1v2h-1zM211 136h1v1h-1zM70 137h2v1h-2zM82 137h1v1h-1zM100 137h1v1h-1zM102 137h1v1h-1zM153 137h1v1h-1zM179 137h1v1h-1zM206 137h1v1h-1zM217 137h1v1h-1zM84 138h1v1h-1zM88 138h1v1h-1zM105 138h1v1h-1zM107 138h1v1h-1zM119 138h1v1h-1zM128 138h1v1h-1zM150 138h2v1h-2zM155 138h1v1h-1zM164 138h1v1h-1zM181 138h1v1h-1zM184 138h1v1h-1zM186 138h1v1h-1zM190 138h1v1h-1zM71 139h1v1h-1zM86 139h1v1h-1zM106 139h3v1h-3zM154 139h1v1h-1zM171 139h2v1h-2zM174 139h1v2h-1zM176 139h1v1h-1zM180 139h2v1h-2zM183 139h1v1h-1zM197 139h1v1h-1zM199 139h1v1h-1zM207 139h1v1h-1zM70 140h1v1h-1zM72 140h1v1h-1zM88 140h1v1h-1zM90 140h1v1h-1zM102 140h1v1h-1zM133 140h1v1h-1zM172 140h1v2h-1zM197 140h3v1h-3zM69 141h2v1h-2zM74 141h1v1h-1zM77 141h1v1h-1zM104 141h1v1h-1zM110 141h1v1h-1zM128 141h2v1h-2zM186 141h1v1h-1zM204 141h2v1h-2zM219 141h1v1h-1zM225 141h1v1h-1zM70 142h1v1h-1zM72 142h1v1h-1zM75 142h1v1h-1zM91 142h1v1h-1zM113 142h1v1h-1zM127 142h1v2h-1zM136 142h1v1h-1zM187 142h1v1h-1zM190 142h1v1h-1zM223 142h1v1h-1zM102 143h2v1h-2zM109 143h1v1h-1zM114 143h1v1h-1zM174 143h1v1h-1zM178 143h1v1h-1zM202 143h1v2h-1zM205 143h1v2h-1zM69 144h1v2h-1zM71 144h1v1h-1zM75 144h3v1h-3zM88 144h1v1h-1zM91 144h2v1h-2zM103 144h1v1h-1zM113 144h1v1h-1zM132 144h1v1h-1zM136 144h1v2h-1zM154 144h1v1h-1zM159 144h1v1h-1zM187 144h1v1h-1zM53 145h1v1h-1zM78 145h1v1h-1zM92 145h1v2h-1zM105 145h1v1h-1zM116 145h1v1h-1zM152 145h1v2h-1zM189 145h2v1h-2zM203 145h1v1h-1zM75 146h2v1h-2zM78 146h2v1h-2zM104 146h1v1h-1zM128 146h2v1h-2zM223 146h1v1h-1zM91 147h2v1h-2zM94 147h1v1h-1zM136 147h1v1h-1zM157 147h1v1h-1zM180 147h1v1h-1zM187 147h1v1h-1zM76 148h1v1h-1zM78 148h1v1h-1zM90 148h1v1h-1zM97 148h1v1h-1zM106 148h1v1h-1zM113 148h1v1h-1zM156 148h1v1h-1zM165 148h2v1h-2zM52 149h1v1h-1zM59 149h1v1h-1zM75 149h1v1h-1zM92 149h1v1h-1zM97 149h2v1h-2zM112 149h1v1h-1zM120 149h1v1h-1zM189 149h1v1h-1zM74 150h1v1h-1zM76 150h2v1h-2zM81 150h1v1h-1zM88 150h1v1h-1zM121 150h1v1h-1zM132 150h1v1h-1zM138 150h1v2h-1zM158 150h1v1h-1zM182 150h2v1h-2zM186 150h1v1h-1zM210 150h1v1h-1zM213 150h1v1h-1zM53 151h1v1h-1zM55 151h1v1h-1zM61 151h1v1h-1zM63 151h1v1h-1zM75 151h1v1h-1zM90 151h1v1h-1zM93 151h2v1h-2zM118 151h1v1h-1zM120 151h1v1h-1zM165 151h1v1h-1zM81 152h1v1h-1zM86 152h1v1h-1zM101 152h2v1h-2zM145 152h2v1h-2zM186 152h1v1h-1zM213 152h1v2h-1zM79 153h2v1h-2zM126 153h1v4h-1zM137 153h1v1h-1zM162 153h2v1h-2zM173 153h1v1h-1zM201 153h1v1h-1zM209 153h1v1h-1zM76 154h1v1h-1zM83 154h1v1h-1zM86 154h1v1h-1zM112 154h1v1h-1zM139 154h1v1h-1zM144 154h1v1h-1zM216 154h1v1h-1zM84 155h1v1h-1zM138 155h1v1h-1zM174 155h1v1h-1zM199 155h1v1h-1zM201 155h2v1h-2zM209 155h1v1h-1zM214 155h1v1h-1zM103 156h1v2h-1zM148 156h1v1h-1zM169 156h1v1h-1zM195 156h1v3h-1zM202 156h1v1h-1zM88 157h1v1h-1zM147 157h1v1h-1zM164 157h1v1h-1zM173 157h1v1h-1zM191 157h1v1h-1zM201 157h2v1h-2zM219 157h1v1h-1zM107 158h1v1h-1zM150 158h1v1h-1zM176 158h1v1h-1zM214 158h1v1h-1zM217 158h1v1h-1zM103 159h1v2h-1zM144 159h1v1h-1zM193 159h1v1h-1zM202 159h1v1h-1zM209 159h2v1h-2zM218 159h1v1h-1zM221 159h1v1h-1zM93 160h1v1h-1zM122 160h1v1h-1zM166 160h1v1h-1zM170 160h1v1h-1zM194 160h1v1h-1zM201 160h1v1h-1zM91 161h2v1h-2zM100 161h1v1h-1zM104 161h2v1h-2zM107 161h2v1h-2zM126 161h1v1h-1zM172 161h1v1h-1zM212 161h1v1h-1zM93 162h1v1h-1zM106 162h1v1h-1zM111 162h1v2h-1zM116 162h1v1h-1zM122 162h1v1h-1zM134 162h1v1h-1zM153 162h1v2h-1zM171 162h1v1h-1zM176 162h1v2h-1zM197 162h2v1h-2zM211 162h1v1h-1zM215 162h1v1h-1zM218 162h1v1h-1zM221 162h1v1h-1zM91 163h2v1h-2zM105 163h1v1h-1zM129 163h1v1h-1zM133 163h1v1h-1zM207 163h1v1h-1zM216 163h1v1h-1zM224 163h1v1h-1zM122 164h1v1h-1zM127 164h1v1h-1zM138 164h1v1h-1zM157 164h1v1h-1zM175 164h1v1h-1zM220 164h1v1h-1zM98 165h1v1h-1zM113 165h1v1h-1zM125 165h1v1h-1zM135 165h1v1h-1zM148 165h1v2h-1zM151 165h1v1h-1zM173 165h1v1h-1zM185 165h2v1h-2zM200 165h1v1h-1zM214 165h1v1h-1zM115 166h1v1h-1zM119 166h1v1h-1zM160 166h1v1h-1zM221 166h1v1h-1zM97 167h1v1h-1zM103 167h1v1h-1zM125 167h1v1h-1zM206 167h1v1h-1zM222 167h1v1h-1zM224 167h1v2h-1zM119 168h2v1h-2zM173 168h1v1h-1zM95 169h1v1h-1zM113 169h2v1h-2zM136 169h1v1h-1zM156 169h1v1h-1zM181 169h1v2h-1zM100 170h2v1h-2zM103 170h1v1h-1zM115 170h2v1h-2zM119 170h1v1h-1zM126 170h1v1h-1zM160 170h1v1h-1zM188 170h1v1h-1zM217 170h1v1h-1zM220 170h1v1h-1zM225 170h1v2h-1zM227 170h1v1h-1zM98 171h1v1h-1zM139 171h1v1h-1zM162 171h1v1h-1zM185 171h1v1h-1zM189 171h1v1h-1zM203 171h1v1h-1zM221 171h1v1h-1zM223 171h1v1h-1zM103 172h1v1h-1zM121 172h2v2h-2zM128 172h1v1h-1zM139 172h3v1h-3zM161 172h1v1h-1zM177 172h1v1h-1zM180 172h1v1h-1zM182 172h1v1h-1zM187 172h1v2h-1zM194 172h1v2h-1zM196 172h1v2h-1zM206 172h2v1h-2zM101 173h2v1h-2zM104 173h2v1h-2zM129 173h1v2h-1zM153 173h1v1h-1zM157 173h1v1h-1zM165 173h1v1h-1zM168 173h1v1h-1zM179 173h1v1h-1zM184 173h1v1h-1zM191 173h2v1h-2zM208 173h1v1h-1zM99 174h1v1h-1zM115 174h1v1h-1zM132 174h2v1h-2zM139 174h2v1h-2zM143 174h1v1h-1zM155 174h1v1h-1zM183 174h1v1h-1zM187 174h2v1h-2zM210 174h1v1h-1zM77 175h1v1h-1zM100 175h1v1h-1zM102 175h1v1h-1zM108 175h1v1h-1zM110 175h1v1h-1zM113 175h1v1h-1zM134 175h1v1h-1zM164 175h1v1h-1zM188 175h1v2h-1zM194 175h1v1h-1zM209 175h1v1h-1zM212 175h1v1h-1zM214 175h1v1h-1zM217 175h1v1h-1zM219 175h1v1h-1zM123 176h1v2h-1zM126 176h1v1h-1zM136 176h1v1h-1zM139 176h1v1h-1zM158 176h1v1h-1zM162 176h2v1h-2zM210 176h1v1h-1zM79 177h1v1h-1zM81 177h1v1h-1zM113 177h1v1h-1zM172 177h1v1h-1zM190 177h1v1h-1zM197 177h1v1h-1zM230 177h2v1h-2zM111 178h1v1h-1zM124 178h2v1h-2zM143 178h1v1h-1zM188 178h1v1h-1zM191 178h1v1h-1zM195 178h1v1h-1zM200 178h1v1h-1zM214 178h1v1h-1zM217 178h1v1h-1zM219 178h1v1h-1zM137 179h1v1h-1zM173 179h1v1h-1zM202 179h1v1h-1zM81 180h1v1h-1zM103 180h2v1h-2zM109 180h1v1h-1zM125 180h1v1h-1zM139 180h1v1h-1zM147 180h1v1h-1zM172 180h1v1h-1zM195 180h1v2h-1zM199 180h1v1h-1zM219 180h1v1h-1zM231 180h1v1h-1zM108 181h1v1h-1zM113 181h1v1h-1zM138 181h2v1h-2zM169 181h2v1h-2zM190 181h1v1h-1zM200 181h1v1h-1zM150 182h1v2h-1zM172 182h1v1h-1zM195 182h2v1h-2zM201 182h1v1h-1zM217 182h1v1h-1zM107 183h1v1h-1zM110 183h2v1h-2zM139 183h1v1h-1zM174 183h1v1h-1zM106 184h1v1h-1zM127 184h1v1h-1zM129 184h1v1h-1zM138 184h1v1h-1zM173 184h1v1h-1zM190 184h1v1h-1zM219 184h1v1h-1zM111 185h1v1h-1zM117 185h1v1h-1zM165 185h1v2h-1zM171 185h1v1h-1zM197 185h3v1h-3zM221 185h1v1h-1zM115 186h1v1h-1zM130 186h1v1h-1zM134 186h1v2h-1zM138 186h1v1h-1zM141 186h1v1h-1zM150 186h1v1h-1zM152 186h1v1h-1zM199 186h1v1h-1zM228 186h1v1h-1zM117 187h1v1h-1zM125 187h1v1h-1zM131 187h1v1h-1zM142 187h1v1h-1zM144 187h1v1h-1zM147 187h1v1h-1zM172 187h3v1h-3zM206 187h1v1h-1zM135 188h1v1h-1zM170 188h1v1h-1zM174 188h3v1h-3zM178 188h1v1h-1zM200 188h1v1h-1zM210 188h1v1h-1zM214 188h1v1h-1zM115 189h1v1h-1zM117 189h1v1h-1zM145 189h1v2h-1zM149 189h1v1h-1zM171 189h1v1h-1zM206 189h1v1h-1zM212 189h1v1h-1zM117 190h2v1h-2zM138 190h1v1h-1zM142 190h1v1h-1zM177 190h1v1h-1zM181 190h1v1h-1zM184 190h1v1h-1zM211 190h1v1h-1zM215 190h1v1h-1zM157 191h1v1h-1zM173 191h1v2h-1zM178 191h1v1h-1zM225 191h1v1h-1zM134 192h1v1h-1zM136 192h2v1h-2zM217 192h1v1h-1zM222 192h1v1h-1zM124 193h1v1h-1zM159 193h1v1h-1zM206 193h1v1h-1zM117 194h1v1h-1zM160 194h1v1h-1zM172 194h2v1h-2zM175 194h1v1h-1zM205 194h1v1h-1zM156 195h3v1h-3zM178 195h1v1h-1zM180 195h3v1h-3zM124 196h1v1h-1zM172 196h2v1h-2zM182 196h1v1h-1zM204 196h1v1h-1zM226 196h3v1h-3zM99 197h1v1h-1zM123 197h1v1h-1zM139 197h2v1h-2zM162 197h1v2h-1zM177 197h1v1h-1zM185 197h1v2h-1zM203 197h1v1h-1zM208 197h1v1h-1zM218 197h1v1h-1zM220 197h1v1h-1zM230 197h1v1h-1zM117 198h1v1h-1zM140 198h1v1h-1zM121 199h1v1h-1zM139 199h2v1h-2zM155 199h1v1h-1zM180 199h1v1h-1zM185 199h2v1h-2zM215 199h1v1h-1zM220 199h1v1h-1zM103 200h3v1h-3zM165 200h1v1h-1zM178 200h1v1h-1zM181 200h1v1h-1zM188 200h1v1h-1zM218 200h1v1h-1zM102 201h1v1h-1zM117 201h1v1h-1zM128 201h2v1h-2zM153 201h1v1h-1zM155 201h1v1h-1zM157 201h1v1h-1zM160 201h1v1h-1zM182 201h1v1h-1zM213 201h1v1h-1zM216 201h2v1h-2zM225 201h1v1h-1zM126 202h1v1h-1zM128 202h1v1h-1zM130 202h1v1h-1zM143 202h2v1h-2zM155 202h3v1h-3zM159 202h1v1h-1zM179 202h1v1h-1zM209 202h1v1h-1zM219 202h1v1h-1zM224 202h2v1h-2zM145 203h1v1h-1zM171 203h1v1h-1zM197 203h1v1h-1zM101 204h1v1h-1zM130 204h2v1h-2zM141 204h1v2h-1zM196 204h1v1h-1zM221 204h1v1h-1zM104 205h1v1h-1zM127 205h1v1h-1zM143 205h2v1h-2zM194 205h1v1h-1zM218 205h1v1h-1zM223 205h1v1h-1zM124 206h1v1h-1zM134 206h1v1h-1zM137 206h1v1h-1zM167 206h1v1h-1zM172 206h1v2h-1zM187 206h1v1h-1zM189 206h1v1h-1zM193 206h1v1h-1zM107 207h1v1h-1zM130 207h1v1h-1zM139 207h1v1h-1zM163 207h1v1h-1zM173 208h1v1h-1zM197 208h1v1h-1zM153 209h1v1h-1zM155 209h1v1h-1zM159 209h1v2h-1zM175 209h1v1h-1zM202 209h1v1h-1zM215 209h1v1h-1zM150 210h1v1h-1zM174 210h1v1h-1zM176 210h1v1h-1zM188 210h1v1h-1zM133 211h1v1h-1zM135 211h2v1h-2zM162 211h1v1h-1zM190 211h1v1h-1zM231 211h1v1h-1zM135 212h1v1h-1zM161 212h1v1h-1zM175 212h1v1h-1zM189 212h1v1h-1zM132 213h1v1h-1zM134 213h1v1h-1zM150 213h1v1h-1zM152 213h2v1h-2zM201 213h1v1h-1zM155 214h1v1h-1zM158 214h1v1h-1zM165 214h1v1h-1zM175 214h1v1h-1zM178 214h1v1h-1zM188 214h1v1h-1zM162 215h1v1h-1zM190 215h1v1h-1zM199 215h1v1h-1zM209 215h1v1h-1zM154 216h1v1h-1zM163 216h1v1h-1zM201 216h1v2h-1zM137 217h1v1h-1zM158 217h1v1h-1zM170 217h1v1h-1zM175 217h1v1h-1zM178 217h1v1h-1zM182 217h1v1h-1zM192 217h1v1h-1zM159 218h1v1h-1zM162 218h1v1h-1zM197 218h1v1h-1zM200 218h1v1h-1zM205 218h1v1h-1zM141 219h1v1h-1zM157 219h1v1h-1zM175 219h1v1h-1zM178 219h1v1h-1zM180 219h1v1h-1zM184 219h1v1h-1zM202 219h1v1h-1zM224 219h1v1h-1zM226 219h1v1h-1zM164 220h1v1h-1zM170 220h1v1h-1zM197 220h1v1h-1zM199 220h1v1h-1zM159 221h1v1h-1zM162 221h1v1h-1zM166 221h1v1h-1zM171 221h1v1h-1zM185 221h1v1h-1zM204 221h1v1h-1zM226 221h1v1h-1zM167 222h1v1h-1zM192 222h1v1h-1zM142 223h1v1h-1zM146 223h1v1h-1zM171 223h1v1h-1zM205 223h1v1h-1zM163 224h1v1h-1zM167 224h2v1h-2zM202 224h1v1h-1zM219 224h1v1h-1zM141 225h1v1h-1zM170 225h2v1h-2zM191 225h1v1h-1zM201 225h2v1h-2zM228 225h1v1h-1zM196 226h1v3h-1zM219 226h1v1h-1zM221 226h1v1h-1zM170 227h1v1h-1zM230 227h1v1h-1zM186 228h1v1h-1zM225 228h1v1h-1zM177 230h1v2h-1zM197 230h1v1h-1zM227 230h1v1h-1zM180 231h1v1h-1zM211 231h1v1h-1zM238 232h1v1h-1zM232 238h1v1h-1zM248 241h1v1h-1zM241 248h1v1h-1zM254 248h1v1h-1zM248 254h1v1h-1zM263 256h1v1h-1zM267 259h1v2h-1zM256 263h1v1h-1zM272 266h1v1h-1zM259 267h2v1h-2zM266 272h1v1h-1zM283 272h1v1h-1zM284 273h1v1h-1zM285 274h1v1h-1zM286 275h1v1h-1zM288 277h1v1h-1zM289 278h1v1h-1zM290 279h1v1h-1zM291 280h1v1h-1zM292 281h1v1h-1zM293 282h1v1h-1zM272 283h1v1h-1zM294 283h1v1h-1zM273 284h1v1h-1zM295 284h1v1h-1zM274 285h1v1h-1zM296 285h1v1h-1zM275 286h1v1h-1zM297 286h1v1h-1zM298 287h1v1h-1zM277 288h1v1h-1zM299 288h1v1h-1zM278 289h1v1h-1zM300 289h1v1h-1zM279 290h1v1h-1zM301 290h1v1h-1zM280 291h1v1h-1zM302 291h1v1h-1zM281 292h1v1h-1zM303 292h1v1h-1zM282 293h1v1h-1zM304 293h1v1h-1zM283 294h1v1h-1zM305 294h1v1h-1zM284 295h1v1h-1zM306 295h1v1h-1zM285 296h1v1h-1zM307 296h1v1h-1zM286 297h1v1h-1zM308 297h1v1h-1zM287 298h1v1h-1zM309 298h1v1h-1zM288 299h1v1h-1zM310 299h1v1h-1zM289 300h1v1h-1zM311 300h1v1h-1zM290 301h1v1h-1zM312 301h1v1h-1zM291 302h1v1h-1zM313 302h1v1h-1zM292 303h1v1h-1zM293 304h1v1h-1zM294 305h1v1h-1zM295 306h1v1h-1zM296 307h1v1h-1zM297 308h1v1h-1zM298 309h1v1h-1zM299 310h1v1h-1zM300 311h1v1h-1zM301 312h1v1h-1zM302 313h1v1h-1zM322 316h1v1h-1zM316 322h1v1h-1zM329 322h1v1h-1zM322 329h1v1h-1zM344 338h1v1h-1zM338 344h1v1h-1zM356 350h1v1h-1zM359 352h1v1h-1zM350 356h1v1h-1zM364 357h1v1h-1zM352 359h1v1h-1zM367 360h1v1h-1zM357 364h1v1h-1zM360 367h1v1h-1zM387 378h1v1h-1zM391 382h1v1h-1zM394 385h1v1h-1zM378 387h1v1h-1zM397 388h1v1h-1zM382 391h1v1h-1zM398 391h1v1h-1zM385 394h1v1h-1zM388 397h1v1h-1zM391 398h1v1h-1zM423 417h1v1h-1zM417 423h1v1h-1zM444 437h1v1h-1zM445 438h1v1h-1zM437 444h1v1h-1zM438 445h1v1h-1zM465 456h1v1h-1zM471 462h1v1h-1zM472 463h1v1h-1zM474 464h1v2h-1zM456 465h1v1h-1zM475 466h1v1h-1zM477 467h1v1h-1zM462 471h1v1h-1zM463 472h1v1h-1zM464 474h2v1h-2zM466 475h1v1h-1zM467 477h1v1h-1zM491 480h1v1h-1zM492 481h1v1h-1zM493 482h1v1h-1zM494 483h1v1h-1zM495 484h1v1h-1zM496 485h1v1h-1zM497 486h1v1h-1zM480 491h1v1h-1zM481 492h1v1h-1zM482 493h1v1h-1zM483 494h1v1h-1zM484 495h1v1h-1zM485 496h1v1h-1zM486 497h1v1h-1z"/>
<path fill="#4882b9" d="M16 0h1v1h-1zM43 0h1v1h-1zM46 0h1v1h-1zM54 0h1v1h-1zM6 1h1v1h-1zM41 1h1v1h-1zM70 1h1v1h-1zM72 1h1v1h-1zM75 1h2v1h-2zM5 2h1v1h-1zM41 2h2v1h-2zM44 2h1v1h-1zM73 2h1v1h-1zM77 2h1v1h-1zM15 3h1v1h-1zM46 3h1v1h-1zM50 3h1v2h-1zM58 3h1v1h-1zM71 3h1v1h-1zM77 3h2v1h-2zM22 4h1v1h-1zM43 4h1v1h-1zM47 4h1v1h-1zM59 4h1v1h-1zM70 4h1v1h-1zM78 4h1v1h-1zM2 5h1v1h-1zM64 5h1v1h-1zM68 5h1v1h-1zM86 5h1v1h-1zM97 5h2v1h-2zM1 6h1v1h-1zM44 6h1v1h-1zM58 6h2v1h-2zM79 6h1v1h-1zM81 6h1v1h-1zM22 7h1v1h-1zM24 7h1v1h-1zM38 7h1v2h-1zM68 7h1v1h-1zM82 7h1v1h-1zM105 7h1v1h-1zM18 8h1v1h-1zM20 8h1v3h-1zM42 8h1v1h-1zM52 8h1v1h-1zM62 9h1v1h-1zM77 9h1v1h-1zM79 9h1v1h-1zM56 10h1v1h-1zM65 10h1v1h-1zM81 10h1v1h-1zM20 11h2v1h-2zM44 11h1v1h-1zM51 11h2v1h-2zM77 11h1v1h-1zM53 12h1v1h-1zM79 12h2v1h-2zM84 12h1v1h-1zM28 13h1v1h-1zM45 13h1v1h-1zM52 13h1v1h-1zM83 13h1v1h-1zM85 13h2v1h-2zM27 14h2v1h-2zM51 14h1v1h-1zM78 14h1v1h-1zM82 14h1v1h-1zM85 14h1v1h-1zM3 15h1v1h-1zM27 15h1v1h-1zM58 15h1v1h-1zM66 15h1v1h-1zM81 15h1v1h-1zM0 16h1v1h-1zM24 16h3v1h-3zM47 16h1v1h-1zM53 16h1v1h-1zM71 16h1v1h-1zM79 16h1v1h-1zM77 17h1v1h-1zM79 17h2v1h-2zM86 17h1v1h-1zM88 17h1v1h-1zM91 17h1v1h-1zM8 18h1v1h-1zM23 18h1v1h-1zM30 18h1v1h-1zM33 18h1v1h-1zM49 18h1v1h-1zM52 18h1v1h-1zM64 18h1v1h-1zM66 18h1v1h-1zM68 18h1v1h-1zM58 19h2v1h-2zM74 19h1v1h-1zM76 19h1v1h-1zM91 19h1v1h-1zM94 19h1v1h-1zM8 20h4v1h-4zM36 20h1v1h-1zM63 20h1v1h-1zM75 20h1v1h-1zM11 21h1v1h-1zM92 21h1v1h-1zM4 22h1v1h-1zM7 22h1v1h-1zM30 22h2v1h-2zM40 22h1v1h-1zM63 22h1v1h-1zM68 22h1v1h-1zM76 22h1v1h-1zM93 22h1v3h-1zM99 22h1v1h-1zM18 23h1v1h-1zM67 23h1v2h-1zM7 24h1v1h-1zM16 24h1v3h-1zM39 24h1v1h-1zM55 24h1v1h-1zM76 24h1v1h-1zM99 24h1v1h-1zM40 25h1v1h-1zM57 25h1v1h-1zM91 25h2v1h-2zM36 26h1v1h-1zM67 26h1v1h-1zM78 26h2v1h-2zM95 26h1v1h-1zM97 26h1v1h-1zM14 27h2v1h-2zM40 27h1v1h-1zM61 27h2v1h-2zM81 27h1v1h-1zM91 27h1v1h-1zM115 27h1v1h-1zM121 27h1v1h-1zM13 28h2v1h-2zM63 28h2v1h-2zM105 28h1v1h-1zM38 29h1v1h-1zM43 29h1v2h-1zM62 29h1v1h-1zM65 29h1v1h-1zM91 29h1v1h-1zM100 29h1v1h-1zM125 29h1v1h-1zM18 30h1v1h-1zM22 30h1v2h-1zM83 30h1v1h-1zM88 30h1v1h-1zM101 30h1v1h-1zM110 30h1v1h-1zM126 30h1v1h-1zM39 31h1v1h-1zM46 31h1v1h-1zM50 31h1v1h-1zM72 31h1v1h-1zM86 31h1v1h-1zM92 31h1v1h-1zM109 31h1v2h-1zM125 31h1v1h-1zM43 32h1v2h-1zM49 32h1v1h-1zM69 32h1v1h-1zM91 32h1v1h-1zM101 32h1v1h-1zM106 32h1v1h-1zM111 32h1v1h-1zM18 33h1v1h-1zM45 33h1v1h-1zM103 33h1v1h-1zM109 33h2v1h-2zM127 33h1v1h-1zM67 34h1v1h-1zM88 34h1v1h-1zM51 35h1v1h-1zM71 35h1v1h-1zM130 35h1v1h-1zM20 36h1v1h-1zM26 36h1v1h-1zM78 36h1v1h-1zM91 36h1v2h-1zM103 36h1v1h-1zM106 36h1v1h-1zM127 36h1v1h-1zM70 37h2v1h-2zM76 37h1v1h-1zM113 37h1v1h-1zM7 38h2v1h-2zM29 38h1v1h-1zM48 38h1v1h-1zM53 38h1v1h-1zM56 38h1v1h-1zM78 38h2v1h-2zM83 38h1v1h-1zM88 38h1v1h-1zM111 38h1v1h-1zM24 39h1v1h-1zM31 39h1v1h-1zM90 39h1v1h-1zM107 39h2v1h-2zM22 40h1v1h-1zM25 40h1v1h-1zM27 40h1v1h-1zM46 40h1v1h-1zM54 40h1v1h-1zM56 40h1v1h-1zM76 40h1v1h-1zM83 40h1v1h-1zM111 40h1v1h-1zM115 40h1v1h-1zM1 41h2v1h-2zM50 41h1v3h-1zM95 41h1v2h-1zM98 41h1v1h-1zM107 41h1v1h-1zM109 41h2v1h-2zM2 42h1v1h-1zM8 42h1v1h-1zM56 42h1v1h-1zM81 42h1v1h-1zM87 42h1v1h-1zM97 42h1v1h-1zM0 43h1v1h-1zM4 43h1v1h-1zM29 43h2v1h-2zM32 43h2v1h-2zM59 43h1v1h-1zM62 43h1v1h-1zM76 43h1v2h-1zM78 43h1v1h-1zM96 43h1v1h-1zM105 43h1v1h-1zM113 43h1v1h-1zM2 44h1v1h-1zM6 44h1v1h-1zM11 44h1v1h-1zM80 44h1v1h-1zM86 44h1v1h-1zM99 44h1v1h-1zM13 45h1v1h-1zM33 45h1v1h-1zM79 45h2v1h-2zM87 45h1v1h-1zM121 45h1v1h-1zM0 46h1v1h-1zM3 46h1v1h-1zM31 46h1v1h-1zM40 46h1v1h-1zM54 46h1v1h-1zM66 46h1v1h-1zM4 47h1v1h-1zM16 47h1v1h-1zM88 47h1v1h-1zM38 48h1v1h-1zM63 48h1v1h-1zM66 48h1v1h-1zM105 48h1v1h-1zM124 48h1v1h-1zM18 49h1v1h-1zM32 49h1v1h-1zM104 49h1v1h-1zM115 49h1v1h-1zM117 49h1v1h-1zM121 49h1v1h-1zM3 50h2v1h-2zM31 50h1v1h-1zM41 50h3v1h-3zM79 50h1v1h-1zM93 50h1v1h-1zM103 50h1v1h-1zM11 51h1v2h-1zM14 51h1v1h-1zM35 51h1v1h-1zM59 51h1v1h-1zM61 51h1v2h-1zM81 51h1v1h-1zM8 52h1v1h-1zM13 52h1v1h-1zM18 52h1v1h-1zM64 52h1v2h-1zM82 52h1v1h-1zM88 52h1v1h-1zM90 52h1v1h-1zM119 52h1v1h-1zM144 52h2v1h-2zM151 52h1v1h-1zM12 53h1v1h-1zM16 53h1v1h-1zM38 53h1v1h-1zM86 53h1v2h-1zM89 53h2v1h-2zM106 53h1v2h-1zM111 53h1v1h-1zM118 53h1v2h-1zM126 53h1v1h-1zM147 53h1v1h-1zM0 54h1v1h-1zM40 54h1v1h-1zM46 54h1v1h-1zM68 54h1v2h-1zM88 54h1v1h-1zM110 54h1v1h-1zM113 54h1v1h-1zM115 54h1v1h-1zM129 54h1v2h-1zM24 55h1v1h-1zM66 55h1v1h-1zM96 55h1v1h-1zM111 55h2v1h-2zM122 55h1v1h-1zM147 55h1v1h-1zM149 55h1v1h-1zM10 56h1v1h-1zM38 56h1v1h-1zM40 56h1v1h-1zM42 56h1v1h-1zM83 56h1v1h-1zM88 56h1v1h-1zM99 56h2v1h-2zM108 56h1v1h-1zM125 56h1v1h-1zM25 57h1v1h-1zM93 57h1v1h-1zM131 57h1v1h-1zM150 57h1v1h-1zM3 58h1v1h-1zM6 58h1v2h-1zM15 58h1v1h-1zM19 58h1v2h-1zM75 58h1v1h-1zM101 58h1v1h-1zM130 58h1v1h-1zM151 58h1v1h-1zM4 59h1v1h-1zM43 59h1v1h-1zM51 59h1v1h-1zM70 59h1v1h-1zM91 59h2v1h-2zM114 59h1v2h-1zM124 59h1v1h-1zM126 59h1v1h-1zM71 60h1v1h-1zM75 60h1v1h-1zM92 60h2v1h-2zM101 60h1v1h-1zM125 60h1v1h-1zM153 60h1v1h-1zM27 61h1v2h-1zM51 61h2v1h-2zM70 61h1v1h-1zM131 61h1v2h-1zM9 62h1v1h-1zM29 62h1v1h-1zM43 62h1v1h-1zM68 62h1v1h-1zM76 62h1v1h-1zM114 62h2v1h-2zM127 62h2v1h-2zM20 63h1v1h-1zM22 63h1v1h-1zM28 63h1v2h-1zM48 63h1v1h-1zM103 63h1v1h-1zM5 64h1v1h-1zM18 64h1v1h-1zM52 64h2v1h-2zM73 64h1v1h-1zM76 64h1v1h-1zM117 64h1v1h-1zM137 64h1v1h-1zM10 65h1v1h-1zM29 65h1v1h-1zM95 65h1v1h-1zM102 65h1v1h-1zM116 65h1v1h-1zM15 66h1v1h-1zM18 66h1v1h-1zM46 66h1v1h-1zM48 66h1v1h-1zM55 66h1v1h-1zM84 66h1v1h-1zM94 66h1v1h-1zM109 66h1v1h-1zM117 66h1v1h-1zM23 67h2v1h-2zM26 67h1v1h-1zM34 67h1v1h-1zM103 67h1v1h-1zM118 67h1v2h-1zM5 68h1v1h-1zM7 68h1v1h-1zM18 68h1v1h-1zM22 68h1v1h-1zM54 68h2v1h-2zM62 68h1v1h-1zM84 68h1v1h-1zM86 68h1v1h-1zM105 68h1v1h-1zM110 68h1v1h-1zM32 69h1v1h-1zM102 69h1v1h-1zM107 69h1v1h-1zM143 69h1v1h-1zM146 69h1v2h-1zM1 70h1v1h-1zM4 70h1v1h-1zM37 70h1v2h-1zM59 70h1v1h-1zM61 70h1v1h-1zM104 70h1v1h-1zM106 70h1v1h-1zM143 70h2v1h-2zM3 71h1v1h-1zM16 71h1v1h-1zM35 71h1v1h-1zM60 71h1v1h-1zM80 71h1v1h-1zM85 71h1v1h-1zM147 71h1v1h-1zM1 72h1v1h-1zM31 72h1v1h-1zM78 72h2v1h-2zM125 72h1v1h-1zM138 72h1v1h-1zM141 72h1v1h-1zM2 73h1v1h-1zM64 73h1v1h-1zM88 73h1v2h-1zM140 73h1v1h-1zM144 73h1v1h-1zM146 73h1v1h-1zM19 74h1v1h-1zM85 74h1v1h-1zM90 74h1v1h-1zM126 74h1v2h-1zM128 74h1v1h-1zM142 74h1v1h-1zM1 75h1v2h-1zM20 75h1v1h-1zM58 75h1v1h-1zM60 75h1v1h-1zM81 75h1v1h-1zM107 75h1v1h-1zM111 75h1v1h-1zM141 75h1v1h-1zM150 75h1v1h-1zM170 75h1v1h-1zM19 76h1v1h-1zM22 76h1v1h-1zM24 76h1v1h-1zM37 76h1v1h-1zM40 76h1v1h-1zM43 76h2v1h-2zM62 76h1v1h-1zM64 76h1v1h-1zM84 76h1v1h-1zM86 76h1v1h-1zM106 76h2v1h-2zM141 76h2v1h-2zM169 76h1v1h-1zM174 76h1v1h-1zM2 77h2v1h-2zM9 77h1v1h-1zM11 77h1v1h-1zM17 77h1v1h-1zM112 77h1v2h-1zM138 77h1v1h-1zM3 78h2v1h-2zM14 78h1v1h-1zM26 78h1v2h-1zM36 78h1v1h-1zM38 78h1v2h-1zM43 78h1v1h-1zM72 78h1v2h-1zM87 78h1v1h-1zM95 78h1v1h-1zM150 78h1v1h-1zM174 78h1v1h-1zM6 79h1v1h-1zM9 79h1v1h-1zM12 79h1v2h-1zM16 79h2v1h-2zM45 79h1v1h-1zM50 79h1v1h-1zM90 79h1v1h-1zM96 79h1v1h-1zM122 79h1v1h-1zM17 80h1v1h-1zM44 80h2v1h-2zM71 80h1v1h-1zM95 80h1v1h-1zM123 80h1v1h-1zM136 80h1v1h-1zM147 80h1v1h-1zM154 80h1v1h-1zM156 80h1v1h-1zM6 81h1v1h-1zM10 81h1v1h-1zM15 81h1v1h-1zM27 81h1v1h-1zM42 81h1v1h-1zM51 81h1v1h-1zM75 81h1v1h-1zM97 81h1v1h-1zM7 82h1v1h-1zM14 82h1v1h-1zM52 82h1v1h-1zM92 82h1v1h-1zM124 82h1v1h-1zM136 82h1v1h-1zM13 83h1v1h-1zM30 83h1v1h-1zM38 83h1v1h-1zM40 83h1v1h-1zM56 83h1v1h-1zM93 83h1v1h-1zM12 84h1v1h-1zM66 84h1v1h-1zM68 84h1v1h-1zM76 84h1v1h-1zM117 84h1v1h-1zM124 84h1v1h-1zM159 84h1v1h-1zM13 85h2v1h-2zM71 85h1v1h-1zM74 85h1v1h-1zM97 85h1v1h-1zM100 85h3v1h-3zM150 85h1v1h-1zM153 85h2v1h-2zM158 85h1v2h-1zM5 86h1v1h-1zM13 86h1v1h-1zM17 86h1v1h-1zM31 86h1v1h-1zM44 86h1v1h-1zM53 86h2v1h-2zM68 86h1v1h-1zM76 86h1v1h-1zM94 86h1v1h-1zM96 86h1v1h-1zM153 86h1v1h-1zM156 86h1v1h-1zM42 87h1v1h-1zM45 87h1v1h-1zM78 87h1v1h-1zM127 87h2v1h-2zM159 87h1v1h-1zM17 88h1v1h-1zM30 88h1v1h-1zM34 88h1v1h-1zM38 88h1v1h-1zM47 88h1v1h-1zM52 88h1v1h-1zM54 88h1v1h-1zM56 88h1v1h-1zM73 88h2v1h-2zM118 88h1v1h-1zM156 88h1v1h-1zM53 89h1v1h-1zM119 89h1v2h-1zM121 89h1v1h-1zM123 89h1v2h-1zM128 89h1v2h-1zM131 89h1v1h-1zM39 90h1v1h-1zM52 90h2v1h-2zM74 90h1v1h-1zM79 90h1v1h-1zM102 90h1v1h-1zM107 90h2v1h-2zM125 90h1v1h-1zM145 90h1v1h-1zM147 90h1v1h-1zM17 91h1v1h-1zM19 91h1v1h-1zM25 91h1v2h-1zM27 91h1v1h-1zM29 91h1v1h-1zM32 91h1v1h-1zM36 91h2v1h-2zM59 91h1v1h-1zM151 91h1v1h-1zM162 91h1v1h-1zM169 91h1v1h-1zM21 92h1v1h-1zM31 92h1v1h-1zM59 92h2v1h-2zM82 92h1v1h-1zM109 92h1v1h-1zM134 92h1v1h-1zM148 92h1v1h-1zM167 92h1v1h-1zM22 93h3v1h-3zM50 93h1v1h-1zM57 93h1v1h-1zM60 93h1v1h-1zM83 93h1v1h-1zM108 93h1v1h-1zM126 93h1v1h-1zM148 93h2v1h-2zM159 93h1v1h-1zM19 94h1v1h-1zM66 94h1v1h-1zM86 94h1v1h-1zM102 94h1v1h-1zM105 94h1v1h-1zM110 94h1v1h-1zM112 94h1v2h-1zM127 94h1v1h-1zM136 94h1v1h-1zM148 94h1v1h-1zM161 94h1v1h-1zM163 94h1v1h-1zM167 94h1v1h-1zM26 95h1v1h-1zM41 95h2v1h-2zM65 95h1v1h-1zM78 95h1v1h-1zM80 95h1v1h-1zM170 95h1v1h-1zM43 96h1v1h-1zM55 96h1v1h-1zM79 96h1v1h-1zM86 96h1v1h-1zM108 96h1v1h-1zM136 96h1v1h-1zM150 96h2v1h-2zM163 96h1v1h-1zM165 96h1v1h-1zM5 97h1v2h-1zM26 97h1v1h-1zM42 97h1v1h-1zM81 97h1v1h-1zM85 97h1v1h-1zM111 97h1v1h-1zM41 98h1v1h-1zM106 98h1v1h-1zM166 98h1v1h-1zM168 98h1v1h-1zM173 98h1v1h-1zM175 98h1v1h-1zM195 98h1v2h-1zM22 99h1v1h-1zM24 99h1v1h-1zM44 99h1v1h-1zM56 99h1v2h-1zM129 99h1v2h-1zM138 99h1v1h-1zM164 99h1v1h-1zM167 99h1v1h-1zM177 99h1v1h-1zM29 100h1v1h-1zM85 100h1v3h-1zM116 100h1v2h-1zM30 101h1v1h-1zM32 101h1v1h-1zM58 101h1v1h-1zM60 101h1v1h-1zM114 101h1v2h-1zM120 101h1v1h-1zM130 101h1v1h-1zM65 102h1v1h-1zM69 102h1v1h-1zM90 102h1v1h-1zM94 102h1v1h-1zM108 102h1v1h-1zM111 102h1v1h-1zM119 102h1v1h-1zM131 102h2v1h-2zM135 102h1v1h-1zM141 102h1v1h-1zM144 102h1v1h-1zM156 102h1v1h-1zM161 102h1v1h-1zM176 102h1v2h-1zM204 102h1v1h-1zM33 103h1v1h-1zM36 103h1v1h-1zM50 103h1v1h-1zM63 103h1v1h-1zM67 103h1v1h-1zM118 103h1v1h-1zM133 103h2v1h-2zM138 103h1v2h-1zM140 103h1v1h-1zM154 103h2v1h-2zM174 103h1v1h-1zM179 103h1v2h-1zM199 103h1v1h-1zM204 103h3v1h-3zM49 104h1v1h-1zM70 104h1v1h-1zM116 104h1v1h-1zM136 104h1v1h-1zM143 104h1v1h-1zM160 104h1v1h-1zM169 104h1v2h-1zM181 104h1v1h-1zM206 104h1v1h-1zM7 105h1v1h-1zM28 105h1v1h-1zM43 105h1v1h-1zM48 105h1v1h-1zM68 105h1v1h-1zM94 105h1v1h-1zM118 105h1v1h-1zM158 105h1v2h-1zM32 106h1v1h-1zM36 106h1v1h-1zM53 106h2v1h-2zM70 106h1v1h-1zM76 106h1v1h-1zM98 106h1v1h-1zM123 106h1v1h-1zM137 106h1v1h-1zM147 106h1v1h-1zM179 106h1v1h-1zM205 106h1v1h-1zM39 107h1v2h-1zM41 107h1v1h-1zM69 107h1v1h-1zM75 107h2v1h-2zM90 107h1v2h-1zM121 107h1v1h-1zM176 107h1v1h-1zM206 107h1v1h-1zM56 108h1v1h-1zM93 108h1v1h-1zM96 108h1v1h-1zM102 108h1v1h-1zM160 108h1v1h-1zM205 108h1v1h-1zM31 109h3v1h-3zM41 109h1v2h-1zM66 109h1v1h-1zM92 109h1v1h-1zM123 109h1v1h-1zM140 109h1v2h-1zM174 109h1v2h-1zM176 109h1v1h-1zM182 109h2v1h-2zM185 109h1v1h-1zM208 109h1v1h-1zM30 110h1v1h-1zM33 110h1v1h-1zM54 110h1v1h-1zM68 110h1v1h-1zM94 110h1v1h-1zM116 110h1v1h-1zM179 110h1v1h-1zM187 110h1v1h-1zM32 111h1v1h-1zM38 111h1v1h-1zM40 111h1v1h-1zM53 111h1v1h-1zM55 111h1v2h-1zM75 111h1v1h-1zM97 111h1v1h-1zM102 111h1v1h-1zM145 111h1v1h-1zM147 111h1v1h-1zM177 111h1v1h-1zM77 112h2v1h-2zM94 112h2v1h-2zM116 112h1v1h-1zM118 112h1v1h-1zM122 112h1v1h-1zM152 112h2v1h-2zM185 112h1v1h-1zM37 113h1v1h-1zM43 113h1v1h-1zM54 113h1v1h-1zM123 113h1v1h-1zM183 113h1v1h-1zM186 113h1v1h-1zM59 114h2v1h-2zM62 114h1v2h-1zM101 114h2v1h-2zM147 114h1v1h-1zM150 114h1v1h-1zM154 114h1v1h-1zM167 114h1v1h-1zM185 114h1v1h-1zM27 115h1v1h-1zM40 115h1v1h-1zM49 115h1v1h-1zM54 115h1v1h-1zM182 115h1v1h-1zM184 115h1v1h-1zM187 115h1v1h-1zM191 115h1v1h-1zM65 116h1v1h-1zM100 116h2v1h-2zM104 116h1v1h-1zM110 116h1v1h-1zM112 116h1v1h-1zM122 116h1v1h-1zM132 116h1v1h-1zM147 116h1v1h-1zM160 116h1v1h-1zM49 117h1v1h-1zM64 117h1v1h-1zM66 117h1v1h-1zM84 117h1v1h-1zM130 117h2v1h-2zM153 117h2v1h-2zM156 117h1v1h-1zM172 117h1v1h-1zM174 117h1v1h-1zM53 118h2v1h-2zM67 118h2v1h-2zM88 118h1v1h-1zM103 118h1v1h-1zM105 118h1v1h-1zM112 118h1v1h-1zM127 118h1v1h-1zM165 118h1v1h-1zM171 118h1v1h-1zM191 118h1v1h-1zM193 118h1v1h-1zM52 119h1v1h-1zM89 119h2v1h-2zM102 119h1v1h-1zM149 119h1v1h-1zM195 119h1v1h-1zM101 120h1v1h-1zM138 120h1v1h-1zM161 120h1v1h-1zM165 120h1v1h-1zM27 121h1v1h-1zM45 121h1v1h-1zM49 121h1v1h-1zM89 121h1v1h-1zM107 121h1v1h-1zM191 121h1v1h-1zM193 121h1v1h-1zM196 121h1v1h-1zM200 121h1v1h-1zM205 121h1v1h-1zM55 122h1v1h-1zM79 122h1v1h-1zM112 122h1v1h-1zM116 122h1v1h-1zM161 122h1v1h-1zM175 122h1v1h-1zM202 122h1v2h-1zM80 123h1v1h-1zM89 123h2v1h-2zM106 123h1v1h-1zM109 123h1v1h-1zM113 123h1v1h-1zM138 123h1v1h-1zM159 123h2v1h-2zM164 123h2v2h-2zM198 123h1v1h-1zM48 124h1v1h-1zM59 124h1v1h-1zM82 124h1v1h-1zM84 124h1v1h-1zM180 124h1v1h-1zM185 124h1v1h-1zM187 124h1v1h-1zM189 124h1v1h-1zM29 125h1v1h-1zM31 125h1v1h-1zM56 125h1v1h-1zM60 125h1v1h-1zM72 125h1v1h-1zM90 125h1v1h-1zM151 125h1v1h-1zM166 125h1v1h-1zM208 125h1v1h-1zM30 126h1v1h-1zM53 126h1v1h-1zM59 126h1v1h-1zM74 126h2v1h-2zM93 126h1v1h-1zM136 126h1v1h-1zM140 126h2v1h-2zM143 126h1v1h-1zM145 126h1v1h-1zM157 126h2v1h-2zM167 126h1v1h-1zM180 126h1v1h-1zM190 126h1v1h-1zM33 127h1v1h-1zM36 127h1v1h-1zM62 127h1v2h-1zM87 127h1v2h-1zM94 127h1v1h-1zM118 127h1v1h-1zM144 127h1v1h-1zM195 127h1v1h-1zM197 127h1v1h-1zM200 127h1v2h-1zM74 128h1v1h-1zM89 128h2v1h-2zM143 128h1v1h-1zM162 128h1v1h-1zM171 128h1v1h-1zM187 128h1v1h-1zM54 129h2v1h-2zM99 129h2v1h-2zM169 129h2v1h-2zM202 129h1v1h-1zM35 130h1v1h-1zM58 130h1v1h-1zM101 130h1v1h-1zM117 130h1v2h-1zM138 130h1v1h-1zM145 130h2v1h-2zM163 130h1v2h-1zM182 130h1v1h-1zM184 130h1v1h-1zM208 130h1v2h-1zM57 131h1v1h-1zM61 131h2v1h-2zM89 131h1v1h-1zM102 131h1v2h-1zM140 131h1v2h-1zM183 131h1v1h-1zM116 132h1v1h-1zM142 132h1v1h-1zM148 132h1v1h-1zM103 133h1v2h-1zM186 133h1v1h-1zM207 133h2v1h-2zM213 133h1v1h-1zM92 134h1v1h-1zM207 134h1v2h-1zM211 134h1v1h-1zM102 135h1v1h-1zM143 135h3v1h-3zM174 135h1v1h-1zM176 135h1v1h-1zM189 135h1v2h-1zM191 135h1v1h-1zM80 136h1v1h-1zM82 136h1v1h-1zM94 136h1v1h-1zM96 136h1v1h-1zM104 136h1v1h-1zM126 136h1v1h-1zM146 136h1v1h-1zM148 136h1v1h-1zM167 136h1v1h-1zM177 136h2v1h-2zM195 136h1v1h-1zM64 137h1v1h-1zM106 137h1v1h-1zM193 137h2v1h-2zM197 137h1v1h-1zM213 137h1v1h-1zM72 138h1v1h-1zM77 138h1v1h-1zM99 138h1v1h-1zM103 138h2v1h-2zM120 138h1v1h-1zM123 138h1v1h-1zM130 138h1v1h-1zM152 138h2v1h-2zM173 138h2v1h-2zM182 138h2v1h-2zM218 138h1v1h-1zM182 139h1v1h-1zM192 139h1v1h-1zM196 139h1v2h-1zM200 139h1v1h-1zM202 139h1v1h-1zM73 140h1v1h-1zM103 140h1v1h-1zM109 140h2v1h-2zM126 140h1v2h-1zM131 140h2v1h-2zM173 140h1v1h-1zM183 140h1v1h-1zM201 140h1v1h-1zM72 141h1v1h-1zM75 141h2v1h-2zM102 141h1v1h-1zM153 141h1v1h-1zM155 141h2v1h-2zM174 141h1v1h-1zM74 142h1v1h-1zM76 142h1v1h-1zM132 142h1v1h-1zM150 142h1v1h-1zM158 142h1v1h-1zM172 142h1v1h-1zM188 142h1v2h-1zM192 142h1v1h-1zM196 142h1v1h-1zM199 142h2v1h-2zM69 143h2v1h-2zM104 143h1v1h-1zM126 143h1v1h-1zM128 143h1v1h-1zM135 143h1v3h-1zM204 143h1v1h-1zM52 144h1v2h-1zM70 144h1v1h-1zM73 144h1v1h-1zM102 144h1v1h-1zM127 144h1v1h-1zM185 144h1v1h-1zM90 145h1v1h-1zM111 145h1v1h-1zM126 145h1v1h-1zM130 145h1v2h-1zM192 145h1v1h-1zM228 145h1v1h-1zM69 146h2v1h-2zM73 146h1v1h-1zM136 146h1v1h-1zM155 146h1v1h-1zM163 146h1v1h-1zM177 146h1v1h-1zM187 146h1v1h-1zM53 147h1v1h-1zM55 147h1v1h-1zM71 147h1v1h-1zM80 147h1v1h-1zM90 147h1v1h-1zM106 147h1v1h-1zM111 147h1v1h-1zM114 147h1v1h-1zM116 147h1v1h-1zM179 147h1v1h-1zM182 147h1v1h-1zM185 147h2v1h-2zM192 147h1v1h-1zM228 147h1v1h-1zM92 148h3v1h-3zM132 148h1v1h-1zM136 148h1v1h-1zM154 148h2v1h-2zM181 148h1v1h-1zM187 148h1v1h-1zM189 148h1v1h-1zM191 148h1v1h-1zM193 148h2v1h-2zM208 148h1v1h-1zM229 148h1v1h-1zM55 149h1v1h-1zM93 149h1v1h-1zM119 149h1v1h-1zM188 149h1v1h-1zM190 149h1v1h-1zM210 149h1v1h-1zM228 149h1v1h-1zM57 150h1v1h-1zM75 150h1v1h-1zM78 150h1v1h-1zM85 150h1v1h-1zM96 150h1v2h-1zM114 150h1v1h-1zM142 150h1v1h-1zM165 150h1v1h-1zM184 150h1v1h-1zM197 150h1v1h-1zM209 150h1v1h-1zM52 151h1v1h-1zM58 151h1v1h-1zM91 151h1v1h-1zM125 151h1v1h-1zM190 151h1v1h-1zM196 151h1v1h-1zM216 151h1v1h-1zM229 151h1v1h-1zM112 152h1v2h-1zM138 152h1v2h-1zM170 152h1v1h-1zM200 152h1v1h-1zM203 152h1v2h-1zM60 153h1v1h-1zM85 153h2v1h-2zM117 153h1v2h-1zM141 153h1v1h-1zM212 153h1v1h-1zM215 153h1v1h-1zM80 154h1v1h-1zM85 154h1v1h-1zM103 154h1v2h-1zM114 154h1v1h-1zM148 154h1v2h-1zM187 154h2v1h-2zM201 154h1v1h-1zM213 154h2v1h-2zM141 155h1v2h-1zM146 155h1v1h-1zM189 155h1v1h-1zM200 155h1v1h-1zM216 155h1v1h-1zM219 155h1v1h-1zM80 156h1v1h-1zM86 156h1v1h-1zM88 156h1v1h-1zM102 156h1v1h-1zM117 156h1v1h-1zM188 156h1v1h-1zM191 156h1v1h-1zM201 156h1v1h-1zM217 156h1v1h-1zM126 157h1v2h-1zM190 157h1v1h-1zM216 157h1v1h-1zM85 158h2v1h-2zM105 158h2v1h-2zM142 158h1v1h-1zM170 158h1v1h-1zM174 158h1v1h-1zM202 158h1v1h-1zM209 158h1v1h-1zM212 158h1v1h-1zM84 159h1v1h-1zM87 159h1v1h-1zM93 159h1v1h-1zM123 159h1v2h-1zM166 159h1v1h-1zM168 159h1v1h-1zM197 159h2v1h-2zM104 160h1v1h-1zM108 160h1v1h-1zM116 160h1v1h-1zM173 160h1v1h-1zM176 160h1v1h-1zM200 160h1v1h-1zM202 160h1v1h-1zM212 160h1v1h-1zM94 161h1v1h-1zM102 161h1v1h-1zM120 161h1v1h-1zM122 161h1v1h-1zM196 161h1v2h-1zM220 161h1v1h-1zM91 162h1v1h-1zM128 162h1v1h-1zM173 162h1v1h-1zM178 162h1v2h-1zM199 162h1v1h-1zM202 162h1v1h-1zM206 162h2v1h-2zM210 162h1v1h-1zM94 163h1v1h-1zM96 163h1v1h-1zM130 163h2v1h-2zM146 163h1v1h-1zM203 163h1v1h-1zM214 163h1v1h-1zM220 163h1v1h-1zM225 163h1v1h-1zM99 164h1v1h-1zM123 164h2v2h-2zM173 164h2v1h-2zM177 164h1v2h-1zM201 164h2v1h-2zM218 164h1v1h-1zM223 164h1v1h-1zM96 165h1v1h-1zM118 165h1v1h-1zM120 165h1v1h-1zM150 165h1v1h-1zM175 165h1v1h-1zM202 165h1v2h-1zM204 165h2v1h-2zM217 165h1v1h-1zM220 165h2v1h-2zM224 165h1v1h-1zM98 166h1v1h-1zM125 166h1v1h-1zM159 166h1v1h-1zM172 166h1v1h-1zM92 167h1v1h-1zM94 167h1v1h-1zM99 167h1v1h-1zM114 167h1v1h-1zM126 167h1v1h-1zM136 167h1v1h-1zM186 167h1v1h-1zM188 167h1v1h-1zM227 167h1v1h-1zM98 168h1v1h-1zM159 168h1v1h-1zM177 168h1v1h-1zM187 168h2v1h-2zM204 168h1v1h-1zM76 169h1v1h-1zM91 169h1v1h-1zM104 169h2v1h-2zM129 169h1v2h-1zM182 169h2v1h-2zM211 169h1v2h-1zM215 169h2v1h-2zM230 169h1v1h-1zM75 170h1v1h-1zM95 170h1v1h-1zM152 170h1v1h-1zM158 170h1v1h-1zM186 170h1v1h-1zM206 170h1v1h-1zM208 170h1v1h-1zM118 171h1v1h-1zM128 171h1v1h-1zM192 171h1v1h-1zM219 171h1v1h-1zM227 171h1v1h-1zM229 171h1v1h-1zM117 172h1v1h-1zM142 172h1v1h-1zM166 172h1v1h-1zM227 172h3v1h-3zM98 173h1v1h-1zM138 173h1v2h-1zM140 173h1v1h-1zM160 173h1v1h-1zM162 173h1v1h-1zM164 173h1v2h-1zM189 173h1v2h-1zM210 173h2v1h-2zM223 173h1v1h-1zM231 173h1v1h-1zM76 174h1v1h-1zM78 174h1v1h-1zM103 174h1v1h-1zM109 174h2v1h-2zM117 174h1v1h-1zM135 174h1v1h-1zM141 174h1v1h-1zM158 174h1v1h-1zM182 174h1v1h-1zM184 174h1v1h-1zM186 174h1v1h-1zM213 174h1v1h-1zM221 174h1v1h-1zM230 174h1v1h-1zM98 175h1v1h-1zM122 175h1v1h-1zM165 175h1v1h-1zM196 175h1v1h-1zM216 175h1v1h-1zM102 176h2v1h-2zM107 176h1v1h-1zM109 176h1v1h-1zM135 176h1v1h-1zM160 176h1v1h-1zM191 176h1v2h-1zM198 176h1v1h-1zM209 176h1v1h-1zM229 176h1v2h-1zM99 177h1v1h-1zM111 177h1v1h-1zM136 177h1v2h-1zM146 177h1v1h-1zM164 177h2v1h-2zM168 177h1v1h-1zM188 177h1v1h-1zM193 177h1v1h-1zM216 177h1v2h-1zM219 177h1v1h-1zM162 178h2v1h-2zM199 178h1v1h-1zM103 179h2v1h-2zM106 179h1v1h-1zM110 179h1v1h-1zM147 179h1v1h-1zM188 179h1v1h-1zM200 179h2v1h-2zM214 179h1v1h-1zM217 179h1v1h-1zM124 180h1v1h-1zM126 180h1v1h-1zM200 180h1v1h-1zM203 180h1v1h-1zM104 181h1v1h-1zM148 181h1v1h-1zM109 182h1v2h-1zM115 182h1v1h-1zM130 182h1v1h-1zM138 182h2v1h-2zM147 182h1v1h-1zM169 182h1v2h-1zM174 182h1v1h-1zM191 182h1v1h-1zM199 182h2v1h-2zM113 183h1v1h-1zM131 183h1v1h-1zM138 183h1v1h-1zM140 183h1v1h-1zM195 183h1v1h-1zM219 183h1v1h-1zM115 184h1v1h-1zM130 184h1v1h-1zM150 184h1v1h-1zM174 184h1v1h-1zM200 184h1v1h-1zM109 185h1v1h-1zM112 185h1v1h-1zM114 185h1v1h-1zM124 185h1v1h-1zM144 185h1v1h-1zM147 185h1v2h-1zM113 186h1v1h-1zM133 186h1v1h-1zM167 186h1v1h-1zM170 186h1v1h-1zM174 186h1v1h-1zM197 186h1v1h-1zM200 186h4v1h-4zM110 187h1v1h-1zM115 187h1v1h-1zM124 187h1v1h-1zM128 187h1v1h-1zM146 187h1v1h-1zM148 187h1v1h-1zM154 187h1v2h-1zM168 187h1v1h-1zM199 187h1v1h-1zM222 187h1v1h-1zM224 187h1v1h-1zM142 188h2v1h-2zM149 188h1v1h-1zM156 188h1v1h-1zM167 188h2v1h-2zM177 188h1v1h-1zM179 188h1v1h-1zM196 188h2v1h-2zM212 188h1v1h-1zM124 189h1v1h-1zM135 189h2v1h-2zM148 189h1v1h-1zM155 189h1v1h-1zM173 189h2v1h-2zM210 189h1v1h-1zM224 189h1v1h-1zM126 190h1v1h-1zM149 190h1v1h-1zM151 190h1v1h-1zM157 190h1v1h-1zM224 190h2v1h-2zM228 190h1v1h-1zM115 191h1v1h-1zM118 191h1v1h-1zM121 191h1v1h-1zM135 191h1v1h-1zM148 191h1v1h-1zM156 191h1v1h-1zM176 191h2v1h-2zM182 191h1v1h-1zM210 191h1v1h-1zM227 191h1v1h-1zM139 192h1v1h-1zM142 192h1v1h-1zM145 192h1v1h-1zM147 192h1v1h-1zM171 192h1v1h-1zM220 192h1v1h-1zM118 193h1v1h-1zM121 193h1v1h-1zM137 193h1v2h-1zM148 193h1v2h-1zM177 193h1v1h-1zM216 193h1v1h-1zM226 193h1v1h-1zM231 193h1v1h-1zM98 195h2v1h-2zM119 195h1v1h-1zM127 195h1v1h-1zM136 195h1v1h-1zM183 195h1v1h-1zM121 196h1v1h-1zM139 196h2v1h-2zM142 196h1v1h-1zM151 196h1v1h-1zM161 196h2v1h-2zM175 196h1v1h-1zM188 196h1v2h-1zM127 197h1v1h-1zM137 197h1v1h-1zM150 197h1v1h-1zM159 197h1v2h-1zM186 197h1v1h-1zM207 197h1v1h-1zM123 198h1v1h-1zM176 198h1v1h-1zM220 198h1v1h-1zM103 199h1v1h-1zM142 199h1v2h-1zM162 199h1v1h-1zM178 199h1v1h-1zM182 199h1v2h-1zM187 199h1v1h-1zM217 199h1v1h-1zM121 200h1v1h-1zM127 200h2v1h-2zM139 200h1v1h-1zM152 200h1v1h-1zM155 200h1v1h-1zM160 200h1v1h-1zM179 200h2v1h-2zM184 200h1v1h-1zM186 200h1v4h-1zM140 201h1v1h-1zM154 201h1v1h-1zM156 201h1v1h-1zM164 201h1v1h-1zM179 201h1v1h-1zM214 201h1v1h-1zM122 202h2v1h-2zM129 202h1v1h-1zM139 202h1v1h-1zM158 202h1v1h-1zM160 202h1v1h-1zM162 202h1v1h-1zM164 202h3v1h-3zM216 202h1v1h-1zM218 202h1v1h-1zM221 202h1v1h-1zM152 203h2v1h-2zM163 203h1v1h-1zM180 203h1v1h-1zM208 203h1v1h-1zM210 203h2v1h-2zM228 203h1v1h-1zM102 204h2v1h-2zM143 204h1v1h-1zM165 204h1v2h-1zM168 204h1v1h-1zM103 205h1v1h-1zM106 205h1v1h-1zM108 205h1v1h-1zM121 205h1v1h-1zM221 205h1v1h-1zM224 205h1v1h-1zM227 205h1v1h-1zM103 206h2v1h-2zM107 206h1v1h-1zM162 206h1v2h-1zM170 206h1v1h-1zM223 206h1v1h-1zM133 207h3v1h-3zM197 207h1v1h-1zM109 208h1v1h-1zM125 208h1v1h-1zM130 208h2v1h-2zM133 208h1v1h-1zM148 208h1v1h-1zM170 208h1v1h-1zM203 208h1v1h-1zM150 209h1v1h-1zM158 209h1v1h-1zM176 209h1v1h-1zM149 210h1v1h-1zM162 210h1v1h-1zM173 210h1v2h-1zM189 210h1v1h-1zM191 210h1v1h-1zM203 210h1v2h-1zM134 211h1v1h-1zM169 211h2v1h-2zM218 211h1v1h-1zM153 212h1v1h-1zM158 212h1v1h-1zM160 212h1v1h-1zM188 212h1v1h-1zM133 213h1v1h-1zM137 213h1v1h-1zM154 213h1v2h-1zM174 213h1v1h-1zM219 213h1v1h-1zM163 214h1v1h-1zM179 214h1v1h-1zM201 214h1v1h-1zM153 215h1v1h-1zM169 215h1v2h-1zM151 216h1v1h-1zM155 216h1v1h-1zM157 216h1v1h-1zM175 216h1v1h-1zM177 216h2v1h-2zM193 216h1v1h-1zM202 216h1v1h-1zM220 216h1v1h-1zM156 217h1v1h-1zM165 217h1v1h-1zM179 217h1v1h-1zM199 217h1v1h-1zM138 218h1v1h-1zM164 218h1v1h-1zM202 218h1v1h-1zM211 218h1v1h-1zM222 218h1v1h-1zM155 219h1v1h-1zM171 219h1v1h-1zM177 219h1v1h-1zM183 219h1v1h-1zM213 219h1v1h-1zM225 219h1v2h-1zM161 220h1v1h-1zM163 220h1v1h-1zM165 220h1v2h-1zM192 220h1v1h-1zM198 220h1v1h-1zM216 220h1v1h-1zM174 221h1v1h-1zM202 221h1v1h-1zM205 221h1v1h-1zM227 221h2v1h-2zM187 222h1v1h-1zM218 222h1v1h-1zM228 222h1v1h-1zM164 223h1v1h-1zM173 223h1v1h-1zM206 223h1v1h-1zM229 223h1v1h-1zM165 224h1v1h-1zM187 224h1v1h-1zM189 224h2v1h-2zM205 224h1v1h-1zM227 224h1v1h-1zM163 225h1v1h-1zM190 225h1v1h-1zM219 225h2v1h-2zM193 226h1v1h-1zM167 227h1v1h-1zM171 227h2v1h-2zM191 227h1v1h-1zM205 227h1v1h-1zM221 227h1v1h-1zM224 227h1v1h-1zM145 228h1v1h-1zM147 228h1v1h-1zM149 228h1v1h-1zM172 228h1v1h-1zM190 228h1v1h-1zM203 228h1v1h-1zM221 228h2v1h-2zM231 228h1v1h-1zM148 229h1v1h-1zM151 229h1v1h-1zM171 229h2v1h-2zM176 229h2v1h-2zM223 229h1v1h-1zM169 230h1v1h-1zM174 230h1v1h-1zM173 231h1v1h-1zM193 231h1v1h-1zM228 231h1v1h-1zM266 255h1v1h-1zM266 257h1v1h-1zM255 266h1v1h-1zM257 266h1v1h-1zM285 273h1v1h-1zM287 276h2v1h-2zM291 279h1v1h-1zM294 282h1v1h-1zM273 285h1v1h-1zM297 285h1v1h-1zM298 286h1v1h-1zM276 287h1v2h-1zM300 288h1v1h-1zM279 291h1v1h-1zM303 291h1v1h-1zM304 292h1v1h-1zM305 293h1v1h-1zM282 294h1v1h-1zM285 297h1v1h-1zM309 297h1v1h-1zM286 298h1v1h-1zM288 300h1v1h-1zM291 303h1v1h-1zM292 304h1v1h-1zM293 305h1v1h-1zM297 309h1v1h-1zM359 351h1v1h-1zM366 357h1v1h-1zM351 359h1v1h-1zM368 359h1v1h-1zM357 366h1v1h-1zM359 368h1v1h-1zM386 377h1v1h-1zM389 378h1v1h-1zM388 379h2v1h-2zM391 380h1v1h-1zM394 380h1v1h-1zM389 381h2v1h-2zM394 382h1v1h-1zM392 383h1v1h-1zM394 384h1v1h-1zM395 385h1v2h-1zM377 386h1v1h-1zM397 386h1v2h-1zM379 388h1v1h-1zM378 389h2v1h-2zM381 389h1v2h-1zM380 391h1v1h-1zM383 392h1v1h-1zM380 394h1v1h-1zM382 394h1v1h-1zM384 394h1v1h-1zM402 394h1v1h-1zM385 395h2v1h-2zM386 397h2v1h-2zM394 402h1v1h-1zM430 423h2v1h-2zM423 430h1v2h-1zM446 436h1v1h-1zM446 438h1v1h-1zM448 440h1v1h-1zM450 441h1v1h-1zM452 444h1v1h-1zM436 446h1v1h-1zM438 446h1v1h-1zM454 446h1v1h-1zM440 448h1v1h-1zM441 450h1v1h-1zM457 450h1v1h-1zM444 452h1v1h-1zM446 454h1v1h-1zM462 454h1v1h-1zM450 457h1v1h-1zM467 457h1v1h-1zM471 460h1v1h-1zM471 461h4v1h-4zM454 462h1v1h-1zM473 462h3v1h-3zM474 463h2v1h-2zM475 465h2v1h-2zM476 466h2v1h-2zM457 467h1v1h-1zM479 469h1v1h-1zM480 470h1v1h-1zM460 471h2v1h-2zM461 472h1v1h-1zM461 473h2v1h-2zM461 474h3v1h-3zM462 475h2v1h-2zM465 475h1v1h-1zM483 475h1v1h-1zM465 476h2v1h-2zM466 477h1v1h-1zM469 479h1v1h-1zM470 480h1v1h-1zM492 480h1v1h-1zM493 481h1v1h-1zM494 482h1v1h-1zM475 483h1v1h-1zM496 484h1v1h-1zM497 485h1v1h-1zM480 492h1v1h-1zM481 493h1v1h-1zM482 494h1v1h-1zM484 496h1v1h-1zM485 497h1v1h-1z"/>
</g>
<rect x="1889.1" y="1665.68" width="12.30" height="104.62" fill="#ff0000"/>
<rect x="1889.1" y="1561.67" width="12.30" height="104.62" fill="#ff2100"/>
<rect x="1889.1" y="1457.65" width="12.30" height="104.62" fill="#ff4200"/>
<rect x="1889.1" y="1353.64" width="12.30" height="104.62" fill="#ff6300"/>
<rect x="1889.1" y="1249.62" width="12.30" height="104.62" fill="#ff8400"/>
<rect x="1889.1" y="1145.61" width="12.30" height="104.62" fill="#ffa500"/>
<rect x="1889.1" y="1041.59" width="12.30" height="104.62" fill="#aac47d"/>
<rect x="1889.1" y="937.58" width="12.30" height="104.62" fill="#9ebc84"/>
<rect x="1889.1" y="833.56" width="12.30" height="104.62" fill="#92b48c"/>
<rect x="1889.1" y="729.54" width="12.30" height="104.62" fill="#85ab94"/>
<rect x="1889.1" y="625.53" width="12.30" height="104.62" fill="#79a39b"/>
<rect x="1889.1" y="521.51" width="12.30" height="104.62" fill="#6d9ba2"/>
<rect x="1889.1" y="417.50" width="12.30" height="104.62" fill="#6092aa"/>
<rect x="1889.1" y="313.48" width="12.30" height="104.62" fill="#548ab2"/>
<rect x="1889.1" y="209.47" width="12.30" height="104.62" fill="#4882b9"/>
<rect x="1889.1" y="105.45" width="12.30" height="104.62" fill="#0000ff"/>
<g fill="none" stroke="#000" stroke-width="5.8" stroke-linejoin="round" stroke-linecap="round">
<rect x="1889.1" y="105.75" width="12.30" height="1664.25"/>
<rect x="202.0" y="105.75" width="1664.20" height="1664.25"/>
<path d="M534.51 1770.0V1775.9M534.51 105.75V99.85M202.0 1437.48H196.5M1866.2 1437.48H1872.2"/>
<path d="M868.68 1770.0V1775.9M868.68 105.75V99.85M202.0 1103.30H196.5M1866.2 1103.30H1872.2"/>
<path d="M1202.86 1770.0V1775.9M1202.86 105.75V99.85M202.0 769.11H196.5M1866.2 769.11H1872.2"/>
<path d="M1537.04 1770.0V1775.9M1537.04 105.75V99.85M202.0 434.92H196.5M1866.2 434.92H1872.2"/>
<path d="M1901.4 1424.60H1905.9" stroke-width="5"/>
<path d="M1901.4 1018.90H1905.9" stroke-width="5"/>
<path d="M1901.4 613.20H1905.9" stroke-width="5"/>
<path d="M1901.4 207.50H1905.9" stroke-width="5"/>
</g>
<text transform="translate(534.91 1825.3) scale(1 1.04)" font-size="60" text-anchor="middle">100</text>
<text transform="translate(191.5 1459.78) scale(1 1.04)" font-size="60" text-anchor="end">100</text>
<text transform="translate(869.08 1825.3) scale(1 1.04)" font-size="60" text-anchor="middle">200</text>
<text transform="translate(191.5 1125.60) scale(1 1.04)" font-size="60" text-anchor="end">200</text>
<text transform="translate(1203.26 1825.3) scale(1 1.04)" font-size="60" text-anchor="middle">300</text>
<text transform="translate(191.5 791.41) scale(1 1.04)" font-size="60" text-anchor="end">300</text>
<text transform="translate(1537.44 1825.3) scale(1 1.04)" font-size="60" text-anchor="middle">400</text>
<text transform="translate(191.5 457.22) scale(1 1.04)" font-size="60" text-anchor="end">400</text>
<text transform="translate(1909.5 1442.90) scale(1 1.04)" font-size="48">5</text>
<text transform="translate(1909.5 1037.20) scale(1 1.04)" font-size="48">10</text>
<text transform="translate(1909.5 631.50) scale(1 1.04)" font-size="48">15</text>
<text transform="translate(1909.5 225.80) scale(1 1.04)" font-size="48">20</text>
<text transform="translate(1034.4 1880.9) scale(1 1.03)" font-size="60" text-anchor="middle">Residue index</text>
<text transform="translate(80.2 937.0) rotate(-90) scale(1 1.03)" font-size="59.7" text-anchor="middle">Residue index</text>
</svg></body></html>
